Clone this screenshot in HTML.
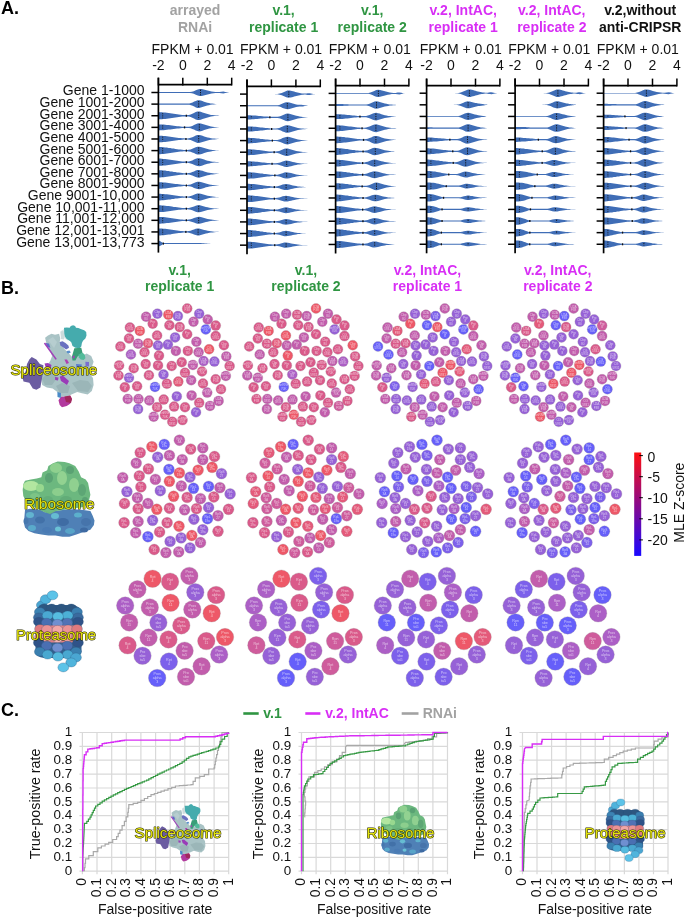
<!DOCTYPE html>
<html><head><meta charset="utf-8"><title>Figure</title><style>
html,body{margin:0;padding:0;background:#fff;}
svg{display:block;will-change:transform;}
text{font-family:"Liberation Sans",sans-serif;}
.lbl{font-size:18px;font-weight:bold;fill:#000;}
.hb{font-size:14px;font-weight:bold;}
.t14{font-size:14px;fill:#111;}
.t13{font-size:13.4px;fill:#111;}
.cg circle{stroke:#9a8a96;stroke-opacity:0.55;stroke-width:0.5;}
.cg text{fill:#fff;fill-opacity:0.62;text-anchor:middle;}
.ptxt{font-size:14.5px;fill:#e4e40c;stroke:#2a2a00;stroke-width:1.1px;paint-order:stroke;stroke-linejoin:round;}
</style></head>
<body><svg width="685" height="918" viewBox="0 0 685 918">
<rect width="685" height="918" fill="#fff"/>
<text x="1" y="13.7" class="lbl">A.</text>
<text x="195.1" y="15" class="hb" fill="#a2a2a2" text-anchor="middle">arrayed</text>
<text x="195.1" y="32" class="hb" fill="#a2a2a2" text-anchor="middle">RNAi</text>
<text x="192.6" y="54.2" class="t14" text-anchor="middle">FPKM + 0.01</text>
<text x="158.4" y="70.3" class="t14" text-anchor="middle">-2</text>
<text x="182.8" y="70.3" class="t14" text-anchor="middle">0</text>
<text x="207.3" y="70.3" class="t14" text-anchor="middle">2</text>
<text x="231.7" y="70.3" class="t14" text-anchor="middle">4</text>
<text x="283.6" y="15" class="hb" fill="#2f9542" text-anchor="middle">v.1,</text>
<text x="283.6" y="32" class="hb" fill="#2f9542" text-anchor="middle">replicate 1</text>
<text x="281.1" y="54.2" class="t14" text-anchor="middle">FPKM + 0.01</text>
<text x="247.0" y="70.3" class="t14" text-anchor="middle">-2</text>
<text x="271.4" y="70.3" class="t14" text-anchor="middle">0</text>
<text x="295.9" y="70.3" class="t14" text-anchor="middle">2</text>
<text x="320.3" y="70.3" class="t14" text-anchor="middle">4</text>
<text x="372.2" y="15" class="hb" fill="#2f9542" text-anchor="middle">v.1,</text>
<text x="372.2" y="32" class="hb" fill="#2f9542" text-anchor="middle">replicate 2</text>
<text x="369.8" y="54.2" class="t14" text-anchor="middle">FPKM + 0.01</text>
<text x="335.6" y="70.3" class="t14" text-anchor="middle">-2</text>
<text x="360.0" y="70.3" class="t14" text-anchor="middle">0</text>
<text x="384.5" y="70.3" class="t14" text-anchor="middle">2</text>
<text x="408.9" y="70.3" class="t14" text-anchor="middle">4</text>
<text x="463.2" y="15" class="hb" fill="#d82ef5" text-anchor="middle">v.2, IntAC,</text>
<text x="463.2" y="32" class="hb" fill="#d82ef5" text-anchor="middle">replicate 1</text>
<text x="460.8" y="54.2" class="t14" text-anchor="middle">FPKM + 0.01</text>
<text x="426.6" y="70.3" class="t14" text-anchor="middle">-2</text>
<text x="451.0" y="70.3" class="t14" text-anchor="middle">0</text>
<text x="475.5" y="70.3" class="t14" text-anchor="middle">2</text>
<text x="499.9" y="70.3" class="t14" text-anchor="middle">4</text>
<text x="551.8" y="15" class="hb" fill="#d82ef5" text-anchor="middle">v.2, IntAC,</text>
<text x="551.8" y="32" class="hb" fill="#d82ef5" text-anchor="middle">replicate 2</text>
<text x="549.2" y="54.2" class="t14" text-anchor="middle">FPKM + 0.01</text>
<text x="515.1" y="70.3" class="t14" text-anchor="middle">-2</text>
<text x="539.5" y="70.3" class="t14" text-anchor="middle">0</text>
<text x="564.0" y="70.3" class="t14" text-anchor="middle">2</text>
<text x="588.4" y="70.3" class="t14" text-anchor="middle">4</text>
<text x="640.2" y="15" class="hb" fill="#111" text-anchor="middle">v.2,without</text>
<text x="640.2" y="32" class="hb" fill="#111" text-anchor="middle">anti-CRIPSR</text>
<text x="637.8" y="54.2" class="t14" text-anchor="middle">FPKM + 0.01</text>
<text x="603.6" y="70.3" class="t14" text-anchor="middle">-2</text>
<text x="628.0" y="70.3" class="t14" text-anchor="middle">0</text>
<text x="652.5" y="70.3" class="t14" text-anchor="middle">2</text>
<text x="676.9" y="70.3" class="t14" text-anchor="middle">4</text>
<path d="M158.4,92.0 160.4,92.0 162.3,92.0 164.3,92.0 166.3,92.0 168.2,92.0 170.2,92.0 172.2,92.0 174.1,92.0 176.1,92.0 178.1,92.0 180.1,92.0 182.0,92.0 184.0,92.0 186.0,92.0 187.9,92.0 189.9,92.0 191.9,91.8 193.8,91.2 195.8,90.3 197.8,89.5 199.7,89.0 201.7,89.0 203.7,89.4 205.6,90.0 207.6,90.5 209.6,91.0 211.5,91.4 213.5,91.8 215.5,92.0 217.4,92.1 219.4,92.1 221.4,91.7 223.4,91.4 225.3,91.9 227.3,92.3 229.3,92.5 229.3,92.5 227.3,92.7 225.3,93.1 223.4,93.6 221.4,93.3 219.4,92.9 217.4,92.9 215.5,93.0 213.5,93.2 211.5,93.6 209.6,94.0 207.6,94.5 205.6,95.0 203.7,95.6 201.7,96.0 199.7,96.0 197.8,95.5 195.8,94.7 193.8,93.8 191.9,93.2 189.9,93.0 187.9,93.0 186.0,93.0 184.0,93.0 182.0,93.0 180.1,93.0 178.1,93.0 176.1,93.0 174.1,93.0 172.2,93.0 170.2,93.0 168.2,93.0 166.3,93.0 164.3,93.0 162.3,93.0 160.4,93.0 158.4,93.0Z" fill="#3f6db6"/>
<line x1="200.5" y1="89.7" x2="200.5" y2="95.3" stroke="#111" stroke-width="0.9" stroke-dasharray="1.3,1"/>
<path d="M158.4,103.5 160.0,103.5 161.7,103.5 163.3,103.5 164.9,103.5 166.5,103.5 168.2,103.5 169.8,103.5 171.4,103.5 173.1,103.5 174.7,103.5 176.3,103.5 177.9,103.5 179.6,103.5 181.2,103.5 182.8,103.5 184.5,103.5 186.1,103.5 187.7,103.5 189.3,103.5 191.0,103.1 192.6,102.4 194.2,101.6 195.9,100.9 197.5,100.3 199.1,100.2 200.8,100.6 202.4,101.1 204.0,101.7 205.6,102.2 207.3,102.7 208.9,103.1 210.5,103.4 212.2,103.6 213.8,103.8 215.4,103.9 217.0,104.1 217.0,104.1 215.4,104.3 213.8,104.4 212.2,104.6 210.5,104.8 208.9,105.2 207.3,105.6 205.6,106.0 204.0,106.6 202.4,107.1 200.8,107.6 199.1,108.0 197.5,107.9 195.9,107.4 194.2,106.6 192.6,105.8 191.0,105.2 189.3,104.7 187.7,104.7 186.1,104.7 184.5,104.7 182.8,104.7 181.2,104.7 179.6,104.7 177.9,104.7 176.3,104.7 174.7,104.7 173.1,104.7 171.4,104.7 169.8,104.7 168.2,104.7 166.5,104.7 164.9,104.7 163.3,104.7 161.7,104.7 160.0,104.7 158.4,104.7Z" fill="#3f6db6"/>
<line x1="198.7" y1="101.0" x2="198.7" y2="107.2" stroke="#111" stroke-width="0.9" stroke-dasharray="1.3,1"/>
<path d="M158.4,112.1 160.1,112.2 161.8,112.2 163.5,112.4 165.2,112.5 166.9,112.8 168.6,113.0 170.3,113.3 172.0,113.5 173.7,113.8 175.4,114.0 177.1,114.3 178.8,114.5 180.5,114.7 182.2,114.9 183.9,115.0 185.5,115.1 187.2,115.1 188.9,114.9 190.6,114.5 192.3,113.8 194.0,113.0 195.7,112.1 197.4,111.5 199.1,111.4 200.8,111.8 202.5,112.4 204.2,113.0 205.9,113.5 207.6,114.1 209.3,114.5 211.0,114.9 212.7,115.1 214.4,115.3 216.1,115.5 217.8,115.6 219.5,115.7 219.5,115.7 217.8,115.9 216.1,116.0 214.4,116.1 212.7,116.3 211.0,116.6 209.3,117.0 207.6,117.4 205.9,117.9 204.2,118.5 202.5,119.1 200.8,119.7 199.1,120.1 197.4,120.0 195.7,119.4 194.0,118.5 192.3,117.7 190.6,117.0 188.9,116.6 187.2,116.4 185.5,116.4 183.9,116.4 182.2,116.6 180.5,116.8 178.8,117.0 177.1,117.2 175.4,117.4 173.7,117.7 172.0,118.0 170.3,118.2 168.6,118.5 166.9,118.7 165.2,118.9 163.5,119.1 161.8,119.2 160.1,119.3 158.4,119.3Z" fill="#3f6db6"/>
<line x1="198.7" y1="112.2" x2="198.7" y2="119.3" stroke="#111" stroke-width="0.9" stroke-dasharray="1.3,1"/>
<line x1="162.7" y1="113.1" x2="162.7" y2="118.4" stroke="#111" stroke-width="0.8" stroke-dasharray="1.2,1"/>
<rect x="185.7" y="114.7" width="1.3" height="2" fill="#111"/>
<path d="M158.4,124.4 160.1,124.4 161.8,124.4 163.5,124.6 165.2,124.7 166.9,124.9 168.6,125.1 170.3,125.3 172.0,125.5 173.7,125.7 175.4,125.9 177.1,126.2 178.8,126.3 180.5,126.5 182.2,126.7 183.9,126.8 185.5,126.8 187.2,126.8 188.9,126.7 190.6,126.4 192.3,125.9 194.0,125.1 195.7,124.3 197.4,123.6 199.1,123.3 200.8,123.5 202.5,124.0 204.2,124.6 205.9,125.1 207.6,125.6 209.3,126.1 211.0,126.4 212.7,126.7 214.4,126.9 216.1,127.1 217.8,127.2 219.5,127.4 219.5,127.4 217.8,127.5 216.1,127.6 214.4,127.8 212.7,128.0 211.0,128.3 209.3,128.6 207.6,129.1 205.9,129.6 204.2,130.1 202.5,130.7 200.8,131.2 199.1,131.4 197.4,131.1 195.7,130.4 194.0,129.6 192.3,128.9 190.6,128.3 188.9,128.0 187.2,127.9 185.5,127.9 183.9,127.9 182.2,128.1 180.5,128.2 178.8,128.4 177.1,128.6 175.4,128.8 173.7,129.0 172.0,129.2 170.3,129.4 168.6,129.6 166.9,129.8 165.2,130.0 163.5,130.2 161.8,130.3 160.1,130.3 158.4,130.4Z" fill="#3f6db6"/>
<line x1="199.3" y1="124.1" x2="199.3" y2="130.6" stroke="#111" stroke-width="0.9" stroke-dasharray="1.3,1"/>
<line x1="162.7" y1="125.3" x2="162.7" y2="129.4" stroke="#111" stroke-width="0.8" stroke-dasharray="1.2,1"/>
<rect x="183.9" y="126.4" width="1.3" height="2" fill="#111"/>
<path d="M158.4,135.7 160.1,135.7 161.8,135.8 163.5,135.9 165.2,136.1 166.9,136.2 168.6,136.5 170.3,136.7 172.0,136.9 173.7,137.2 175.4,137.4 177.1,137.7 178.8,137.9 180.5,138.1 182.2,138.2 183.9,138.3 185.5,138.4 187.2,138.4 188.9,138.2 190.6,137.8 192.3,137.2 194.0,136.4 195.7,135.6 197.4,135.1 199.1,135.0 200.8,135.3 202.5,135.8 204.2,136.4 205.9,136.9 207.6,137.4 209.3,137.8 211.0,138.2 212.7,138.4 214.4,138.6 216.1,138.7 217.8,138.8 219.5,139.0 219.5,139.0 217.8,139.1 216.1,139.2 214.4,139.4 212.7,139.5 211.0,139.8 209.3,140.1 207.6,140.5 205.9,141.0 204.2,141.6 202.5,142.1 200.8,142.6 199.1,143.0 197.4,142.9 195.7,142.3 194.0,141.6 192.3,140.8 190.6,140.1 188.9,139.7 187.2,139.6 185.5,139.5 183.9,139.6 182.2,139.7 180.5,139.9 178.8,140.1 177.1,140.3 175.4,140.5 173.7,140.8 172.0,141.0 170.3,141.3 168.6,141.5 166.9,141.7 165.2,141.9 163.5,142.1 161.8,142.2 160.1,142.3 158.4,142.3Z" fill="#3f6db6"/>
<line x1="198.7" y1="135.7" x2="198.7" y2="142.2" stroke="#111" stroke-width="0.9" stroke-dasharray="1.3,1"/>
<line x1="162.7" y1="136.6" x2="162.7" y2="141.3" stroke="#111" stroke-width="0.8" stroke-dasharray="1.2,1"/>
<rect x="185.3" y="138.0" width="1.3" height="2" fill="#111"/>
<path d="M158.4,147.0 160.1,147.0 161.8,147.1 163.5,147.2 165.2,147.4 166.9,147.6 168.6,147.9 170.3,148.1 172.0,148.4 173.7,148.6 175.4,148.9 177.1,149.2 178.8,149.4 180.5,149.6 182.2,149.8 183.9,149.9 185.5,150.0 187.2,150.0 188.9,149.8 190.6,149.4 192.3,148.8 194.0,148.1 195.7,147.3 197.4,146.8 199.1,146.7 200.8,147.0 202.5,147.5 204.2,148.1 205.9,148.6 207.6,149.1 209.3,149.5 211.0,149.8 212.7,150.1 214.4,150.2 216.1,150.4 217.8,150.4 219.5,150.6 219.5,150.6 217.8,150.8 216.1,150.8 214.4,151.0 212.7,151.1 211.0,151.4 209.3,151.7 207.6,152.1 205.9,152.6 204.2,153.1 202.5,153.7 200.8,154.2 199.1,154.5 197.4,154.4 195.7,153.9 194.0,153.1 192.3,152.4 190.6,151.8 188.9,151.4 187.2,151.2 185.5,151.2 183.9,151.3 182.2,151.4 180.5,151.6 178.8,151.8 177.1,152.0 175.4,152.3 173.7,152.6 172.0,152.8 170.3,153.1 168.6,153.3 166.9,153.6 165.2,153.8 163.5,154.0 161.8,154.1 160.1,154.2 158.4,154.2Z" fill="#3f6db6"/>
<line x1="198.7" y1="147.4" x2="198.7" y2="153.8" stroke="#111" stroke-width="0.9" stroke-dasharray="1.3,1"/>
<line x1="162.7" y1="148.0" x2="162.7" y2="153.2" stroke="#111" stroke-width="0.8" stroke-dasharray="1.2,1"/>
<rect x="185.7" y="149.6" width="1.3" height="2" fill="#111"/>
<path d="M158.4,158.6 160.1,158.6 161.8,158.7 163.5,158.9 165.2,159.0 166.9,159.2 168.6,159.5 170.3,159.7 172.0,160.0 173.7,160.3 175.4,160.5 177.1,160.8 178.8,161.0 180.5,161.2 182.2,161.4 183.9,161.5 185.5,161.6 187.2,161.6 188.9,161.4 190.6,161.0 192.3,160.4 194.0,159.6 195.7,158.8 197.4,158.3 199.1,158.2 200.8,158.6 202.5,159.1 204.2,159.6 205.9,160.2 207.6,160.7 209.3,161.1 211.0,161.4 212.7,161.7 214.4,161.8 216.1,162.0 217.8,162.1 219.5,162.2 219.5,162.2 217.8,162.4 216.1,162.5 214.4,162.6 212.7,162.8 211.0,163.0 209.3,163.4 207.6,163.8 205.9,164.3 204.2,164.8 202.5,165.4 200.8,165.9 199.1,166.2 197.4,166.1 195.7,165.6 194.0,164.8 192.3,164.0 190.6,163.4 188.9,163.0 187.2,162.8 185.5,162.8 183.9,162.9 182.2,163.1 180.5,163.2 178.8,163.4 177.1,163.7 175.4,163.9 173.7,164.2 172.0,164.4 170.3,164.7 168.6,165.0 166.9,165.2 165.2,165.4 163.5,165.6 161.8,165.7 160.1,165.8 158.4,165.8Z" fill="#3f6db6"/>
<line x1="198.7" y1="159.0" x2="198.7" y2="165.5" stroke="#111" stroke-width="0.9" stroke-dasharray="1.3,1"/>
<line x1="162.7" y1="159.6" x2="162.7" y2="164.9" stroke="#111" stroke-width="0.8" stroke-dasharray="1.2,1"/>
<rect x="185.7" y="161.2" width="1.3" height="2" fill="#111"/>
<path d="M158.4,170.2 160.1,170.3 161.8,170.3 163.5,170.5 165.2,170.6 166.9,170.9 168.6,171.1 170.3,171.4 172.0,171.6 173.7,171.9 175.4,172.1 177.1,172.4 178.8,172.6 180.5,172.8 182.2,173.0 183.9,173.2 185.5,173.2 187.2,173.2 188.9,173.1 190.6,172.7 192.3,172.1 194.0,171.4 195.7,170.6 197.4,170.1 199.1,170.0 200.8,170.4 202.5,170.8 204.2,171.4 205.9,171.9 207.6,172.4 209.3,172.8 211.0,173.1 212.7,173.3 214.4,173.5 216.1,173.6 217.8,173.7 219.5,173.8 219.5,173.8 217.8,174.0 216.1,174.1 214.4,174.2 212.7,174.4 211.0,174.6 209.3,174.9 207.6,175.3 205.9,175.8 204.2,176.3 202.5,176.8 200.8,177.3 199.1,177.7 197.4,177.6 195.7,177.1 194.0,176.3 192.3,175.6 190.6,175.0 188.9,174.6 187.2,174.5 185.5,174.4 183.9,174.5 182.2,174.7 180.5,174.8 178.8,175.1 177.1,175.3 175.4,175.5 173.7,175.8 172.0,176.1 170.3,176.3 168.6,176.6 166.9,176.8 165.2,177.0 163.5,177.2 161.8,177.3 160.1,177.4 158.4,177.4Z" fill="#3f6db6"/>
<line x1="198.7" y1="170.8" x2="198.7" y2="176.9" stroke="#111" stroke-width="0.9" stroke-dasharray="1.3,1"/>
<line x1="162.7" y1="171.2" x2="162.7" y2="176.5" stroke="#111" stroke-width="0.8" stroke-dasharray="1.2,1"/>
<rect x="185.7" y="172.8" width="1.3" height="2" fill="#111"/>
<path d="M158.4,182.2 160.1,182.2 161.8,182.3 163.5,182.4 165.2,182.5 166.9,182.7 168.6,182.9 170.3,183.2 172.0,183.4 173.7,183.7 175.4,183.9 177.1,184.1 178.8,184.3 180.5,184.5 182.2,184.7 183.9,184.8 185.5,184.9 187.2,184.9 188.9,184.7 190.6,184.4 192.3,183.8 194.0,183.1 195.7,182.3 197.4,181.8 199.1,181.7 200.8,182.1 202.5,182.5 204.2,183.1 205.9,183.6 207.6,184.0 209.3,184.4 211.0,184.7 212.7,184.9 214.4,185.1 216.1,185.2 217.8,185.3 219.5,185.5 219.5,185.5 217.8,185.6 216.1,185.7 214.4,185.8 212.7,186.0 211.0,186.2 209.3,186.5 207.6,186.9 205.9,187.3 204.2,187.9 202.5,188.4 200.8,188.9 199.1,189.2 197.4,189.1 195.7,188.6 194.0,187.9 192.3,187.1 190.6,186.5 188.9,186.2 187.2,186.0 185.5,186.0 183.9,186.1 182.2,186.2 180.5,186.4 178.8,186.6 177.1,186.8 175.4,187.0 173.7,187.3 172.0,187.5 170.3,187.7 168.6,188.0 166.9,188.2 165.2,188.4 163.5,188.5 161.8,188.7 160.1,188.7 158.4,188.8Z" fill="#3f6db6"/>
<line x1="198.7" y1="182.5" x2="198.7" y2="188.4" stroke="#111" stroke-width="0.9" stroke-dasharray="1.3,1"/>
<line x1="162.7" y1="183.1" x2="162.7" y2="187.8" stroke="#111" stroke-width="0.8" stroke-dasharray="1.2,1"/>
<rect x="185.7" y="184.5" width="1.3" height="2" fill="#111"/>
<path d="M158.4,193.8 160.1,193.8 161.8,193.9 163.5,194.0 165.2,194.2 166.9,194.3 168.6,194.6 170.3,194.8 172.0,195.0 173.7,195.3 175.4,195.5 177.1,195.8 178.8,196.0 180.5,196.2 182.2,196.3 183.9,196.4 185.5,196.5 187.2,196.5 188.9,196.4 190.6,196.0 192.3,195.5 194.0,194.7 195.7,194.0 197.4,193.5 199.1,193.5 200.8,193.8 202.5,194.2 204.2,194.8 205.9,195.2 207.6,195.7 209.3,196.1 211.0,196.3 212.7,196.6 214.4,196.7 216.1,196.9 217.8,196.9 219.5,197.1 219.5,197.1 217.8,197.2 216.1,197.3 214.4,197.4 212.7,197.6 211.0,197.8 209.3,198.1 207.6,198.5 205.9,198.9 204.2,199.4 202.5,199.9 200.8,200.4 199.1,200.7 197.4,200.6 195.7,200.1 194.0,199.4 192.3,198.7 190.6,198.1 188.9,197.8 187.2,197.6 185.5,197.6 183.9,197.7 182.2,197.8 180.5,198.0 178.8,198.2 177.1,198.4 175.4,198.6 173.7,198.9 172.0,199.1 170.3,199.4 168.6,199.6 166.9,199.8 165.2,200.0 163.5,200.2 161.8,200.3 160.1,200.4 158.4,200.4Z" fill="#3f6db6"/>
<line x1="198.7" y1="194.2" x2="198.7" y2="199.9" stroke="#111" stroke-width="0.9" stroke-dasharray="1.3,1"/>
<line x1="162.7" y1="194.7" x2="162.7" y2="199.4" stroke="#111" stroke-width="0.8" stroke-dasharray="1.2,1"/>
<rect x="185.7" y="196.1" width="1.3" height="2" fill="#111"/>
<path d="M158.4,205.3 160.1,205.3 161.8,205.4 163.5,205.5 165.2,205.7 166.9,205.9 168.6,206.1 170.3,206.3 172.0,206.6 173.7,206.9 175.4,207.1 177.1,207.3 178.8,207.6 180.5,207.7 182.2,207.9 183.9,208.0 185.5,208.1 187.2,208.1 188.9,208.0 190.6,207.6 192.3,207.1 194.0,206.4 195.7,205.7 197.4,205.2 199.1,205.1 200.8,205.4 202.5,205.9 204.2,206.4 205.9,206.9 207.6,207.3 209.3,207.7 211.0,208.0 212.7,208.2 214.4,208.4 216.1,208.5 217.8,208.6 219.5,208.7 219.5,208.7 217.8,208.8 216.1,208.9 214.4,209.0 212.7,209.2 211.0,209.4 209.3,209.7 207.6,210.1 205.9,210.5 204.2,211.0 202.5,211.5 200.8,212.0 199.1,212.3 197.4,212.2 195.7,211.7 194.0,211.0 192.3,210.3 190.6,209.8 188.9,209.4 187.2,209.3 185.5,209.3 183.9,209.4 182.2,209.5 180.5,209.7 178.8,209.8 177.1,210.1 175.4,210.3 173.7,210.5 172.0,210.8 170.3,211.1 168.6,211.3 166.9,211.5 165.2,211.7 163.5,211.9 161.8,212.0 160.1,212.1 158.4,212.1Z" fill="#3f6db6"/>
<line x1="198.7" y1="205.9" x2="198.7" y2="211.5" stroke="#111" stroke-width="0.9" stroke-dasharray="1.3,1"/>
<line x1="162.7" y1="206.3" x2="162.7" y2="211.1" stroke="#111" stroke-width="0.8" stroke-dasharray="1.2,1"/>
<rect x="185.7" y="207.7" width="1.3" height="2" fill="#111"/>
<path d="M158.4,216.9 160.1,216.9 161.8,217.0 163.5,217.1 165.2,217.3 166.9,217.5 168.6,217.7 170.3,218.0 172.0,218.2 173.7,218.5 175.4,218.7 177.1,219.0 178.8,219.2 180.5,219.4 182.2,219.5 183.9,219.7 185.5,219.8 187.2,219.7 188.9,219.6 190.6,219.3 192.3,218.7 194.0,218.0 195.7,217.4 197.4,216.9 199.1,216.8 200.8,217.1 202.5,217.6 204.2,218.1 205.9,218.5 207.6,219.0 209.3,219.3 211.0,219.6 212.7,219.8 214.4,220.0 216.1,220.1 217.8,220.2 219.5,220.3 219.5,220.3 217.8,220.5 216.1,220.5 214.4,220.7 212.7,220.8 211.0,221.0 209.3,221.3 207.6,221.7 205.9,222.1 204.2,222.6 202.5,223.1 200.8,223.5 199.1,223.8 197.4,223.8 195.7,223.3 194.0,222.6 192.3,221.9 190.6,221.4 188.9,221.0 187.2,220.9 185.5,220.9 183.9,221.0 182.2,221.1 180.5,221.3 178.8,221.5 177.1,221.7 175.4,221.9 173.7,222.2 172.0,222.4 170.3,222.7 168.6,222.9 166.9,223.1 165.2,223.3 163.5,223.5 161.8,223.6 160.1,223.7 158.4,223.7Z" fill="#3f6db6"/>
<line x1="198.7" y1="217.6" x2="198.7" y2="223.1" stroke="#111" stroke-width="0.9" stroke-dasharray="1.3,1"/>
<line x1="162.7" y1="217.9" x2="162.7" y2="222.8" stroke="#111" stroke-width="0.8" stroke-dasharray="1.2,1"/>
<rect x="185.7" y="219.3" width="1.3" height="2" fill="#111"/>
<path d="M158.4,228.4 160.1,228.5 161.8,228.5 163.5,228.7 165.2,228.8 166.9,229.0 168.6,229.3 170.3,229.5 172.0,229.8 173.7,230.0 175.4,230.3 177.1,230.5 178.8,230.8 180.5,231.0 182.2,231.1 183.9,231.3 185.5,231.3 187.2,231.3 188.9,231.1 190.6,230.7 192.3,230.1 194.0,229.4 195.7,228.8 197.4,228.4 199.1,228.5 200.8,228.9 202.5,229.4 204.2,229.9 205.9,230.3 207.6,230.7 209.3,231.1 211.0,231.3 212.7,231.5 214.4,231.7 216.1,231.8 217.8,231.8 219.5,231.9 219.5,231.9 217.8,232.1 216.1,232.1 214.4,232.2 212.7,232.4 211.0,232.6 209.3,232.8 207.6,233.2 205.9,233.6 204.2,234.0 202.5,234.5 200.8,235.0 199.1,235.4 197.4,235.5 195.7,235.1 194.0,234.5 192.3,233.8 190.6,233.2 188.9,232.8 187.2,232.6 185.5,232.6 183.9,232.6 182.2,232.8 180.5,232.9 178.8,233.1 177.1,233.3 175.4,233.6 173.7,233.8 172.0,234.1 170.3,234.4 168.6,234.6 166.9,234.8 165.2,235.0 163.5,235.2 161.8,235.3 160.1,235.4 158.4,235.4Z" fill="#3f6db6"/>
<line x1="198.1" y1="229.2" x2="198.1" y2="234.7" stroke="#111" stroke-width="0.9" stroke-dasharray="1.3,1"/>
<line x1="162.7" y1="229.4" x2="162.7" y2="234.5" stroke="#111" stroke-width="0.8" stroke-dasharray="1.2,1"/>
<rect x="185.2" y="230.9" width="1.3" height="2" fill="#111"/>
<path d="M158.4,240.6 159.9,241.0 161.3,242.0 162.8,242.8 164.2,243.1 165.7,243.1 167.2,243.1 168.6,243.1 170.1,243.1 171.5,243.1 173.0,243.1 174.5,243.1 175.9,243.1 177.4,243.1 178.8,243.1 180.3,243.1 181.7,243.1 183.2,243.1 184.7,243.1 186.1,243.1 187.6,243.1 189.0,243.1 190.5,243.1 192.0,243.1 193.4,243.1 194.9,243.1 196.3,243.1 197.8,243.1 199.3,243.1 200.7,243.1 202.2,243.2 203.6,243.2 205.1,243.3 206.6,243.3 208.0,243.4 209.5,243.4 210.9,243.6 210.9,243.6 209.5,243.7 208.0,243.7 206.6,243.8 205.1,243.8 203.6,243.9 202.2,244.0 200.7,244.0 199.3,244.1 197.8,244.1 196.3,244.1 194.9,244.1 193.4,244.1 192.0,244.1 190.5,244.1 189.0,244.1 187.6,244.1 186.1,244.1 184.7,244.1 183.2,244.1 181.7,244.1 180.3,244.1 178.8,244.1 177.4,244.1 175.9,244.1 174.5,244.1 173.0,244.1 171.5,244.1 170.1,244.1 168.6,244.1 167.2,244.1 165.7,244.1 164.2,244.1 162.8,244.3 161.3,245.2 159.9,246.1 158.4,246.6Z" fill="#3f6db6"/>
<line x1="162.7" y1="243.6" x2="162.7" y2="243.5" stroke="#111" stroke-width="0.8" stroke-dasharray="1.2,1"/>
<rect x="162.7" y="242.6" width="1.3" height="2" fill="#111"/>
<path d="M275.1,94.0 276.2,94.0 277.3,93.9 278.5,93.8 279.6,93.5 280.7,93.3 281.8,92.9 282.9,92.4 284.1,91.9 285.2,91.4 286.3,91.0 287.4,90.6 288.5,90.5 289.7,90.6 290.8,90.8 291.9,91.0 293.0,91.3 294.1,91.6 295.3,92.0 296.4,92.3 297.5,92.5 298.6,92.8 299.7,93.0 300.9,93.2 302.0,93.4 303.1,93.5 304.2,93.6 305.3,93.6 306.5,93.5 307.6,93.3 308.7,93.2 309.8,93.2 310.9,93.4 312.1,93.7 313.2,93.9 314.3,94.0 315.4,94.1 315.4,94.1 314.3,94.2 313.2,94.3 312.1,94.5 310.9,94.8 309.8,95.0 308.7,95.0 307.6,94.9 306.5,94.7 305.3,94.6 304.2,94.6 303.1,94.7 302.0,94.8 300.9,95.0 299.7,95.2 298.6,95.4 297.5,95.7 296.4,95.9 295.3,96.2 294.1,96.6 293.0,96.9 291.9,97.2 290.8,97.4 289.7,97.6 288.5,97.7 287.4,97.6 286.3,97.2 285.2,96.8 284.1,96.3 282.9,95.8 281.8,95.3 280.7,94.9 279.6,94.7 278.5,94.4 277.3,94.3 276.2,94.2 275.1,94.2Z" fill="#3f6db6"/>
<line x1="288.8" y1="91.3" x2="288.8" y2="96.9" stroke="#111" stroke-width="0.9" stroke-dasharray="1.3,1"/>
<path d="M247.0,105.3 248.7,105.3 250.4,105.3 252.1,105.3 253.8,105.3 255.5,105.3 257.2,105.3 258.9,105.3 260.6,105.3 262.3,105.3 264.0,105.3 265.7,105.3 267.4,105.3 269.1,105.3 270.8,105.3 272.5,105.3 274.1,105.3 275.8,105.3 277.5,105.3 279.2,104.9 280.9,104.3 282.6,103.6 284.3,102.8 286.0,102.3 287.7,102.2 289.4,102.5 291.1,103.0 292.8,103.5 294.5,103.9 296.2,104.4 297.9,104.7 299.6,104.8 301.3,104.8 303.0,105.0 304.7,105.3 306.4,105.5 308.1,105.7 308.1,105.7 306.4,105.9 304.7,106.1 303.0,106.4 301.3,106.6 299.6,106.6 297.9,106.8 296.2,107.1 294.5,107.5 292.8,108.0 291.1,108.5 289.4,108.9 287.7,109.2 286.0,109.1 284.3,108.6 282.6,107.9 280.9,107.1 279.2,106.5 277.5,106.2 275.8,106.2 274.1,106.2 272.5,106.2 270.8,106.2 269.1,106.2 267.4,106.2 265.7,106.2 264.0,106.2 262.3,106.2 260.6,106.2 258.9,106.2 257.2,106.2 255.5,106.2 253.8,106.2 252.1,106.2 250.4,106.2 248.7,106.2 247.0,106.2Z" fill="#3f6db6"/>
<line x1="287.3" y1="103.0" x2="287.3" y2="108.4" stroke="#111" stroke-width="0.9" stroke-dasharray="1.3,1"/>
<path d="M247.0,115.2 248.7,115.3 250.4,115.3 252.1,115.4 253.8,115.5 255.5,115.6 257.2,115.7 258.9,115.9 260.6,116.0 262.3,116.2 264.0,116.4 265.7,116.5 267.4,116.6 269.1,116.8 270.8,116.8 272.5,116.8 274.1,116.8 275.8,116.8 277.5,116.8 279.2,116.5 280.9,115.9 282.6,115.2 284.3,114.4 286.0,113.8 287.7,113.5 289.4,113.7 291.1,114.2 292.8,114.7 294.5,115.2 296.2,115.7 297.9,116.1 299.6,116.5 301.3,116.7 303.0,116.9 304.7,117.1 306.4,117.2 308.1,117.3 308.1,117.3 306.4,117.5 304.7,117.6 303.0,117.8 301.3,118.0 299.6,118.2 297.9,118.6 296.2,119.0 294.5,119.5 292.8,120.0 291.1,120.5 289.4,121.0 287.7,121.2 286.0,120.9 284.3,120.2 282.6,119.5 280.9,118.7 279.2,118.2 277.5,117.9 275.8,117.9 274.1,117.9 272.5,117.9 270.8,117.9 269.1,117.9 267.4,118.0 265.7,118.2 264.0,118.3 262.3,118.5 260.6,118.6 258.9,118.8 257.2,118.9 255.5,119.1 253.8,119.2 252.1,119.3 250.4,119.4 248.7,119.4 247.0,119.4Z" fill="#3f6db6"/>
<line x1="287.9" y1="114.3" x2="287.9" y2="120.4" stroke="#111" stroke-width="0.9" stroke-dasharray="1.3,1"/>
<line x1="251.3" y1="116.1" x2="251.3" y2="118.5" stroke="#111" stroke-width="0.8" stroke-dasharray="1.2,1"/>
<rect x="269.2" y="116.3" width="1.3" height="2" fill="#111"/>
<path d="M247.0,126.4 248.7,126.4 250.4,126.4 252.1,126.5 253.8,126.7 255.5,126.8 257.2,127.0 258.9,127.2 260.6,127.4 262.3,127.5 264.0,127.7 265.7,127.9 267.4,128.1 269.1,128.2 270.8,128.4 272.5,128.4 274.1,128.4 275.8,128.4 277.5,128.3 279.2,127.9 280.9,127.3 282.6,126.5 284.3,125.8 286.0,125.2 287.7,125.2 289.4,125.5 291.1,126.0 292.8,126.5 294.5,127.0 296.2,127.5 297.9,127.9 299.6,128.2 301.3,128.4 303.0,128.6 304.7,128.7 306.4,128.8 308.1,129.0 308.1,129.0 306.4,129.1 304.7,129.2 303.0,129.3 301.3,129.5 299.6,129.7 297.9,130.0 296.2,130.4 294.5,130.9 292.8,131.4 291.1,132.0 289.4,132.4 287.7,132.8 286.0,132.7 284.3,132.1 282.6,131.4 280.9,130.6 279.2,130.0 277.5,129.6 275.8,129.5 274.1,129.5 272.5,129.5 270.8,129.6 269.1,129.7 267.4,129.8 265.7,130.0 264.0,130.2 262.3,130.4 260.6,130.6 258.9,130.8 257.2,130.9 255.5,131.1 253.8,131.3 252.1,131.4 250.4,131.5 248.7,131.5 247.0,131.6Z" fill="#3f6db6"/>
<line x1="287.3" y1="125.9" x2="287.3" y2="132.0" stroke="#111" stroke-width="0.9" stroke-dasharray="1.3,1"/>
<line x1="251.3" y1="127.3" x2="251.3" y2="130.6" stroke="#111" stroke-width="0.8" stroke-dasharray="1.2,1"/>
<rect x="271.0" y="128.0" width="1.3" height="2" fill="#111"/>
<path d="M247.0,137.8 248.7,137.8 250.4,137.9 252.1,138.0 253.8,138.1 255.5,138.3 257.2,138.4 258.9,138.6 260.6,138.9 262.3,139.1 264.0,139.3 265.7,139.5 267.4,139.6 269.1,139.8 270.8,139.9 272.5,140.0 274.1,140.0 275.8,140.0 277.5,139.9 279.2,139.5 280.9,138.9 282.6,138.1 284.3,137.4 286.0,136.9 287.7,136.8 289.4,137.1 291.1,137.6 292.8,138.1 294.5,138.6 296.2,139.1 297.9,139.5 299.6,139.8 301.3,140.0 303.0,140.2 304.7,140.3 306.4,140.4 308.1,140.6 308.1,140.6 306.4,140.7 304.7,140.8 303.0,140.9 301.3,141.1 299.6,141.4 297.9,141.7 296.2,142.1 294.5,142.5 292.8,143.0 291.1,143.6 289.4,144.1 287.7,144.4 286.0,144.3 284.3,143.8 282.6,143.0 280.9,142.3 279.2,141.7 277.5,141.3 275.8,141.1 274.1,141.1 272.5,141.1 270.8,141.2 269.1,141.4 267.4,141.5 265.7,141.7 264.0,141.9 262.3,142.1 260.6,142.3 258.9,142.5 257.2,142.7 255.5,142.9 253.8,143.1 252.1,143.2 250.4,143.3 248.7,143.4 247.0,143.4Z" fill="#3f6db6"/>
<line x1="287.3" y1="137.5" x2="287.3" y2="143.6" stroke="#111" stroke-width="0.9" stroke-dasharray="1.3,1"/>
<line x1="251.3" y1="138.7" x2="251.3" y2="142.4" stroke="#111" stroke-width="0.8" stroke-dasharray="1.2,1"/>
<rect x="271.7" y="139.6" width="1.3" height="2" fill="#111"/>
<path d="M247.0,149.2 248.7,149.2 250.4,149.3 252.1,149.4 253.8,149.5 255.5,149.7 257.2,149.9 258.9,150.1 260.6,150.3 262.3,150.6 264.0,150.8 265.7,151.0 267.4,151.2 269.1,151.4 270.8,151.5 272.5,151.6 274.1,151.6 275.8,151.6 277.5,151.3 279.2,150.9 280.9,150.2 282.6,149.5 284.3,148.8 286.0,148.4 287.7,148.5 289.4,148.9 291.1,149.4 292.8,149.9 294.5,150.4 296.2,150.9 297.9,151.2 299.6,151.5 301.3,151.7 303.0,151.9 304.7,152.0 306.4,152.1 308.1,152.2 308.1,152.2 306.4,152.3 304.7,152.4 303.0,152.5 301.3,152.7 299.6,152.9 297.9,153.2 296.2,153.5 294.5,154.0 292.8,154.5 291.1,155.0 289.4,155.5 287.7,155.9 286.0,156.0 284.3,155.6 282.6,154.9 280.9,154.2 279.2,153.5 277.5,153.1 275.8,152.8 274.1,152.8 272.5,152.8 270.8,152.9 269.1,153.0 267.4,153.2 265.7,153.4 264.0,153.6 262.3,153.8 260.6,154.1 258.9,154.3 257.2,154.5 255.5,154.7 253.8,154.9 252.1,155.0 250.4,155.1 248.7,155.2 247.0,155.2Z" fill="#3f6db6"/>
<line x1="286.7" y1="149.2" x2="286.7" y2="155.2" stroke="#111" stroke-width="0.9" stroke-dasharray="1.3,1"/>
<line x1="251.3" y1="150.1" x2="251.3" y2="154.3" stroke="#111" stroke-width="0.8" stroke-dasharray="1.2,1"/>
<rect x="273.5" y="151.2" width="1.3" height="2" fill="#111"/>
<path d="M247.0,161.2 248.7,161.2 250.4,161.3 252.1,161.4 253.8,161.5 255.5,161.7 257.2,161.8 258.9,162.0 260.6,162.2 262.3,162.4 264.0,162.6 265.7,162.8 267.4,162.9 269.1,163.1 270.8,163.2 272.5,163.3 274.1,163.3 275.8,163.3 277.5,163.1 279.2,162.7 280.9,162.2 282.6,161.5 284.3,160.9 286.0,160.6 287.7,160.7 289.4,161.0 291.1,161.5 292.8,161.9 294.5,162.3 296.2,162.7 297.9,163.0 299.6,163.2 301.3,163.4 303.0,163.6 304.7,163.7 306.4,163.7 308.1,163.8 308.1,163.8 306.4,163.9 304.7,164.0 303.0,164.1 301.3,164.2 299.6,164.4 297.9,164.6 296.2,164.9 294.5,165.3 292.8,165.7 291.1,166.2 289.4,166.6 287.7,167.0 286.0,167.0 284.3,166.7 282.6,166.1 280.9,165.5 279.2,164.9 277.5,164.5 275.8,164.4 274.1,164.4 272.5,164.4 270.8,164.4 269.1,164.6 267.4,164.7 265.7,164.9 264.0,165.0 262.3,165.2 260.6,165.4 258.9,165.6 257.2,165.8 255.5,166.0 253.8,166.1 252.1,166.2 250.4,166.3 248.7,166.4 247.0,166.4Z" fill="#3f6db6"/>
<line x1="286.7" y1="161.4" x2="286.7" y2="166.3" stroke="#111" stroke-width="0.9" stroke-dasharray="1.3,1"/>
<line x1="251.3" y1="162.1" x2="251.3" y2="165.5" stroke="#111" stroke-width="0.8" stroke-dasharray="1.2,1"/>
<rect x="271.4" y="162.8" width="1.3" height="2" fill="#111"/>
<path d="M247.0,172.1 248.7,172.2 250.4,172.2 252.1,172.4 253.8,172.5 255.5,172.7 257.2,172.9 258.9,173.2 260.6,173.4 262.3,173.6 264.0,173.9 265.7,174.1 267.4,174.3 269.1,174.5 270.8,174.7 272.5,174.8 274.1,174.9 275.8,174.8 277.5,174.7 279.2,174.3 280.9,173.8 282.6,173.2 284.3,172.6 286.0,172.3 287.7,172.4 289.4,172.7 291.1,173.1 292.8,173.6 294.5,174.0 296.2,174.4 297.9,174.7 299.6,174.9 301.3,175.1 303.0,175.2 304.7,175.3 306.4,175.3 308.1,175.4 308.1,175.4 306.4,175.5 304.7,175.6 303.0,175.7 301.3,175.8 299.6,176.0 297.9,176.2 296.2,176.5 294.5,176.9 292.8,177.3 291.1,177.7 289.4,178.2 287.7,178.5 286.0,178.6 284.3,178.3 282.6,177.7 280.9,177.1 279.2,176.6 277.5,176.2 275.8,176.0 274.1,176.0 272.5,176.1 270.8,176.2 269.1,176.4 267.4,176.6 265.7,176.8 264.0,177.0 262.3,177.2 260.6,177.5 258.9,177.7 257.2,178.0 255.5,178.2 253.8,178.4 252.1,178.5 250.4,178.6 248.7,178.7 247.0,178.7Z" fill="#3f6db6"/>
<line x1="286.7" y1="173.1" x2="286.7" y2="177.8" stroke="#111" stroke-width="0.9" stroke-dasharray="1.3,1"/>
<line x1="251.3" y1="173.1" x2="251.3" y2="177.8" stroke="#111" stroke-width="0.8" stroke-dasharray="1.2,1"/>
<rect x="274.2" y="174.4" width="1.3" height="2" fill="#111"/>
<path d="M247.0,183.8 248.7,183.8 250.4,183.9 252.1,184.0 253.8,184.1 255.5,184.3 257.2,184.5 258.9,184.8 260.6,185.0 262.3,185.3 264.0,185.5 265.7,185.7 267.4,185.9 269.1,186.1 270.8,186.3 272.5,186.4 274.1,186.5 275.8,186.4 277.5,186.2 279.2,185.8 280.9,185.2 282.6,184.6 284.3,184.2 286.0,184.0 287.7,184.2 289.4,184.6 291.1,185.0 292.8,185.4 294.5,185.8 296.2,186.1 297.9,186.4 299.6,186.6 301.3,186.7 303.0,186.8 304.7,186.9 306.4,187.0 308.1,187.1 308.1,187.1 306.4,187.1 304.7,187.2 303.0,187.3 301.3,187.4 299.6,187.5 297.9,187.7 296.2,188.0 294.5,188.3 292.8,188.7 291.1,189.1 289.4,189.6 287.7,189.9 286.0,190.1 284.3,189.9 282.6,189.5 280.9,188.9 279.2,188.3 277.5,187.9 275.8,187.7 274.1,187.7 272.5,187.7 270.8,187.8 269.1,188.0 267.4,188.2 265.7,188.4 264.0,188.6 262.3,188.9 260.6,189.1 258.9,189.3 257.2,189.6 255.5,189.8 253.8,190.0 252.1,190.1 250.4,190.3 248.7,190.3 247.0,190.4Z" fill="#3f6db6"/>
<line x1="286.1" y1="184.8" x2="286.1" y2="189.3" stroke="#111" stroke-width="0.9" stroke-dasharray="1.3,1"/>
<line x1="251.3" y1="184.7" x2="251.3" y2="189.4" stroke="#111" stroke-width="0.8" stroke-dasharray="1.2,1"/>
<rect x="273.7" y="186.1" width="1.3" height="2" fill="#111"/>
<path d="M247.0,195.3 248.7,195.3 250.4,195.4 252.1,195.5 253.8,195.7 255.5,195.9 257.2,196.1 258.9,196.3 260.6,196.6 262.3,196.8 264.0,197.1 265.7,197.3 267.4,197.5 269.1,197.7 270.8,197.9 272.5,198.0 274.1,198.1 275.8,198.0 277.5,197.8 279.2,197.4 280.9,196.9 282.6,196.3 284.3,195.9 286.0,195.7 287.7,195.9 289.4,196.3 291.1,196.7 292.8,197.1 294.5,197.5 296.2,197.8 297.9,198.0 299.6,198.2 301.3,198.4 303.0,198.5 304.7,198.5 306.4,198.6 308.1,198.7 308.1,198.7 306.4,198.8 304.7,198.8 303.0,198.9 301.3,199.0 299.6,199.1 297.9,199.3 296.2,199.6 294.5,199.9 292.8,200.3 291.1,200.7 289.4,201.1 287.7,201.4 286.0,201.6 284.3,201.5 282.6,201.0 280.9,200.5 279.2,199.9 277.5,199.5 275.8,199.3 274.1,199.3 272.5,199.4 270.8,199.5 269.1,199.6 267.4,199.8 265.7,200.0 264.0,200.3 262.3,200.5 260.6,200.8 258.9,201.0 257.2,201.3 255.5,201.5 253.8,201.7 252.1,201.9 250.4,202.0 248.7,202.1 247.0,202.1Z" fill="#3f6db6"/>
<line x1="286.1" y1="196.5" x2="286.1" y2="200.8" stroke="#111" stroke-width="0.9" stroke-dasharray="1.3,1"/>
<line x1="251.3" y1="196.2" x2="251.3" y2="201.1" stroke="#111" stroke-width="0.8" stroke-dasharray="1.2,1"/>
<rect x="273.7" y="197.7" width="1.3" height="2" fill="#111"/>
<path d="M247.0,206.9 248.7,206.9 250.4,207.0 252.1,207.1 253.8,207.3 255.5,207.5 257.2,207.7 258.9,207.9 260.6,208.2 262.3,208.5 264.0,208.7 265.7,208.9 267.4,209.1 269.1,209.3 270.8,209.5 272.5,209.6 274.1,209.7 275.8,209.6 277.5,209.4 279.2,209.1 280.9,208.5 282.6,208.0 284.3,207.5 286.0,207.3 287.7,207.5 289.4,207.9 291.1,208.3 292.8,208.7 294.5,209.1 296.2,209.4 297.9,209.6 299.6,209.8 301.3,210.0 303.0,210.1 304.7,210.2 306.4,210.2 308.1,210.3 308.1,210.3 306.4,210.4 304.7,210.4 303.0,210.5 301.3,210.6 299.6,210.8 297.9,211.0 296.2,211.2 294.5,211.5 292.8,211.9 291.1,212.3 289.4,212.7 287.7,213.1 286.0,213.3 284.3,213.1 282.6,212.6 280.9,212.1 279.2,211.5 277.5,211.2 275.8,211.0 274.1,210.9 272.5,211.0 270.8,211.1 269.1,211.3 267.4,211.5 265.7,211.7 264.0,211.9 262.3,212.1 260.6,212.4 258.9,212.7 257.2,212.9 255.5,213.1 253.8,213.3 252.1,213.5 250.4,213.6 248.7,213.7 247.0,213.7Z" fill="#3f6db6"/>
<line x1="286.1" y1="208.1" x2="286.1" y2="212.5" stroke="#111" stroke-width="0.9" stroke-dasharray="1.3,1"/>
<line x1="251.3" y1="207.9" x2="251.3" y2="212.7" stroke="#111" stroke-width="0.8" stroke-dasharray="1.2,1"/>
<rect x="273.7" y="209.3" width="1.3" height="2" fill="#111"/>
<path d="M247.0,218.5 248.7,218.5 250.4,218.6 252.1,218.7 253.8,218.9 255.5,219.1 257.2,219.3 258.9,219.6 260.6,219.8 262.3,220.1 264.0,220.3 265.7,220.6 267.4,220.8 269.1,221.0 270.8,221.1 272.5,221.3 274.1,221.3 275.8,221.3 277.5,221.1 279.2,220.7 280.9,220.2 282.6,219.7 284.3,219.2 286.0,219.1 287.7,219.2 289.4,219.6 291.1,220.0 292.8,220.4 294.5,220.7 296.2,221.0 297.9,221.3 299.6,221.5 301.3,221.6 303.0,221.7 304.7,221.8 306.4,221.8 308.1,221.9 308.1,221.9 306.4,222.0 304.7,222.0 303.0,222.1 301.3,222.2 299.6,222.4 297.9,222.5 296.2,222.8 294.5,223.1 292.8,223.5 291.1,223.9 289.4,224.2 287.7,224.6 286.0,224.8 284.3,224.6 282.6,224.2 280.9,223.6 279.2,223.1 277.5,222.8 275.8,222.6 274.1,222.5 272.5,222.6 270.8,222.7 269.1,222.9 267.4,223.1 265.7,223.3 264.0,223.5 262.3,223.8 260.6,224.0 258.9,224.3 257.2,224.5 255.5,224.7 253.8,224.9 252.1,225.1 250.4,225.2 248.7,225.3 247.0,225.3Z" fill="#3f6db6"/>
<line x1="286.1" y1="219.9" x2="286.1" y2="224.0" stroke="#111" stroke-width="0.9" stroke-dasharray="1.3,1"/>
<line x1="251.3" y1="219.5" x2="251.3" y2="224.4" stroke="#111" stroke-width="0.8" stroke-dasharray="1.2,1"/>
<rect x="273.7" y="220.9" width="1.3" height="2" fill="#111"/>
<path d="M247.0,230.0 248.7,230.1 250.4,230.1 252.1,230.3 253.8,230.4 255.5,230.6 257.2,230.9 258.9,231.1 260.6,231.4 262.3,231.6 264.0,231.9 265.7,232.1 267.4,232.4 269.1,232.6 270.8,232.7 272.5,232.9 274.1,232.9 275.8,232.9 277.5,232.7 279.2,232.4 280.9,231.9 282.6,231.3 284.3,230.9 286.0,230.8 287.7,231.0 289.4,231.3 291.1,231.7 292.8,232.1 294.5,232.4 296.2,232.7 297.9,232.9 299.6,233.1 301.3,233.3 303.0,233.4 304.7,233.4 306.4,233.5 308.1,233.5 308.1,233.5 306.4,233.6 304.7,233.7 303.0,233.7 301.3,233.8 299.6,234.0 297.9,234.1 296.2,234.4 294.5,234.7 292.8,235.0 291.1,235.4 289.4,235.8 287.7,236.1 286.0,236.3 284.3,236.2 282.6,235.7 280.9,235.2 279.2,234.7 277.5,234.4 275.8,234.2 274.1,234.2 272.5,234.2 270.8,234.4 269.1,234.5 267.4,234.7 265.7,234.9 264.0,235.2 262.3,235.4 260.6,235.7 258.9,236.0 257.2,236.2 255.5,236.4 253.8,236.6 252.1,236.8 250.4,236.9 248.7,237.0 247.0,237.0Z" fill="#3f6db6"/>
<line x1="286.1" y1="231.6" x2="286.1" y2="235.5" stroke="#111" stroke-width="0.9" stroke-dasharray="1.3,1"/>
<line x1="251.3" y1="231.0" x2="251.3" y2="236.1" stroke="#111" stroke-width="0.8" stroke-dasharray="1.2,1"/>
<rect x="273.7" y="232.5" width="1.3" height="2" fill="#111"/>
<path d="M247.0,241.7 248.7,241.7 250.4,241.8 252.1,241.9 253.8,242.1 255.5,242.3 257.2,242.5 258.9,242.7 260.6,243.0 262.3,243.3 264.0,243.5 265.7,243.8 267.4,244.0 269.1,244.2 270.8,244.3 272.5,244.5 274.1,244.5 275.8,244.5 277.5,244.3 279.2,244.0 280.9,243.5 282.6,243.0 284.3,242.6 286.0,242.5 287.7,242.7 289.4,243.0 291.1,243.4 292.8,243.7 294.5,244.1 296.2,244.3 297.9,244.6 299.6,244.8 301.3,244.9 303.0,245.0 304.7,245.0 306.4,245.1 308.1,245.2 308.1,245.2 306.4,245.2 304.7,245.3 303.0,245.3 301.3,245.4 299.6,245.6 297.9,245.7 296.2,246.0 294.5,246.3 292.8,246.6 291.1,247.0 289.4,247.3 287.7,247.6 286.0,247.8 284.3,247.7 282.6,247.3 280.9,246.8 279.2,246.3 277.5,246.0 275.8,245.8 274.1,245.8 272.5,245.8 270.8,246.0 269.1,246.1 267.4,246.3 265.7,246.6 264.0,246.8 262.3,247.1 260.6,247.3 258.9,247.6 257.2,247.8 255.5,248.1 253.8,248.3 252.1,248.4 250.4,248.6 248.7,248.6 247.0,248.7Z" fill="#3f6db6"/>
<line x1="286.1" y1="243.3" x2="286.1" y2="247.0" stroke="#111" stroke-width="0.9" stroke-dasharray="1.3,1"/>
<line x1="251.3" y1="242.6" x2="251.3" y2="247.7" stroke="#111" stroke-width="0.8" stroke-dasharray="1.2,1"/>
<rect x="274.1" y="244.2" width="1.3" height="2" fill="#111"/>
<path d="M335.6,93.1 337.5,93.1 339.5,93.1 341.4,93.1 343.3,93.1 345.3,93.1 347.2,93.1 349.1,93.1 351.1,93.1 353.0,93.1 354.9,93.1 356.9,93.1 358.8,93.1 360.7,93.1 362.7,93.1 364.6,93.1 366.5,93.1 368.5,93.0 370.4,92.5 372.4,91.8 374.3,90.9 376.2,90.1 378.2,89.8 380.1,90.0 382.0,90.5 384.0,91.0 385.9,91.5 387.8,92.0 389.8,92.4 391.7,92.7 393.6,92.9 395.6,92.9 397.5,92.5 399.4,92.4 401.4,92.8 403.3,93.2 405.2,93.4 405.2,93.4 403.3,93.6 401.4,94.0 399.4,94.4 397.5,94.3 395.6,93.9 393.6,93.9 391.7,94.1 389.8,94.4 387.8,94.8 385.9,95.3 384.0,95.8 382.0,96.3 380.1,96.8 378.2,97.0 376.2,96.7 374.3,95.9 372.4,95.0 370.4,94.3 368.5,93.8 366.5,93.8 364.6,93.8 362.7,93.8 360.7,93.8 358.8,93.8 356.9,93.8 354.9,93.8 353.0,93.8 351.1,93.8 349.1,93.8 347.2,93.8 345.3,93.8 343.3,93.8 341.4,93.8 339.5,93.8 337.5,93.8 335.6,93.8Z" fill="#3f6db6"/>
<line x1="378.4" y1="90.6" x2="378.4" y2="96.2" stroke="#111" stroke-width="0.9" stroke-dasharray="1.3,1"/>
<path d="M335.6,104.0 337.3,104.0 339.0,104.0 340.7,104.1 342.4,104.1 344.1,104.2 345.8,104.3 347.5,104.3 349.2,104.4 350.9,104.4 352.6,104.4 354.3,104.4 356.0,104.4 357.7,104.4 359.4,104.4 361.1,104.4 362.7,104.4 364.4,104.4 366.1,104.4 367.8,104.3 369.5,103.7 371.2,103.0 372.9,102.2 374.6,101.6 376.3,101.3 378.0,101.5 379.7,101.9 381.4,102.4 383.1,103.0 384.8,103.4 386.5,103.8 388.2,104.2 389.9,104.4 391.6,104.6 393.3,104.8 395.0,104.8 396.7,105.0 396.7,105.0 395.0,105.2 393.3,105.3 391.6,105.4 389.9,105.6 388.2,105.9 386.5,106.2 384.8,106.6 383.1,107.1 381.4,107.6 379.7,108.1 378.0,108.5 376.3,108.7 374.6,108.5 372.9,107.8 371.2,107.0 369.5,106.3 367.8,105.8 366.1,105.6 364.4,105.6 362.7,105.6 361.1,105.6 359.4,105.6 357.7,105.6 356.0,105.6 354.3,105.6 352.6,105.6 350.9,105.6 349.2,105.6 347.5,105.7 345.8,105.8 344.1,105.8 342.4,105.9 340.7,106.0 339.0,106.0 337.3,106.0 335.6,106.0Z" fill="#3f6db6"/>
<line x1="376.5" y1="102.1" x2="376.5" y2="107.9" stroke="#111" stroke-width="0.9" stroke-dasharray="1.3,1"/>
<path d="M335.6,114.1 337.3,114.2 339.0,114.2 340.7,114.3 342.4,114.4 344.1,114.6 345.8,114.7 347.5,114.9 349.2,115.1 350.9,115.3 352.6,115.5 354.3,115.6 356.0,115.8 357.7,115.9 359.4,116.1 361.1,116.1 362.7,116.1 364.4,116.1 366.1,116.0 367.8,115.6 369.5,115.0 371.2,114.2 372.9,113.5 374.6,112.9 376.3,112.8 378.0,113.2 379.7,113.6 381.4,114.2 383.1,114.7 384.8,115.2 386.5,115.6 388.2,115.9 389.9,116.1 391.6,116.3 393.3,116.4 395.0,116.5 396.7,116.6 396.7,116.6 395.0,116.8 393.3,116.9 391.6,117.0 389.9,117.2 388.2,117.4 386.5,117.7 384.8,118.1 383.1,118.6 381.4,119.1 379.7,119.6 378.0,120.1 376.3,120.4 374.6,120.3 372.9,119.8 371.2,119.1 369.5,118.3 367.8,117.7 366.1,117.3 364.4,117.2 362.7,117.2 361.1,117.2 359.4,117.2 357.7,117.3 356.0,117.5 354.3,117.6 352.6,117.8 350.9,118.0 349.2,118.2 347.5,118.4 345.8,118.5 344.1,118.7 342.4,118.9 340.7,119.0 339.0,119.1 337.3,119.1 335.6,119.1Z" fill="#3f6db6"/>
<line x1="375.9" y1="113.6" x2="375.9" y2="119.7" stroke="#111" stroke-width="0.9" stroke-dasharray="1.3,1"/>
<line x1="339.9" y1="115.1" x2="339.9" y2="118.2" stroke="#111" stroke-width="0.8" stroke-dasharray="1.2,1"/>
<rect x="359.3" y="115.6" width="1.3" height="2" fill="#111"/>
<path d="M335.6,125.3 337.3,125.3 339.0,125.3 340.7,125.5 342.4,125.6 344.1,125.8 345.8,126.0 347.5,126.2 349.2,126.4 350.9,126.6 352.6,126.8 354.3,127.1 356.0,127.2 357.7,127.4 359.4,127.6 361.1,127.7 362.7,127.7 364.4,127.7 366.1,127.5 367.8,127.1 369.5,126.5 371.2,125.8 372.9,125.0 374.6,124.4 376.3,124.3 378.0,124.7 379.7,125.2 381.4,125.7 383.1,126.3 384.8,126.8 386.5,127.2 388.2,127.5 389.9,127.7 391.6,127.9 393.3,128.0 395.0,128.1 396.7,128.3 396.7,128.3 395.0,128.4 393.3,128.5 391.6,128.6 389.9,128.8 388.2,129.1 386.5,129.4 384.8,129.8 383.1,130.2 381.4,130.8 379.7,131.3 378.0,131.8 376.3,132.2 374.6,132.1 372.9,131.5 371.2,130.8 369.5,130.0 367.8,129.4 366.1,129.0 364.4,128.8 362.7,128.8 361.1,128.8 359.4,129.0 357.7,129.1 356.0,129.3 354.3,129.5 352.6,129.7 350.9,129.9 349.2,130.1 347.5,130.3 345.8,130.5 344.1,130.7 342.4,130.9 340.7,131.1 339.0,131.2 337.3,131.2 335.6,131.3Z" fill="#3f6db6"/>
<line x1="375.9" y1="125.1" x2="375.9" y2="131.4" stroke="#111" stroke-width="0.9" stroke-dasharray="1.3,1"/>
<line x1="339.9" y1="126.2" x2="339.9" y2="130.3" stroke="#111" stroke-width="0.8" stroke-dasharray="1.2,1"/>
<rect x="361.4" y="127.3" width="1.3" height="2" fill="#111"/>
<path d="M335.6,136.6 337.3,136.6 339.0,136.7 340.7,136.8 342.4,137.0 344.1,137.1 345.8,137.4 347.5,137.6 349.2,137.8 350.9,138.1 352.6,138.3 354.3,138.6 356.0,138.8 357.7,139.0 359.4,139.1 361.1,139.2 362.7,139.3 364.4,139.3 366.1,139.1 367.8,138.7 369.5,138.1 371.2,137.4 372.9,136.6 374.6,136.1 376.3,136.0 378.0,136.3 379.7,136.8 381.4,137.4 383.1,137.9 384.8,138.4 386.5,138.8 388.2,139.1 389.9,139.3 391.6,139.5 393.3,139.6 395.0,139.7 396.7,139.9 396.7,139.9 395.0,140.0 393.3,140.1 391.6,140.2 389.9,140.4 388.2,140.7 386.5,141.0 384.8,141.4 383.1,141.9 381.4,142.4 379.7,143.0 378.0,143.5 376.3,143.8 374.6,143.7 372.9,143.2 371.2,142.4 369.5,141.6 367.8,141.0 366.1,140.6 364.4,140.5 362.7,140.4 361.1,140.5 359.4,140.6 357.7,140.8 356.0,141.0 354.3,141.2 352.6,141.4 350.9,141.7 349.2,141.9 347.5,142.2 345.8,142.4 344.1,142.6 342.4,142.8 340.7,143.0 339.0,143.1 337.3,143.2 335.6,143.2Z" fill="#3f6db6"/>
<line x1="375.9" y1="136.7" x2="375.9" y2="143.0" stroke="#111" stroke-width="0.9" stroke-dasharray="1.3,1"/>
<line x1="339.9" y1="137.5" x2="339.9" y2="142.2" stroke="#111" stroke-width="0.8" stroke-dasharray="1.2,1"/>
<rect x="362.9" y="138.9" width="1.3" height="2" fill="#111"/>
<path d="M335.6,148.1 337.3,148.1 339.0,148.2 340.7,148.3 342.4,148.5 344.1,148.7 345.8,148.9 347.5,149.1 349.2,149.4 350.9,149.7 352.6,149.9 354.3,150.1 356.0,150.4 357.7,150.5 359.4,150.7 361.1,150.8 362.7,150.9 364.4,150.8 366.1,150.6 367.8,150.2 369.5,149.6 371.2,148.8 372.9,148.1 374.6,147.8 376.3,147.9 378.0,148.3 379.7,148.8 381.4,149.3 383.1,149.8 384.8,150.2 386.5,150.6 388.2,150.8 389.9,151.0 391.6,151.2 393.3,151.3 395.0,151.4 396.7,151.5 396.7,151.5 395.0,151.6 393.3,151.7 391.6,151.8 389.9,152.0 388.2,152.2 386.5,152.4 384.8,152.8 383.1,153.2 381.4,153.7 379.7,154.2 378.0,154.7 376.3,155.1 374.6,155.2 372.9,154.9 371.2,154.2 369.5,153.4 367.8,152.8 366.1,152.4 364.4,152.2 362.7,152.1 361.1,152.2 359.4,152.3 357.7,152.5 356.0,152.6 354.3,152.9 352.6,153.1 350.9,153.3 349.2,153.6 347.5,153.9 345.8,154.1 344.1,154.3 342.4,154.5 340.7,154.7 339.0,154.8 337.3,154.9 335.6,154.9Z" fill="#3f6db6"/>
<line x1="375.3" y1="148.5" x2="375.3" y2="154.5" stroke="#111" stroke-width="0.9" stroke-dasharray="1.3,1"/>
<line x1="339.9" y1="149.1" x2="339.9" y2="153.9" stroke="#111" stroke-width="0.8" stroke-dasharray="1.2,1"/>
<rect x="362.4" y="150.5" width="1.3" height="2" fill="#111"/>
<path d="M335.6,159.7 337.3,159.7 339.0,159.8 340.7,159.9 342.4,160.1 344.1,160.3 345.8,160.5 347.5,160.8 349.2,161.0 350.9,161.3 352.6,161.5 354.3,161.8 356.0,162.0 357.7,162.2 359.4,162.3 361.1,162.4 362.7,162.5 364.4,162.4 366.1,162.1 367.8,161.7 369.5,161.0 371.2,160.3 372.9,159.8 374.6,159.6 376.3,159.8 378.0,160.2 379.7,160.7 381.4,161.2 383.1,161.6 384.8,162.0 386.5,162.3 388.2,162.6 389.9,162.7 391.6,162.9 393.3,163.0 395.0,163.0 396.7,163.1 396.7,163.1 395.0,163.2 393.3,163.3 391.6,163.4 389.9,163.5 388.2,163.7 386.5,163.9 384.8,164.2 383.1,164.6 381.4,165.0 379.7,165.5 378.0,166.0 376.3,166.5 374.6,166.7 372.9,166.5 371.2,165.9 369.5,165.2 367.8,164.6 366.1,164.1 364.4,163.8 362.7,163.8 361.1,163.8 359.4,163.9 357.7,164.1 356.0,164.3 354.3,164.5 352.6,164.7 350.9,165.0 349.2,165.2 347.5,165.5 345.8,165.7 344.1,165.9 342.4,166.1 340.7,166.3 339.0,166.4 337.3,166.5 335.6,166.5Z" fill="#3f6db6"/>
<line x1="374.7" y1="160.4" x2="374.7" y2="165.9" stroke="#111" stroke-width="0.9" stroke-dasharray="1.3,1"/>
<line x1="339.9" y1="160.7" x2="339.9" y2="165.6" stroke="#111" stroke-width="0.8" stroke-dasharray="1.2,1"/>
<rect x="362.0" y="162.1" width="1.3" height="2" fill="#111"/>
<path d="M335.6,171.3 337.3,171.4 339.0,171.4 340.7,171.6 342.4,171.7 344.1,171.9 345.8,172.1 347.5,172.4 349.2,172.6 350.9,172.9 352.6,173.1 354.3,173.4 356.0,173.6 357.7,173.8 359.4,173.9 361.1,174.1 362.7,174.1 364.4,174.0 366.1,173.8 367.8,173.3 369.5,172.6 371.2,171.9 372.9,171.4 374.6,171.2 376.3,171.4 378.0,171.8 379.7,172.3 381.4,172.8 383.1,173.3 384.8,173.6 386.5,174.0 388.2,174.2 389.9,174.4 391.6,174.5 393.3,174.6 395.0,174.6 396.7,174.7 396.7,174.7 395.0,174.8 393.3,174.9 391.6,175.0 389.9,175.1 388.2,175.3 386.5,175.5 384.8,175.8 383.1,176.2 381.4,176.7 379.7,177.1 378.0,177.6 376.3,178.1 374.6,178.3 372.9,178.1 371.2,177.5 369.5,176.8 367.8,176.2 366.1,175.7 364.4,175.5 362.7,175.4 361.1,175.4 359.4,175.5 357.7,175.7 356.0,175.9 354.3,176.1 352.6,176.3 350.9,176.6 349.2,176.8 347.5,177.1 345.8,177.3 344.1,177.6 342.4,177.8 340.7,177.9 339.0,178.0 337.3,178.1 335.6,178.1Z" fill="#3f6db6"/>
<line x1="374.7" y1="172.0" x2="374.7" y2="177.5" stroke="#111" stroke-width="0.9" stroke-dasharray="1.3,1"/>
<line x1="339.9" y1="172.3" x2="339.9" y2="177.2" stroke="#111" stroke-width="0.8" stroke-dasharray="1.2,1"/>
<rect x="362.0" y="173.7" width="1.3" height="2" fill="#111"/>
<path d="M335.6,183.2 337.3,183.2 339.0,183.3 340.7,183.4 342.4,183.5 344.1,183.7 345.8,183.9 347.5,184.1 349.2,184.4 350.9,184.6 352.6,184.9 354.3,185.1 356.0,185.3 357.7,185.5 359.4,185.6 361.1,185.8 362.7,185.8 364.4,185.8 366.1,185.7 367.8,185.4 369.5,184.9 371.2,184.2 372.9,183.4 374.6,182.8 376.3,182.5 378.0,182.7 379.7,183.2 381.4,183.7 383.1,184.2 384.8,184.7 386.5,185.1 388.2,185.5 389.9,185.7 391.6,185.9 393.3,186.1 395.0,186.2 396.7,186.4 396.7,186.4 395.0,186.5 393.3,186.6 391.6,186.8 389.9,187.0 388.2,187.2 386.5,187.6 384.8,188.0 383.1,188.5 381.4,189.0 379.7,189.5 378.0,190.0 376.3,190.2 374.6,189.9 372.9,189.3 371.2,188.5 369.5,187.8 367.8,187.3 366.1,187.0 364.4,186.9 362.7,186.9 361.1,187.0 359.4,187.1 357.7,187.3 356.0,187.4 354.3,187.6 352.6,187.9 350.9,188.1 349.2,188.3 347.5,188.6 345.8,188.8 344.1,189.0 342.4,189.2 340.7,189.4 339.0,189.5 337.3,189.5 335.6,189.6Z" fill="#3f6db6"/>
<line x1="376.5" y1="183.3" x2="376.5" y2="189.4" stroke="#111" stroke-width="0.9" stroke-dasharray="1.3,1"/>
<line x1="339.9" y1="184.1" x2="339.9" y2="188.6" stroke="#111" stroke-width="0.8" stroke-dasharray="1.2,1"/>
<rect x="361.5" y="185.4" width="1.3" height="2" fill="#111"/>
<path d="M335.6,194.6 337.3,194.6 339.0,194.7 340.7,194.8 342.4,195.0 344.1,195.2 345.8,195.4 347.5,195.6 349.2,195.9 350.9,196.1 352.6,196.4 354.3,196.6 356.0,196.8 357.7,197.0 359.4,197.2 361.1,197.3 362.7,197.4 364.4,197.4 366.1,197.2 367.8,196.8 369.5,196.2 371.2,195.6 372.9,195.0 374.6,194.7 376.3,194.7 378.0,195.1 379.7,195.5 381.4,196.0 383.1,196.4 384.8,196.8 386.5,197.1 388.2,197.4 389.9,197.6 391.6,197.7 393.3,197.8 395.0,197.9 396.7,198.0 396.7,198.0 395.0,198.1 393.3,198.2 391.6,198.2 389.9,198.4 388.2,198.6 386.5,198.8 384.8,199.1 383.1,199.5 381.4,200.0 379.7,200.4 378.0,200.9 376.3,201.2 374.6,201.3 372.9,201.0 371.2,200.4 369.5,199.7 367.8,199.2 366.1,198.8 364.4,198.6 362.7,198.6 361.1,198.6 359.4,198.8 357.7,198.9 356.0,199.1 354.3,199.3 352.6,199.6 350.9,199.8 349.2,200.1 347.5,200.3 345.8,200.6 344.1,200.8 342.4,201.0 340.7,201.2 339.0,201.3 337.3,201.4 335.6,201.4Z" fill="#3f6db6"/>
<line x1="375.3" y1="195.4" x2="375.3" y2="200.5" stroke="#111" stroke-width="0.9" stroke-dasharray="1.3,1"/>
<line x1="339.9" y1="195.5" x2="339.9" y2="200.4" stroke="#111" stroke-width="0.8" stroke-dasharray="1.2,1"/>
<rect x="362.4" y="197.0" width="1.3" height="2" fill="#111"/>
<path d="M335.6,206.1 337.3,206.1 339.0,206.2 340.7,206.3 342.4,206.5 344.1,206.7 345.8,206.9 347.5,207.2 349.2,207.4 350.9,207.7 352.6,208.0 354.3,208.2 356.0,208.4 357.7,208.6 359.4,208.8 361.1,208.9 362.7,209.0 364.4,208.9 366.1,208.6 367.8,208.2 369.5,207.6 371.2,206.9 372.9,206.4 374.6,206.2 376.3,206.5 378.0,206.9 379.7,207.3 381.4,207.8 383.1,208.2 384.8,208.6 386.5,208.9 388.2,209.1 389.9,209.3 391.6,209.4 393.3,209.5 395.0,209.5 396.7,209.6 396.7,209.6 395.0,209.7 393.3,209.7 391.6,209.8 389.9,209.9 388.2,210.1 386.5,210.3 384.8,210.6 383.1,211.0 381.4,211.4 379.7,211.9 378.0,212.3 376.3,212.7 374.6,213.0 372.9,212.8 371.2,212.3 369.5,211.6 367.8,211.0 366.1,210.6 364.4,210.3 362.7,210.2 361.1,210.3 359.4,210.4 357.7,210.6 356.0,210.8 354.3,211.0 352.6,211.2 350.9,211.5 349.2,211.8 347.5,212.0 345.8,212.3 344.1,212.5 342.4,212.7 340.7,212.9 339.0,213.0 337.3,213.1 335.6,213.1Z" fill="#3f6db6"/>
<line x1="374.7" y1="207.0" x2="374.7" y2="212.2" stroke="#111" stroke-width="0.9" stroke-dasharray="1.3,1"/>
<line x1="339.9" y1="207.1" x2="339.9" y2="212.1" stroke="#111" stroke-width="0.8" stroke-dasharray="1.2,1"/>
<rect x="362.0" y="208.6" width="1.3" height="2" fill="#111"/>
<path d="M335.6,217.7 337.3,217.7 339.0,217.8 340.7,217.9 342.4,218.1 344.1,218.3 345.8,218.6 347.5,218.8 349.2,219.1 350.9,219.3 352.6,219.6 354.3,219.8 356.0,220.0 357.7,220.2 359.4,220.4 361.1,220.5 362.7,220.6 364.4,220.5 366.1,220.3 367.8,219.9 369.5,219.3 371.2,218.7 372.9,218.2 374.6,218.1 376.3,218.3 378.0,218.6 379.7,219.1 381.4,219.5 383.1,219.9 384.8,220.3 386.5,220.5 388.2,220.7 389.9,220.9 391.6,221.0 393.3,221.1 395.0,221.1 396.7,221.2 396.7,221.2 395.0,221.3 393.3,221.4 391.6,221.4 389.9,221.5 388.2,221.7 386.5,221.9 384.8,222.2 383.1,222.5 381.4,222.9 379.7,223.4 378.0,223.8 376.3,224.2 374.6,224.4 372.9,224.2 371.2,223.7 369.5,223.1 367.8,222.5 366.1,222.1 364.4,221.9 362.7,221.9 361.1,221.9 359.4,222.0 357.7,222.2 356.0,222.4 354.3,222.6 352.6,222.9 350.9,223.1 349.2,223.4 347.5,223.6 345.8,223.9 344.1,224.1 342.4,224.3 340.7,224.5 339.0,224.6 337.3,224.7 335.6,224.7Z" fill="#3f6db6"/>
<line x1="374.7" y1="218.9" x2="374.7" y2="223.6" stroke="#111" stroke-width="0.9" stroke-dasharray="1.3,1"/>
<line x1="339.9" y1="218.7" x2="339.9" y2="223.8" stroke="#111" stroke-width="0.8" stroke-dasharray="1.2,1"/>
<rect x="362.3" y="220.2" width="1.3" height="2" fill="#111"/>
<path d="M335.6,229.2 337.3,229.3 339.0,229.3 340.7,229.5 342.4,229.6 344.1,229.9 345.8,230.1 347.5,230.4 349.2,230.6 350.9,230.9 352.6,231.1 354.3,231.4 356.0,231.6 357.7,231.8 359.4,232.0 361.1,232.1 362.7,232.2 364.4,232.1 366.1,231.9 367.8,231.5 369.5,231.0 371.2,230.4 372.9,229.9 374.6,229.8 376.3,230.0 378.0,230.3 379.7,230.8 381.4,231.2 383.1,231.6 384.8,231.9 386.5,232.2 388.2,232.4 389.9,232.5 391.6,232.6 393.3,232.7 395.0,232.8 396.7,232.8 396.7,232.8 395.0,232.9 393.3,233.0 391.6,233.1 389.9,233.2 388.2,233.3 386.5,233.5 384.8,233.8 383.1,234.1 381.4,234.5 379.7,234.9 378.0,235.3 376.3,235.7 374.6,235.9 372.9,235.7 371.2,235.3 369.5,234.7 367.8,234.1 366.1,233.7 364.4,233.5 362.7,233.5 361.1,233.5 359.4,233.7 357.7,233.9 356.0,234.1 354.3,234.3 352.6,234.5 350.9,234.8 349.2,235.1 347.5,235.3 345.8,235.6 344.1,235.8 342.4,236.0 340.7,236.2 339.0,236.3 337.3,236.4 335.6,236.4Z" fill="#3f6db6"/>
<line x1="374.7" y1="230.6" x2="374.7" y2="235.1" stroke="#111" stroke-width="0.9" stroke-dasharray="1.3,1"/>
<line x1="339.9" y1="230.2" x2="339.9" y2="235.5" stroke="#111" stroke-width="0.8" stroke-dasharray="1.2,1"/>
<rect x="362.3" y="231.8" width="1.3" height="2" fill="#111"/>
<path d="M335.6,240.9 337.3,240.9 339.0,241.0 340.7,241.1 342.4,241.3 344.1,241.5 345.8,241.7 347.5,242.0 349.2,242.2 350.9,242.5 352.6,242.8 354.3,243.0 356.0,243.2 357.7,243.4 359.4,243.6 361.1,243.8 362.7,243.8 364.4,243.8 366.1,243.6 367.8,243.2 369.5,242.6 371.2,242.0 372.9,241.6 374.6,241.4 376.3,241.6 378.0,242.0 379.7,242.4 381.4,242.8 383.1,243.2 384.8,243.5 386.5,243.8 388.2,244.0 389.9,244.1 391.6,244.2 393.3,244.3 395.0,244.4 396.7,244.5 396.7,244.5 395.0,244.5 393.3,244.6 391.6,244.7 389.9,244.8 388.2,244.9 386.5,245.1 384.8,245.4 383.1,245.7 381.4,246.1 379.7,246.5 378.0,247.0 376.3,247.3 374.6,247.5 372.9,247.4 371.2,246.9 369.5,246.3 367.8,245.8 366.1,245.4 364.4,245.2 362.7,245.1 361.1,245.2 359.4,245.3 357.7,245.5 356.0,245.7 354.3,245.9 352.6,246.2 350.9,246.4 349.2,246.7 347.5,246.9 345.8,247.2 344.1,247.4 342.4,247.7 340.7,247.8 339.0,248.0 337.3,248.0 335.6,248.1Z" fill="#3f6db6"/>
<line x1="374.7" y1="242.2" x2="374.7" y2="246.7" stroke="#111" stroke-width="0.9" stroke-dasharray="1.3,1"/>
<line x1="339.9" y1="241.8" x2="339.9" y2="247.1" stroke="#111" stroke-width="0.8" stroke-dasharray="1.2,1"/>
<rect x="362.3" y="243.5" width="1.3" height="2" fill="#111"/>
<path d="M453.5,93.2 454.7,93.2 455.9,93.1 457.1,93.1 458.4,92.9 459.6,92.7 460.8,92.4 462.0,92.0 463.2,91.5 464.5,91.0 465.7,90.4 466.9,89.9 468.1,89.5 469.4,89.4 470.6,89.5 471.8,89.8 473.0,90.1 474.2,90.5 475.5,90.8 476.7,91.2 477.9,91.5 479.1,91.8 480.4,92.1 481.6,92.3 482.8,92.5 484.0,92.6 485.2,92.8 486.5,92.8 487.7,92.7 488.9,92.5 490.1,92.3 491.3,92.2 492.6,92.4 493.8,92.7 495.0,93.0 496.2,93.1 497.5,93.2 497.5,93.2 496.2,93.3 495.0,93.4 493.8,93.7 492.6,94.0 491.3,94.2 490.1,94.1 488.9,93.9 487.7,93.7 486.5,93.6 485.2,93.6 484.0,93.8 482.8,93.9 481.6,94.1 480.4,94.3 479.1,94.6 477.9,94.9 476.7,95.2 475.5,95.6 474.2,95.9 473.0,96.3 471.8,96.6 470.6,96.9 469.4,97.0 468.1,96.9 466.9,96.5 465.7,96.0 464.5,95.4 463.2,94.9 462.0,94.4 460.8,94.0 459.6,93.7 458.4,93.5 457.1,93.3 455.9,93.3 454.7,93.2 453.5,93.2Z" fill="#3f6db6"/>
<line x1="469.4" y1="90.2" x2="469.4" y2="96.2" stroke="#111" stroke-width="0.9" stroke-dasharray="1.3,1"/>
<path d="M453.5,104.8 454.4,104.8 455.4,104.7 456.3,104.7 457.3,104.6 458.2,104.4 459.2,104.2 460.1,104.0 461.1,103.7 462.0,103.3 463.0,102.9 463.9,102.5 464.9,102.1 465.8,101.7 466.8,101.5 467.7,101.3 468.7,101.4 469.6,101.5 470.6,101.7 471.5,101.9 472.5,102.2 473.4,102.4 474.4,102.7 475.3,102.9 476.3,103.1 477.2,103.3 478.2,103.5 479.1,103.6 480.1,103.7 481.0,103.8 482.0,103.9 482.9,104.1 483.9,104.2 484.8,104.4 485.8,104.5 486.7,104.6 487.7,104.8 487.7,104.8 486.7,105.1 485.8,105.1 484.8,105.2 483.9,105.4 482.9,105.6 482.0,105.7 481.0,105.8 480.1,105.9 479.1,106.0 478.2,106.1 477.2,106.3 476.3,106.5 475.3,106.7 474.4,107.0 473.4,107.2 472.5,107.5 471.5,107.7 470.6,108.0 469.6,108.2 468.7,108.3 467.7,108.3 466.8,108.2 465.8,107.9 464.9,107.6 463.9,107.2 463.0,106.8 462.0,106.4 461.1,106.0 460.1,105.7 459.2,105.4 458.2,105.2 457.3,105.1 456.3,105.0 455.4,104.9 454.4,104.9 453.5,104.8Z" fill="#3f6db6"/>
<line x1="468.1" y1="102.1" x2="468.1" y2="107.5" stroke="#111" stroke-width="0.9" stroke-dasharray="1.3,1"/>
<path d="M426.6,116.1 428.3,116.1 429.9,116.1 431.6,116.1 433.3,116.1 434.9,116.1 436.6,116.1 438.2,116.1 439.9,116.1 441.6,116.1 443.2,116.1 444.9,116.1 446.6,116.1 448.2,116.1 449.9,116.1 451.5,116.1 453.2,116.1 454.9,116.1 456.5,116.1 458.2,116.0 459.9,115.7 461.5,115.1 463.2,114.3 464.8,113.6 466.5,113.0 468.2,112.8 469.8,113.1 471.5,113.4 473.2,113.9 474.8,114.4 476.5,114.8 478.1,115.2 479.8,115.5 481.5,115.7 483.1,115.9 484.8,116.1 486.5,116.4 486.5,116.4 484.8,116.8 483.1,116.9 481.5,117.1 479.8,117.4 478.1,117.7 476.5,118.1 474.8,118.5 473.2,119.0 471.5,119.4 469.8,119.8 468.2,120.0 466.5,119.8 464.8,119.3 463.2,118.5 461.5,117.8 459.9,117.2 458.2,116.8 456.5,116.7 454.9,116.7 453.2,116.7 451.5,116.7 449.9,116.7 448.2,116.7 446.6,116.7 444.9,116.7 443.2,116.7 441.6,116.7 439.9,116.7 438.2,116.7 436.6,116.7 434.9,116.7 433.3,116.7 431.6,116.7 429.9,116.7 428.3,116.7 426.6,116.7Z" fill="#3f6db6"/>
<line x1="468.1" y1="113.6" x2="468.1" y2="119.2" stroke="#111" stroke-width="0.9" stroke-dasharray="1.3,1"/>
<path d="M426.6,127.3 428.3,127.3 430.0,127.3 431.7,127.3 433.4,127.4 435.1,127.4 436.8,127.5 438.5,127.5 440.2,127.5 441.9,127.5 443.6,127.5 445.3,127.5 447.0,127.5 448.7,127.5 450.4,127.5 452.1,127.5 453.7,127.5 455.4,127.5 457.1,127.5 458.8,127.4 460.5,127.0 462.2,126.3 463.9,125.5 465.6,124.7 467.3,124.3 469.0,124.3 470.7,124.7 472.4,125.2 474.1,125.8 475.8,126.3 477.5,126.7 479.2,127.1 480.9,127.4 482.6,127.6 484.3,127.7 486.0,127.9 487.7,128.1 487.7,128.1 486.0,128.3 484.3,128.4 482.6,128.5 480.9,128.8 479.2,129.0 477.5,129.4 475.8,129.9 474.1,130.4 472.4,130.9 470.7,131.4 469.0,131.8 467.3,131.8 465.6,131.4 463.9,130.6 462.2,129.8 460.5,129.2 458.8,128.7 457.1,128.7 455.4,128.7 453.7,128.7 452.1,128.7 450.4,128.7 448.7,128.7 447.0,128.7 445.3,128.7 443.6,128.7 441.9,128.7 440.2,128.7 438.5,128.7 436.8,128.7 435.1,128.7 433.4,128.8 431.7,128.8 430.0,128.8 428.3,128.9 426.6,128.9Z" fill="#3f6db6"/>
<line x1="468.1" y1="125.1" x2="468.1" y2="131.1" stroke="#111" stroke-width="0.9" stroke-dasharray="1.3,1"/>
<path d="M426.6,137.5 428.3,137.5 430.0,137.5 431.7,137.6 433.4,137.7 435.1,137.9 436.8,138.0 438.5,138.2 440.2,138.3 441.9,138.5 443.6,138.6 445.3,138.8 447.0,138.9 448.7,139.1 450.4,139.1 452.1,139.1 453.7,139.1 455.4,139.1 457.1,139.1 458.8,138.8 460.5,138.2 462.2,137.5 463.9,136.6 465.6,135.9 467.3,135.7 469.0,135.9 470.7,136.3 472.4,136.9 474.1,137.5 475.8,138.0 477.5,138.4 479.2,138.8 480.9,139.0 482.6,139.2 484.3,139.4 486.0,139.5 487.7,139.7 487.7,139.7 486.0,139.9 484.3,140.0 482.6,140.1 480.9,140.3 479.2,140.6 477.5,141.0 475.8,141.4 474.1,141.9 472.4,142.5 470.7,143.0 469.0,143.5 467.3,143.7 465.6,143.4 463.9,142.7 462.2,141.9 460.5,141.1 458.8,140.6 457.1,140.2 455.4,140.2 453.7,140.2 452.1,140.2 450.4,140.2 448.7,140.3 447.0,140.4 445.3,140.6 443.6,140.7 441.9,140.9 440.2,141.0 438.5,141.2 436.8,141.4 435.1,141.5 433.4,141.6 431.7,141.7 430.0,141.8 428.3,141.9 426.6,141.9Z" fill="#3f6db6"/>
<line x1="467.5" y1="136.5" x2="467.5" y2="142.9" stroke="#111" stroke-width="0.9" stroke-dasharray="1.3,1"/>
<line x1="430.9" y1="138.4" x2="430.9" y2="141.0" stroke="#111" stroke-width="0.8" stroke-dasharray="1.2,1"/>
<rect x="449.2" y="138.7" width="1.3" height="2" fill="#111"/>
<path d="M426.6,148.3 428.3,148.3 430.0,148.4 431.7,148.5 433.4,148.6 435.1,148.8 436.8,149.0 438.5,149.2 440.2,149.4 441.9,149.7 443.6,149.9 445.3,150.1 447.0,150.3 448.7,150.5 450.4,150.6 452.1,150.7 453.7,150.8 455.4,150.8 457.1,150.7 458.8,150.4 460.5,149.8 462.2,149.0 463.9,148.2 465.6,147.6 467.3,147.3 469.0,147.5 470.7,148.0 472.4,148.5 474.1,149.1 475.8,149.6 477.5,150.0 479.2,150.4 480.9,150.7 482.6,150.9 484.3,151.0 486.0,151.1 487.7,151.3 487.7,151.3 486.0,151.5 484.3,151.6 482.6,151.7 480.9,151.9 479.2,152.2 477.5,152.6 475.8,153.0 474.1,153.5 472.4,154.1 470.7,154.6 469.0,155.1 467.3,155.3 465.6,155.0 463.9,154.4 462.2,153.6 460.5,152.8 458.8,152.2 457.1,151.9 455.4,151.9 453.7,151.9 452.1,151.9 450.4,152.0 448.7,152.1 447.0,152.3 445.3,152.5 443.6,152.7 441.9,152.9 440.2,153.2 438.5,153.4 436.8,153.6 435.1,153.8 433.4,154.0 431.7,154.1 430.0,154.2 428.3,154.3 426.6,154.3Z" fill="#3f6db6"/>
<line x1="467.5" y1="148.1" x2="467.5" y2="154.5" stroke="#111" stroke-width="0.9" stroke-dasharray="1.3,1"/>
<line x1="430.9" y1="149.2" x2="430.9" y2="153.4" stroke="#111" stroke-width="0.8" stroke-dasharray="1.2,1"/>
<rect x="452.1" y="150.3" width="1.3" height="2" fill="#111"/>
<path d="M426.6,159.6 428.3,159.6 430.0,159.7 431.7,159.8 433.4,160.0 435.1,160.2 436.8,160.4 438.5,160.6 440.2,160.9 441.9,161.1 443.6,161.4 445.3,161.6 447.0,161.8 448.7,162.0 450.4,162.1 452.1,162.3 453.7,162.3 455.4,162.2 457.1,161.9 458.8,161.4 460.5,160.7 462.2,159.9 463.9,159.3 465.6,159.1 467.3,159.3 469.0,159.8 470.7,160.3 472.4,160.8 474.1,161.3 475.8,161.7 477.5,162.1 479.2,162.3 480.9,162.5 482.6,162.7 484.3,162.7 486.0,162.8 487.7,162.9 487.7,162.9 486.0,163.0 484.3,163.1 482.6,163.2 480.9,163.3 479.2,163.5 477.5,163.8 475.8,164.1 474.1,164.5 472.4,165.0 470.7,165.5 469.0,166.1 467.3,166.5 465.6,166.8 463.9,166.6 462.2,166.0 460.5,165.2 458.8,164.5 457.1,164.0 455.4,163.7 453.7,163.6 452.1,163.6 450.4,163.7 448.7,163.8 447.0,164.0 445.3,164.2 443.6,164.5 441.9,164.7 440.2,165.0 438.5,165.2 436.8,165.4 435.1,165.7 433.4,165.8 431.7,166.0 430.0,166.1 428.3,166.2 426.6,166.2Z" fill="#3f6db6"/>
<line x1="465.7" y1="159.9" x2="465.7" y2="166.0" stroke="#111" stroke-width="0.9" stroke-dasharray="1.3,1"/>
<line x1="430.9" y1="160.6" x2="430.9" y2="165.3" stroke="#111" stroke-width="0.8" stroke-dasharray="1.2,1"/>
<rect x="452.6" y="161.9" width="1.3" height="2" fill="#111"/>
<path d="M426.6,171.0 428.3,171.1 430.0,171.1 431.7,171.2 433.4,171.4 435.1,171.6 436.8,171.9 438.5,172.2 440.2,172.5 441.9,172.9 443.6,173.2 445.3,173.5 447.0,173.8 448.7,174.0 450.4,174.0 452.1,174.0 453.7,174.0 455.4,174.0 457.1,173.9 458.8,173.5 460.5,172.9 462.2,172.2 463.9,171.7 465.6,171.5 467.3,171.7 469.0,172.1 470.7,172.5 472.4,172.9 474.1,173.3 475.8,173.6 477.5,173.9 479.2,174.1 480.9,174.2 482.6,174.3 484.3,174.4 486.0,174.5 487.7,174.5 487.7,174.5 486.0,174.6 484.3,174.7 482.6,174.7 480.9,174.9 479.2,175.0 477.5,175.2 475.8,175.5 474.1,175.8 472.4,176.2 470.7,176.6 469.0,177.0 467.3,177.4 465.6,177.5 463.9,177.3 462.2,176.8 460.5,176.2 458.8,175.6 457.1,175.2 455.4,175.1 453.7,175.1 452.1,175.1 450.4,175.1 448.7,175.1 447.0,175.3 445.3,175.5 443.6,175.9 441.9,176.2 440.2,176.5 438.5,176.9 436.8,177.2 435.1,177.5 433.4,177.7 431.7,177.9 430.0,178.0 428.3,178.0 426.6,178.0Z" fill="#3f6db6"/>
<line x1="465.7" y1="172.3" x2="465.7" y2="176.7" stroke="#111" stroke-width="0.9" stroke-dasharray="1.3,1"/>
<line x1="430.9" y1="171.9" x2="430.9" y2="177.1" stroke="#111" stroke-width="0.8" stroke-dasharray="1.2,1"/>
<rect x="448.1" y="173.5" width="1.3" height="2" fill="#111"/>
<path d="M426.6,182.6 428.3,182.6 430.0,182.6 431.7,182.7 433.4,182.8 435.1,183.1 436.8,183.4 438.5,183.8 440.2,184.2 441.9,184.7 443.6,185.1 445.3,185.4 447.0,185.6 448.7,185.6 450.4,185.6 452.1,185.6 453.7,185.6 455.4,185.6 457.1,185.6 458.8,185.6 460.5,185.2 462.2,184.7 463.9,184.2 465.6,183.8 467.3,183.8 469.0,184.0 470.7,184.3 472.4,184.6 474.1,184.9 475.8,185.2 477.5,185.5 479.2,185.7 480.9,185.8 482.6,185.9 484.3,186.0 486.0,186.1 487.7,186.2 487.7,186.2 486.0,186.3 484.3,186.3 482.6,186.4 480.9,186.5 479.2,186.6 477.5,186.8 475.8,187.1 474.1,187.4 472.4,187.7 470.7,188.0 469.0,188.3 467.3,188.5 465.6,188.5 463.9,188.1 462.2,187.6 460.5,187.1 458.8,186.7 457.1,186.7 455.4,186.7 453.7,186.7 452.1,186.7 450.4,186.7 448.7,186.7 447.0,186.7 445.3,186.9 443.6,187.2 441.9,187.6 440.2,188.1 438.5,188.5 436.8,188.9 435.1,189.3 433.4,189.5 431.7,189.6 430.0,189.7 428.3,189.8 426.6,189.8Z" fill="#3f6db6"/>
<line x1="466.9" y1="184.6" x2="466.9" y2="187.8" stroke="#111" stroke-width="0.9" stroke-dasharray="1.3,1"/>
<line x1="430.9" y1="183.4" x2="430.9" y2="188.9" stroke="#111" stroke-width="0.8" stroke-dasharray="1.2,1"/>
<rect x="445.6" y="185.2" width="1.3" height="2" fill="#111"/>
<path d="M426.6,194.1 428.3,194.1 430.0,194.1 431.7,194.3 433.4,194.5 435.1,194.9 436.8,195.4 438.5,195.9 440.2,196.5 441.9,196.9 443.6,197.2 445.3,197.2 447.0,197.2 448.7,197.2 450.4,197.2 452.1,197.2 453.7,197.2 455.4,197.2 457.1,197.2 458.8,197.2 460.5,197.2 462.2,196.8 463.9,196.3 465.6,195.9 467.3,195.6 469.0,195.6 470.7,195.9 472.4,196.1 474.1,196.5 475.8,196.7 477.5,197.0 479.2,197.2 480.9,197.4 482.6,197.5 484.3,197.6 486.0,197.7 487.7,197.8 487.7,197.8 486.0,197.9 484.3,198.0 482.6,198.1 480.9,198.2 479.2,198.3 477.5,198.6 475.8,198.8 474.1,199.1 472.4,199.4 470.7,199.7 469.0,199.9 467.3,199.9 465.6,199.7 463.9,199.3 462.2,198.8 460.5,198.4 458.8,198.3 457.1,198.3 455.4,198.3 453.7,198.3 452.1,198.3 450.4,198.3 448.7,198.3 447.0,198.3 445.3,198.3 443.6,198.3 441.9,198.6 440.2,199.1 438.5,199.6 436.8,200.2 435.1,200.7 433.4,201.0 431.7,201.3 430.0,201.4 428.3,201.5 426.6,201.5Z" fill="#3f6db6"/>
<line x1="468.1" y1="196.4" x2="468.1" y2="199.2" stroke="#111" stroke-width="0.9" stroke-dasharray="1.3,1"/>
<line x1="430.9" y1="195.0" x2="430.9" y2="200.6" stroke="#111" stroke-width="0.8" stroke-dasharray="1.2,1"/>
<rect x="442.9" y="196.8" width="1.3" height="2" fill="#111"/>
<path d="M426.6,205.7 428.3,205.7 430.0,205.8 431.7,206.0 433.4,206.3 435.1,206.8 436.8,207.3 438.5,207.9 440.2,208.5 441.9,208.8 443.6,208.8 445.3,208.8 447.0,208.8 448.7,208.8 450.4,208.8 452.1,208.8 453.7,208.8 455.4,208.8 457.1,208.8 458.8,208.8 460.5,208.8 462.2,208.4 463.9,207.9 465.6,207.5 467.3,207.2 469.0,207.3 470.7,207.5 472.4,207.8 474.1,208.1 475.8,208.4 477.5,208.6 479.2,208.8 480.9,209.0 482.6,209.1 484.3,209.2 486.0,209.3 487.7,209.4 487.7,209.4 486.0,209.5 484.3,209.6 482.6,209.7 480.9,209.8 479.2,210.0 477.5,210.2 475.8,210.4 474.1,210.7 472.4,211.0 470.7,211.3 469.0,211.5 467.3,211.6 465.6,211.3 463.9,210.9 462.2,210.4 460.5,210.0 458.8,209.9 457.1,209.9 455.4,209.9 453.7,209.9 452.1,209.9 450.4,209.9 448.7,209.9 447.0,209.9 445.3,209.9 443.6,209.9 441.9,209.9 440.2,210.3 438.5,210.9 436.8,211.5 435.1,212.0 433.4,212.5 431.7,212.8 430.0,213.0 428.3,213.1 426.6,213.1Z" fill="#3f6db6"/>
<line x1="468.1" y1="208.0" x2="468.1" y2="210.8" stroke="#111" stroke-width="0.9" stroke-dasharray="1.3,1"/>
<line x1="430.9" y1="206.7" x2="430.9" y2="212.1" stroke="#111" stroke-width="0.8" stroke-dasharray="1.2,1"/>
<rect x="441.4" y="208.4" width="1.3" height="2" fill="#111"/>
<path d="M426.6,217.3 428.3,217.3 430.0,217.4 431.7,217.6 433.4,217.9 435.1,218.4 436.8,218.9 438.5,219.5 440.2,220.1 441.9,220.5 443.6,220.5 445.3,220.5 447.0,220.5 448.7,220.5 450.4,220.5 452.1,220.5 453.7,220.5 455.4,220.5 457.1,220.5 458.8,220.5 460.5,220.4 462.2,220.0 463.9,219.6 465.6,219.2 467.3,219.0 469.0,219.0 470.7,219.2 472.4,219.5 474.1,219.8 475.8,220.0 477.5,220.3 479.2,220.5 480.9,220.6 482.6,220.8 484.3,220.8 486.0,220.9 487.7,221.0 487.7,221.0 486.0,221.1 484.3,221.2 482.6,221.3 480.9,221.4 479.2,221.6 477.5,221.8 475.8,222.0 474.1,222.3 472.4,222.6 470.7,222.9 469.0,223.1 467.3,223.1 465.6,222.8 463.9,222.4 462.2,222.0 460.5,221.6 458.8,221.6 457.1,221.6 455.4,221.6 453.7,221.6 452.1,221.6 450.4,221.6 448.7,221.6 447.0,221.6 445.3,221.6 443.6,221.6 441.9,221.6 440.2,222.0 438.5,222.5 436.8,223.1 435.1,223.7 433.4,224.1 431.7,224.5 430.0,224.6 428.3,224.7 426.6,224.7Z" fill="#3f6db6"/>
<line x1="468.1" y1="219.7" x2="468.1" y2="222.3" stroke="#111" stroke-width="0.9" stroke-dasharray="1.3,1"/>
<line x1="430.9" y1="218.3" x2="430.9" y2="223.8" stroke="#111" stroke-width="0.8" stroke-dasharray="1.2,1"/>
<rect x="441.4" y="220.0" width="1.3" height="2" fill="#111"/>
<path d="M426.6,228.8 428.3,228.9 430.0,228.9 431.7,229.1 433.4,229.5 435.1,230.1 436.8,230.7 438.5,231.3 440.2,231.9 441.9,232.1 443.6,232.1 445.3,232.1 447.0,232.1 448.7,232.1 450.4,232.1 452.1,232.1 453.7,232.1 455.4,232.1 457.1,232.1 458.8,232.1 460.5,232.1 462.2,231.7 463.9,231.3 465.6,230.9 467.3,230.7 469.0,230.7 470.7,230.9 472.4,231.2 474.1,231.4 475.8,231.7 477.5,231.9 479.2,232.1 480.9,232.3 482.6,232.4 484.3,232.5 486.0,232.5 487.7,232.6 487.7,232.6 486.0,232.7 484.3,232.8 482.6,232.9 480.9,233.0 479.2,233.2 477.5,233.3 475.8,233.6 474.1,233.8 472.4,234.1 470.7,234.4 469.0,234.6 467.3,234.6 465.6,234.4 463.9,234.0 462.2,233.6 460.5,233.2 458.8,233.2 457.1,233.2 455.4,233.2 453.7,233.2 452.1,233.2 450.4,233.2 448.7,233.2 447.0,233.2 445.3,233.2 443.6,233.2 441.9,233.2 440.2,233.4 438.5,233.9 436.8,234.6 435.1,235.2 433.4,235.8 431.7,236.1 430.0,236.3 428.3,236.4 426.6,236.4Z" fill="#3f6db6"/>
<line x1="468.1" y1="231.4" x2="468.1" y2="233.8" stroke="#111" stroke-width="0.9" stroke-dasharray="1.3,1"/>
<line x1="430.9" y1="229.8" x2="430.9" y2="235.5" stroke="#111" stroke-width="0.8" stroke-dasharray="1.2,1"/>
<rect x="440.7" y="231.6" width="1.3" height="2" fill="#111"/>
<path d="M426.6,240.5 428.3,240.5 430.0,240.6 431.7,240.8 433.4,241.1 435.1,241.7 436.8,242.3 438.5,243.0 440.2,243.5 441.9,243.7 443.6,243.7 445.3,243.7 447.0,243.7 448.7,243.7 450.4,243.7 452.1,243.7 453.7,243.7 455.4,243.7 457.1,243.7 458.8,243.7 460.5,243.7 462.2,243.3 463.9,242.9 465.6,242.5 467.3,242.3 469.0,242.3 470.7,242.5 472.4,242.8 474.1,243.1 475.8,243.3 477.5,243.6 479.2,243.7 480.9,243.9 482.6,244.0 484.3,244.1 486.0,244.2 487.7,244.3 487.7,244.3 486.0,244.4 484.3,244.4 482.6,244.5 480.9,244.6 479.2,244.8 477.5,245.0 475.8,245.2 474.1,245.5 472.4,245.7 470.7,246.0 469.0,246.2 467.3,246.2 465.6,246.0 463.9,245.6 462.2,245.2 460.5,244.8 458.8,244.8 457.1,244.8 455.4,244.8 453.7,244.8 452.1,244.8 450.4,244.8 448.7,244.8 447.0,244.8 445.3,244.8 443.6,244.8 441.9,244.8 440.2,245.0 438.5,245.6 436.8,246.2 435.1,246.8 433.4,247.4 431.7,247.8 430.0,248.0 428.3,248.0 426.6,248.1Z" fill="#3f6db6"/>
<line x1="468.1" y1="243.1" x2="468.1" y2="245.5" stroke="#111" stroke-width="0.9" stroke-dasharray="1.3,1"/>
<line x1="430.9" y1="241.4" x2="430.9" y2="247.1" stroke="#111" stroke-width="0.8" stroke-dasharray="1.2,1"/>
<rect x="440.7" y="243.3" width="1.3" height="2" fill="#111"/>
<path d="M542.0,93.2 543.2,93.2 544.4,93.1 545.6,93.1 546.9,92.9 548.1,92.7 549.3,92.4 550.5,92.0 551.8,91.5 553.0,91.0 554.2,90.4 555.4,89.9 556.6,89.5 557.9,89.4 559.1,89.5 560.3,89.8 561.5,90.1 562.7,90.5 564.0,90.8 565.2,91.2 566.4,91.5 567.6,91.8 568.9,92.1 570.1,92.3 571.3,92.5 572.5,92.6 573.7,92.8 575.0,92.8 576.2,92.7 577.4,92.5 578.6,92.3 579.8,92.2 581.1,92.4 582.3,92.7 583.5,93.0 584.7,93.1 586.0,93.2 586.0,93.2 584.7,93.3 583.5,93.4 582.3,93.7 581.1,94.0 579.8,94.2 578.6,94.1 577.4,93.9 576.2,93.7 575.0,93.6 573.7,93.6 572.5,93.8 571.3,93.9 570.1,94.1 568.9,94.3 567.6,94.6 566.4,94.9 565.2,95.2 564.0,95.6 562.7,95.9 561.5,96.3 560.3,96.6 559.1,96.9 557.9,97.0 556.6,96.9 555.4,96.5 554.2,96.0 553.0,95.4 551.8,94.9 550.5,94.4 549.3,94.0 548.1,93.7 546.9,93.5 545.6,93.3 544.4,93.3 543.2,93.2 542.0,93.2Z" fill="#3f6db6"/>
<line x1="557.9" y1="90.2" x2="557.9" y2="96.2" stroke="#111" stroke-width="0.9" stroke-dasharray="1.3,1"/>
<path d="M542.0,104.8 542.9,104.8 543.9,104.8 544.8,104.7 545.8,104.6 546.7,104.5 547.7,104.3 548.6,104.1 549.6,103.8 550.5,103.5 551.5,103.1 552.4,102.7 553.4,102.2 554.3,101.8 555.3,101.5 556.2,101.3 557.2,101.2 558.1,101.3 559.1,101.5 560.0,101.7 561.0,101.9 561.9,102.2 562.9,102.4 563.8,102.7 564.8,103.0 565.7,103.2 566.7,103.4 567.6,103.6 568.6,103.8 569.5,104.0 570.5,104.1 571.4,104.2 572.4,104.3 573.3,104.4 574.3,104.5 575.2,104.6 576.2,104.8 576.2,104.8 575.2,105.1 574.3,105.1 573.3,105.2 572.4,105.3 571.4,105.4 570.5,105.5 569.5,105.7 568.6,105.8 567.6,106.0 566.7,106.2 565.7,106.4 564.8,106.7 563.8,106.9 562.9,107.2 561.9,107.5 561.0,107.7 560.0,108.0 559.1,108.2 558.1,108.3 557.2,108.4 556.2,108.3 555.3,108.1 554.3,107.8 553.4,107.4 552.4,107.0 551.5,106.5 550.5,106.1 549.6,105.8 548.6,105.5 547.7,105.3 546.7,105.1 545.8,105.0 544.8,104.9 543.9,104.9 542.9,104.9 542.0,104.8Z" fill="#3f6db6"/>
<line x1="557.2" y1="102.0" x2="557.2" y2="107.6" stroke="#111" stroke-width="0.9" stroke-dasharray="1.3,1"/>
<path d="M515.1,116.1 516.8,116.1 518.5,116.1 520.2,116.1 521.9,116.1 523.6,116.1 525.3,116.1 527.0,116.1 528.7,116.1 530.4,116.1 532.1,116.1 533.8,116.1 535.5,116.1 537.2,116.1 538.9,116.1 540.6,116.1 542.2,116.1 543.9,116.1 545.6,116.1 547.3,115.9 549.0,115.4 550.7,114.8 552.4,114.0 554.1,113.3 555.8,112.9 557.5,112.9 559.2,113.2 560.9,113.7 562.6,114.2 564.3,114.6 566.0,115.0 567.7,115.4 569.4,115.7 571.1,115.9 572.8,116.1 574.5,116.2 576.2,116.4 576.2,116.4 574.5,116.7 572.8,116.8 571.1,117.0 569.4,117.2 567.7,117.5 566.0,117.9 564.3,118.3 562.6,118.7 560.9,119.2 559.2,119.6 557.5,120.0 555.8,120.0 554.1,119.6 552.4,118.9 550.7,118.1 549.0,117.4 547.3,117.0 545.6,116.7 543.9,116.7 542.2,116.7 540.6,116.7 538.9,116.7 537.2,116.7 535.5,116.7 533.8,116.7 532.1,116.7 530.4,116.7 528.7,116.7 527.0,116.7 525.3,116.7 523.6,116.7 521.9,116.7 520.2,116.7 518.5,116.7 516.8,116.7 515.1,116.7Z" fill="#3f6db6"/>
<line x1="556.6" y1="113.6" x2="556.6" y2="119.2" stroke="#111" stroke-width="0.9" stroke-dasharray="1.3,1"/>
<path d="M515.1,126.9 516.8,126.9 518.5,126.9 520.2,126.9 521.9,127.0 523.6,127.1 525.3,127.1 527.0,127.2 528.7,127.3 530.4,127.4 532.1,127.5 533.8,127.5 535.5,127.5 537.2,127.5 538.9,127.5 540.6,127.5 542.2,127.5 543.9,127.5 545.6,127.5 547.3,127.4 549.0,126.9 550.7,126.3 552.4,125.5 554.1,124.7 555.8,124.3 557.5,124.3 559.2,124.7 560.9,125.2 562.6,125.8 564.3,126.3 566.0,126.7 567.7,127.1 569.4,127.4 571.1,127.6 572.8,127.7 574.5,127.9 576.2,128.1 576.2,128.1 574.5,128.3 572.8,128.4 571.1,128.5 569.4,128.8 567.7,129.0 566.0,129.4 564.3,129.9 562.6,130.4 560.9,130.9 559.2,131.4 557.5,131.8 555.8,131.8 554.1,131.4 552.4,130.7 550.7,129.9 549.0,129.2 547.3,128.7 545.6,128.7 543.9,128.7 542.2,128.7 540.6,128.7 538.9,128.7 537.2,128.7 535.5,128.7 533.8,128.7 532.1,128.7 530.4,128.7 528.7,128.8 527.0,128.9 525.3,129.0 523.6,129.1 521.9,129.1 520.2,129.2 518.5,129.2 516.8,129.3 515.1,129.3Z" fill="#3f6db6"/>
<line x1="556.6" y1="125.0" x2="556.6" y2="131.1" stroke="#111" stroke-width="0.9" stroke-dasharray="1.3,1"/>
<path d="M515.1,137.5 516.8,137.5 518.5,137.5 520.2,137.6 521.9,137.7 523.6,137.9 525.3,138.0 527.0,138.2 528.7,138.3 530.4,138.5 532.1,138.6 533.8,138.8 535.5,138.9 537.2,139.1 538.9,139.1 540.6,139.1 542.2,139.1 543.9,139.1 545.6,139.1 547.3,138.9 549.0,138.4 550.7,137.7 552.4,136.9 554.1,136.3 555.8,136.1 557.5,136.3 559.2,136.7 560.9,137.2 562.6,137.7 564.3,138.1 566.0,138.5 567.7,138.9 569.4,139.1 571.1,139.3 572.8,139.4 574.5,139.5 576.2,139.7 576.2,139.7 574.5,139.8 572.8,139.9 571.1,140.1 569.4,140.3 567.7,140.5 566.0,140.8 564.3,141.2 562.6,141.7 560.9,142.2 559.2,142.7 557.5,143.1 555.8,143.3 554.1,143.0 552.4,142.4 550.7,141.7 549.0,141.0 547.3,140.5 545.6,140.2 543.9,140.2 542.2,140.2 540.6,140.2 538.9,140.2 537.2,140.3 535.5,140.4 533.8,140.6 532.1,140.7 530.4,140.9 528.7,141.0 527.0,141.2 525.3,141.4 523.6,141.5 521.9,141.6 520.2,141.7 518.5,141.8 516.8,141.9 515.1,141.9Z" fill="#3f6db6"/>
<line x1="556.0" y1="136.9" x2="556.0" y2="142.5" stroke="#111" stroke-width="0.9" stroke-dasharray="1.3,1"/>
<line x1="519.4" y1="138.4" x2="519.4" y2="141.0" stroke="#111" stroke-width="0.8" stroke-dasharray="1.2,1"/>
<rect x="537.7" y="138.7" width="1.3" height="2" fill="#111"/>
<path d="M515.1,148.1 516.8,148.1 518.5,148.2 520.2,148.3 521.9,148.5 523.6,148.6 525.3,148.9 527.0,149.1 528.7,149.3 530.4,149.6 532.1,149.8 533.8,150.0 535.5,150.2 537.2,150.4 538.9,150.6 540.6,150.7 542.2,150.8 543.9,150.7 545.6,150.6 547.3,150.2 549.0,149.6 550.7,148.8 552.4,148.1 554.1,147.6 555.8,147.5 557.5,147.8 559.2,148.3 560.9,148.8 562.6,149.4 564.3,149.8 566.0,150.2 567.7,150.5 569.4,150.8 571.1,150.9 572.8,151.1 574.5,151.1 576.2,151.3 576.2,151.3 574.5,151.5 572.8,151.5 571.1,151.7 569.4,151.8 567.7,152.1 566.0,152.4 564.3,152.8 562.6,153.2 560.9,153.8 559.2,154.3 557.5,154.8 555.8,155.1 554.1,155.0 552.4,154.5 550.7,153.8 549.0,153.0 547.3,152.4 545.6,152.0 543.9,151.9 542.2,151.9 540.6,151.9 538.9,152.0 537.2,152.2 535.5,152.4 533.8,152.6 532.1,152.8 530.4,153.0 528.7,153.3 527.0,153.5 525.3,153.7 523.6,154.0 521.9,154.1 520.2,154.3 518.5,154.4 516.8,154.5 515.1,154.5Z" fill="#3f6db6"/>
<line x1="555.4" y1="148.3" x2="555.4" y2="154.3" stroke="#111" stroke-width="0.9" stroke-dasharray="1.3,1"/>
<line x1="519.4" y1="149.0" x2="519.4" y2="153.6" stroke="#111" stroke-width="0.8" stroke-dasharray="1.2,1"/>
<rect x="541.6" y="150.3" width="1.3" height="2" fill="#111"/>
<path d="M515.1,159.7 516.8,159.7 518.5,159.8 520.2,159.9 521.9,160.1 523.6,160.3 525.3,160.5 527.0,160.7 528.7,160.9 530.4,161.2 532.1,161.4 533.8,161.6 535.5,161.8 537.2,162.0 538.9,162.2 540.6,162.3 542.2,162.3 543.9,162.3 545.6,162.0 547.3,161.6 549.0,161.1 550.7,160.5 552.4,160.0 554.1,159.9 555.8,160.1 557.5,160.4 559.2,160.9 560.9,161.3 562.6,161.7 564.3,162.0 566.0,162.2 567.7,162.5 569.4,162.6 571.1,162.7 572.8,162.8 574.5,162.8 576.2,162.9 576.2,162.9 574.5,163.0 572.8,163.1 571.1,163.1 569.4,163.2 567.7,163.4 566.0,163.6 564.3,163.9 562.6,164.2 560.9,164.6 559.2,165.0 557.5,165.4 555.8,165.8 554.1,166.0 552.4,165.8 550.7,165.3 549.0,164.7 547.3,164.2 545.6,163.8 543.9,163.6 542.2,163.5 540.6,163.6 538.9,163.7 537.2,163.8 535.5,164.0 533.8,164.2 532.1,164.4 530.4,164.7 528.7,164.9 527.0,165.1 525.3,165.4 523.6,165.6 521.9,165.8 520.2,165.9 518.5,166.0 516.8,166.1 515.1,166.1Z" fill="#3f6db6"/>
<line x1="554.2" y1="160.7" x2="554.2" y2="165.2" stroke="#111" stroke-width="0.9" stroke-dasharray="1.3,1"/>
<line x1="519.4" y1="160.7" x2="519.4" y2="165.2" stroke="#111" stroke-width="0.8" stroke-dasharray="1.2,1"/>
<rect x="541.5" y="161.9" width="1.3" height="2" fill="#111"/>
<path d="M515.1,170.9 516.8,171.0 518.5,171.0 520.2,171.1 521.9,171.3 523.6,171.5 525.3,171.8 527.0,172.1 528.7,172.5 530.4,172.8 532.1,173.2 533.8,173.5 535.5,173.8 537.2,174.0 538.9,174.0 540.6,174.0 542.2,174.0 543.9,174.0 545.6,174.0 547.3,173.6 549.0,173.1 550.7,172.5 552.4,172.1 554.1,171.9 555.8,172.1 557.5,172.4 559.2,172.8 560.9,173.1 562.6,173.5 564.3,173.7 566.0,174.0 567.7,174.1 569.4,174.3 571.1,174.4 572.8,174.4 574.5,174.5 576.2,174.5 576.2,174.5 574.5,174.6 572.8,174.7 571.1,174.7 569.4,174.8 567.7,174.9 566.0,175.1 564.3,175.3 562.6,175.6 560.9,176.0 559.2,176.3 557.5,176.7 555.8,177.0 554.1,177.1 552.4,177.0 550.7,176.5 549.0,176.0 547.3,175.5 545.6,175.1 543.9,175.1 542.2,175.1 540.6,175.1 538.9,175.1 537.2,175.1 535.5,175.3 533.8,175.6 532.1,175.9 530.4,176.2 528.7,176.6 527.0,176.9 525.3,177.3 523.6,177.6 521.9,177.8 520.2,178.0 518.5,178.1 516.8,178.1 515.1,178.1Z" fill="#3f6db6"/>
<line x1="554.2" y1="172.7" x2="554.2" y2="176.3" stroke="#111" stroke-width="0.9" stroke-dasharray="1.3,1"/>
<line x1="519.4" y1="171.9" x2="519.4" y2="177.2" stroke="#111" stroke-width="0.8" stroke-dasharray="1.2,1"/>
<rect x="536.6" y="173.5" width="1.3" height="2" fill="#111"/>
<path d="M515.1,182.6 516.8,182.6 518.5,182.6 520.2,182.7 521.9,182.8 523.6,183.1 525.3,183.4 527.0,183.8 528.7,184.2 530.4,184.7 532.1,185.1 533.8,185.4 535.5,185.6 537.2,185.6 538.9,185.6 540.6,185.6 542.2,185.6 543.9,185.6 545.6,185.6 547.3,185.3 549.0,184.8 550.7,184.2 552.4,183.8 554.1,183.7 555.8,183.8 557.5,184.1 559.2,184.5 560.9,184.8 562.6,185.1 564.3,185.4 566.0,185.6 567.7,185.8 569.4,185.9 571.1,186.0 572.8,186.0 574.5,186.1 576.2,186.2 576.2,186.2 574.5,186.2 572.8,186.3 571.1,186.3 569.4,186.4 567.7,186.5 566.0,186.7 564.3,186.9 562.6,187.2 560.9,187.5 559.2,187.9 557.5,188.2 555.8,188.5 554.1,188.7 552.4,188.5 550.7,188.1 549.0,187.5 547.3,187.0 545.6,186.7 543.9,186.7 542.2,186.7 540.6,186.7 538.9,186.7 537.2,186.7 535.5,186.7 533.8,186.9 532.1,187.2 530.4,187.6 528.7,188.1 527.0,188.5 525.3,188.9 523.6,189.3 521.9,189.5 520.2,189.6 518.5,189.7 516.8,189.8 515.1,189.8Z" fill="#3f6db6"/>
<line x1="554.2" y1="184.5" x2="554.2" y2="187.9" stroke="#111" stroke-width="0.9" stroke-dasharray="1.3,1"/>
<line x1="519.4" y1="183.4" x2="519.4" y2="188.9" stroke="#111" stroke-width="0.8" stroke-dasharray="1.2,1"/>
<rect x="534.2" y="185.2" width="1.3" height="2" fill="#111"/>
<path d="M515.1,194.1 516.8,194.1 518.5,194.1 520.2,194.3 521.9,194.5 523.6,194.9 525.3,195.4 527.0,195.9 528.7,196.5 530.4,196.9 532.1,197.2 533.8,197.2 535.5,197.2 537.2,197.2 538.9,197.2 540.6,197.2 542.2,197.2 543.9,197.2 545.6,197.2 547.3,197.2 549.0,196.8 550.7,196.4 552.4,195.9 554.1,195.6 555.8,195.5 557.5,195.7 559.2,196.0 560.9,196.3 562.6,196.6 564.3,196.9 566.0,197.1 567.7,197.3 569.4,197.5 571.1,197.6 572.8,197.6 574.5,197.7 576.2,197.8 576.2,197.8 574.5,197.9 572.8,197.9 571.1,198.0 569.4,198.1 567.7,198.2 566.0,198.4 564.3,198.7 562.6,198.9 560.9,199.3 559.2,199.6 557.5,199.9 555.8,200.1 554.1,200.0 552.4,199.7 550.7,199.2 549.0,198.7 547.3,198.3 545.6,198.3 543.9,198.3 542.2,198.3 540.6,198.3 538.9,198.3 537.2,198.3 535.5,198.3 533.8,198.3 532.1,198.3 530.4,198.6 528.7,199.1 527.0,199.6 525.3,200.2 523.6,200.7 521.9,201.0 520.2,201.3 518.5,201.4 516.8,201.5 515.1,201.5Z" fill="#3f6db6"/>
<line x1="555.4" y1="196.3" x2="555.4" y2="199.3" stroke="#111" stroke-width="0.9" stroke-dasharray="1.3,1"/>
<line x1="519.4" y1="195.0" x2="519.4" y2="200.6" stroke="#111" stroke-width="0.8" stroke-dasharray="1.2,1"/>
<rect x="531.3" y="196.8" width="1.3" height="2" fill="#111"/>
<path d="M515.1,205.7 516.8,205.7 518.5,205.8 520.2,206.0 521.9,206.3 523.6,206.8 525.3,207.3 527.0,207.9 528.7,208.5 530.4,208.8 532.1,208.8 533.8,208.8 535.5,208.8 537.2,208.8 538.9,208.8 540.6,208.8 542.2,208.8 543.9,208.8 545.6,208.8 547.3,208.8 549.0,208.5 550.7,208.0 552.4,207.6 554.1,207.3 555.8,207.2 557.5,207.4 559.2,207.7 560.9,208.0 562.6,208.3 564.3,208.6 566.0,208.8 567.7,209.0 569.4,209.1 571.1,209.2 572.8,209.3 574.5,209.3 576.2,209.4 576.2,209.4 574.5,209.5 572.8,209.5 571.1,209.6 569.4,209.7 567.7,209.8 566.0,210.0 564.3,210.2 562.6,210.5 560.9,210.8 559.2,211.1 557.5,211.4 555.8,211.6 554.1,211.5 552.4,211.2 550.7,210.8 549.0,210.3 547.3,209.9 545.6,209.9 543.9,209.9 542.2,209.9 540.6,209.9 538.9,209.9 537.2,209.9 535.5,209.9 533.8,209.9 532.1,209.9 530.4,209.9 528.7,210.3 527.0,210.9 525.3,211.5 523.6,212.0 521.9,212.5 520.2,212.8 518.5,213.0 516.8,213.1 515.1,213.1Z" fill="#3f6db6"/>
<line x1="555.4" y1="208.0" x2="555.4" y2="210.8" stroke="#111" stroke-width="0.9" stroke-dasharray="1.3,1"/>
<line x1="519.4" y1="206.7" x2="519.4" y2="212.1" stroke="#111" stroke-width="0.8" stroke-dasharray="1.2,1"/>
<rect x="529.8" y="208.4" width="1.3" height="2" fill="#111"/>
<path d="M515.1,217.2 516.8,217.2 518.5,217.3 520.2,217.5 521.9,217.9 523.6,218.4 525.3,219.1 527.0,219.7 528.7,220.3 530.4,220.5 532.1,220.5 533.8,220.5 535.5,220.5 537.2,220.5 538.9,220.5 540.6,220.5 542.2,220.5 543.9,220.5 545.6,220.5 547.3,220.5 549.0,220.4 550.7,220.0 552.4,219.6 554.1,219.2 555.8,219.0 557.5,219.0 559.2,219.2 560.9,219.5 562.6,219.8 564.3,220.0 566.0,220.3 567.7,220.5 569.4,220.6 571.1,220.8 572.8,220.8 574.5,220.9 576.2,221.0 576.2,221.0 574.5,221.1 572.8,221.2 571.1,221.3 569.4,221.4 567.7,221.6 566.0,221.8 564.3,222.0 562.6,222.3 560.9,222.6 559.2,222.9 557.5,223.1 555.8,223.1 554.1,222.8 552.4,222.4 550.7,222.0 549.0,221.6 547.3,221.6 545.6,221.6 543.9,221.6 542.2,221.6 540.6,221.6 538.9,221.6 537.2,221.6 535.5,221.6 533.8,221.6 532.1,221.6 530.4,221.6 528.7,221.8 527.0,222.3 525.3,223.0 523.6,223.6 521.9,224.1 520.2,224.5 518.5,224.7 516.8,224.8 515.1,224.8Z" fill="#3f6db6"/>
<line x1="556.6" y1="219.7" x2="556.6" y2="222.3" stroke="#111" stroke-width="0.9" stroke-dasharray="1.3,1"/>
<line x1="519.4" y1="218.2" x2="519.4" y2="223.8" stroke="#111" stroke-width="0.8" stroke-dasharray="1.2,1"/>
<rect x="529.2" y="220.0" width="1.3" height="2" fill="#111"/>
<path d="M515.1,228.8 516.8,228.9 518.5,228.9 520.2,229.1 521.9,229.5 523.6,230.1 525.3,230.7 527.0,231.3 528.7,231.9 530.4,232.1 532.1,232.1 533.8,232.1 535.5,232.1 537.2,232.1 538.9,232.1 540.6,232.1 542.2,232.1 543.9,232.1 545.6,232.1 547.3,232.1 549.0,232.1 550.7,231.7 552.4,231.3 554.1,230.9 555.8,230.7 557.5,230.7 559.2,230.9 560.9,231.2 562.6,231.4 564.3,231.7 566.0,231.9 567.7,232.1 569.4,232.3 571.1,232.4 572.8,232.5 574.5,232.5 576.2,232.6 576.2,232.6 574.5,232.7 572.8,232.8 571.1,232.9 569.4,233.0 567.7,233.2 566.0,233.3 564.3,233.6 562.6,233.8 560.9,234.1 559.2,234.4 557.5,234.6 555.8,234.6 554.1,234.4 552.4,234.0 550.7,233.6 549.0,233.2 547.3,233.2 545.6,233.2 543.9,233.2 542.2,233.2 540.6,233.2 538.9,233.2 537.2,233.2 535.5,233.2 533.8,233.2 532.1,233.2 530.4,233.2 528.7,233.4 527.0,233.9 525.3,234.6 523.6,235.2 521.9,235.8 520.2,236.1 518.5,236.3 516.8,236.4 515.1,236.4Z" fill="#3f6db6"/>
<line x1="556.6" y1="231.4" x2="556.6" y2="233.8" stroke="#111" stroke-width="0.9" stroke-dasharray="1.3,1"/>
<line x1="519.4" y1="229.8" x2="519.4" y2="235.5" stroke="#111" stroke-width="0.8" stroke-dasharray="1.2,1"/>
<rect x="529.2" y="231.6" width="1.3" height="2" fill="#111"/>
<path d="M515.1,240.5 516.8,240.5 518.5,240.6 520.2,240.8 521.9,241.1 523.6,241.7 525.3,242.3 527.0,243.0 528.7,243.5 530.4,243.7 532.1,243.7 533.8,243.7 535.5,243.7 537.2,243.7 538.9,243.7 540.6,243.7 542.2,243.7 543.9,243.7 545.6,243.7 547.3,243.7 549.0,243.4 550.7,243.0 552.4,242.6 554.1,242.3 555.8,242.3 557.5,242.4 559.2,242.7 560.9,243.0 562.6,243.2 564.3,243.5 566.0,243.7 567.7,243.9 569.4,244.0 571.1,244.1 572.8,244.1 574.5,244.2 576.2,244.3 576.2,244.3 574.5,244.3 572.8,244.4 571.1,244.4 569.4,244.5 567.7,244.7 566.0,244.8 564.3,245.0 562.6,245.3 560.9,245.5 559.2,245.8 557.5,246.1 555.8,246.2 554.1,246.2 552.4,245.9 550.7,245.5 549.0,245.1 547.3,244.8 545.6,244.8 543.9,244.8 542.2,244.8 540.6,244.8 538.9,244.8 537.2,244.8 535.5,244.8 533.8,244.8 532.1,244.8 530.4,244.8 528.7,245.0 527.0,245.6 525.3,246.2 523.6,246.8 521.9,247.4 520.2,247.8 518.5,248.0 516.8,248.0 515.1,248.1Z" fill="#3f6db6"/>
<line x1="555.4" y1="243.1" x2="555.4" y2="245.5" stroke="#111" stroke-width="0.9" stroke-dasharray="1.3,1"/>
<line x1="519.4" y1="241.4" x2="519.4" y2="247.1" stroke="#111" stroke-width="0.8" stroke-dasharray="1.2,1"/>
<rect x="529.1" y="243.3" width="1.3" height="2" fill="#111"/>
<path d="M603.6,92.9 605.6,92.9 607.5,92.9 609.5,92.9 611.5,92.9 613.4,92.9 615.4,92.9 617.4,92.9 619.3,92.9 621.3,92.9 623.3,92.9 625.3,92.9 627.2,92.9 629.2,92.9 631.2,92.9 633.1,92.9 635.1,92.9 637.1,92.6 639.0,92.0 641.0,91.2 643.0,90.3 644.9,89.6 646.9,89.4 648.9,89.8 650.8,90.3 652.8,90.9 654.8,91.5 656.7,91.9 658.7,92.3 660.7,92.6 662.6,92.8 664.6,92.7 666.6,92.4 668.6,92.2 670.5,92.6 672.5,93.0 674.5,93.2 674.5,93.2 672.5,93.4 670.5,93.8 668.6,94.2 666.6,94.0 664.6,93.7 662.6,93.6 660.7,93.8 658.7,94.1 656.7,94.5 654.8,94.9 652.8,95.5 650.8,96.1 648.9,96.6 646.9,97.0 644.9,96.8 643.0,96.1 641.0,95.2 639.0,94.4 637.1,93.8 635.1,93.5 633.1,93.5 631.2,93.5 629.2,93.5 627.2,93.5 625.3,93.5 623.3,93.5 621.3,93.5 619.3,93.5 617.4,93.5 615.4,93.5 613.4,93.5 611.5,93.5 609.5,93.5 607.5,93.5 605.6,93.5 603.6,93.5Z" fill="#3f6db6"/>
<line x1="646.4" y1="90.2" x2="646.4" y2="96.2" stroke="#111" stroke-width="0.9" stroke-dasharray="1.3,1"/>
<path d="M603.6,103.8 605.3,103.8 607.0,103.8 608.7,103.9 610.4,103.9 612.1,104.0 613.8,104.1 615.5,104.1 617.2,104.2 618.9,104.2 620.6,104.2 622.3,104.2 624.0,104.2 625.7,104.2 627.4,104.2 629.1,104.2 630.7,104.2 632.4,104.2 634.1,104.2 635.8,104.2 637.5,103.7 639.2,103.0 640.9,102.2 642.6,101.5 644.3,101.1 646.0,101.1 647.7,101.5 649.4,102.0 651.1,102.5 652.8,103.0 654.5,103.5 656.2,103.8 657.9,104.1 659.6,104.3 661.3,104.5 663.0,104.6 664.7,104.8 664.7,104.8 663.0,105.0 661.3,105.1 659.6,105.3 657.9,105.5 656.2,105.8 654.5,106.2 652.8,106.6 651.1,107.1 649.4,107.7 647.7,108.2 646.0,108.5 644.3,108.6 642.6,108.1 640.9,107.4 639.2,106.6 637.5,105.9 635.8,105.4 634.1,105.4 632.4,105.4 630.7,105.4 629.1,105.4 627.4,105.4 625.7,105.4 624.0,105.4 622.3,105.4 620.6,105.4 618.9,105.4 617.2,105.4 615.5,105.5 613.8,105.6 612.1,105.6 610.4,105.7 608.7,105.8 607.0,105.8 605.3,105.8 603.6,105.8Z" fill="#3f6db6"/>
<line x1="645.1" y1="101.8" x2="645.1" y2="107.8" stroke="#111" stroke-width="0.9" stroke-dasharray="1.3,1"/>
<path d="M603.6,114.6 605.3,114.7 607.0,114.7 608.7,114.8 610.4,114.8 612.1,114.9 613.8,115.1 615.5,115.2 617.2,115.3 618.9,115.5 620.6,115.6 622.3,115.7 624.0,115.8 625.7,115.9 627.4,115.9 629.1,115.9 630.7,115.9 632.4,115.9 634.1,115.9 635.8,115.8 637.5,115.3 639.2,114.6 640.9,113.8 642.6,113.1 644.3,112.7 646.0,112.7 647.7,113.1 649.4,113.6 651.1,114.1 652.8,114.6 654.5,115.1 656.2,115.5 657.9,115.7 659.6,116.0 661.3,116.1 663.0,116.2 664.7,116.4 664.7,116.4 663.0,116.6 661.3,116.8 659.6,116.9 657.9,117.1 656.2,117.4 654.5,117.8 652.8,118.2 651.1,118.7 649.4,119.3 647.7,119.8 646.0,120.2 644.3,120.2 642.6,119.8 640.9,119.1 639.2,118.3 637.5,117.6 635.8,117.1 634.1,117.0 632.4,117.0 630.7,117.0 629.1,117.0 627.4,117.0 625.7,117.0 624.0,117.0 622.3,117.2 620.6,117.3 618.9,117.4 617.2,117.6 615.5,117.7 613.8,117.8 612.1,117.9 610.4,118.0 608.7,118.1 607.0,118.2 605.3,118.2 603.6,118.2Z" fill="#3f6db6"/>
<line x1="645.1" y1="113.4" x2="645.1" y2="119.5" stroke="#111" stroke-width="0.9" stroke-dasharray="1.3,1"/>
<line x1="607.9" y1="115.5" x2="607.9" y2="117.4" stroke="#111" stroke-width="0.8" stroke-dasharray="1.2,1"/>
<rect x="624.3" y="115.4" width="1.3" height="2" fill="#111"/>
<path d="M603.6,126.1 605.3,126.1 607.0,126.1 608.7,126.2 610.4,126.3 612.1,126.4 613.8,126.5 615.5,126.7 617.2,126.8 618.9,127.0 620.6,127.1 622.3,127.3 624.0,127.4 625.7,127.5 627.4,127.5 629.1,127.5 630.7,127.5 632.4,127.5 634.1,127.5 635.8,127.4 637.5,126.9 639.2,126.2 640.9,125.4 642.6,124.7 644.3,124.3 646.0,124.3 647.7,124.7 649.4,125.2 651.1,125.8 652.8,126.3 654.5,126.7 656.2,127.1 657.9,127.4 659.6,127.6 661.3,127.7 663.0,127.9 664.7,128.1 664.7,128.1 663.0,128.3 661.3,128.4 659.6,128.5 657.9,128.8 656.2,129.0 654.5,129.4 652.8,129.9 651.1,130.4 649.4,130.9 647.7,131.4 646.0,131.8 644.3,131.8 642.6,131.4 640.9,130.7 639.2,129.9 637.5,129.2 635.8,128.8 634.1,128.6 632.4,128.6 630.7,128.6 629.1,128.6 627.4,128.6 625.7,128.6 624.0,128.7 622.3,128.9 620.6,129.0 618.9,129.1 617.2,129.3 615.5,129.4 613.8,129.6 612.1,129.7 610.4,129.8 608.7,129.9 607.0,130.0 605.3,130.0 603.6,130.1Z" fill="#3f6db6"/>
<line x1="645.1" y1="125.0" x2="645.1" y2="131.1" stroke="#111" stroke-width="0.9" stroke-dasharray="1.3,1"/>
<line x1="607.9" y1="127.0" x2="607.9" y2="129.2" stroke="#111" stroke-width="0.8" stroke-dasharray="1.2,1"/>
<rect x="625.4" y="127.1" width="1.3" height="2" fill="#111"/>
<path d="M603.6,136.9 605.3,136.9 607.0,137.0 608.7,137.1 610.4,137.2 612.1,137.4 613.8,137.5 615.5,137.7 617.2,138.0 618.9,138.2 620.6,138.4 622.3,138.6 624.0,138.7 625.7,138.9 627.4,139.0 629.1,139.1 630.7,139.1 632.4,139.1 634.1,139.1 635.8,138.9 637.5,138.5 639.2,137.8 640.9,137.0 642.6,136.3 644.3,135.9 646.0,135.9 647.7,136.3 649.4,136.8 651.1,137.4 652.8,137.9 654.5,138.3 656.2,138.7 657.9,139.0 659.6,139.2 661.3,139.4 663.0,139.5 664.7,139.7 664.7,139.7 663.0,139.9 661.3,140.0 659.6,140.2 657.9,140.4 656.2,140.7 654.5,141.0 652.8,141.5 651.1,142.0 649.4,142.5 647.7,143.0 646.0,143.4 644.3,143.5 642.6,143.0 640.9,142.3 639.2,141.5 637.5,140.9 635.8,140.4 634.1,140.2 632.4,140.2 630.7,140.2 629.1,140.2 627.4,140.3 625.7,140.5 624.0,140.6 622.3,140.8 620.6,141.0 618.9,141.2 617.2,141.4 615.5,141.6 613.8,141.8 612.1,142.0 610.4,142.2 608.7,142.3 607.0,142.4 605.3,142.5 603.6,142.5Z" fill="#3f6db6"/>
<line x1="645.1" y1="136.6" x2="645.1" y2="142.7" stroke="#111" stroke-width="0.9" stroke-dasharray="1.3,1"/>
<line x1="607.9" y1="137.8" x2="607.9" y2="141.5" stroke="#111" stroke-width="0.8" stroke-dasharray="1.2,1"/>
<rect x="628.4" y="138.7" width="1.3" height="2" fill="#111"/>
<path d="M603.6,148.0 605.3,148.0 607.0,148.1 608.7,148.2 610.4,148.4 612.1,148.6 613.8,148.8 615.5,149.0 617.2,149.3 618.9,149.5 620.6,149.7 622.3,150.0 624.0,150.2 625.7,150.4 627.4,150.5 629.1,150.7 630.7,150.8 632.4,150.8 634.1,150.8 635.8,150.5 637.5,150.1 639.2,149.4 640.9,148.6 642.6,147.9 644.3,147.5 646.0,147.6 647.7,147.9 649.4,148.5 651.1,149.0 652.8,149.5 654.5,149.9 656.2,150.3 657.9,150.6 659.6,150.8 661.3,151.0 663.0,151.1 664.7,151.3 664.7,151.3 663.0,151.5 661.3,151.6 659.6,151.8 657.9,152.0 656.2,152.3 654.5,152.7 652.8,153.1 651.1,153.6 649.4,154.1 647.7,154.7 646.0,155.0 644.3,155.1 642.6,154.7 640.9,154.0 639.2,153.2 637.5,152.5 635.8,152.1 634.1,151.9 632.4,151.9 630.7,151.9 629.1,151.9 627.4,152.1 625.7,152.2 624.0,152.4 622.3,152.6 620.6,152.9 618.9,153.1 617.2,153.3 615.5,153.6 613.8,153.8 612.1,154.0 610.4,154.2 608.7,154.4 607.0,154.5 605.3,154.6 603.6,154.6Z" fill="#3f6db6"/>
<line x1="645.1" y1="148.3" x2="645.1" y2="154.3" stroke="#111" stroke-width="0.9" stroke-dasharray="1.3,1"/>
<line x1="607.9" y1="149.0" x2="607.9" y2="153.6" stroke="#111" stroke-width="0.8" stroke-dasharray="1.2,1"/>
<rect x="629.9" y="150.3" width="1.3" height="2" fill="#111"/>
<path d="M603.6,159.6 605.3,159.6 607.0,159.7 608.7,159.8 610.4,160.0 612.1,160.2 613.8,160.4 615.5,160.6 617.2,160.9 618.9,161.1 620.6,161.4 622.3,161.6 624.0,161.8 625.7,162.0 627.4,162.2 629.1,162.3 630.7,162.4 632.4,162.4 634.1,162.4 635.8,162.1 637.5,161.7 639.2,161.0 640.9,160.3 642.6,159.6 644.3,159.1 646.0,159.2 647.7,159.6 649.4,160.1 651.1,160.6 652.8,161.1 654.5,161.6 656.2,161.9 657.9,162.2 659.6,162.4 661.3,162.6 663.0,162.7 664.7,162.9 664.7,162.9 663.0,163.1 661.3,163.2 659.6,163.4 657.9,163.6 656.2,163.9 654.5,164.3 652.8,164.7 651.1,165.2 649.4,165.8 647.7,166.3 646.0,166.7 644.3,166.7 642.6,166.3 640.9,165.6 639.2,164.8 637.5,164.1 635.8,163.7 634.1,163.5 632.4,163.5 630.7,163.5 629.1,163.5 627.4,163.7 625.7,163.8 624.0,164.0 622.3,164.2 620.6,164.5 618.9,164.7 617.2,165.0 615.5,165.2 613.8,165.4 612.1,165.7 610.4,165.8 608.7,166.0 607.0,166.1 605.3,166.2 603.6,166.2Z" fill="#3f6db6"/>
<line x1="645.1" y1="159.9" x2="645.1" y2="166.0" stroke="#111" stroke-width="0.9" stroke-dasharray="1.3,1"/>
<line x1="607.9" y1="160.6" x2="607.9" y2="165.3" stroke="#111" stroke-width="0.8" stroke-dasharray="1.2,1"/>
<rect x="629.9" y="161.9" width="1.3" height="2" fill="#111"/>
<path d="M603.6,171.1 605.3,171.2 607.0,171.2 608.7,171.4 610.4,171.5 612.1,171.7 613.8,171.9 615.5,172.2 617.2,172.4 618.9,172.7 620.6,172.9 622.3,173.2 624.0,173.4 625.7,173.6 627.4,173.8 629.1,173.9 630.7,174.0 632.4,174.0 634.1,174.0 635.8,173.8 637.5,173.4 639.2,172.8 640.9,172.0 642.6,171.3 644.3,170.9 646.0,171.0 647.7,171.4 649.4,171.8 651.1,172.4 652.8,172.8 654.5,173.3 656.2,173.6 657.9,173.9 659.6,174.1 661.3,174.2 663.0,174.3 664.7,174.5 664.7,174.5 663.0,174.7 661.3,174.8 659.6,175.0 657.9,175.2 656.2,175.5 654.5,175.8 652.8,176.2 651.1,176.7 649.4,177.2 647.7,177.7 646.0,178.1 644.3,178.1 642.6,177.7 640.9,177.1 639.2,176.3 637.5,175.7 635.8,175.3 634.1,175.1 632.4,175.1 630.7,175.1 629.1,175.2 627.4,175.3 625.7,175.5 624.0,175.7 622.3,175.9 620.6,176.1 618.9,176.4 617.2,176.6 615.5,176.9 613.8,177.1 612.1,177.4 610.4,177.6 608.7,177.7 607.0,177.8 605.3,177.9 603.6,177.9Z" fill="#3f6db6"/>
<line x1="645.1" y1="171.7" x2="645.1" y2="177.4" stroke="#111" stroke-width="0.9" stroke-dasharray="1.3,1"/>
<line x1="607.9" y1="172.1" x2="607.9" y2="177.0" stroke="#111" stroke-width="0.8" stroke-dasharray="1.2,1"/>
<rect x="629.9" y="173.5" width="1.3" height="2" fill="#111"/>
<path d="M603.6,182.7 605.3,182.7 607.0,182.8 608.7,182.9 610.4,183.1 612.1,183.3 613.8,183.5 615.5,183.7 617.2,184.0 618.9,184.3 620.6,184.5 622.3,184.8 624.0,185.0 625.7,185.2 627.4,185.4 629.1,185.5 630.7,185.6 632.4,185.6 634.1,185.6 635.8,185.4 637.5,185.0 639.2,184.4 640.9,183.7 642.6,183.1 644.3,182.7 646.0,182.7 647.7,183.1 649.4,183.5 651.1,184.0 652.8,184.5 654.5,184.9 656.2,185.3 657.9,185.5 659.6,185.7 661.3,185.9 663.0,186.0 664.7,186.2 664.7,186.2 663.0,186.4 661.3,186.5 659.6,186.6 657.9,186.8 656.2,187.1 654.5,187.4 652.8,187.8 651.1,188.3 649.4,188.8 647.7,189.3 646.0,189.6 644.3,189.7 642.6,189.3 640.9,188.6 639.2,187.9 637.5,187.3 635.8,186.9 634.1,186.7 632.4,186.7 630.7,186.7 629.1,186.8 627.4,187.0 625.7,187.1 624.0,187.3 622.3,187.6 620.6,187.8 618.9,188.1 617.2,188.3 615.5,188.6 613.8,188.8 612.1,189.1 610.4,189.3 608.7,189.4 607.0,189.6 605.3,189.6 603.6,189.7Z" fill="#3f6db6"/>
<line x1="645.1" y1="183.4" x2="645.1" y2="188.9" stroke="#111" stroke-width="0.9" stroke-dasharray="1.3,1"/>
<line x1="607.9" y1="183.6" x2="607.9" y2="188.7" stroke="#111" stroke-width="0.8" stroke-dasharray="1.2,1"/>
<rect x="630.2" y="185.2" width="1.3" height="2" fill="#111"/>
<path d="M603.6,194.2 605.3,194.2 607.0,194.3 608.7,194.4 610.4,194.6 612.1,194.8 613.8,195.0 615.5,195.3 617.2,195.6 618.9,195.8 620.6,196.1 622.3,196.3 624.0,196.6 625.7,196.8 627.4,197.0 629.1,197.1 630.7,197.2 632.4,197.2 634.1,197.1 635.8,196.8 637.5,196.3 639.2,195.7 640.9,195.1 642.6,194.6 644.3,194.6 646.0,194.8 647.7,195.3 649.4,195.7 651.1,196.1 652.8,196.5 654.5,196.9 656.2,197.1 657.9,197.3 659.6,197.5 661.3,197.6 663.0,197.7 664.7,197.8 664.7,197.8 663.0,197.9 661.3,198.0 659.6,198.1 657.9,198.2 656.2,198.4 654.5,198.7 652.8,199.0 651.1,199.4 649.4,199.9 647.7,200.3 646.0,200.7 644.3,201.0 642.6,200.9 640.9,200.5 639.2,199.9 637.5,199.3 635.8,198.8 634.1,198.5 632.4,198.4 630.7,198.4 629.1,198.5 627.4,198.6 625.7,198.8 624.0,199.0 622.3,199.2 620.6,199.5 618.9,199.7 617.2,200.0 615.5,200.3 613.8,200.5 612.1,200.8 610.4,201.0 608.7,201.1 607.0,201.3 605.3,201.4 603.6,201.4Z" fill="#3f6db6"/>
<line x1="643.9" y1="195.3" x2="643.9" y2="200.2" stroke="#111" stroke-width="0.9" stroke-dasharray="1.3,1"/>
<line x1="607.9" y1="195.1" x2="607.9" y2="200.4" stroke="#111" stroke-width="0.8" stroke-dasharray="1.2,1"/>
<rect x="631.2" y="196.8" width="1.3" height="2" fill="#111"/>
<path d="M603.6,205.8 605.3,205.8 607.0,205.9 608.7,206.0 610.4,206.2 612.1,206.4 613.8,206.7 615.5,206.9 617.2,207.2 618.9,207.4 620.6,207.7 622.3,208.0 624.0,208.2 625.7,208.4 627.4,208.6 629.1,208.7 630.7,208.8 632.4,208.8 634.1,208.7 635.8,208.5 637.5,208.0 639.2,207.4 640.9,206.8 642.6,206.4 644.3,206.4 646.0,206.6 647.7,207.0 649.4,207.5 651.1,207.9 652.8,208.2 654.5,208.5 656.2,208.8 657.9,209.0 659.6,209.1 661.3,209.2 663.0,209.3 664.7,209.4 664.7,209.4 663.0,209.5 661.3,209.6 659.6,209.7 657.9,209.8 656.2,210.0 654.5,210.3 652.8,210.6 651.1,210.9 649.4,211.3 647.7,211.8 646.0,212.2 644.3,212.4 642.6,212.4 640.9,212.0 639.2,211.4 637.5,210.8 635.8,210.3 634.1,210.1 632.4,210.0 630.7,210.0 629.1,210.1 627.4,210.2 625.7,210.4 624.0,210.6 622.3,210.8 620.6,211.1 618.9,211.4 617.2,211.6 615.5,211.9 613.8,212.1 612.1,212.4 610.4,212.6 608.7,212.8 607.0,212.9 605.3,213.0 603.6,213.0Z" fill="#3f6db6"/>
<line x1="643.9" y1="207.1" x2="643.9" y2="211.7" stroke="#111" stroke-width="0.9" stroke-dasharray="1.3,1"/>
<line x1="607.9" y1="206.8" x2="607.9" y2="212.0" stroke="#111" stroke-width="0.8" stroke-dasharray="1.2,1"/>
<rect x="631.2" y="208.4" width="1.3" height="2" fill="#111"/>
<path d="M603.6,217.4 605.3,217.4 607.0,217.5 608.7,217.7 610.4,217.8 612.1,218.0 613.8,218.3 615.5,218.5 617.2,218.8 618.9,219.1 620.6,219.3 622.3,219.6 624.0,219.8 625.7,220.0 627.4,220.2 629.1,220.3 630.7,220.4 632.4,220.5 634.1,220.4 635.8,220.1 637.5,219.7 639.2,219.2 640.9,218.6 642.6,218.3 644.3,218.2 646.0,218.4 647.7,218.8 649.4,219.2 651.1,219.6 652.8,219.9 654.5,220.2 656.2,220.5 657.9,220.6 659.6,220.8 661.3,220.8 663.0,220.9 664.7,221.0 664.7,221.0 663.0,221.1 661.3,221.2 659.6,221.3 657.9,221.4 656.2,221.6 654.5,221.8 652.8,222.1 651.1,222.4 649.4,222.8 647.7,223.2 646.0,223.6 644.3,223.8 642.6,223.8 640.9,223.4 639.2,222.9 637.5,222.3 635.8,221.9 634.1,221.7 632.4,221.6 630.7,221.6 629.1,221.7 627.4,221.8 625.7,222.0 624.0,222.2 622.3,222.5 620.6,222.7 618.9,223.0 617.2,223.2 615.5,223.5 613.8,223.8 612.1,224.0 610.4,224.2 608.7,224.4 607.0,224.5 605.3,224.6 603.6,224.6Z" fill="#3f6db6"/>
<line x1="643.9" y1="219.0" x2="643.9" y2="223.1" stroke="#111" stroke-width="0.9" stroke-dasharray="1.3,1"/>
<line x1="607.9" y1="218.4" x2="607.9" y2="223.7" stroke="#111" stroke-width="0.8" stroke-dasharray="1.2,1"/>
<rect x="631.6" y="220.0" width="1.3" height="2" fill="#111"/>
<path d="M603.6,228.8 605.3,228.9 607.0,229.1 608.7,229.3 610.4,229.7 612.1,230.1 613.8,230.5 615.5,230.9 617.2,231.3 618.9,231.6 620.6,231.9 622.3,232.1 624.0,232.1 625.7,232.1 627.4,232.1 629.1,232.1 630.7,232.1 632.4,232.1 634.1,232.1 635.8,232.1 637.5,231.7 639.2,231.2 640.9,230.7 642.6,230.3 644.3,230.3 646.0,230.5 647.7,230.8 649.4,231.1 651.1,231.4 652.8,231.7 654.5,232.0 656.2,232.2 657.9,232.3 659.6,232.4 661.3,232.5 663.0,232.5 664.7,232.6 664.7,232.6 663.0,232.7 661.3,232.8 659.6,232.9 657.9,233.0 656.2,233.1 654.5,233.3 652.8,233.6 651.1,233.9 649.4,234.2 647.7,234.5 646.0,234.8 644.3,235.0 642.6,235.0 640.9,234.6 639.2,234.1 637.5,233.6 635.8,233.2 634.1,233.2 632.4,233.2 630.7,233.2 629.1,233.2 627.4,233.2 625.7,233.2 624.0,233.2 622.3,233.2 620.6,233.4 618.9,233.7 617.2,234.0 615.5,234.4 613.8,234.8 612.1,235.2 610.4,235.6 608.7,235.9 607.0,236.2 605.3,236.4 603.6,236.4Z" fill="#3f6db6"/>
<line x1="643.9" y1="231.0" x2="643.9" y2="234.2" stroke="#111" stroke-width="0.9" stroke-dasharray="1.3,1"/>
<line x1="607.9" y1="230.0" x2="607.9" y2="235.3" stroke="#111" stroke-width="0.8" stroke-dasharray="1.2,1"/>
<rect x="621.9" y="231.6" width="1.3" height="2" fill="#111"/>
<path d="M603.6,240.5 605.3,240.5 607.0,240.7 608.7,241.0 610.4,241.3 612.1,241.7 613.8,242.1 615.5,242.5 617.2,242.9 618.9,243.2 620.6,243.5 622.3,243.7 624.0,243.7 625.7,243.7 627.4,243.7 629.1,243.7 630.7,243.7 632.4,243.7 634.1,243.7 635.8,243.7 637.5,243.4 639.2,242.9 640.9,242.5 642.6,242.1 644.3,242.1 646.0,242.3 647.7,242.5 649.4,242.8 651.1,243.1 652.8,243.4 654.5,243.6 656.2,243.8 657.9,244.0 659.6,244.1 661.3,244.1 663.0,244.2 664.7,244.3 664.7,244.3 663.0,244.3 661.3,244.4 659.6,244.5 657.9,244.6 656.2,244.7 654.5,244.9 652.8,245.1 651.1,245.4 649.4,245.7 647.7,246.0 646.0,246.3 644.3,246.4 642.6,246.4 640.9,246.1 639.2,245.6 637.5,245.2 635.8,244.8 634.1,244.8 632.4,244.8 630.7,244.8 629.1,244.8 627.4,244.8 625.7,244.8 624.0,244.8 622.3,244.8 620.6,245.0 618.9,245.3 617.2,245.6 615.5,246.0 613.8,246.4 612.1,246.8 610.4,247.2 608.7,247.6 607.0,247.8 605.3,248.0 603.6,248.1Z" fill="#3f6db6"/>
<line x1="643.9" y1="242.9" x2="643.9" y2="245.7" stroke="#111" stroke-width="0.9" stroke-dasharray="1.3,1"/>
<line x1="607.9" y1="241.6" x2="607.9" y2="246.9" stroke="#111" stroke-width="0.8" stroke-dasharray="1.2,1"/>
<rect x="621.9" y="243.3" width="1.3" height="2" fill="#111"/>
<path d="M158.4,84.7 H231.7" stroke="#000" stroke-width="1.7" fill="none"/>
<path d="M158.4,77.7 V85.5" stroke="#000" stroke-width="1.5" fill="none"/>
<path d="M182.8,77.7 V85.5" stroke="#000" stroke-width="1.5" fill="none"/>
<path d="M207.3,77.7 V85.5" stroke="#000" stroke-width="1.5" fill="none"/>
<path d="M231.7,77.7 V85.5" stroke="#000" stroke-width="1.5" fill="none"/>
<path d="M158.4,77.7 V252.6" stroke="#000" stroke-width="1.7" fill="none"/>
<path d="M151.4,92.50 H158.4" stroke="#000" stroke-width="1.5" fill="none"/>
<path d="M151.4,104.12 H158.4" stroke="#000" stroke-width="1.5" fill="none"/>
<path d="M151.4,115.74 H158.4" stroke="#000" stroke-width="1.5" fill="none"/>
<path d="M151.4,127.36 H158.4" stroke="#000" stroke-width="1.5" fill="none"/>
<path d="M151.4,138.98 H158.4" stroke="#000" stroke-width="1.5" fill="none"/>
<path d="M151.4,150.60 H158.4" stroke="#000" stroke-width="1.5" fill="none"/>
<path d="M151.4,162.22 H158.4" stroke="#000" stroke-width="1.5" fill="none"/>
<path d="M151.4,173.84 H158.4" stroke="#000" stroke-width="1.5" fill="none"/>
<path d="M151.4,185.46 H158.4" stroke="#000" stroke-width="1.5" fill="none"/>
<path d="M151.4,197.08 H158.4" stroke="#000" stroke-width="1.5" fill="none"/>
<path d="M151.4,208.70 H158.4" stroke="#000" stroke-width="1.5" fill="none"/>
<path d="M151.4,220.32 H158.4" stroke="#000" stroke-width="1.5" fill="none"/>
<path d="M151.4,231.94 H158.4" stroke="#000" stroke-width="1.5" fill="none"/>
<path d="M151.4,243.56 H158.4" stroke="#000" stroke-width="1.5" fill="none"/>
<path d="M247.0,86.4 H320.3" stroke="#000" stroke-width="1.7" fill="none"/>
<path d="M247.0,79.4 V87.2" stroke="#000" stroke-width="1.5" fill="none"/>
<path d="M271.4,79.4 V87.2" stroke="#000" stroke-width="1.5" fill="none"/>
<path d="M295.9,79.4 V87.2" stroke="#000" stroke-width="1.5" fill="none"/>
<path d="M320.3,79.4 V87.2" stroke="#000" stroke-width="1.5" fill="none"/>
<path d="M247.0,79.4 V254.2" stroke="#000" stroke-width="1.7" fill="none"/>
<path d="M240.0,94.10 H247.0" stroke="#000" stroke-width="1.5" fill="none"/>
<path d="M240.0,105.72 H247.0" stroke="#000" stroke-width="1.5" fill="none"/>
<path d="M240.0,117.34 H247.0" stroke="#000" stroke-width="1.5" fill="none"/>
<path d="M240.0,128.96 H247.0" stroke="#000" stroke-width="1.5" fill="none"/>
<path d="M240.0,140.58 H247.0" stroke="#000" stroke-width="1.5" fill="none"/>
<path d="M240.0,152.20 H247.0" stroke="#000" stroke-width="1.5" fill="none"/>
<path d="M240.0,163.82 H247.0" stroke="#000" stroke-width="1.5" fill="none"/>
<path d="M240.0,175.44 H247.0" stroke="#000" stroke-width="1.5" fill="none"/>
<path d="M240.0,187.06 H247.0" stroke="#000" stroke-width="1.5" fill="none"/>
<path d="M240.0,198.68 H247.0" stroke="#000" stroke-width="1.5" fill="none"/>
<path d="M240.0,210.30 H247.0" stroke="#000" stroke-width="1.5" fill="none"/>
<path d="M240.0,221.92 H247.0" stroke="#000" stroke-width="1.5" fill="none"/>
<path d="M240.0,233.54 H247.0" stroke="#000" stroke-width="1.5" fill="none"/>
<path d="M240.0,245.16 H247.0" stroke="#000" stroke-width="1.5" fill="none"/>
<path d="M335.6,85.6 H408.9" stroke="#000" stroke-width="1.7" fill="none"/>
<path d="M335.6,78.6 V86.4" stroke="#000" stroke-width="1.5" fill="none"/>
<path d="M360.0,78.6 V86.4" stroke="#000" stroke-width="1.5" fill="none"/>
<path d="M384.5,78.6 V86.4" stroke="#000" stroke-width="1.5" fill="none"/>
<path d="M408.9,78.6 V86.4" stroke="#000" stroke-width="1.5" fill="none"/>
<path d="M335.6,78.6 V253.5" stroke="#000" stroke-width="1.7" fill="none"/>
<path d="M328.6,93.40 H335.6" stroke="#000" stroke-width="1.5" fill="none"/>
<path d="M328.6,105.02 H335.6" stroke="#000" stroke-width="1.5" fill="none"/>
<path d="M328.6,116.64 H335.6" stroke="#000" stroke-width="1.5" fill="none"/>
<path d="M328.6,128.26 H335.6" stroke="#000" stroke-width="1.5" fill="none"/>
<path d="M328.6,139.88 H335.6" stroke="#000" stroke-width="1.5" fill="none"/>
<path d="M328.6,151.50 H335.6" stroke="#000" stroke-width="1.5" fill="none"/>
<path d="M328.6,163.12 H335.6" stroke="#000" stroke-width="1.5" fill="none"/>
<path d="M328.6,174.74 H335.6" stroke="#000" stroke-width="1.5" fill="none"/>
<path d="M328.6,186.36 H335.6" stroke="#000" stroke-width="1.5" fill="none"/>
<path d="M328.6,197.98 H335.6" stroke="#000" stroke-width="1.5" fill="none"/>
<path d="M328.6,209.60 H335.6" stroke="#000" stroke-width="1.5" fill="none"/>
<path d="M328.6,221.22 H335.6" stroke="#000" stroke-width="1.5" fill="none"/>
<path d="M328.6,232.84 H335.6" stroke="#000" stroke-width="1.5" fill="none"/>
<path d="M328.6,244.46 H335.6" stroke="#000" stroke-width="1.5" fill="none"/>
<path d="M426.6,85.6 H499.9" stroke="#000" stroke-width="1.7" fill="none"/>
<path d="M426.6,78.6 V86.4" stroke="#000" stroke-width="1.5" fill="none"/>
<path d="M451.0,78.6 V86.4" stroke="#000" stroke-width="1.5" fill="none"/>
<path d="M475.5,78.6 V86.4" stroke="#000" stroke-width="1.5" fill="none"/>
<path d="M499.9,78.6 V86.4" stroke="#000" stroke-width="1.5" fill="none"/>
<path d="M426.6,78.6 V253.3" stroke="#000" stroke-width="1.7" fill="none"/>
<path d="M419.6,93.20 H426.6" stroke="#000" stroke-width="1.5" fill="none"/>
<path d="M419.6,104.82 H426.6" stroke="#000" stroke-width="1.5" fill="none"/>
<path d="M419.6,116.44 H426.6" stroke="#000" stroke-width="1.5" fill="none"/>
<path d="M419.6,128.06 H426.6" stroke="#000" stroke-width="1.5" fill="none"/>
<path d="M419.6,139.68 H426.6" stroke="#000" stroke-width="1.5" fill="none"/>
<path d="M419.6,151.30 H426.6" stroke="#000" stroke-width="1.5" fill="none"/>
<path d="M419.6,162.92 H426.6" stroke="#000" stroke-width="1.5" fill="none"/>
<path d="M419.6,174.54 H426.6" stroke="#000" stroke-width="1.5" fill="none"/>
<path d="M419.6,186.16 H426.6" stroke="#000" stroke-width="1.5" fill="none"/>
<path d="M419.6,197.78 H426.6" stroke="#000" stroke-width="1.5" fill="none"/>
<path d="M419.6,209.40 H426.6" stroke="#000" stroke-width="1.5" fill="none"/>
<path d="M419.6,221.02 H426.6" stroke="#000" stroke-width="1.5" fill="none"/>
<path d="M419.6,232.64 H426.6" stroke="#000" stroke-width="1.5" fill="none"/>
<path d="M419.6,244.26 H426.6" stroke="#000" stroke-width="1.5" fill="none"/>
<path d="M515.1,85.6 H588.4" stroke="#000" stroke-width="1.7" fill="none"/>
<path d="M515.1,78.6 V86.4" stroke="#000" stroke-width="1.5" fill="none"/>
<path d="M539.5,78.6 V86.4" stroke="#000" stroke-width="1.5" fill="none"/>
<path d="M564.0,78.6 V86.4" stroke="#000" stroke-width="1.5" fill="none"/>
<path d="M588.4,78.6 V86.4" stroke="#000" stroke-width="1.5" fill="none"/>
<path d="M515.1,78.6 V253.3" stroke="#000" stroke-width="1.7" fill="none"/>
<path d="M508.1,93.20 H515.1" stroke="#000" stroke-width="1.5" fill="none"/>
<path d="M508.1,104.82 H515.1" stroke="#000" stroke-width="1.5" fill="none"/>
<path d="M508.1,116.44 H515.1" stroke="#000" stroke-width="1.5" fill="none"/>
<path d="M508.1,128.06 H515.1" stroke="#000" stroke-width="1.5" fill="none"/>
<path d="M508.1,139.68 H515.1" stroke="#000" stroke-width="1.5" fill="none"/>
<path d="M508.1,151.30 H515.1" stroke="#000" stroke-width="1.5" fill="none"/>
<path d="M508.1,162.92 H515.1" stroke="#000" stroke-width="1.5" fill="none"/>
<path d="M508.1,174.54 H515.1" stroke="#000" stroke-width="1.5" fill="none"/>
<path d="M508.1,186.16 H515.1" stroke="#000" stroke-width="1.5" fill="none"/>
<path d="M508.1,197.78 H515.1" stroke="#000" stroke-width="1.5" fill="none"/>
<path d="M508.1,209.40 H515.1" stroke="#000" stroke-width="1.5" fill="none"/>
<path d="M508.1,221.02 H515.1" stroke="#000" stroke-width="1.5" fill="none"/>
<path d="M508.1,232.64 H515.1" stroke="#000" stroke-width="1.5" fill="none"/>
<path d="M508.1,244.26 H515.1" stroke="#000" stroke-width="1.5" fill="none"/>
<path d="M603.6,85.6 H676.9" stroke="#000" stroke-width="1.7" fill="none"/>
<path d="M603.6,78.6 V86.4" stroke="#000" stroke-width="1.5" fill="none"/>
<path d="M628.0,78.6 V86.4" stroke="#000" stroke-width="1.5" fill="none"/>
<path d="M652.5,78.6 V86.4" stroke="#000" stroke-width="1.5" fill="none"/>
<path d="M676.9,78.6 V86.4" stroke="#000" stroke-width="1.5" fill="none"/>
<path d="M603.6,78.6 V253.3" stroke="#000" stroke-width="1.7" fill="none"/>
<path d="M596.6,93.20 H603.6" stroke="#000" stroke-width="1.5" fill="none"/>
<path d="M596.6,104.82 H603.6" stroke="#000" stroke-width="1.5" fill="none"/>
<path d="M596.6,116.44 H603.6" stroke="#000" stroke-width="1.5" fill="none"/>
<path d="M596.6,128.06 H603.6" stroke="#000" stroke-width="1.5" fill="none"/>
<path d="M596.6,139.68 H603.6" stroke="#000" stroke-width="1.5" fill="none"/>
<path d="M596.6,151.30 H603.6" stroke="#000" stroke-width="1.5" fill="none"/>
<path d="M596.6,162.92 H603.6" stroke="#000" stroke-width="1.5" fill="none"/>
<path d="M596.6,174.54 H603.6" stroke="#000" stroke-width="1.5" fill="none"/>
<path d="M596.6,186.16 H603.6" stroke="#000" stroke-width="1.5" fill="none"/>
<path d="M596.6,197.78 H603.6" stroke="#000" stroke-width="1.5" fill="none"/>
<path d="M596.6,209.40 H603.6" stroke="#000" stroke-width="1.5" fill="none"/>
<path d="M596.6,221.02 H603.6" stroke="#000" stroke-width="1.5" fill="none"/>
<path d="M596.6,232.64 H603.6" stroke="#000" stroke-width="1.5" fill="none"/>
<path d="M596.6,244.26 H603.6" stroke="#000" stroke-width="1.5" fill="none"/>
<text x="144.6" y="95.4" class="t14" text-anchor="end">Gene 1-1000</text>
<text x="144.6" y="107.0" class="t14" text-anchor="end">Gene 1001-2000</text>
<text x="144.6" y="118.6" class="t14" text-anchor="end">Gene 2001-3000</text>
<text x="144.6" y="130.3" class="t14" text-anchor="end">Gene 3001-4000</text>
<text x="144.6" y="141.9" class="t14" text-anchor="end">Gene 4001-5000</text>
<text x="144.6" y="153.5" class="t14" text-anchor="end">Gene 5001-6000</text>
<text x="144.6" y="165.1" class="t14" text-anchor="end">Gene 6001-7000</text>
<text x="144.6" y="176.7" class="t14" text-anchor="end">Gene 7001-8000</text>
<text x="144.6" y="188.4" class="t14" text-anchor="end">Gene 8001-9000</text>
<text x="144.6" y="200.0" class="t14" text-anchor="end">Gene 9001-10,000</text>
<text x="144.6" y="211.6" class="t14" text-anchor="end">Gene 10,001-11,000</text>
<text x="144.6" y="223.2" class="t14" text-anchor="end">Gene 11,001-12,000</text>
<text x="144.6" y="234.8" class="t14" text-anchor="end">Gene 12,001-13,001</text>
<text x="144.6" y="246.5" class="t14" text-anchor="end">Gene 13,001-13,773</text>
<text x="1" y="293.9" class="lbl">B.</text>
<text x="179.7" y="275" class="hb" fill="#2f9542" text-anchor="middle">v.1,</text>
<text x="179.7" y="291.2" class="hb" fill="#2f9542" text-anchor="middle">replicate 1</text>
<text x="306.0" y="275" class="hb" fill="#2f9542" text-anchor="middle">v.1,</text>
<text x="306.0" y="291.2" class="hb" fill="#2f9542" text-anchor="middle">replicate 2</text>
<text x="427.5" y="275" class="hb" fill="#d82ef5" text-anchor="middle">v.2, IntAC,</text>
<text x="427.5" y="291.2" class="hb" fill="#d82ef5" text-anchor="middle">replicate 1</text>
<text x="557.8" y="275" class="hb" fill="#d82ef5" text-anchor="middle">v.2, IntAC,</text>
<text x="557.8" y="291.2" class="hb" fill="#d82ef5" text-anchor="middle">replicate 2</text>
<g class="cg">
<circle cx="187.2" cy="308.5" r="5.00" fill="#da5a8a"/>
<text x="187.2" y="307.9" style="font-size:3.1px">U2A</text>
<text x="187.2" y="311.3" style="font-size:3.1px">F38</text>
<circle cx="157.4" cy="313.7" r="5.00" fill="#9661d7"/>
<text x="157.4" y="313.1" style="font-size:3.1px">Cbp</text>
<text x="157.4" y="316.5" style="font-size:3.1px">80</text>
<circle cx="168.3" cy="314.8" r="5.00" fill="#ee5868"/>
<text x="168.3" y="314.2" style="font-size:3.1px">U2A</text>
<text x="168.3" y="317.6" style="font-size:3.1px">F38</text>
<circle cx="177.9" cy="316.1" r="5.00" fill="#9661d7"/>
<text x="177.9" y="315.5" style="font-size:3.1px">U2A</text>
<text x="177.9" y="318.9" style="font-size:3.1px">F38</text>
<circle cx="199.2" cy="313.7" r="5.00" fill="#9661d7"/>
<text x="199.2" y="313.1" style="font-size:3.1px">Cbp</text>
<text x="199.2" y="316.5" style="font-size:3.1px">80</text>
<circle cx="146.1" cy="316.7" r="5.00" fill="#c25dac"/>
<text x="146.1" y="316.1" style="font-size:3.1px">Cbp</text>
<text x="146.1" y="319.5" style="font-size:3.1px">80</text>
<circle cx="207.7" cy="319.5" r="5.00" fill="#c25dac"/>
<text x="207.7" y="318.9" style="font-size:3.1px">Prp</text>
<text x="207.7" y="322.3" style="font-size:3.1px">8</text>
<circle cx="152.7" cy="323.7" r="5.00" fill="#da5a8a"/>
<text x="152.7" y="323.1" style="font-size:3.1px">Prp</text>
<text x="152.7" y="326.5" style="font-size:3.1px">8</text>
<circle cx="169.4" cy="325.2" r="5.00" fill="#da5a8a"/>
<text x="169.4" y="324.6" style="font-size:3.1px">Cbp</text>
<text x="169.4" y="328.0" style="font-size:3.1px">80</text>
<circle cx="179.7" cy="327.1" r="5.00" fill="#da5a8a"/>
<text x="179.7" y="326.5" style="font-size:3.1px">U2A</text>
<text x="179.7" y="329.9" style="font-size:3.1px">F38</text>
<circle cx="193.5" cy="321.8" r="5.00" fill="#c25dac"/>
<text x="193.5" y="321.2" style="font-size:3.1px">Cbp</text>
<text x="193.5" y="324.6" style="font-size:3.1px">80</text>
<circle cx="215.7" cy="325.6" r="5.00" fill="#da5a8a"/>
<text x="215.7" y="325.0" style="font-size:3.1px">Prp</text>
<text x="215.7" y="328.4" style="font-size:3.1px">8</text>
<circle cx="129.9" cy="327.5" r="5.00" fill="#da5a8a"/>
<text x="129.9" y="326.9" style="font-size:3.1px">CG</text>
<text x="129.9" y="330.3" style="font-size:3.1px">5931</text>
<circle cx="139.8" cy="330.9" r="5.00" fill="#ee5868"/>
<text x="139.8" y="330.3" style="font-size:3.1px">U2A</text>
<text x="139.8" y="333.7" style="font-size:3.1px">F38</text>
<circle cx="205.8" cy="329.4" r="5.00" fill="#665ffa"/>
<text x="205.8" y="328.8" style="font-size:3.1px">snRNP</text>
<text x="205.8" y="332.2" style="font-size:3.1px">70K</text>
<circle cx="187.2" cy="334.2" r="5.00" fill="#da5a8a"/>
<text x="187.2" y="333.6" style="font-size:3.1px">Prp</text>
<text x="187.2" y="337.0" style="font-size:3.1px">8</text>
<circle cx="157.1" cy="335.5" r="5.00" fill="#da5a8a"/>
<text x="157.1" y="334.9" style="font-size:3.1px">CG</text>
<text x="157.1" y="338.3" style="font-size:3.1px">5931</text>
<circle cx="175.1" cy="337.4" r="5.00" fill="#9661d7"/>
<text x="175.1" y="336.8" style="font-size:3.1px">Cbp</text>
<text x="175.1" y="340.2" style="font-size:3.1px">80</text>
<circle cx="215.7" cy="336.1" r="5.00" fill="#da5a8a"/>
<text x="215.7" y="335.5" style="font-size:3.1px">CG</text>
<text x="215.7" y="338.9" style="font-size:3.1px">5931</text>
<circle cx="129.0" cy="338.5" r="5.00" fill="#da5a8a"/>
<text x="129.0" y="337.9" style="font-size:3.1px">Cbp</text>
<text x="129.0" y="341.3" style="font-size:3.1px">80</text>
<circle cx="138.1" cy="343.7" r="5.00" fill="#c25dac"/>
<text x="138.1" y="343.1" style="font-size:3.1px">U2A</text>
<text x="138.1" y="346.5" style="font-size:3.1px">F38</text>
<circle cx="148.0" cy="343.3" r="5.00" fill="#e45a7a"/>
<text x="148.0" y="342.7" style="font-size:3.1px">U2A</text>
<text x="148.0" y="346.1" style="font-size:3.1px">F38</text>
<circle cx="158.0" cy="345.5" r="5.00" fill="#9661d7"/>
<text x="158.0" y="344.9" style="font-size:3.1px">Cbp</text>
<text x="158.0" y="348.3" style="font-size:3.1px">80</text>
<circle cx="167.9" cy="344.6" r="5.00" fill="#9661d7"/>
<text x="167.9" y="344.0" style="font-size:3.1px">Prp</text>
<text x="167.9" y="347.4" style="font-size:3.1px">8</text>
<circle cx="196.4" cy="341.8" r="5.00" fill="#c25dac"/>
<text x="196.4" y="341.2" style="font-size:3.1px">Cbp</text>
<text x="196.4" y="344.6" style="font-size:3.1px">80</text>
<circle cx="209.1" cy="349.3" r="5.00" fill="#ee5868"/>
<text x="209.1" y="348.7" style="font-size:3.1px">CG</text>
<text x="209.1" y="352.1" style="font-size:3.1px">5931</text>
<circle cx="223.9" cy="345.2" r="5.00" fill="#da5a8a"/>
<text x="223.9" y="344.6" style="font-size:3.1px">Cbp</text>
<text x="223.9" y="348.0" style="font-size:3.1px">80</text>
<circle cx="120.4" cy="346.5" r="5.00" fill="#da5a8a"/>
<text x="120.4" y="345.9" style="font-size:3.1px">CG</text>
<text x="120.4" y="349.3" style="font-size:3.1px">5931</text>
<circle cx="130.9" cy="354.5" r="5.00" fill="#ac5fc6"/>
<text x="130.9" y="353.9" style="font-size:3.1px">CG</text>
<text x="130.9" y="357.3" style="font-size:3.1px">5931</text>
<circle cx="144.5" cy="352.2" r="5.00" fill="#da5a8a"/>
<text x="144.5" y="351.6" style="font-size:3.1px">CG</text>
<text x="144.5" y="355.0" style="font-size:3.1px">5931</text>
<circle cx="159.0" cy="355.6" r="5.00" fill="#da5a8a"/>
<text x="159.0" y="355.0" style="font-size:3.1px">Prp</text>
<text x="159.0" y="358.4" style="font-size:3.1px">8</text>
<circle cx="175.9" cy="350.9" r="5.00" fill="#c25dac"/>
<text x="175.9" y="350.3" style="font-size:3.1px">Prp</text>
<text x="175.9" y="353.7" style="font-size:3.1px">8</text>
<circle cx="187.8" cy="350.9" r="5.00" fill="#da5a8a"/>
<text x="187.8" y="350.3" style="font-size:3.1px">Cbp</text>
<text x="187.8" y="353.7" style="font-size:3.1px">80</text>
<circle cx="198.6" cy="352.2" r="5.00" fill="#c25dac"/>
<text x="198.6" y="351.6" style="font-size:3.1px">CG</text>
<text x="198.6" y="355.0" style="font-size:3.1px">5931</text>
<circle cx="226.3" cy="356.4" r="5.00" fill="#c25dac"/>
<text x="226.3" y="355.8" style="font-size:3.1px">U2A</text>
<text x="226.3" y="359.2" style="font-size:3.1px">F38</text>
<circle cx="119.1" cy="365.4" r="5.00" fill="#da5a8a"/>
<text x="119.1" y="364.8" style="font-size:3.1px">snRNP</text>
<text x="119.1" y="368.2" style="font-size:3.1px">70K</text>
<circle cx="133.7" cy="368.3" r="5.00" fill="#da5a8a"/>
<text x="133.7" y="367.7" style="font-size:3.1px">U2A</text>
<text x="133.7" y="371.1" style="font-size:3.1px">F38</text>
<circle cx="145.7" cy="364.1" r="5.00" fill="#da5a8a"/>
<text x="145.7" y="363.5" style="font-size:3.1px">Cbp</text>
<text x="145.7" y="366.9" style="font-size:3.1px">80</text>
<circle cx="158.0" cy="365.4" r="5.00" fill="#da5a8a"/>
<text x="158.0" y="364.8" style="font-size:3.1px">Prp</text>
<text x="158.0" y="368.2" style="font-size:3.1px">8</text>
<circle cx="171.7" cy="366.0" r="5.00" fill="#da5a8a"/>
<text x="171.7" y="365.4" style="font-size:3.1px">Cbp</text>
<text x="171.7" y="368.8" style="font-size:3.1px">80</text>
<circle cx="181.7" cy="362.2" r="5.00" fill="#da5a8a"/>
<text x="181.7" y="361.6" style="font-size:3.1px">Prp</text>
<text x="181.7" y="365.0" style="font-size:3.1px">8</text>
<circle cx="192.9" cy="364.9" r="5.00" fill="#c25dac"/>
<text x="192.9" y="364.3" style="font-size:3.1px">snRNP</text>
<text x="192.9" y="367.7" style="font-size:3.1px">70K</text>
<circle cx="203.6" cy="361.1" r="5.00" fill="#ac5fc6"/>
<text x="203.6" y="360.5" style="font-size:3.1px">U2A</text>
<text x="203.6" y="363.9" style="font-size:3.1px">F38</text>
<circle cx="214.4" cy="361.6" r="5.00" fill="#9661d7"/>
<text x="214.4" y="361.0" style="font-size:3.1px">CG</text>
<text x="214.4" y="364.4" style="font-size:3.1px">5931</text>
<circle cx="229.6" cy="366.0" r="5.00" fill="#da5a8a"/>
<text x="229.6" y="365.4" style="font-size:3.1px">CG</text>
<text x="229.6" y="368.8" style="font-size:3.1px">5931</text>
<circle cx="118.5" cy="375.5" r="5.00" fill="#da5a8a"/>
<text x="118.5" y="374.9" style="font-size:3.1px">U2A</text>
<text x="118.5" y="378.3" style="font-size:3.1px">F38</text>
<circle cx="129.0" cy="377.8" r="5.00" fill="#9661d7"/>
<text x="129.0" y="377.2" style="font-size:3.1px">snRNP</text>
<text x="129.0" y="380.6" style="font-size:3.1px">70K</text>
<circle cx="148.9" cy="375.3" r="5.00" fill="#da5a8a"/>
<text x="148.9" y="374.7" style="font-size:3.1px">U2A</text>
<text x="148.9" y="378.1" style="font-size:3.1px">F38</text>
<circle cx="163.5" cy="374.5" r="5.00" fill="#9661d7"/>
<text x="163.5" y="373.9" style="font-size:3.1px">Cbp</text>
<text x="163.5" y="377.3" style="font-size:3.1px">80</text>
<circle cx="185.0" cy="372.7" r="5.00" fill="#da5a8a"/>
<text x="185.0" y="372.1" style="font-size:3.1px">CG</text>
<text x="185.0" y="375.5" style="font-size:3.1px">5931</text>
<circle cx="202.0" cy="371.5" r="5.00" fill="#da5a8a"/>
<text x="202.0" y="370.9" style="font-size:3.1px">snRNP</text>
<text x="202.0" y="374.3" style="font-size:3.1px">70K</text>
<circle cx="225.8" cy="375.9" r="5.00" fill="#c25dac"/>
<text x="225.8" y="375.3" style="font-size:3.1px">snRNP</text>
<text x="225.8" y="378.7" style="font-size:3.1px">70K</text>
<circle cx="124.8" cy="387.3" r="5.00" fill="#da5a8a"/>
<text x="124.8" y="386.7" style="font-size:3.1px">Prp</text>
<text x="124.8" y="390.1" style="font-size:3.1px">8</text>
<circle cx="137.1" cy="386.3" r="5.00" fill="#da5a8a"/>
<text x="137.1" y="385.7" style="font-size:3.1px">Cbp</text>
<text x="137.1" y="389.1" style="font-size:3.1px">80</text>
<circle cx="155.0" cy="386.9" r="5.00" fill="#665ffa"/>
<text x="155.0" y="386.3" style="font-size:3.1px">snRNP</text>
<text x="155.0" y="389.7" style="font-size:3.1px">70K</text>
<circle cx="166.9" cy="383.8" r="5.00" fill="#da5a8a"/>
<text x="166.9" y="383.2" style="font-size:3.1px">CG</text>
<text x="166.9" y="386.6" style="font-size:3.1px">5931</text>
<circle cx="178.3" cy="381.6" r="5.00" fill="#e45a7a"/>
<text x="178.3" y="381.0" style="font-size:3.1px">CG</text>
<text x="178.3" y="384.4" style="font-size:3.1px">5931</text>
<circle cx="191.2" cy="380.2" r="5.00" fill="#c25dac"/>
<text x="191.2" y="379.6" style="font-size:3.1px">Cbp</text>
<text x="191.2" y="383.0" style="font-size:3.1px">80</text>
<circle cx="203.0" cy="383.5" r="5.00" fill="#da5a8a"/>
<text x="203.0" y="382.9" style="font-size:3.1px">CG</text>
<text x="203.0" y="386.3" style="font-size:3.1px">5931</text>
<circle cx="215.7" cy="379.3" r="5.00" fill="#da5a8a"/>
<text x="215.7" y="378.7" style="font-size:3.1px">U2A</text>
<text x="215.7" y="382.1" style="font-size:3.1px">F38</text>
<circle cx="221.0" cy="389.2" r="5.00" fill="#da5a8a"/>
<text x="221.0" y="388.6" style="font-size:3.1px">CG</text>
<text x="221.0" y="392.0" style="font-size:3.1px">5931</text>
<circle cx="207.2" cy="392.6" r="5.00" fill="#c25dac"/>
<text x="207.2" y="392.0" style="font-size:3.1px">snRNP</text>
<text x="207.2" y="395.4" style="font-size:3.1px">70K</text>
<circle cx="127.7" cy="399.0" r="5.00" fill="#c25dac"/>
<text x="127.7" y="398.4" style="font-size:3.1px">U2A</text>
<text x="127.7" y="401.8" style="font-size:3.1px">F38</text>
<circle cx="138.5" cy="399.0" r="5.00" fill="#c25dac"/>
<text x="138.5" y="398.4" style="font-size:3.1px">CG</text>
<text x="138.5" y="401.8" style="font-size:3.1px">5931</text>
<circle cx="149.3" cy="400.5" r="5.00" fill="#c25dac"/>
<text x="149.3" y="399.9" style="font-size:3.1px">CG</text>
<text x="149.3" y="403.3" style="font-size:3.1px">5931</text>
<circle cx="163.7" cy="399.6" r="5.00" fill="#da5a8a"/>
<text x="163.7" y="399.0" style="font-size:3.1px">CG</text>
<text x="163.7" y="402.4" style="font-size:3.1px">5931</text>
<circle cx="176.8" cy="396.4" r="5.00" fill="#9661d7"/>
<text x="176.8" y="395.8" style="font-size:3.1px">Prp</text>
<text x="176.8" y="399.2" style="font-size:3.1px">8</text>
<circle cx="191.6" cy="395.4" r="5.00" fill="#c25dac"/>
<text x="191.6" y="394.8" style="font-size:3.1px">Prp</text>
<text x="191.6" y="398.2" style="font-size:3.1px">8</text>
<circle cx="199.2" cy="402.8" r="5.00" fill="#da5a8a"/>
<text x="199.2" y="402.2" style="font-size:3.1px">CG</text>
<text x="199.2" y="405.6" style="font-size:3.1px">5931</text>
<circle cx="210.0" cy="405.9" r="5.00" fill="#c25dac"/>
<text x="210.0" y="405.3" style="font-size:3.1px">U2A</text>
<text x="210.0" y="408.7" style="font-size:3.1px">F38</text>
<circle cx="218.6" cy="400.9" r="5.00" fill="#c25dac"/>
<text x="218.6" y="400.3" style="font-size:3.1px">U2A</text>
<text x="218.6" y="403.7" style="font-size:3.1px">F38</text>
<circle cx="138.1" cy="409.1" r="5.00" fill="#9661d7"/>
<text x="138.1" y="408.5" style="font-size:3.1px">U2A</text>
<text x="138.1" y="411.9" style="font-size:3.1px">F38</text>
<circle cx="157.1" cy="407.2" r="5.00" fill="#da5a8a"/>
<text x="157.1" y="406.6" style="font-size:3.1px">U2A</text>
<text x="157.1" y="410.0" style="font-size:3.1px">F38</text>
<circle cx="174.1" cy="406.6" r="5.00" fill="#da5a8a"/>
<text x="174.1" y="406.0" style="font-size:3.1px">CG</text>
<text x="174.1" y="409.4" style="font-size:3.1px">5931</text>
<circle cx="185.0" cy="407.2" r="5.00" fill="#da5a8a"/>
<text x="185.0" y="406.6" style="font-size:3.1px">Cbp</text>
<text x="185.0" y="410.0" style="font-size:3.1px">80</text>
<circle cx="196.0" cy="412.3" r="5.00" fill="#9661d7"/>
<text x="196.0" y="411.7" style="font-size:3.1px">Prp</text>
<text x="196.0" y="415.1" style="font-size:3.1px">8</text>
<circle cx="153.7" cy="416.7" r="5.00" fill="#c25dac"/>
<text x="153.7" y="416.1" style="font-size:3.1px">snRNP</text>
<text x="153.7" y="419.5" style="font-size:3.1px">70K</text>
<circle cx="165.0" cy="414.8" r="5.00" fill="#da5a8a"/>
<text x="165.0" y="414.2" style="font-size:3.1px">snRNP</text>
<text x="165.0" y="417.6" style="font-size:3.1px">70K</text>
<circle cx="172.3" cy="421.8" r="5.00" fill="#da5a8a"/>
<text x="172.3" y="421.2" style="font-size:3.1px">CG</text>
<text x="172.3" y="424.6" style="font-size:3.1px">5931</text>
<circle cx="182.5" cy="420.1" r="5.00" fill="#da5a8a"/>
<text x="182.5" y="419.5" style="font-size:3.1px">snRNP</text>
<text x="182.5" y="422.9" style="font-size:3.1px">70K</text>
<circle cx="179.4" cy="440.2" r="5.45" fill="#c25dac"/>
<text x="179.4" y="439.6" style="font-size:3.2px">RpS</text>
<text x="179.4" y="443.1" style="font-size:3.2px">3A</text>
<circle cx="164.3" cy="444.4" r="5.45" fill="#665ffa"/>
<text x="164.3" y="443.8" style="font-size:3.2px">RpL</text>
<text x="164.3" y="447.3" style="font-size:3.2px">19a</text>
<circle cx="151.9" cy="446.7" r="5.45" fill="#ee5868"/>
<text x="151.9" y="446.1" style="font-size:3.2px">RpL</text>
<text x="151.9" y="449.6" style="font-size:3.2px">19a</text>
<circle cx="140.2" cy="452.6" r="5.45" fill="#da5a8a"/>
<text x="140.2" y="452.0" style="font-size:3.2px">RpS</text>
<text x="140.2" y="455.5" style="font-size:3.2px">27</text>
<circle cx="190.7" cy="449.1" r="5.45" fill="#da5a8a"/>
<text x="190.7" y="448.5" style="font-size:3.2px">RpS</text>
<text x="190.7" y="452.0" style="font-size:3.2px">3A</text>
<circle cx="202.8" cy="447.9" r="5.45" fill="#c25dac"/>
<text x="202.8" y="447.3" style="font-size:3.2px">RpL</text>
<text x="202.8" y="450.8" style="font-size:3.2px">14</text>
<circle cx="214.5" cy="456.5" r="5.45" fill="#da5a8a"/>
<text x="214.5" y="455.9" style="font-size:3.2px">RpL</text>
<text x="214.5" y="459.4" style="font-size:3.2px">19a</text>
<circle cx="157.7" cy="457.2" r="5.45" fill="#9661d7"/>
<text x="157.7" y="456.6" style="font-size:3.2px">RpS</text>
<text x="157.7" y="460.1" style="font-size:3.2px">3A</text>
<circle cx="169.4" cy="455.4" r="5.45" fill="#c25dac"/>
<text x="169.4" y="454.8" style="font-size:3.2px">RpL</text>
<text x="169.4" y="458.3" style="font-size:3.2px">19a</text>
<circle cx="182.2" cy="459.6" r="5.45" fill="#c25dac"/>
<text x="182.2" y="459.0" style="font-size:3.2px">RpS</text>
<text x="182.2" y="462.5" style="font-size:3.2px">3A</text>
<circle cx="202.8" cy="459.6" r="5.45" fill="#c25dac"/>
<text x="202.8" y="459.0" style="font-size:3.2px">RpS</text>
<text x="202.8" y="462.5" style="font-size:3.2px">27</text>
<circle cx="136.2" cy="463.1" r="5.45" fill="#c25dac"/>
<text x="136.2" y="462.5" style="font-size:3.2px">RpL</text>
<text x="136.2" y="466.0" style="font-size:3.2px">14</text>
<circle cx="148.4" cy="468.9" r="5.45" fill="#da5a8a"/>
<text x="148.4" y="468.3" style="font-size:3.2px">RpS</text>
<text x="148.4" y="471.8" style="font-size:3.2px">27</text>
<circle cx="168.9" cy="469.4" r="5.45" fill="#665ffa"/>
<text x="168.9" y="468.8" style="font-size:3.2px">RpS</text>
<text x="168.9" y="472.3" style="font-size:3.2px">3A</text>
<circle cx="179.4" cy="472.9" r="5.45" fill="#ee5868"/>
<text x="179.4" y="472.3" style="font-size:3.2px">RpL</text>
<text x="179.4" y="475.8" style="font-size:3.2px">19a</text>
<circle cx="198.1" cy="470.1" r="5.45" fill="#ee5868"/>
<text x="198.1" y="469.5" style="font-size:3.2px">RpS</text>
<text x="198.1" y="473.0" style="font-size:3.2px">27</text>
<circle cx="212.1" cy="467.3" r="5.45" fill="#ee5868"/>
<text x="212.1" y="466.7" style="font-size:3.2px">RpL</text>
<text x="212.1" y="470.2" style="font-size:3.2px">19a</text>
<circle cx="221.5" cy="473.6" r="5.45" fill="#9661d7"/>
<text x="221.5" y="473.0" style="font-size:3.2px">RpS</text>
<text x="221.5" y="476.5" style="font-size:3.2px">27</text>
<circle cx="139.3" cy="475.9" r="5.45" fill="#da5a8a"/>
<text x="139.3" y="475.3" style="font-size:3.2px">RpL</text>
<text x="139.3" y="478.8" style="font-size:3.2px">14</text>
<circle cx="155.4" cy="479.4" r="5.45" fill="#c25dac"/>
<text x="155.4" y="478.8" style="font-size:3.2px">RpS</text>
<text x="155.4" y="482.3" style="font-size:3.2px">27</text>
<circle cx="169.4" cy="481.3" r="5.45" fill="#ee5868"/>
<text x="169.4" y="480.7" style="font-size:3.2px">RpL</text>
<text x="169.4" y="484.2" style="font-size:3.2px">14</text>
<circle cx="190.0" cy="477.1" r="5.45" fill="#9661d7"/>
<text x="190.0" y="476.5" style="font-size:3.2px">RpL</text>
<text x="190.0" y="480.0" style="font-size:3.2px">19a</text>
<circle cx="122.7" cy="477.6" r="5.45" fill="#c25dac"/>
<text x="122.7" y="477.0" style="font-size:3.2px">RpS</text>
<text x="122.7" y="480.5" style="font-size:3.2px">3A</text>
<circle cx="181.3" cy="486.0" r="5.45" fill="#c25dac"/>
<text x="181.3" y="485.4" style="font-size:3.2px">RpL</text>
<text x="181.3" y="488.9" style="font-size:3.2px">14</text>
<circle cx="193.5" cy="488.3" r="5.45" fill="#665ffa"/>
<text x="193.5" y="487.7" style="font-size:3.2px">RpL</text>
<text x="193.5" y="491.2" style="font-size:3.2px">14</text>
<circle cx="208.6" cy="486.4" r="5.45" fill="#665ffa"/>
<text x="208.6" y="485.8" style="font-size:3.2px">RpL</text>
<text x="208.6" y="489.3" style="font-size:3.2px">14</text>
<circle cx="219.9" cy="487.6" r="5.45" fill="#c25dac"/>
<text x="219.9" y="487.0" style="font-size:3.2px">RpS</text>
<text x="219.9" y="490.5" style="font-size:3.2px">27</text>
<circle cx="140.9" cy="486.9" r="5.45" fill="#da5a8a"/>
<text x="140.9" y="486.3" style="font-size:3.2px">RpL</text>
<text x="140.9" y="489.8" style="font-size:3.2px">14</text>
<circle cx="126.9" cy="491.6" r="5.45" fill="#9661d7"/>
<text x="126.9" y="491.0" style="font-size:3.2px">RpS</text>
<text x="126.9" y="494.5" style="font-size:3.2px">3A</text>
<circle cx="160.3" cy="490.7" r="5.45" fill="#9661d7"/>
<text x="160.3" y="490.1" style="font-size:3.2px">RpS</text>
<text x="160.3" y="493.6" style="font-size:3.2px">3A</text>
<circle cx="230.1" cy="493.9" r="5.45" fill="#9661d7"/>
<text x="230.1" y="493.3" style="font-size:3.2px">RpL</text>
<text x="230.1" y="496.8" style="font-size:3.2px">14</text>
<circle cx="137.4" cy="497.7" r="5.45" fill="#c25dac"/>
<text x="137.4" y="497.1" style="font-size:3.2px">RpS</text>
<text x="137.4" y="500.6" style="font-size:3.2px">3A</text>
<circle cx="173.6" cy="496.3" r="5.45" fill="#ee5868"/>
<text x="173.6" y="495.7" style="font-size:3.2px">RpS</text>
<text x="173.6" y="499.2" style="font-size:3.2px">27</text>
<circle cx="187.1" cy="497.4" r="5.45" fill="#da5a8a"/>
<text x="187.1" y="496.8" style="font-size:3.2px">RpL</text>
<text x="187.1" y="500.3" style="font-size:3.2px">19a</text>
<circle cx="200.5" cy="498.6" r="5.45" fill="#c25dac"/>
<text x="200.5" y="498.0" style="font-size:3.2px">RpS</text>
<text x="200.5" y="501.5" style="font-size:3.2px">27</text>
<circle cx="213.8" cy="497.0" r="5.45" fill="#da5a8a"/>
<text x="213.8" y="496.4" style="font-size:3.2px">RpL</text>
<text x="213.8" y="499.9" style="font-size:3.2px">14</text>
<circle cx="124.5" cy="503.5" r="5.45" fill="#da5a8a"/>
<text x="124.5" y="502.9" style="font-size:3.2px">RpS</text>
<text x="124.5" y="506.4" style="font-size:3.2px">27</text>
<circle cx="147.9" cy="503.5" r="5.45" fill="#c25dac"/>
<text x="147.9" y="502.9" style="font-size:3.2px">RpL</text>
<text x="147.9" y="506.4" style="font-size:3.2px">14</text>
<circle cx="138.1" cy="508.6" r="5.45" fill="#da5a8a"/>
<text x="138.1" y="508.0" style="font-size:3.2px">RpS</text>
<text x="138.1" y="511.5" style="font-size:3.2px">3A</text>
<circle cx="156.8" cy="509.3" r="5.45" fill="#ee5868"/>
<text x="156.8" y="508.7" style="font-size:3.2px">RpS</text>
<text x="156.8" y="512.2" style="font-size:3.2px">3A</text>
<circle cx="169.4" cy="508.2" r="5.45" fill="#da5a8a"/>
<text x="169.4" y="507.6" style="font-size:3.2px">RpS</text>
<text x="169.4" y="511.1" style="font-size:3.2px">3A</text>
<circle cx="184.6" cy="509.8" r="5.45" fill="#c25dac"/>
<text x="184.6" y="509.2" style="font-size:3.2px">RpS</text>
<text x="184.6" y="512.7" style="font-size:3.2px">3A</text>
<circle cx="196.5" cy="508.6" r="5.45" fill="#da5a8a"/>
<text x="196.5" y="508.0" style="font-size:3.2px">RpS</text>
<text x="196.5" y="511.5" style="font-size:3.2px">3A</text>
<circle cx="208.6" cy="507.5" r="5.45" fill="#9661d7"/>
<text x="208.6" y="506.9" style="font-size:3.2px">RpL</text>
<text x="208.6" y="510.4" style="font-size:3.2px">14</text>
<circle cx="228.5" cy="509.3" r="5.45" fill="#da5a8a"/>
<text x="228.5" y="508.7" style="font-size:3.2px">RpL</text>
<text x="228.5" y="512.2" style="font-size:3.2px">14</text>
<circle cx="218.0" cy="515.7" r="5.45" fill="#c25dac"/>
<text x="218.0" y="515.1" style="font-size:3.2px">RpS</text>
<text x="218.0" y="518.6" style="font-size:3.2px">27</text>
<circle cx="124.1" cy="522.7" r="5.45" fill="#da5a8a"/>
<text x="124.1" y="522.1" style="font-size:3.2px">RpL</text>
<text x="124.1" y="525.6" style="font-size:3.2px">19a</text>
<circle cx="138.1" cy="521.5" r="5.45" fill="#c25dac"/>
<text x="138.1" y="520.9" style="font-size:3.2px">RpL</text>
<text x="138.1" y="524.4" style="font-size:3.2px">19a</text>
<circle cx="152.6" cy="520.3" r="5.45" fill="#9661d7"/>
<text x="152.6" y="519.7" style="font-size:3.2px">RpL</text>
<text x="152.6" y="523.2" style="font-size:3.2px">19a</text>
<circle cx="167.1" cy="522.7" r="5.45" fill="#da5a8a"/>
<text x="167.1" y="522.1" style="font-size:3.2px">RpS</text>
<text x="167.1" y="525.6" style="font-size:3.2px">3A</text>
<circle cx="179.0" cy="526.2" r="5.45" fill="#ee5868"/>
<text x="179.0" y="525.6" style="font-size:3.2px">RpL</text>
<text x="179.0" y="529.1" style="font-size:3.2px">19a</text>
<circle cx="193.9" cy="519.2" r="5.45" fill="#9661d7"/>
<text x="193.9" y="518.6" style="font-size:3.2px">RpL</text>
<text x="193.9" y="522.1" style="font-size:3.2px">14</text>
<circle cx="207.5" cy="518.7" r="5.45" fill="#665ffa"/>
<text x="207.5" y="518.1" style="font-size:3.2px">RpL</text>
<text x="207.5" y="521.6" style="font-size:3.2px">19a</text>
<circle cx="218.0" cy="531.3" r="5.45" fill="#da5a8a"/>
<text x="218.0" y="530.7" style="font-size:3.2px">RpS</text>
<text x="218.0" y="534.2" style="font-size:3.2px">27</text>
<circle cx="202.8" cy="529.7" r="5.45" fill="#9661d7"/>
<text x="202.8" y="529.1" style="font-size:3.2px">RpL</text>
<text x="202.8" y="532.6" style="font-size:3.2px">19a</text>
<circle cx="135.7" cy="532.7" r="5.45" fill="#c25dac"/>
<text x="135.7" y="532.1" style="font-size:3.2px">RpL</text>
<text x="135.7" y="535.6" style="font-size:3.2px">19a</text>
<circle cx="147.9" cy="536.7" r="5.45" fill="#665ffa"/>
<text x="147.9" y="536.1" style="font-size:3.2px">RpL</text>
<text x="147.9" y="539.6" style="font-size:3.2px">19a</text>
<circle cx="159.6" cy="532.0" r="5.45" fill="#da5a8a"/>
<text x="159.6" y="531.4" style="font-size:3.2px">RpS</text>
<text x="159.6" y="534.9" style="font-size:3.2px">27</text>
<circle cx="170.1" cy="541.4" r="5.45" fill="#9661d7"/>
<text x="170.1" y="540.8" style="font-size:3.2px">RpL</text>
<text x="170.1" y="544.3" style="font-size:3.2px">14</text>
<circle cx="181.1" cy="537.9" r="5.45" fill="#9661d7"/>
<text x="181.1" y="537.3" style="font-size:3.2px">RpS</text>
<text x="181.1" y="540.8" style="font-size:3.2px">3A</text>
<circle cx="191.8" cy="535.5" r="5.45" fill="#ee5868"/>
<text x="191.8" y="534.9" style="font-size:3.2px">RpS</text>
<text x="191.8" y="538.4" style="font-size:3.2px">3A</text>
<circle cx="200.5" cy="542.5" r="5.45" fill="#c25dac"/>
<text x="200.5" y="541.9" style="font-size:3.2px">RpL</text>
<text x="200.5" y="545.4" style="font-size:3.2px">14</text>
<circle cx="154.2" cy="549.5" r="5.45" fill="#da5a8a"/>
<text x="154.2" y="548.9" style="font-size:3.2px">RpL</text>
<text x="154.2" y="552.4" style="font-size:3.2px">14</text>
<circle cx="165.9" cy="552.6" r="5.45" fill="#c25dac"/>
<text x="165.9" y="552.0" style="font-size:3.2px">RpS</text>
<text x="165.9" y="555.5" style="font-size:3.2px">27</text>
<circle cx="178.7" cy="551.9" r="5.45" fill="#c25dac"/>
<text x="178.7" y="551.3" style="font-size:3.2px">RpS</text>
<text x="178.7" y="554.8" style="font-size:3.2px">3A</text>
<circle cx="190.0" cy="547.9" r="5.45" fill="#9661d7"/>
<text x="190.0" y="547.3" style="font-size:3.2px">RpL</text>
<text x="190.0" y="550.8" style="font-size:3.2px">14</text>
<circle cx="152.6" cy="578.7" r="8.75" fill="#ee5868"/>
<text x="152.6" y="578.0" style="font-size:3.6px">Rpt</text>
<text x="152.6" y="581.9" style="font-size:3.6px">4</text>
<circle cx="170.1" cy="581.7" r="8.75" fill="#da5a8a"/>
<text x="170.1" y="581.0" style="font-size:3.6px">Rpt</text>
<text x="170.1" y="584.9" style="font-size:3.6px">4</text>
<circle cx="189.3" cy="575.9" r="8.75" fill="#c25dac"/>
<text x="189.3" y="573.2" style="font-size:3.6px">Pros</text>
<text x="189.3" y="577.2" style="font-size:3.6px">alpha</text>
<text x="189.3" y="581.1" style="font-size:3.6px">3</text>
<circle cx="137.4" cy="589.2" r="8.75" fill="#c25dac"/>
<text x="137.4" y="586.5" style="font-size:3.6px">Pros</text>
<text x="137.4" y="590.5" style="font-size:3.6px">alpha</text>
<text x="137.4" y="594.4" style="font-size:3.6px">3</text>
<circle cx="195.3" cy="592.2" r="8.75" fill="#9661d7"/>
<text x="195.3" y="589.5" style="font-size:3.6px">Pros</text>
<text x="195.3" y="593.5" style="font-size:3.6px">alpha</text>
<text x="195.3" y="597.4" style="font-size:3.6px">3</text>
<circle cx="216.1" cy="595.0" r="8.75" fill="#da5a8a"/>
<text x="216.1" y="592.3" style="font-size:3.6px">Pros</text>
<text x="216.1" y="596.3" style="font-size:3.6px">alpha</text>
<text x="216.1" y="600.2" style="font-size:3.6px">3</text>
<circle cx="125.2" cy="605.6" r="8.75" fill="#ac5fc6"/>
<text x="125.2" y="602.9" style="font-size:3.6px">Pros</text>
<text x="125.2" y="606.9" style="font-size:3.6px">alpha</text>
<text x="125.2" y="610.8" style="font-size:3.6px">3</text>
<circle cx="149.8" cy="607.4" r="8.75" fill="#c25dac"/>
<text x="149.8" y="604.7" style="font-size:3.6px">Pros</text>
<text x="149.8" y="608.7" style="font-size:3.6px">alpha</text>
<text x="149.8" y="612.6" style="font-size:3.6px">3</text>
<circle cx="170.6" cy="602.8" r="8.75" fill="#ee5868"/>
<text x="170.6" y="602.1" style="font-size:3.6px">Rpn</text>
<text x="170.6" y="606.0" style="font-size:3.6px">11</text>
<circle cx="192.3" cy="609.5" r="8.75" fill="#c25dac"/>
<text x="192.3" y="606.8" style="font-size:3.6px">Pros</text>
<text x="192.3" y="610.8" style="font-size:3.6px">alpha</text>
<text x="192.3" y="614.7" style="font-size:3.6px">3</text>
<circle cx="211.7" cy="613.3" r="8.75" fill="#ee5868"/>
<text x="211.7" y="612.6" style="font-size:3.6px">Rpt</text>
<text x="211.7" y="616.5" style="font-size:3.6px">4</text>
<circle cx="129.2" cy="622.4" r="8.75" fill="#c25dac"/>
<text x="129.2" y="621.7" style="font-size:3.6px">Rpn</text>
<text x="129.2" y="625.6" style="font-size:3.6px">11</text>
<circle cx="158.4" cy="622.6" r="8.75" fill="#9661d7"/>
<text x="158.4" y="619.9" style="font-size:3.6px">Pro</text>
<text x="158.4" y="623.9" style="font-size:3.6px">sbe</text>
<text x="158.4" y="627.8" style="font-size:3.6px">ta5</text>
<circle cx="181.3" cy="625.4" r="8.75" fill="#da5a8a"/>
<text x="181.3" y="622.7" style="font-size:3.6px">Pros</text>
<text x="181.3" y="626.7" style="font-size:3.6px">alpha</text>
<text x="181.3" y="630.6" style="font-size:3.6px">3</text>
<circle cx="148.6" cy="637.6" r="8.75" fill="#c25dac"/>
<text x="148.6" y="636.9" style="font-size:3.6px">Rpn</text>
<text x="148.6" y="640.8" style="font-size:3.6px">11</text>
<circle cx="168.5" cy="639.4" r="8.75" fill="#da5a8a"/>
<text x="168.5" y="638.7" style="font-size:3.6px">Rpt</text>
<text x="168.5" y="642.6" style="font-size:3.6px">4</text>
<circle cx="225.0" cy="637.1" r="8.75" fill="#ee5868"/>
<text x="225.0" y="634.4" style="font-size:3.6px">Pros</text>
<text x="225.0" y="638.4" style="font-size:3.6px">alpha</text>
<text x="225.0" y="642.3" style="font-size:3.6px">3</text>
<circle cx="206.3" cy="641.1" r="8.75" fill="#da5a8a"/>
<text x="206.3" y="640.4" style="font-size:3.6px">Rpn</text>
<text x="206.3" y="644.3" style="font-size:3.6px">11</text>
<circle cx="127.6" cy="645.3" r="8.75" fill="#da5a8a"/>
<text x="127.6" y="644.6" style="font-size:3.6px">Rpt</text>
<text x="127.6" y="648.5" style="font-size:3.6px">4</text>
<circle cx="184.6" cy="650.7" r="8.75" fill="#c25dac"/>
<text x="184.6" y="648.0" style="font-size:3.6px">Pro</text>
<text x="184.6" y="652.0" style="font-size:3.6px">sbe</text>
<text x="184.6" y="655.9" style="font-size:3.6px">ta5</text>
<circle cx="142.5" cy="655.8" r="8.75" fill="#9661d7"/>
<text x="142.5" y="653.1" style="font-size:3.6px">Pro</text>
<text x="142.5" y="657.1" style="font-size:3.6px">sbe</text>
<text x="142.5" y="661.0" style="font-size:3.6px">ta5</text>
<circle cx="219.2" cy="654.6" r="8.75" fill="#ac5fc6"/>
<text x="219.2" y="651.9" style="font-size:3.6px">Pros</text>
<text x="219.2" y="655.9" style="font-size:3.6px">alpha</text>
<text x="219.2" y="659.8" style="font-size:3.6px">3</text>
<circle cx="168.9" cy="661.6" r="8.75" fill="#7c60eb"/>
<text x="168.9" y="660.9" style="font-size:3.6px">Rpt</text>
<text x="168.9" y="664.8" style="font-size:3.6px">4</text>
<circle cx="201.6" cy="666.3" r="8.75" fill="#c25dac"/>
<text x="201.6" y="665.6" style="font-size:3.6px">Rpt</text>
<text x="201.6" y="669.5" style="font-size:3.6px">4</text>
<circle cx="157.2" cy="678.0" r="8.75" fill="#665ffa"/>
<text x="157.2" y="675.3" style="font-size:3.6px">Pros</text>
<text x="157.2" y="679.3" style="font-size:3.6px">alpha</text>
<text x="157.2" y="683.2" style="font-size:3.6px">3</text>
<circle cx="186.0" cy="676.8" r="8.75" fill="#c25dac"/>
<text x="186.0" y="674.1" style="font-size:3.6px">Pro</text>
<text x="186.0" y="678.1" style="font-size:3.6px">sbe</text>
<text x="186.0" y="682.0" style="font-size:3.6px">ta5</text>
</g>
<g class="cg">
<circle cx="316.0" cy="308.5" r="5.00" fill="#ee5868"/>
<text x="316.0" y="307.9" style="font-size:3.1px">U2A</text>
<text x="316.0" y="311.3" style="font-size:3.1px">F38</text>
<circle cx="286.2" cy="313.7" r="5.00" fill="#c25dac"/>
<text x="286.2" y="313.1" style="font-size:3.1px">Cbp</text>
<text x="286.2" y="316.5" style="font-size:3.1px">80</text>
<circle cx="297.1" cy="314.8" r="5.00" fill="#da5a8a"/>
<text x="297.1" y="314.2" style="font-size:3.1px">U2A</text>
<text x="297.1" y="317.6" style="font-size:3.1px">F38</text>
<circle cx="306.7" cy="316.1" r="5.00" fill="#c25dac"/>
<text x="306.7" y="315.5" style="font-size:3.1px">U2A</text>
<text x="306.7" y="318.9" style="font-size:3.1px">F38</text>
<circle cx="328.0" cy="313.7" r="5.00" fill="#c25dac"/>
<text x="328.0" y="313.1" style="font-size:3.1px">Cbp</text>
<text x="328.0" y="316.5" style="font-size:3.1px">80</text>
<circle cx="274.9" cy="316.7" r="5.00" fill="#c25dac"/>
<text x="274.9" y="316.1" style="font-size:3.1px">Cbp</text>
<text x="274.9" y="319.5" style="font-size:3.1px">80</text>
<circle cx="336.5" cy="319.5" r="5.00" fill="#da5a8a"/>
<text x="336.5" y="318.9" style="font-size:3.1px">Prp</text>
<text x="336.5" y="322.3" style="font-size:3.1px">8</text>
<circle cx="281.5" cy="323.7" r="5.00" fill="#da5a8a"/>
<text x="281.5" y="323.1" style="font-size:3.1px">Prp</text>
<text x="281.5" y="326.5" style="font-size:3.1px">8</text>
<circle cx="298.2" cy="325.2" r="5.00" fill="#da5a8a"/>
<text x="298.2" y="324.6" style="font-size:3.1px">Cbp</text>
<text x="298.2" y="328.0" style="font-size:3.1px">80</text>
<circle cx="308.5" cy="327.1" r="5.00" fill="#da5a8a"/>
<text x="308.5" y="326.5" style="font-size:3.1px">U2A</text>
<text x="308.5" y="329.9" style="font-size:3.1px">F38</text>
<circle cx="322.3" cy="321.8" r="5.00" fill="#c25dac"/>
<text x="322.3" y="321.2" style="font-size:3.1px">Cbp</text>
<text x="322.3" y="324.6" style="font-size:3.1px">80</text>
<circle cx="344.5" cy="325.6" r="5.00" fill="#da5a8a"/>
<text x="344.5" y="325.0" style="font-size:3.1px">Prp</text>
<text x="344.5" y="328.4" style="font-size:3.1px">8</text>
<circle cx="258.7" cy="327.5" r="5.00" fill="#da5a8a"/>
<text x="258.7" y="326.9" style="font-size:3.1px">CG</text>
<text x="258.7" y="330.3" style="font-size:3.1px">5931</text>
<circle cx="268.6" cy="330.9" r="5.00" fill="#ee5868"/>
<text x="268.6" y="330.3" style="font-size:3.1px">U2A</text>
<text x="268.6" y="333.7" style="font-size:3.1px">F38</text>
<circle cx="334.6" cy="329.4" r="5.00" fill="#9661d7"/>
<text x="334.6" y="328.8" style="font-size:3.1px">snRNP</text>
<text x="334.6" y="332.2" style="font-size:3.1px">70K</text>
<circle cx="316.0" cy="334.2" r="5.00" fill="#da5a8a"/>
<text x="316.0" y="333.6" style="font-size:3.1px">Prp</text>
<text x="316.0" y="337.0" style="font-size:3.1px">8</text>
<circle cx="285.9" cy="335.5" r="5.00" fill="#ee5868"/>
<text x="285.9" y="334.9" style="font-size:3.1px">CG</text>
<text x="285.9" y="338.3" style="font-size:3.1px">5931</text>
<circle cx="303.9" cy="337.4" r="5.00" fill="#c25dac"/>
<text x="303.9" y="336.8" style="font-size:3.1px">Cbp</text>
<text x="303.9" y="340.2" style="font-size:3.1px">80</text>
<circle cx="344.5" cy="336.1" r="5.00" fill="#da5a8a"/>
<text x="344.5" y="335.5" style="font-size:3.1px">CG</text>
<text x="344.5" y="338.9" style="font-size:3.1px">5931</text>
<circle cx="257.8" cy="338.5" r="5.00" fill="#da5a8a"/>
<text x="257.8" y="337.9" style="font-size:3.1px">Cbp</text>
<text x="257.8" y="341.3" style="font-size:3.1px">80</text>
<circle cx="266.9" cy="343.7" r="5.00" fill="#da5a8a"/>
<text x="266.9" y="343.1" style="font-size:3.1px">U2A</text>
<text x="266.9" y="346.5" style="font-size:3.1px">F38</text>
<circle cx="276.8" cy="343.3" r="5.00" fill="#e45a7a"/>
<text x="276.8" y="342.7" style="font-size:3.1px">U2A</text>
<text x="276.8" y="346.1" style="font-size:3.1px">F38</text>
<circle cx="286.8" cy="345.5" r="5.00" fill="#c25dac"/>
<text x="286.8" y="344.9" style="font-size:3.1px">Cbp</text>
<text x="286.8" y="348.3" style="font-size:3.1px">80</text>
<circle cx="296.7" cy="344.6" r="5.00" fill="#c25dac"/>
<text x="296.7" y="344.0" style="font-size:3.1px">Prp</text>
<text x="296.7" y="347.4" style="font-size:3.1px">8</text>
<circle cx="325.2" cy="341.8" r="5.00" fill="#da5a8a"/>
<text x="325.2" y="341.2" style="font-size:3.1px">Cbp</text>
<text x="325.2" y="344.6" style="font-size:3.1px">80</text>
<circle cx="337.9" cy="349.3" r="5.00" fill="#da5a8a"/>
<text x="337.9" y="348.7" style="font-size:3.1px">CG</text>
<text x="337.9" y="352.1" style="font-size:3.1px">5931</text>
<circle cx="352.7" cy="345.2" r="5.00" fill="#ee5868"/>
<text x="352.7" y="344.6" style="font-size:3.1px">Cbp</text>
<text x="352.7" y="348.0" style="font-size:3.1px">80</text>
<circle cx="249.2" cy="346.5" r="5.00" fill="#da5a8a"/>
<text x="249.2" y="345.9" style="font-size:3.1px">CG</text>
<text x="249.2" y="349.3" style="font-size:3.1px">5931</text>
<circle cx="259.7" cy="354.5" r="5.00" fill="#c25dac"/>
<text x="259.7" y="353.9" style="font-size:3.1px">CG</text>
<text x="259.7" y="357.3" style="font-size:3.1px">5931</text>
<circle cx="273.3" cy="352.2" r="5.00" fill="#da5a8a"/>
<text x="273.3" y="351.6" style="font-size:3.1px">CG</text>
<text x="273.3" y="355.0" style="font-size:3.1px">5931</text>
<circle cx="287.8" cy="355.6" r="5.00" fill="#ee5868"/>
<text x="287.8" y="355.0" style="font-size:3.1px">Prp</text>
<text x="287.8" y="358.4" style="font-size:3.1px">8</text>
<circle cx="304.7" cy="350.9" r="5.00" fill="#da5a8a"/>
<text x="304.7" y="350.3" style="font-size:3.1px">Prp</text>
<text x="304.7" y="353.7" style="font-size:3.1px">8</text>
<circle cx="316.6" cy="350.9" r="5.00" fill="#da5a8a"/>
<text x="316.6" y="350.3" style="font-size:3.1px">Cbp</text>
<text x="316.6" y="353.7" style="font-size:3.1px">80</text>
<circle cx="327.4" cy="352.2" r="5.00" fill="#da5a8a"/>
<text x="327.4" y="351.6" style="font-size:3.1px">CG</text>
<text x="327.4" y="355.0" style="font-size:3.1px">5931</text>
<circle cx="355.1" cy="356.4" r="5.00" fill="#da5a8a"/>
<text x="355.1" y="355.8" style="font-size:3.1px">U2A</text>
<text x="355.1" y="359.2" style="font-size:3.1px">F38</text>
<circle cx="247.9" cy="365.4" r="5.00" fill="#da5a8a"/>
<text x="247.9" y="364.8" style="font-size:3.1px">snRNP</text>
<text x="247.9" y="368.2" style="font-size:3.1px">70K</text>
<circle cx="262.5" cy="368.3" r="5.00" fill="#da5a8a"/>
<text x="262.5" y="367.7" style="font-size:3.1px">U2A</text>
<text x="262.5" y="371.1" style="font-size:3.1px">F38</text>
<circle cx="274.5" cy="364.1" r="5.00" fill="#da5a8a"/>
<text x="274.5" y="363.5" style="font-size:3.1px">Cbp</text>
<text x="274.5" y="366.9" style="font-size:3.1px">80</text>
<circle cx="286.8" cy="365.4" r="5.00" fill="#da5a8a"/>
<text x="286.8" y="364.8" style="font-size:3.1px">Prp</text>
<text x="286.8" y="368.2" style="font-size:3.1px">8</text>
<circle cx="300.5" cy="366.0" r="5.00" fill="#da5a8a"/>
<text x="300.5" y="365.4" style="font-size:3.1px">Cbp</text>
<text x="300.5" y="368.8" style="font-size:3.1px">80</text>
<circle cx="310.5" cy="362.2" r="5.00" fill="#da5a8a"/>
<text x="310.5" y="361.6" style="font-size:3.1px">Prp</text>
<text x="310.5" y="365.0" style="font-size:3.1px">8</text>
<circle cx="321.7" cy="364.9" r="5.00" fill="#da5a8a"/>
<text x="321.7" y="364.3" style="font-size:3.1px">snRNP</text>
<text x="321.7" y="367.7" style="font-size:3.1px">70K</text>
<circle cx="332.4" cy="361.1" r="5.00" fill="#c25dac"/>
<text x="332.4" y="360.5" style="font-size:3.1px">U2A</text>
<text x="332.4" y="363.9" style="font-size:3.1px">F38</text>
<circle cx="343.2" cy="361.6" r="5.00" fill="#ac5fc6"/>
<text x="343.2" y="361.0" style="font-size:3.1px">CG</text>
<text x="343.2" y="364.4" style="font-size:3.1px">5931</text>
<circle cx="358.4" cy="366.0" r="5.00" fill="#da5a8a"/>
<text x="358.4" y="365.4" style="font-size:3.1px">CG</text>
<text x="358.4" y="368.8" style="font-size:3.1px">5931</text>
<circle cx="247.3" cy="375.5" r="5.00" fill="#c25dac"/>
<text x="247.3" y="374.9" style="font-size:3.1px">U2A</text>
<text x="247.3" y="378.3" style="font-size:3.1px">F38</text>
<circle cx="257.8" cy="377.8" r="5.00" fill="#c25dac"/>
<text x="257.8" y="377.2" style="font-size:3.1px">snRNP</text>
<text x="257.8" y="380.6" style="font-size:3.1px">70K</text>
<circle cx="277.7" cy="375.3" r="5.00" fill="#da5a8a"/>
<text x="277.7" y="374.7" style="font-size:3.1px">U2A</text>
<text x="277.7" y="378.1" style="font-size:3.1px">F38</text>
<circle cx="292.3" cy="374.5" r="5.00" fill="#ac5fc6"/>
<text x="292.3" y="373.9" style="font-size:3.1px">Cbp</text>
<text x="292.3" y="377.3" style="font-size:3.1px">80</text>
<circle cx="313.8" cy="372.7" r="5.00" fill="#da5a8a"/>
<text x="313.8" y="372.1" style="font-size:3.1px">CG</text>
<text x="313.8" y="375.5" style="font-size:3.1px">5931</text>
<circle cx="330.8" cy="371.5" r="5.00" fill="#da5a8a"/>
<text x="330.8" y="370.9" style="font-size:3.1px">snRNP</text>
<text x="330.8" y="374.3" style="font-size:3.1px">70K</text>
<circle cx="354.6" cy="375.9" r="5.00" fill="#da5a8a"/>
<text x="354.6" y="375.3" style="font-size:3.1px">snRNP</text>
<text x="354.6" y="378.7" style="font-size:3.1px">70K</text>
<circle cx="253.6" cy="387.3" r="5.00" fill="#da5a8a"/>
<text x="253.6" y="386.7" style="font-size:3.1px">Prp</text>
<text x="253.6" y="390.1" style="font-size:3.1px">8</text>
<circle cx="265.9" cy="386.3" r="5.00" fill="#da5a8a"/>
<text x="265.9" y="385.7" style="font-size:3.1px">Cbp</text>
<text x="265.9" y="389.1" style="font-size:3.1px">80</text>
<circle cx="283.8" cy="386.9" r="5.00" fill="#665ffa"/>
<text x="283.8" y="386.3" style="font-size:3.1px">snRNP</text>
<text x="283.8" y="389.7" style="font-size:3.1px">70K</text>
<circle cx="295.7" cy="383.8" r="5.00" fill="#da5a8a"/>
<text x="295.7" y="383.2" style="font-size:3.1px">CG</text>
<text x="295.7" y="386.6" style="font-size:3.1px">5931</text>
<circle cx="307.1" cy="381.6" r="5.00" fill="#da5a8a"/>
<text x="307.1" y="381.0" style="font-size:3.1px">CG</text>
<text x="307.1" y="384.4" style="font-size:3.1px">5931</text>
<circle cx="320.0" cy="380.2" r="5.00" fill="#da5a8a"/>
<text x="320.0" y="379.6" style="font-size:3.1px">Cbp</text>
<text x="320.0" y="383.0" style="font-size:3.1px">80</text>
<circle cx="331.8" cy="383.5" r="5.00" fill="#da5a8a"/>
<text x="331.8" y="382.9" style="font-size:3.1px">CG</text>
<text x="331.8" y="386.3" style="font-size:3.1px">5931</text>
<circle cx="344.5" cy="379.3" r="5.00" fill="#da5a8a"/>
<text x="344.5" y="378.7" style="font-size:3.1px">U2A</text>
<text x="344.5" y="382.1" style="font-size:3.1px">F38</text>
<circle cx="349.8" cy="389.2" r="5.00" fill="#da5a8a"/>
<text x="349.8" y="388.6" style="font-size:3.1px">CG</text>
<text x="349.8" y="392.0" style="font-size:3.1px">5931</text>
<circle cx="336.0" cy="392.6" r="5.00" fill="#c25dac"/>
<text x="336.0" y="392.0" style="font-size:3.1px">snRNP</text>
<text x="336.0" y="395.4" style="font-size:3.1px">70K</text>
<circle cx="256.5" cy="399.0" r="5.00" fill="#da5a8a"/>
<text x="256.5" y="398.4" style="font-size:3.1px">U2A</text>
<text x="256.5" y="401.8" style="font-size:3.1px">F38</text>
<circle cx="267.3" cy="399.0" r="5.00" fill="#c25dac"/>
<text x="267.3" y="398.4" style="font-size:3.1px">CG</text>
<text x="267.3" y="401.8" style="font-size:3.1px">5931</text>
<circle cx="278.1" cy="400.5" r="5.00" fill="#c25dac"/>
<text x="278.1" y="399.9" style="font-size:3.1px">CG</text>
<text x="278.1" y="403.3" style="font-size:3.1px">5931</text>
<circle cx="292.5" cy="399.6" r="5.00" fill="#c25dac"/>
<text x="292.5" y="399.0" style="font-size:3.1px">CG</text>
<text x="292.5" y="402.4" style="font-size:3.1px">5931</text>
<circle cx="305.6" cy="396.4" r="5.00" fill="#c25dac"/>
<text x="305.6" y="395.8" style="font-size:3.1px">Prp</text>
<text x="305.6" y="399.2" style="font-size:3.1px">8</text>
<circle cx="320.4" cy="395.4" r="5.00" fill="#da5a8a"/>
<text x="320.4" y="394.8" style="font-size:3.1px">Prp</text>
<text x="320.4" y="398.2" style="font-size:3.1px">8</text>
<circle cx="328.0" cy="402.8" r="5.00" fill="#da5a8a"/>
<text x="328.0" y="402.2" style="font-size:3.1px">CG</text>
<text x="328.0" y="405.6" style="font-size:3.1px">5931</text>
<circle cx="338.8" cy="405.9" r="5.00" fill="#cf5c9c"/>
<text x="338.8" y="405.3" style="font-size:3.1px">U2A</text>
<text x="338.8" y="408.7" style="font-size:3.1px">F38</text>
<circle cx="347.4" cy="400.9" r="5.00" fill="#da5a8a"/>
<text x="347.4" y="400.3" style="font-size:3.1px">U2A</text>
<text x="347.4" y="403.7" style="font-size:3.1px">F38</text>
<circle cx="266.9" cy="409.1" r="5.00" fill="#c25dac"/>
<text x="266.9" y="408.5" style="font-size:3.1px">U2A</text>
<text x="266.9" y="411.9" style="font-size:3.1px">F38</text>
<circle cx="285.9" cy="407.2" r="5.00" fill="#da5a8a"/>
<text x="285.9" y="406.6" style="font-size:3.1px">U2A</text>
<text x="285.9" y="410.0" style="font-size:3.1px">F38</text>
<circle cx="302.9" cy="406.6" r="5.00" fill="#da5a8a"/>
<text x="302.9" y="406.0" style="font-size:3.1px">CG</text>
<text x="302.9" y="409.4" style="font-size:3.1px">5931</text>
<circle cx="313.8" cy="407.2" r="5.00" fill="#da5a8a"/>
<text x="313.8" y="406.6" style="font-size:3.1px">Cbp</text>
<text x="313.8" y="410.0" style="font-size:3.1px">80</text>
<circle cx="324.8" cy="412.3" r="5.00" fill="#c25dac"/>
<text x="324.8" y="411.7" style="font-size:3.1px">Prp</text>
<text x="324.8" y="415.1" style="font-size:3.1px">8</text>
<circle cx="282.5" cy="416.7" r="5.00" fill="#da5a8a"/>
<text x="282.5" y="416.1" style="font-size:3.1px">snRNP</text>
<text x="282.5" y="419.5" style="font-size:3.1px">70K</text>
<circle cx="293.8" cy="414.8" r="5.00" fill="#ee5868"/>
<text x="293.8" y="414.2" style="font-size:3.1px">snRNP</text>
<text x="293.8" y="417.6" style="font-size:3.1px">70K</text>
<circle cx="301.1" cy="421.8" r="5.00" fill="#da5a8a"/>
<text x="301.1" y="421.2" style="font-size:3.1px">CG</text>
<text x="301.1" y="424.6" style="font-size:3.1px">5931</text>
<circle cx="311.3" cy="420.1" r="5.00" fill="#da5a8a"/>
<text x="311.3" y="419.5" style="font-size:3.1px">snRNP</text>
<text x="311.3" y="422.9" style="font-size:3.1px">70K</text>
<circle cx="308.2" cy="440.2" r="5.45" fill="#da5a8a"/>
<text x="308.2" y="439.6" style="font-size:3.2px">RpS</text>
<text x="308.2" y="443.1" style="font-size:3.2px">3A</text>
<circle cx="293.1" cy="444.4" r="5.45" fill="#665ffa"/>
<text x="293.1" y="443.8" style="font-size:3.2px">RpL</text>
<text x="293.1" y="447.3" style="font-size:3.2px">19a</text>
<circle cx="280.7" cy="446.7" r="5.45" fill="#ee5868"/>
<text x="280.7" y="446.1" style="font-size:3.2px">RpL</text>
<text x="280.7" y="449.6" style="font-size:3.2px">19a</text>
<circle cx="269.0" cy="452.6" r="5.45" fill="#e45a7a"/>
<text x="269.0" y="452.0" style="font-size:3.2px">RpS</text>
<text x="269.0" y="455.5" style="font-size:3.2px">27</text>
<circle cx="319.5" cy="449.1" r="5.45" fill="#da5a8a"/>
<text x="319.5" y="448.5" style="font-size:3.2px">RpS</text>
<text x="319.5" y="452.0" style="font-size:3.2px">3A</text>
<circle cx="331.6" cy="447.9" r="5.45" fill="#c25dac"/>
<text x="331.6" y="447.3" style="font-size:3.2px">RpL</text>
<text x="331.6" y="450.8" style="font-size:3.2px">14</text>
<circle cx="343.3" cy="456.5" r="5.45" fill="#e45a7a"/>
<text x="343.3" y="455.9" style="font-size:3.2px">RpL</text>
<text x="343.3" y="459.4" style="font-size:3.2px">19a</text>
<circle cx="286.5" cy="457.2" r="5.45" fill="#c25dac"/>
<text x="286.5" y="456.6" style="font-size:3.2px">RpS</text>
<text x="286.5" y="460.1" style="font-size:3.2px">3A</text>
<circle cx="298.2" cy="455.4" r="5.45" fill="#da5a8a"/>
<text x="298.2" y="454.8" style="font-size:3.2px">RpL</text>
<text x="298.2" y="458.3" style="font-size:3.2px">19a</text>
<circle cx="311.0" cy="459.6" r="5.45" fill="#da5a8a"/>
<text x="311.0" y="459.0" style="font-size:3.2px">RpS</text>
<text x="311.0" y="462.5" style="font-size:3.2px">3A</text>
<circle cx="331.6" cy="459.6" r="5.45" fill="#9661d7"/>
<text x="331.6" y="459.0" style="font-size:3.2px">RpS</text>
<text x="331.6" y="462.5" style="font-size:3.2px">27</text>
<circle cx="265.0" cy="463.1" r="5.45" fill="#cf5c9c"/>
<text x="265.0" y="462.5" style="font-size:3.2px">RpL</text>
<text x="265.0" y="466.0" style="font-size:3.2px">14</text>
<circle cx="277.2" cy="468.9" r="5.45" fill="#cf5c9c"/>
<text x="277.2" y="468.3" style="font-size:3.2px">RpS</text>
<text x="277.2" y="471.8" style="font-size:3.2px">27</text>
<circle cx="297.7" cy="469.4" r="5.45" fill="#9661d7"/>
<text x="297.7" y="468.8" style="font-size:3.2px">RpS</text>
<text x="297.7" y="472.3" style="font-size:3.2px">3A</text>
<circle cx="308.2" cy="472.9" r="5.45" fill="#ee5868"/>
<text x="308.2" y="472.3" style="font-size:3.2px">RpL</text>
<text x="308.2" y="475.8" style="font-size:3.2px">19a</text>
<circle cx="326.9" cy="470.1" r="5.45" fill="#ee5868"/>
<text x="326.9" y="469.5" style="font-size:3.2px">RpS</text>
<text x="326.9" y="473.0" style="font-size:3.2px">27</text>
<circle cx="340.9" cy="467.3" r="5.45" fill="#da5a8a"/>
<text x="340.9" y="466.7" style="font-size:3.2px">RpL</text>
<text x="340.9" y="470.2" style="font-size:3.2px">19a</text>
<circle cx="350.3" cy="473.6" r="5.45" fill="#c25dac"/>
<text x="350.3" y="473.0" style="font-size:3.2px">RpS</text>
<text x="350.3" y="476.5" style="font-size:3.2px">27</text>
<circle cx="268.1" cy="475.9" r="5.45" fill="#ee5868"/>
<text x="268.1" y="475.3" style="font-size:3.2px">RpL</text>
<text x="268.1" y="478.8" style="font-size:3.2px">14</text>
<circle cx="284.2" cy="479.4" r="5.45" fill="#c25dac"/>
<text x="284.2" y="478.8" style="font-size:3.2px">RpS</text>
<text x="284.2" y="482.3" style="font-size:3.2px">27</text>
<circle cx="298.2" cy="481.3" r="5.45" fill="#ee5868"/>
<text x="298.2" y="480.7" style="font-size:3.2px">RpL</text>
<text x="298.2" y="484.2" style="font-size:3.2px">14</text>
<circle cx="318.8" cy="477.1" r="5.45" fill="#9661d7"/>
<text x="318.8" y="476.5" style="font-size:3.2px">RpL</text>
<text x="318.8" y="480.0" style="font-size:3.2px">19a</text>
<circle cx="251.5" cy="477.6" r="5.45" fill="#da5a8a"/>
<text x="251.5" y="477.0" style="font-size:3.2px">RpS</text>
<text x="251.5" y="480.5" style="font-size:3.2px">3A</text>
<circle cx="310.1" cy="486.0" r="5.45" fill="#cf5c9c"/>
<text x="310.1" y="485.4" style="font-size:3.2px">RpL</text>
<text x="310.1" y="488.9" style="font-size:3.2px">14</text>
<circle cx="322.3" cy="488.3" r="5.45" fill="#9661d7"/>
<text x="322.3" y="487.7" style="font-size:3.2px">RpL</text>
<text x="322.3" y="491.2" style="font-size:3.2px">14</text>
<circle cx="337.4" cy="486.4" r="5.45" fill="#9661d7"/>
<text x="337.4" y="485.8" style="font-size:3.2px">RpL</text>
<text x="337.4" y="489.3" style="font-size:3.2px">14</text>
<circle cx="348.7" cy="487.6" r="5.45" fill="#cf5c9c"/>
<text x="348.7" y="487.0" style="font-size:3.2px">RpS</text>
<text x="348.7" y="490.5" style="font-size:3.2px">27</text>
<circle cx="269.7" cy="486.9" r="5.45" fill="#da5a8a"/>
<text x="269.7" y="486.3" style="font-size:3.2px">RpL</text>
<text x="269.7" y="489.8" style="font-size:3.2px">14</text>
<circle cx="255.7" cy="491.6" r="5.45" fill="#e45a7a"/>
<text x="255.7" y="491.0" style="font-size:3.2px">RpS</text>
<text x="255.7" y="494.5" style="font-size:3.2px">3A</text>
<circle cx="289.1" cy="490.7" r="5.45" fill="#c25dac"/>
<text x="289.1" y="490.1" style="font-size:3.2px">RpS</text>
<text x="289.1" y="493.6" style="font-size:3.2px">3A</text>
<circle cx="358.9" cy="493.9" r="5.45" fill="#c25dac"/>
<text x="358.9" y="493.3" style="font-size:3.2px">RpL</text>
<text x="358.9" y="496.8" style="font-size:3.2px">14</text>
<circle cx="266.2" cy="497.7" r="5.45" fill="#cf5c9c"/>
<text x="266.2" y="497.1" style="font-size:3.2px">RpS</text>
<text x="266.2" y="500.6" style="font-size:3.2px">3A</text>
<circle cx="302.4" cy="496.3" r="5.45" fill="#ee5868"/>
<text x="302.4" y="495.7" style="font-size:3.2px">RpS</text>
<text x="302.4" y="499.2" style="font-size:3.2px">27</text>
<circle cx="315.9" cy="497.4" r="5.45" fill="#e45a7a"/>
<text x="315.9" y="496.8" style="font-size:3.2px">RpL</text>
<text x="315.9" y="500.3" style="font-size:3.2px">19a</text>
<circle cx="329.3" cy="498.6" r="5.45" fill="#c25dac"/>
<text x="329.3" y="498.0" style="font-size:3.2px">RpS</text>
<text x="329.3" y="501.5" style="font-size:3.2px">27</text>
<circle cx="342.6" cy="497.0" r="5.45" fill="#e45a7a"/>
<text x="342.6" y="496.4" style="font-size:3.2px">RpL</text>
<text x="342.6" y="499.9" style="font-size:3.2px">14</text>
<circle cx="253.3" cy="503.5" r="5.45" fill="#e45a7a"/>
<text x="253.3" y="502.9" style="font-size:3.2px">RpS</text>
<text x="253.3" y="506.4" style="font-size:3.2px">27</text>
<circle cx="276.7" cy="503.5" r="5.45" fill="#cf5c9c"/>
<text x="276.7" y="502.9" style="font-size:3.2px">RpL</text>
<text x="276.7" y="506.4" style="font-size:3.2px">14</text>
<circle cx="266.9" cy="508.6" r="5.45" fill="#cf5c9c"/>
<text x="266.9" y="508.0" style="font-size:3.2px">RpS</text>
<text x="266.9" y="511.5" style="font-size:3.2px">3A</text>
<circle cx="285.6" cy="509.3" r="5.45" fill="#ee5868"/>
<text x="285.6" y="508.7" style="font-size:3.2px">RpS</text>
<text x="285.6" y="512.2" style="font-size:3.2px">3A</text>
<circle cx="298.2" cy="508.2" r="5.45" fill="#e45a7a"/>
<text x="298.2" y="507.6" style="font-size:3.2px">RpS</text>
<text x="298.2" y="511.1" style="font-size:3.2px">3A</text>
<circle cx="313.4" cy="509.8" r="5.45" fill="#cf5c9c"/>
<text x="313.4" y="509.2" style="font-size:3.2px">RpS</text>
<text x="313.4" y="512.7" style="font-size:3.2px">3A</text>
<circle cx="325.3" cy="508.6" r="5.45" fill="#e45a7a"/>
<text x="325.3" y="508.0" style="font-size:3.2px">RpS</text>
<text x="325.3" y="511.5" style="font-size:3.2px">3A</text>
<circle cx="337.4" cy="507.5" r="5.45" fill="#cf5c9c"/>
<text x="337.4" y="506.9" style="font-size:3.2px">RpL</text>
<text x="337.4" y="510.4" style="font-size:3.2px">14</text>
<circle cx="357.3" cy="509.3" r="5.45" fill="#e45a7a"/>
<text x="357.3" y="508.7" style="font-size:3.2px">RpL</text>
<text x="357.3" y="512.2" style="font-size:3.2px">14</text>
<circle cx="346.8" cy="515.7" r="5.45" fill="#cf5c9c"/>
<text x="346.8" y="515.1" style="font-size:3.2px">RpS</text>
<text x="346.8" y="518.6" style="font-size:3.2px">27</text>
<circle cx="252.9" cy="522.7" r="5.45" fill="#da5a8a"/>
<text x="252.9" y="522.1" style="font-size:3.2px">RpL</text>
<text x="252.9" y="525.6" style="font-size:3.2px">19a</text>
<circle cx="266.9" cy="521.5" r="5.45" fill="#cf5c9c"/>
<text x="266.9" y="520.9" style="font-size:3.2px">RpL</text>
<text x="266.9" y="524.4" style="font-size:3.2px">19a</text>
<circle cx="281.4" cy="520.3" r="5.45" fill="#c25dac"/>
<text x="281.4" y="519.7" style="font-size:3.2px">RpL</text>
<text x="281.4" y="523.2" style="font-size:3.2px">19a</text>
<circle cx="295.9" cy="522.7" r="5.45" fill="#ee5868"/>
<text x="295.9" y="522.1" style="font-size:3.2px">RpS</text>
<text x="295.9" y="525.6" style="font-size:3.2px">3A</text>
<circle cx="307.8" cy="526.2" r="5.45" fill="#e45a7a"/>
<text x="307.8" y="525.6" style="font-size:3.2px">RpL</text>
<text x="307.8" y="529.1" style="font-size:3.2px">19a</text>
<circle cx="322.7" cy="519.2" r="5.45" fill="#c25dac"/>
<text x="322.7" y="518.6" style="font-size:3.2px">RpL</text>
<text x="322.7" y="522.1" style="font-size:3.2px">14</text>
<circle cx="336.3" cy="518.7" r="5.45" fill="#665ffa"/>
<text x="336.3" y="518.1" style="font-size:3.2px">RpL</text>
<text x="336.3" y="521.6" style="font-size:3.2px">19a</text>
<circle cx="346.8" cy="531.3" r="5.45" fill="#e45a7a"/>
<text x="346.8" y="530.7" style="font-size:3.2px">RpS</text>
<text x="346.8" y="534.2" style="font-size:3.2px">27</text>
<circle cx="331.6" cy="529.7" r="5.45" fill="#c25dac"/>
<text x="331.6" y="529.1" style="font-size:3.2px">RpL</text>
<text x="331.6" y="532.6" style="font-size:3.2px">19a</text>
<circle cx="264.5" cy="532.7" r="5.45" fill="#da5a8a"/>
<text x="264.5" y="532.1" style="font-size:3.2px">RpL</text>
<text x="264.5" y="535.6" style="font-size:3.2px">19a</text>
<circle cx="276.7" cy="536.7" r="5.45" fill="#9661d7"/>
<text x="276.7" y="536.1" style="font-size:3.2px">RpL</text>
<text x="276.7" y="539.6" style="font-size:3.2px">19a</text>
<circle cx="288.4" cy="532.0" r="5.45" fill="#da5a8a"/>
<text x="288.4" y="531.4" style="font-size:3.2px">RpS</text>
<text x="288.4" y="534.9" style="font-size:3.2px">27</text>
<circle cx="298.9" cy="541.4" r="5.45" fill="#cf5c9c"/>
<text x="298.9" y="540.8" style="font-size:3.2px">RpL</text>
<text x="298.9" y="544.3" style="font-size:3.2px">14</text>
<circle cx="309.9" cy="537.9" r="5.45" fill="#c25dac"/>
<text x="309.9" y="537.3" style="font-size:3.2px">RpS</text>
<text x="309.9" y="540.8" style="font-size:3.2px">3A</text>
<circle cx="320.6" cy="535.5" r="5.45" fill="#ee5868"/>
<text x="320.6" y="534.9" style="font-size:3.2px">RpS</text>
<text x="320.6" y="538.4" style="font-size:3.2px">3A</text>
<circle cx="329.3" cy="542.5" r="5.45" fill="#cf5c9c"/>
<text x="329.3" y="541.9" style="font-size:3.2px">RpL</text>
<text x="329.3" y="545.4" style="font-size:3.2px">14</text>
<circle cx="283.0" cy="549.5" r="5.45" fill="#ee5868"/>
<text x="283.0" y="548.9" style="font-size:3.2px">RpL</text>
<text x="283.0" y="552.4" style="font-size:3.2px">14</text>
<circle cx="294.7" cy="552.6" r="5.45" fill="#cf5c9c"/>
<text x="294.7" y="552.0" style="font-size:3.2px">RpS</text>
<text x="294.7" y="555.5" style="font-size:3.2px">27</text>
<circle cx="307.5" cy="551.9" r="5.45" fill="#da5a8a"/>
<text x="307.5" y="551.3" style="font-size:3.2px">RpS</text>
<text x="307.5" y="554.8" style="font-size:3.2px">3A</text>
<circle cx="318.8" cy="547.9" r="5.45" fill="#c25dac"/>
<text x="318.8" y="547.3" style="font-size:3.2px">RpL</text>
<text x="318.8" y="550.8" style="font-size:3.2px">14</text>
<circle cx="281.4" cy="578.7" r="8.75" fill="#ee5868"/>
<text x="281.4" y="578.0" style="font-size:3.6px">Rpt</text>
<text x="281.4" y="581.9" style="font-size:3.6px">4</text>
<circle cx="298.9" cy="581.7" r="8.75" fill="#da5a8a"/>
<text x="298.9" y="581.0" style="font-size:3.6px">Rpt</text>
<text x="298.9" y="584.9" style="font-size:3.6px">4</text>
<circle cx="318.1" cy="575.9" r="8.75" fill="#7c60eb"/>
<text x="318.1" y="573.2" style="font-size:3.6px">Pros</text>
<text x="318.1" y="577.2" style="font-size:3.6px">alpha</text>
<text x="318.1" y="581.1" style="font-size:3.6px">3</text>
<circle cx="266.2" cy="589.2" r="8.75" fill="#ac5fc6"/>
<text x="266.2" y="586.5" style="font-size:3.6px">Pros</text>
<text x="266.2" y="590.5" style="font-size:3.6px">alpha</text>
<text x="266.2" y="594.4" style="font-size:3.6px">3</text>
<circle cx="324.1" cy="592.2" r="8.75" fill="#9661d7"/>
<text x="324.1" y="589.5" style="font-size:3.6px">Pros</text>
<text x="324.1" y="593.5" style="font-size:3.6px">alpha</text>
<text x="324.1" y="597.4" style="font-size:3.6px">3</text>
<circle cx="344.9" cy="595.0" r="8.75" fill="#da5a8a"/>
<text x="344.9" y="592.3" style="font-size:3.6px">Pros</text>
<text x="344.9" y="596.3" style="font-size:3.6px">alpha</text>
<text x="344.9" y="600.2" style="font-size:3.6px">3</text>
<circle cx="254.0" cy="605.6" r="8.75" fill="#ac5fc6"/>
<text x="254.0" y="602.9" style="font-size:3.6px">Pros</text>
<text x="254.0" y="606.9" style="font-size:3.6px">alpha</text>
<text x="254.0" y="610.8" style="font-size:3.6px">3</text>
<circle cx="278.6" cy="607.4" r="8.75" fill="#9661d7"/>
<text x="278.6" y="604.7" style="font-size:3.6px">Pros</text>
<text x="278.6" y="608.7" style="font-size:3.6px">alpha</text>
<text x="278.6" y="612.6" style="font-size:3.6px">3</text>
<circle cx="299.4" cy="602.8" r="8.75" fill="#da5a8a"/>
<text x="299.4" y="602.1" style="font-size:3.6px">Rpn</text>
<text x="299.4" y="606.0" style="font-size:3.6px">11</text>
<circle cx="321.1" cy="609.5" r="8.75" fill="#7c60eb"/>
<text x="321.1" y="606.8" style="font-size:3.6px">Pros</text>
<text x="321.1" y="610.8" style="font-size:3.6px">alpha</text>
<text x="321.1" y="614.7" style="font-size:3.6px">3</text>
<circle cx="340.5" cy="613.3" r="8.75" fill="#ee5868"/>
<text x="340.5" y="612.6" style="font-size:3.6px">Rpt</text>
<text x="340.5" y="616.5" style="font-size:3.6px">4</text>
<circle cx="258.0" cy="622.4" r="8.75" fill="#ac5fc6"/>
<text x="258.0" y="621.7" style="font-size:3.6px">Rpn</text>
<text x="258.0" y="625.6" style="font-size:3.6px">11</text>
<circle cx="287.2" cy="622.6" r="8.75" fill="#9661d7"/>
<text x="287.2" y="619.9" style="font-size:3.6px">Pro</text>
<text x="287.2" y="623.9" style="font-size:3.6px">sbe</text>
<text x="287.2" y="627.8" style="font-size:3.6px">ta5</text>
<circle cx="310.1" cy="625.4" r="8.75" fill="#9661d7"/>
<text x="310.1" y="622.7" style="font-size:3.6px">Pros</text>
<text x="310.1" y="626.7" style="font-size:3.6px">alpha</text>
<text x="310.1" y="630.6" style="font-size:3.6px">3</text>
<circle cx="277.4" cy="637.6" r="8.75" fill="#9661d7"/>
<text x="277.4" y="636.9" style="font-size:3.6px">Rpn</text>
<text x="277.4" y="640.8" style="font-size:3.6px">11</text>
<circle cx="297.3" cy="639.4" r="8.75" fill="#da5a8a"/>
<text x="297.3" y="638.7" style="font-size:3.6px">Rpt</text>
<text x="297.3" y="642.6" style="font-size:3.6px">4</text>
<circle cx="353.8" cy="637.1" r="8.75" fill="#da5a8a"/>
<text x="353.8" y="634.4" style="font-size:3.6px">Pros</text>
<text x="353.8" y="638.4" style="font-size:3.6px">alpha</text>
<text x="353.8" y="642.3" style="font-size:3.6px">3</text>
<circle cx="335.1" cy="641.1" r="8.75" fill="#cf5c9c"/>
<text x="335.1" y="640.4" style="font-size:3.6px">Rpn</text>
<text x="335.1" y="644.3" style="font-size:3.6px">11</text>
<circle cx="256.4" cy="645.3" r="8.75" fill="#cf5c9c"/>
<text x="256.4" y="644.6" style="font-size:3.6px">Rpt</text>
<text x="256.4" y="648.5" style="font-size:3.6px">4</text>
<circle cx="313.4" cy="650.7" r="8.75" fill="#ac5fc6"/>
<text x="313.4" y="648.0" style="font-size:3.6px">Pro</text>
<text x="313.4" y="652.0" style="font-size:3.6px">sbe</text>
<text x="313.4" y="655.9" style="font-size:3.6px">ta5</text>
<circle cx="271.3" cy="655.8" r="8.75" fill="#9661d7"/>
<text x="271.3" y="653.1" style="font-size:3.6px">Pro</text>
<text x="271.3" y="657.1" style="font-size:3.6px">sbe</text>
<text x="271.3" y="661.0" style="font-size:3.6px">ta5</text>
<circle cx="348.0" cy="654.6" r="8.75" fill="#9661d7"/>
<text x="348.0" y="651.9" style="font-size:3.6px">Pros</text>
<text x="348.0" y="655.9" style="font-size:3.6px">alpha</text>
<text x="348.0" y="659.8" style="font-size:3.6px">3</text>
<circle cx="297.7" cy="661.6" r="8.75" fill="#665ffa"/>
<text x="297.7" y="660.9" style="font-size:3.6px">Rpt</text>
<text x="297.7" y="664.8" style="font-size:3.6px">4</text>
<circle cx="330.4" cy="666.3" r="8.75" fill="#cf5c9c"/>
<text x="330.4" y="665.6" style="font-size:3.6px">Rpt</text>
<text x="330.4" y="669.5" style="font-size:3.6px">4</text>
<circle cx="286.0" cy="678.0" r="8.75" fill="#665ffa"/>
<text x="286.0" y="675.3" style="font-size:3.6px">Pros</text>
<text x="286.0" y="679.3" style="font-size:3.6px">alpha</text>
<text x="286.0" y="683.2" style="font-size:3.6px">3</text>
<circle cx="314.8" cy="676.8" r="8.75" fill="#9661d7"/>
<text x="314.8" y="674.1" style="font-size:3.6px">Pro</text>
<text x="314.8" y="678.1" style="font-size:3.6px">sbe</text>
<text x="314.8" y="682.0" style="font-size:3.6px">ta5</text>
</g>
<g class="cg">
<circle cx="444.8" cy="308.5" r="5.00" fill="#c25dac"/>
<text x="444.8" y="307.9" style="font-size:3.1px">U2A</text>
<text x="444.8" y="311.3" style="font-size:3.1px">F38</text>
<circle cx="415.0" cy="313.7" r="5.00" fill="#9661d7"/>
<text x="415.0" y="313.1" style="font-size:3.1px">Cbp</text>
<text x="415.0" y="316.5" style="font-size:3.1px">80</text>
<circle cx="425.9" cy="314.8" r="5.00" fill="#c25dac"/>
<text x="425.9" y="314.2" style="font-size:3.1px">U2A</text>
<text x="425.9" y="317.6" style="font-size:3.1px">F38</text>
<circle cx="435.5" cy="316.1" r="5.00" fill="#7c60eb"/>
<text x="435.5" y="315.5" style="font-size:3.1px">U2A</text>
<text x="435.5" y="318.9" style="font-size:3.1px">F38</text>
<circle cx="456.8" cy="313.7" r="5.00" fill="#9661d7"/>
<text x="456.8" y="313.1" style="font-size:3.1px">Cbp</text>
<text x="456.8" y="316.5" style="font-size:3.1px">80</text>
<circle cx="403.7" cy="316.7" r="5.00" fill="#c25dac"/>
<text x="403.7" y="316.1" style="font-size:3.1px">Cbp</text>
<text x="403.7" y="319.5" style="font-size:3.1px">80</text>
<circle cx="465.3" cy="319.5" r="5.00" fill="#9661d7"/>
<text x="465.3" y="318.9" style="font-size:3.1px">Prp</text>
<text x="465.3" y="322.3" style="font-size:3.1px">8</text>
<circle cx="410.3" cy="323.7" r="5.00" fill="#ee5868"/>
<text x="410.3" y="323.1" style="font-size:3.1px">Prp</text>
<text x="410.3" y="326.5" style="font-size:3.1px">8</text>
<circle cx="427.0" cy="325.2" r="5.00" fill="#665ffa"/>
<text x="427.0" y="324.6" style="font-size:3.1px">Cbp</text>
<text x="427.0" y="328.0" style="font-size:3.1px">80</text>
<circle cx="437.3" cy="327.1" r="5.00" fill="#ee5868"/>
<text x="437.3" y="326.5" style="font-size:3.1px">U2A</text>
<text x="437.3" y="329.9" style="font-size:3.1px">F38</text>
<circle cx="451.1" cy="321.8" r="5.00" fill="#9661d7"/>
<text x="451.1" y="321.2" style="font-size:3.1px">Cbp</text>
<text x="451.1" y="324.6" style="font-size:3.1px">80</text>
<circle cx="473.3" cy="325.6" r="5.00" fill="#da5a8a"/>
<text x="473.3" y="325.0" style="font-size:3.1px">Prp</text>
<text x="473.3" y="328.4" style="font-size:3.1px">8</text>
<circle cx="387.5" cy="327.5" r="5.00" fill="#c25dac"/>
<text x="387.5" y="326.9" style="font-size:3.1px">CG</text>
<text x="387.5" y="330.3" style="font-size:3.1px">5931</text>
<circle cx="397.4" cy="330.9" r="5.00" fill="#e45a7a"/>
<text x="397.4" y="330.3" style="font-size:3.1px">U2A</text>
<text x="397.4" y="333.7" style="font-size:3.1px">F38</text>
<circle cx="463.4" cy="329.4" r="5.00" fill="#665ffa"/>
<text x="463.4" y="328.8" style="font-size:3.1px">snRNP</text>
<text x="463.4" y="332.2" style="font-size:3.1px">70K</text>
<circle cx="444.8" cy="334.2" r="5.00" fill="#665ffa"/>
<text x="444.8" y="333.6" style="font-size:3.1px">Prp</text>
<text x="444.8" y="337.0" style="font-size:3.1px">8</text>
<circle cx="414.7" cy="335.5" r="5.00" fill="#c25dac"/>
<text x="414.7" y="334.9" style="font-size:3.1px">CG</text>
<text x="414.7" y="338.3" style="font-size:3.1px">5931</text>
<circle cx="432.7" cy="337.4" r="5.00" fill="#9661d7"/>
<text x="432.7" y="336.8" style="font-size:3.1px">Cbp</text>
<text x="432.7" y="340.2" style="font-size:3.1px">80</text>
<circle cx="473.3" cy="336.1" r="5.00" fill="#c25dac"/>
<text x="473.3" y="335.5" style="font-size:3.1px">CG</text>
<text x="473.3" y="338.9" style="font-size:3.1px">5931</text>
<circle cx="386.6" cy="338.5" r="5.00" fill="#c25dac"/>
<text x="386.6" y="337.9" style="font-size:3.1px">Cbp</text>
<text x="386.6" y="341.3" style="font-size:3.1px">80</text>
<circle cx="395.7" cy="343.7" r="5.00" fill="#da5a8a"/>
<text x="395.7" y="343.1" style="font-size:3.1px">U2A</text>
<text x="395.7" y="346.5" style="font-size:3.1px">F38</text>
<circle cx="405.6" cy="343.3" r="5.00" fill="#da5a8a"/>
<text x="405.6" y="342.7" style="font-size:3.1px">U2A</text>
<text x="405.6" y="346.1" style="font-size:3.1px">F38</text>
<circle cx="415.6" cy="345.5" r="5.00" fill="#9661d7"/>
<text x="415.6" y="344.9" style="font-size:3.1px">Cbp</text>
<text x="415.6" y="348.3" style="font-size:3.1px">80</text>
<circle cx="425.5" cy="344.6" r="5.00" fill="#9661d7"/>
<text x="425.5" y="344.0" style="font-size:3.1px">Prp</text>
<text x="425.5" y="347.4" style="font-size:3.1px">8</text>
<circle cx="454.0" cy="341.8" r="5.00" fill="#9661d7"/>
<text x="454.0" y="341.2" style="font-size:3.1px">Cbp</text>
<text x="454.0" y="344.6" style="font-size:3.1px">80</text>
<circle cx="466.7" cy="349.3" r="5.00" fill="#e45a7a"/>
<text x="466.7" y="348.7" style="font-size:3.1px">CG</text>
<text x="466.7" y="352.1" style="font-size:3.1px">5931</text>
<circle cx="481.5" cy="345.2" r="5.00" fill="#c25dac"/>
<text x="481.5" y="344.6" style="font-size:3.1px">Cbp</text>
<text x="481.5" y="348.0" style="font-size:3.1px">80</text>
<circle cx="378.0" cy="346.5" r="5.00" fill="#665ffa"/>
<text x="378.0" y="345.9" style="font-size:3.1px">CG</text>
<text x="378.0" y="349.3" style="font-size:3.1px">5931</text>
<circle cx="388.5" cy="354.5" r="5.00" fill="#665ffa"/>
<text x="388.5" y="353.9" style="font-size:3.1px">CG</text>
<text x="388.5" y="357.3" style="font-size:3.1px">5931</text>
<circle cx="402.1" cy="352.2" r="5.00" fill="#c25dac"/>
<text x="402.1" y="351.6" style="font-size:3.1px">CG</text>
<text x="402.1" y="355.0" style="font-size:3.1px">5931</text>
<circle cx="416.6" cy="355.6" r="5.00" fill="#9661d7"/>
<text x="416.6" y="355.0" style="font-size:3.1px">Prp</text>
<text x="416.6" y="358.4" style="font-size:3.1px">8</text>
<circle cx="433.5" cy="350.9" r="5.00" fill="#9661d7"/>
<text x="433.5" y="350.3" style="font-size:3.1px">Prp</text>
<text x="433.5" y="353.7" style="font-size:3.1px">8</text>
<circle cx="445.4" cy="350.9" r="5.00" fill="#c25dac"/>
<text x="445.4" y="350.3" style="font-size:3.1px">Cbp</text>
<text x="445.4" y="353.7" style="font-size:3.1px">80</text>
<circle cx="456.2" cy="352.2" r="5.00" fill="#9661d7"/>
<text x="456.2" y="351.6" style="font-size:3.1px">CG</text>
<text x="456.2" y="355.0" style="font-size:3.1px">5931</text>
<circle cx="483.9" cy="356.4" r="5.00" fill="#9661d7"/>
<text x="483.9" y="355.8" style="font-size:3.1px">U2A</text>
<text x="483.9" y="359.2" style="font-size:3.1px">F38</text>
<circle cx="376.7" cy="365.4" r="5.00" fill="#c25dac"/>
<text x="376.7" y="364.8" style="font-size:3.1px">snRNP</text>
<text x="376.7" y="368.2" style="font-size:3.1px">70K</text>
<circle cx="391.3" cy="368.3" r="5.00" fill="#c25dac"/>
<text x="391.3" y="367.7" style="font-size:3.1px">U2A</text>
<text x="391.3" y="371.1" style="font-size:3.1px">F38</text>
<circle cx="403.3" cy="364.1" r="5.00" fill="#9661d7"/>
<text x="403.3" y="363.5" style="font-size:3.1px">Cbp</text>
<text x="403.3" y="366.9" style="font-size:3.1px">80</text>
<circle cx="415.6" cy="365.4" r="5.00" fill="#c25dac"/>
<text x="415.6" y="364.8" style="font-size:3.1px">Prp</text>
<text x="415.6" y="368.2" style="font-size:3.1px">8</text>
<circle cx="429.3" cy="366.0" r="5.00" fill="#665ffa"/>
<text x="429.3" y="365.4" style="font-size:3.1px">Cbp</text>
<text x="429.3" y="368.8" style="font-size:3.1px">80</text>
<circle cx="439.3" cy="362.2" r="5.00" fill="#c25dac"/>
<text x="439.3" y="361.6" style="font-size:3.1px">Prp</text>
<text x="439.3" y="365.0" style="font-size:3.1px">8</text>
<circle cx="450.5" cy="364.9" r="5.00" fill="#ee5868"/>
<text x="450.5" y="364.3" style="font-size:3.1px">snRNP</text>
<text x="450.5" y="367.7" style="font-size:3.1px">70K</text>
<circle cx="461.2" cy="361.1" r="5.00" fill="#9661d7"/>
<text x="461.2" y="360.5" style="font-size:3.1px">U2A</text>
<text x="461.2" y="363.9" style="font-size:3.1px">F38</text>
<circle cx="472.0" cy="361.6" r="5.00" fill="#9661d7"/>
<text x="472.0" y="361.0" style="font-size:3.1px">CG</text>
<text x="472.0" y="364.4" style="font-size:3.1px">5931</text>
<circle cx="487.2" cy="366.0" r="5.00" fill="#9661d7"/>
<text x="487.2" y="365.4" style="font-size:3.1px">CG</text>
<text x="487.2" y="368.8" style="font-size:3.1px">5931</text>
<circle cx="376.1" cy="375.5" r="5.00" fill="#c25dac"/>
<text x="376.1" y="374.9" style="font-size:3.1px">U2A</text>
<text x="376.1" y="378.3" style="font-size:3.1px">F38</text>
<circle cx="386.6" cy="377.8" r="5.00" fill="#9661d7"/>
<text x="386.6" y="377.2" style="font-size:3.1px">snRNP</text>
<text x="386.6" y="380.6" style="font-size:3.1px">70K</text>
<circle cx="406.5" cy="375.3" r="5.00" fill="#c25dac"/>
<text x="406.5" y="374.7" style="font-size:3.1px">U2A</text>
<text x="406.5" y="378.1" style="font-size:3.1px">F38</text>
<circle cx="421.1" cy="374.5" r="5.00" fill="#9661d7"/>
<text x="421.1" y="373.9" style="font-size:3.1px">Cbp</text>
<text x="421.1" y="377.3" style="font-size:3.1px">80</text>
<circle cx="442.6" cy="372.7" r="5.00" fill="#ee5868"/>
<text x="442.6" y="372.1" style="font-size:3.1px">CG</text>
<text x="442.6" y="375.5" style="font-size:3.1px">5931</text>
<circle cx="459.6" cy="371.5" r="5.00" fill="#e45a7a"/>
<text x="459.6" y="370.9" style="font-size:3.1px">snRNP</text>
<text x="459.6" y="374.3" style="font-size:3.1px">70K</text>
<circle cx="483.4" cy="375.9" r="5.00" fill="#c25dac"/>
<text x="483.4" y="375.3" style="font-size:3.1px">snRNP</text>
<text x="483.4" y="378.7" style="font-size:3.1px">70K</text>
<circle cx="382.4" cy="387.3" r="5.00" fill="#da5a8a"/>
<text x="382.4" y="386.7" style="font-size:3.1px">Prp</text>
<text x="382.4" y="390.1" style="font-size:3.1px">8</text>
<circle cx="394.7" cy="386.3" r="5.00" fill="#7c60eb"/>
<text x="394.7" y="385.7" style="font-size:3.1px">Cbp</text>
<text x="394.7" y="389.1" style="font-size:3.1px">80</text>
<circle cx="412.6" cy="386.9" r="5.00" fill="#9661d7"/>
<text x="412.6" y="386.3" style="font-size:3.1px">snRNP</text>
<text x="412.6" y="389.7" style="font-size:3.1px">70K</text>
<circle cx="424.5" cy="383.8" r="5.00" fill="#e45a7a"/>
<text x="424.5" y="383.2" style="font-size:3.1px">CG</text>
<text x="424.5" y="386.6" style="font-size:3.1px">5931</text>
<circle cx="435.9" cy="381.6" r="5.00" fill="#da5a8a"/>
<text x="435.9" y="381.0" style="font-size:3.1px">CG</text>
<text x="435.9" y="384.4" style="font-size:3.1px">5931</text>
<circle cx="448.8" cy="380.2" r="5.00" fill="#9661d7"/>
<text x="448.8" y="379.6" style="font-size:3.1px">Cbp</text>
<text x="448.8" y="383.0" style="font-size:3.1px">80</text>
<circle cx="460.6" cy="383.5" r="5.00" fill="#c25dac"/>
<text x="460.6" y="382.9" style="font-size:3.1px">CG</text>
<text x="460.6" y="386.3" style="font-size:3.1px">5931</text>
<circle cx="473.3" cy="379.3" r="5.00" fill="#c25dac"/>
<text x="473.3" y="378.7" style="font-size:3.1px">U2A</text>
<text x="473.3" y="382.1" style="font-size:3.1px">F38</text>
<circle cx="478.6" cy="389.2" r="5.00" fill="#665ffa"/>
<text x="478.6" y="388.6" style="font-size:3.1px">CG</text>
<text x="478.6" y="392.0" style="font-size:3.1px">5931</text>
<circle cx="464.8" cy="392.6" r="5.00" fill="#9661d7"/>
<text x="464.8" y="392.0" style="font-size:3.1px">snRNP</text>
<text x="464.8" y="395.4" style="font-size:3.1px">70K</text>
<circle cx="385.3" cy="399.0" r="5.00" fill="#c25dac"/>
<text x="385.3" y="398.4" style="font-size:3.1px">U2A</text>
<text x="385.3" y="401.8" style="font-size:3.1px">F38</text>
<circle cx="396.1" cy="399.0" r="5.00" fill="#9661d7"/>
<text x="396.1" y="398.4" style="font-size:3.1px">CG</text>
<text x="396.1" y="401.8" style="font-size:3.1px">5931</text>
<circle cx="406.9" cy="400.5" r="5.00" fill="#9661d7"/>
<text x="406.9" y="399.9" style="font-size:3.1px">CG</text>
<text x="406.9" y="403.3" style="font-size:3.1px">5931</text>
<circle cx="421.3" cy="399.6" r="5.00" fill="#9661d7"/>
<text x="421.3" y="399.0" style="font-size:3.1px">CG</text>
<text x="421.3" y="402.4" style="font-size:3.1px">5931</text>
<circle cx="434.4" cy="396.4" r="5.00" fill="#c25dac"/>
<text x="434.4" y="395.8" style="font-size:3.1px">Prp</text>
<text x="434.4" y="399.2" style="font-size:3.1px">8</text>
<circle cx="449.2" cy="395.4" r="5.00" fill="#9661d7"/>
<text x="449.2" y="394.8" style="font-size:3.1px">Prp</text>
<text x="449.2" y="398.2" style="font-size:3.1px">8</text>
<circle cx="456.8" cy="402.8" r="5.00" fill="#c25dac"/>
<text x="456.8" y="402.2" style="font-size:3.1px">CG</text>
<text x="456.8" y="405.6" style="font-size:3.1px">5931</text>
<circle cx="467.6" cy="405.9" r="5.00" fill="#9661d7"/>
<text x="467.6" y="405.3" style="font-size:3.1px">U2A</text>
<text x="467.6" y="408.7" style="font-size:3.1px">F38</text>
<circle cx="476.2" cy="400.9" r="5.00" fill="#c25dac"/>
<text x="476.2" y="400.3" style="font-size:3.1px">U2A</text>
<text x="476.2" y="403.7" style="font-size:3.1px">F38</text>
<circle cx="395.7" cy="409.1" r="5.00" fill="#9661d7"/>
<text x="395.7" y="408.5" style="font-size:3.1px">U2A</text>
<text x="395.7" y="411.9" style="font-size:3.1px">F38</text>
<circle cx="414.7" cy="407.2" r="5.00" fill="#c25dac"/>
<text x="414.7" y="406.6" style="font-size:3.1px">U2A</text>
<text x="414.7" y="410.0" style="font-size:3.1px">F38</text>
<circle cx="431.7" cy="406.6" r="5.00" fill="#9661d7"/>
<text x="431.7" y="406.0" style="font-size:3.1px">CG</text>
<text x="431.7" y="409.4" style="font-size:3.1px">5931</text>
<circle cx="442.6" cy="407.2" r="5.00" fill="#c25dac"/>
<text x="442.6" y="406.6" style="font-size:3.1px">Cbp</text>
<text x="442.6" y="410.0" style="font-size:3.1px">80</text>
<circle cx="453.6" cy="412.3" r="5.00" fill="#9661d7"/>
<text x="453.6" y="411.7" style="font-size:3.1px">Prp</text>
<text x="453.6" y="415.1" style="font-size:3.1px">8</text>
<circle cx="411.3" cy="416.7" r="5.00" fill="#da5a8a"/>
<text x="411.3" y="416.1" style="font-size:3.1px">snRNP</text>
<text x="411.3" y="419.5" style="font-size:3.1px">70K</text>
<circle cx="422.6" cy="414.8" r="5.00" fill="#c25dac"/>
<text x="422.6" y="414.2" style="font-size:3.1px">snRNP</text>
<text x="422.6" y="417.6" style="font-size:3.1px">70K</text>
<circle cx="429.9" cy="421.8" r="5.00" fill="#9661d7"/>
<text x="429.9" y="421.2" style="font-size:3.1px">CG</text>
<text x="429.9" y="424.6" style="font-size:3.1px">5931</text>
<circle cx="440.1" cy="420.1" r="5.00" fill="#9661d7"/>
<text x="440.1" y="419.5" style="font-size:3.1px">snRNP</text>
<text x="440.1" y="422.9" style="font-size:3.1px">70K</text>
<circle cx="437.0" cy="440.2" r="5.45" fill="#665ffa"/>
<text x="437.0" y="439.6" style="font-size:3.2px">RpS</text>
<text x="437.0" y="443.1" style="font-size:3.2px">3A</text>
<circle cx="421.9" cy="444.4" r="5.45" fill="#665ffa"/>
<text x="421.9" y="443.8" style="font-size:3.2px">RpL</text>
<text x="421.9" y="447.3" style="font-size:3.2px">19a</text>
<circle cx="409.5" cy="446.7" r="5.45" fill="#9661d7"/>
<text x="409.5" y="446.1" style="font-size:3.2px">RpL</text>
<text x="409.5" y="449.6" style="font-size:3.2px">19a</text>
<circle cx="397.8" cy="452.6" r="5.45" fill="#9661d7"/>
<text x="397.8" y="452.0" style="font-size:3.2px">RpS</text>
<text x="397.8" y="455.5" style="font-size:3.2px">27</text>
<circle cx="448.3" cy="449.1" r="5.45" fill="#9661d7"/>
<text x="448.3" y="448.5" style="font-size:3.2px">RpS</text>
<text x="448.3" y="452.0" style="font-size:3.2px">3A</text>
<circle cx="460.4" cy="447.9" r="5.45" fill="#9661d7"/>
<text x="460.4" y="447.3" style="font-size:3.2px">RpL</text>
<text x="460.4" y="450.8" style="font-size:3.2px">14</text>
<circle cx="472.1" cy="456.5" r="5.45" fill="#9661d7"/>
<text x="472.1" y="455.9" style="font-size:3.2px">RpL</text>
<text x="472.1" y="459.4" style="font-size:3.2px">19a</text>
<circle cx="415.3" cy="457.2" r="5.45" fill="#9661d7"/>
<text x="415.3" y="456.6" style="font-size:3.2px">RpS</text>
<text x="415.3" y="460.1" style="font-size:3.2px">3A</text>
<circle cx="427.0" cy="455.4" r="5.45" fill="#7c60eb"/>
<text x="427.0" y="454.8" style="font-size:3.2px">RpL</text>
<text x="427.0" y="458.3" style="font-size:3.2px">19a</text>
<circle cx="439.8" cy="459.6" r="5.45" fill="#c25dac"/>
<text x="439.8" y="459.0" style="font-size:3.2px">RpS</text>
<text x="439.8" y="462.5" style="font-size:3.2px">3A</text>
<circle cx="460.4" cy="459.6" r="5.45" fill="#9661d7"/>
<text x="460.4" y="459.0" style="font-size:3.2px">RpS</text>
<text x="460.4" y="462.5" style="font-size:3.2px">27</text>
<circle cx="393.8" cy="463.1" r="5.45" fill="#9661d7"/>
<text x="393.8" y="462.5" style="font-size:3.2px">RpL</text>
<text x="393.8" y="466.0" style="font-size:3.2px">14</text>
<circle cx="406.0" cy="468.9" r="5.45" fill="#c25dac"/>
<text x="406.0" y="468.3" style="font-size:3.2px">RpS</text>
<text x="406.0" y="471.8" style="font-size:3.2px">27</text>
<circle cx="426.5" cy="469.4" r="5.45" fill="#9661d7"/>
<text x="426.5" y="468.8" style="font-size:3.2px">RpS</text>
<text x="426.5" y="472.3" style="font-size:3.2px">3A</text>
<circle cx="437.0" cy="472.9" r="5.45" fill="#c25dac"/>
<text x="437.0" y="472.3" style="font-size:3.2px">RpL</text>
<text x="437.0" y="475.8" style="font-size:3.2px">19a</text>
<circle cx="455.7" cy="470.1" r="5.45" fill="#c25dac"/>
<text x="455.7" y="469.5" style="font-size:3.2px">RpS</text>
<text x="455.7" y="473.0" style="font-size:3.2px">27</text>
<circle cx="469.7" cy="467.3" r="5.45" fill="#9661d7"/>
<text x="469.7" y="466.7" style="font-size:3.2px">RpL</text>
<text x="469.7" y="470.2" style="font-size:3.2px">19a</text>
<circle cx="479.1" cy="473.6" r="5.45" fill="#ac5fc6"/>
<text x="479.1" y="473.0" style="font-size:3.2px">RpS</text>
<text x="479.1" y="476.5" style="font-size:3.2px">27</text>
<circle cx="396.9" cy="475.9" r="5.45" fill="#665ffa"/>
<text x="396.9" y="475.3" style="font-size:3.2px">RpL</text>
<text x="396.9" y="478.8" style="font-size:3.2px">14</text>
<circle cx="413.0" cy="479.4" r="5.45" fill="#665ffa"/>
<text x="413.0" y="478.8" style="font-size:3.2px">RpS</text>
<text x="413.0" y="482.3" style="font-size:3.2px">27</text>
<circle cx="427.0" cy="481.3" r="5.45" fill="#7c60eb"/>
<text x="427.0" y="480.7" style="font-size:3.2px">RpL</text>
<text x="427.0" y="484.2" style="font-size:3.2px">14</text>
<circle cx="447.6" cy="477.1" r="5.45" fill="#665ffa"/>
<text x="447.6" y="476.5" style="font-size:3.2px">RpL</text>
<text x="447.6" y="480.0" style="font-size:3.2px">19a</text>
<circle cx="380.3" cy="477.6" r="5.45" fill="#9661d7"/>
<text x="380.3" y="477.0" style="font-size:3.2px">RpS</text>
<text x="380.3" y="480.5" style="font-size:3.2px">3A</text>
<circle cx="438.9" cy="486.0" r="5.45" fill="#ac5fc6"/>
<text x="438.9" y="485.4" style="font-size:3.2px">RpL</text>
<text x="438.9" y="488.9" style="font-size:3.2px">14</text>
<circle cx="451.1" cy="488.3" r="5.45" fill="#665ffa"/>
<text x="451.1" y="487.7" style="font-size:3.2px">RpL</text>
<text x="451.1" y="491.2" style="font-size:3.2px">14</text>
<circle cx="466.2" cy="486.4" r="5.45" fill="#7c60eb"/>
<text x="466.2" y="485.8" style="font-size:3.2px">RpL</text>
<text x="466.2" y="489.3" style="font-size:3.2px">14</text>
<circle cx="477.5" cy="487.6" r="5.45" fill="#9661d7"/>
<text x="477.5" y="487.0" style="font-size:3.2px">RpS</text>
<text x="477.5" y="490.5" style="font-size:3.2px">27</text>
<circle cx="398.5" cy="486.9" r="5.45" fill="#7c60eb"/>
<text x="398.5" y="486.3" style="font-size:3.2px">RpL</text>
<text x="398.5" y="489.8" style="font-size:3.2px">14</text>
<circle cx="384.5" cy="491.6" r="5.45" fill="#665ffa"/>
<text x="384.5" y="491.0" style="font-size:3.2px">RpS</text>
<text x="384.5" y="494.5" style="font-size:3.2px">3A</text>
<circle cx="417.9" cy="490.7" r="5.45" fill="#ac5fc6"/>
<text x="417.9" y="490.1" style="font-size:3.2px">RpS</text>
<text x="417.9" y="493.6" style="font-size:3.2px">3A</text>
<circle cx="487.7" cy="493.9" r="5.45" fill="#9661d7"/>
<text x="487.7" y="493.3" style="font-size:3.2px">RpL</text>
<text x="487.7" y="496.8" style="font-size:3.2px">14</text>
<circle cx="395.0" cy="497.7" r="5.45" fill="#9661d7"/>
<text x="395.0" y="497.1" style="font-size:3.2px">RpS</text>
<text x="395.0" y="500.6" style="font-size:3.2px">3A</text>
<circle cx="431.2" cy="496.3" r="5.45" fill="#da5a8a"/>
<text x="431.2" y="495.7" style="font-size:3.2px">RpS</text>
<text x="431.2" y="499.2" style="font-size:3.2px">27</text>
<circle cx="444.7" cy="497.4" r="5.45" fill="#9661d7"/>
<text x="444.7" y="496.8" style="font-size:3.2px">RpL</text>
<text x="444.7" y="500.3" style="font-size:3.2px">19a</text>
<circle cx="458.1" cy="498.6" r="5.45" fill="#9661d7"/>
<text x="458.1" y="498.0" style="font-size:3.2px">RpS</text>
<text x="458.1" y="501.5" style="font-size:3.2px">27</text>
<circle cx="471.4" cy="497.0" r="5.45" fill="#7c60eb"/>
<text x="471.4" y="496.4" style="font-size:3.2px">RpL</text>
<text x="471.4" y="499.9" style="font-size:3.2px">14</text>
<circle cx="382.1" cy="503.5" r="5.45" fill="#ac5fc6"/>
<text x="382.1" y="502.9" style="font-size:3.2px">RpS</text>
<text x="382.1" y="506.4" style="font-size:3.2px">27</text>
<circle cx="405.5" cy="503.5" r="5.45" fill="#9661d7"/>
<text x="405.5" y="502.9" style="font-size:3.2px">RpL</text>
<text x="405.5" y="506.4" style="font-size:3.2px">14</text>
<circle cx="395.7" cy="508.6" r="5.45" fill="#ac5fc6"/>
<text x="395.7" y="508.0" style="font-size:3.2px">RpS</text>
<text x="395.7" y="511.5" style="font-size:3.2px">3A</text>
<circle cx="414.4" cy="509.3" r="5.45" fill="#da5a8a"/>
<text x="414.4" y="508.7" style="font-size:3.2px">RpS</text>
<text x="414.4" y="512.2" style="font-size:3.2px">3A</text>
<circle cx="427.0" cy="508.2" r="5.45" fill="#da5a8a"/>
<text x="427.0" y="507.6" style="font-size:3.2px">RpS</text>
<text x="427.0" y="511.1" style="font-size:3.2px">3A</text>
<circle cx="442.2" cy="509.8" r="5.45" fill="#9661d7"/>
<text x="442.2" y="509.2" style="font-size:3.2px">RpS</text>
<text x="442.2" y="512.7" style="font-size:3.2px">3A</text>
<circle cx="454.1" cy="508.6" r="5.45" fill="#ac5fc6"/>
<text x="454.1" y="508.0" style="font-size:3.2px">RpS</text>
<text x="454.1" y="511.5" style="font-size:3.2px">3A</text>
<circle cx="466.2" cy="507.5" r="5.45" fill="#665ffa"/>
<text x="466.2" y="506.9" style="font-size:3.2px">RpL</text>
<text x="466.2" y="510.4" style="font-size:3.2px">14</text>
<circle cx="486.1" cy="509.3" r="5.45" fill="#e45a7a"/>
<text x="486.1" y="508.7" style="font-size:3.2px">RpL</text>
<text x="486.1" y="512.2" style="font-size:3.2px">14</text>
<circle cx="475.6" cy="515.7" r="5.45" fill="#9661d7"/>
<text x="475.6" y="515.1" style="font-size:3.2px">RpS</text>
<text x="475.6" y="518.6" style="font-size:3.2px">27</text>
<circle cx="381.7" cy="522.7" r="5.45" fill="#9661d7"/>
<text x="381.7" y="522.1" style="font-size:3.2px">RpL</text>
<text x="381.7" y="525.6" style="font-size:3.2px">19a</text>
<circle cx="395.7" cy="521.5" r="5.45" fill="#c25dac"/>
<text x="395.7" y="520.9" style="font-size:3.2px">RpL</text>
<text x="395.7" y="524.4" style="font-size:3.2px">19a</text>
<circle cx="410.2" cy="520.3" r="5.45" fill="#9661d7"/>
<text x="410.2" y="519.7" style="font-size:3.2px">RpL</text>
<text x="410.2" y="523.2" style="font-size:3.2px">19a</text>
<circle cx="424.7" cy="522.7" r="5.45" fill="#da5a8a"/>
<text x="424.7" y="522.1" style="font-size:3.2px">RpS</text>
<text x="424.7" y="525.6" style="font-size:3.2px">3A</text>
<circle cx="436.6" cy="526.2" r="5.45" fill="#9661d7"/>
<text x="436.6" y="525.6" style="font-size:3.2px">RpL</text>
<text x="436.6" y="529.1" style="font-size:3.2px">19a</text>
<circle cx="451.5" cy="519.2" r="5.45" fill="#665ffa"/>
<text x="451.5" y="518.6" style="font-size:3.2px">RpL</text>
<text x="451.5" y="522.1" style="font-size:3.2px">14</text>
<circle cx="465.1" cy="518.7" r="5.45" fill="#7c60eb"/>
<text x="465.1" y="518.1" style="font-size:3.2px">RpL</text>
<text x="465.1" y="521.6" style="font-size:3.2px">19a</text>
<circle cx="475.6" cy="531.3" r="5.45" fill="#665ffa"/>
<text x="475.6" y="530.7" style="font-size:3.2px">RpS</text>
<text x="475.6" y="534.2" style="font-size:3.2px">27</text>
<circle cx="460.4" cy="529.7" r="5.45" fill="#c25dac"/>
<text x="460.4" y="529.1" style="font-size:3.2px">RpL</text>
<text x="460.4" y="532.6" style="font-size:3.2px">19a</text>
<circle cx="393.3" cy="532.7" r="5.45" fill="#665ffa"/>
<text x="393.3" y="532.1" style="font-size:3.2px">RpL</text>
<text x="393.3" y="535.6" style="font-size:3.2px">19a</text>
<circle cx="405.5" cy="536.7" r="5.45" fill="#9661d7"/>
<text x="405.5" y="536.1" style="font-size:3.2px">RpL</text>
<text x="405.5" y="539.6" style="font-size:3.2px">19a</text>
<circle cx="417.2" cy="532.0" r="5.45" fill="#9661d7"/>
<text x="417.2" y="531.4" style="font-size:3.2px">RpS</text>
<text x="417.2" y="534.9" style="font-size:3.2px">27</text>
<circle cx="427.7" cy="541.4" r="5.45" fill="#9661d7"/>
<text x="427.7" y="540.8" style="font-size:3.2px">RpL</text>
<text x="427.7" y="544.3" style="font-size:3.2px">14</text>
<circle cx="438.7" cy="537.9" r="5.45" fill="#ac5fc6"/>
<text x="438.7" y="537.3" style="font-size:3.2px">RpS</text>
<text x="438.7" y="540.8" style="font-size:3.2px">3A</text>
<circle cx="449.4" cy="535.5" r="5.45" fill="#c25dac"/>
<text x="449.4" y="534.9" style="font-size:3.2px">RpS</text>
<text x="449.4" y="538.4" style="font-size:3.2px">3A</text>
<circle cx="458.1" cy="542.5" r="5.45" fill="#7c60eb"/>
<text x="458.1" y="541.9" style="font-size:3.2px">RpL</text>
<text x="458.1" y="545.4" style="font-size:3.2px">14</text>
<circle cx="411.8" cy="549.5" r="5.45" fill="#9661d7"/>
<text x="411.8" y="548.9" style="font-size:3.2px">RpL</text>
<text x="411.8" y="552.4" style="font-size:3.2px">14</text>
<circle cx="423.5" cy="552.6" r="5.45" fill="#7c60eb"/>
<text x="423.5" y="552.0" style="font-size:3.2px">RpS</text>
<text x="423.5" y="555.5" style="font-size:3.2px">27</text>
<circle cx="436.3" cy="551.9" r="5.45" fill="#665ffa"/>
<text x="436.3" y="551.3" style="font-size:3.2px">RpS</text>
<text x="436.3" y="554.8" style="font-size:3.2px">3A</text>
<circle cx="447.6" cy="547.9" r="5.45" fill="#7c60eb"/>
<text x="447.6" y="547.3" style="font-size:3.2px">RpL</text>
<text x="447.6" y="550.8" style="font-size:3.2px">14</text>
<circle cx="410.2" cy="578.7" r="8.75" fill="#c25dac"/>
<text x="410.2" y="578.0" style="font-size:3.6px">Rpt</text>
<text x="410.2" y="581.9" style="font-size:3.6px">4</text>
<circle cx="427.7" cy="581.7" r="8.75" fill="#7c60eb"/>
<text x="427.7" y="581.0" style="font-size:3.6px">Rpt</text>
<text x="427.7" y="584.9" style="font-size:3.6px">4</text>
<circle cx="446.9" cy="575.9" r="8.75" fill="#9661d7"/>
<text x="446.9" y="573.2" style="font-size:3.6px">Pros</text>
<text x="446.9" y="577.2" style="font-size:3.6px">alpha</text>
<text x="446.9" y="581.1" style="font-size:3.6px">3</text>
<circle cx="395.0" cy="589.2" r="8.75" fill="#9661d7"/>
<text x="395.0" y="586.5" style="font-size:3.6px">Pros</text>
<text x="395.0" y="590.5" style="font-size:3.6px">alpha</text>
<text x="395.0" y="594.4" style="font-size:3.6px">3</text>
<circle cx="452.9" cy="592.2" r="8.75" fill="#ac5fc6"/>
<text x="452.9" y="589.5" style="font-size:3.6px">Pros</text>
<text x="452.9" y="593.5" style="font-size:3.6px">alpha</text>
<text x="452.9" y="597.4" style="font-size:3.6px">3</text>
<circle cx="473.7" cy="595.0" r="8.75" fill="#7c60eb"/>
<text x="473.7" y="592.3" style="font-size:3.6px">Pros</text>
<text x="473.7" y="596.3" style="font-size:3.6px">alpha</text>
<text x="473.7" y="600.2" style="font-size:3.6px">3</text>
<circle cx="382.8" cy="605.6" r="8.75" fill="#9661d7"/>
<text x="382.8" y="602.9" style="font-size:3.6px">Pros</text>
<text x="382.8" y="606.9" style="font-size:3.6px">alpha</text>
<text x="382.8" y="610.8" style="font-size:3.6px">3</text>
<circle cx="407.4" cy="607.4" r="8.75" fill="#9661d7"/>
<text x="407.4" y="604.7" style="font-size:3.6px">Pros</text>
<text x="407.4" y="608.7" style="font-size:3.6px">alpha</text>
<text x="407.4" y="612.6" style="font-size:3.6px">3</text>
<circle cx="428.2" cy="602.8" r="8.75" fill="#c25dac"/>
<text x="428.2" y="602.1" style="font-size:3.6px">Rpn</text>
<text x="428.2" y="606.0" style="font-size:3.6px">11</text>
<circle cx="449.9" cy="609.5" r="8.75" fill="#7c60eb"/>
<text x="449.9" y="606.8" style="font-size:3.6px">Pros</text>
<text x="449.9" y="610.8" style="font-size:3.6px">alpha</text>
<text x="449.9" y="614.7" style="font-size:3.6px">3</text>
<circle cx="469.3" cy="613.3" r="8.75" fill="#c25dac"/>
<text x="469.3" y="612.6" style="font-size:3.6px">Rpt</text>
<text x="469.3" y="616.5" style="font-size:3.6px">4</text>
<circle cx="386.8" cy="622.4" r="8.75" fill="#665ffa"/>
<text x="386.8" y="621.7" style="font-size:3.6px">Rpn</text>
<text x="386.8" y="625.6" style="font-size:3.6px">11</text>
<circle cx="416.0" cy="622.6" r="8.75" fill="#665ffa"/>
<text x="416.0" y="619.9" style="font-size:3.6px">Pro</text>
<text x="416.0" y="623.9" style="font-size:3.6px">sbe</text>
<text x="416.0" y="627.8" style="font-size:3.6px">ta5</text>
<circle cx="438.9" cy="625.4" r="8.75" fill="#7c60eb"/>
<text x="438.9" y="622.7" style="font-size:3.6px">Pros</text>
<text x="438.9" y="626.7" style="font-size:3.6px">alpha</text>
<text x="438.9" y="630.6" style="font-size:3.6px">3</text>
<circle cx="406.2" cy="637.6" r="8.75" fill="#9661d7"/>
<text x="406.2" y="636.9" style="font-size:3.6px">Rpn</text>
<text x="406.2" y="640.8" style="font-size:3.6px">11</text>
<circle cx="426.1" cy="639.4" r="8.75" fill="#9661d7"/>
<text x="426.1" y="638.7" style="font-size:3.6px">Rpt</text>
<text x="426.1" y="642.6" style="font-size:3.6px">4</text>
<circle cx="482.6" cy="637.1" r="8.75" fill="#e45a7a"/>
<text x="482.6" y="634.4" style="font-size:3.6px">Pros</text>
<text x="482.6" y="638.4" style="font-size:3.6px">alpha</text>
<text x="482.6" y="642.3" style="font-size:3.6px">3</text>
<circle cx="463.9" cy="641.1" r="8.75" fill="#ee5868"/>
<text x="463.9" y="640.4" style="font-size:3.6px">Rpn</text>
<text x="463.9" y="644.3" style="font-size:3.6px">11</text>
<circle cx="385.2" cy="645.3" r="8.75" fill="#ac5fc6"/>
<text x="385.2" y="644.6" style="font-size:3.6px">Rpt</text>
<text x="385.2" y="648.5" style="font-size:3.6px">4</text>
<circle cx="442.2" cy="650.7" r="8.75" fill="#c25dac"/>
<text x="442.2" y="648.0" style="font-size:3.6px">Pro</text>
<text x="442.2" y="652.0" style="font-size:3.6px">sbe</text>
<text x="442.2" y="655.9" style="font-size:3.6px">ta5</text>
<circle cx="400.1" cy="655.8" r="8.75" fill="#7c60eb"/>
<text x="400.1" y="653.1" style="font-size:3.6px">Pro</text>
<text x="400.1" y="657.1" style="font-size:3.6px">sbe</text>
<text x="400.1" y="661.0" style="font-size:3.6px">ta5</text>
<circle cx="476.8" cy="654.6" r="8.75" fill="#9661d7"/>
<text x="476.8" y="651.9" style="font-size:3.6px">Pros</text>
<text x="476.8" y="655.9" style="font-size:3.6px">alpha</text>
<text x="476.8" y="659.8" style="font-size:3.6px">3</text>
<circle cx="426.5" cy="661.6" r="8.75" fill="#7c60eb"/>
<text x="426.5" y="660.9" style="font-size:3.6px">Rpt</text>
<text x="426.5" y="664.8" style="font-size:3.6px">4</text>
<circle cx="459.2" cy="666.3" r="8.75" fill="#9661d7"/>
<text x="459.2" y="665.6" style="font-size:3.6px">Rpt</text>
<text x="459.2" y="669.5" style="font-size:3.6px">4</text>
<circle cx="414.8" cy="678.0" r="8.75" fill="#7c60eb"/>
<text x="414.8" y="675.3" style="font-size:3.6px">Pros</text>
<text x="414.8" y="679.3" style="font-size:3.6px">alpha</text>
<text x="414.8" y="683.2" style="font-size:3.6px">3</text>
<circle cx="443.6" cy="676.8" r="8.75" fill="#7c60eb"/>
<text x="443.6" y="674.1" style="font-size:3.6px">Pro</text>
<text x="443.6" y="678.1" style="font-size:3.6px">sbe</text>
<text x="443.6" y="682.0" style="font-size:3.6px">ta5</text>
</g>
<g class="cg">
<circle cx="573.6" cy="308.5" r="5.00" fill="#c25dac"/>
<text x="573.6" y="307.9" style="font-size:3.1px">U2A</text>
<text x="573.6" y="311.3" style="font-size:3.1px">F38</text>
<circle cx="543.8" cy="313.7" r="5.00" fill="#9661d7"/>
<text x="543.8" y="313.1" style="font-size:3.1px">Cbp</text>
<text x="543.8" y="316.5" style="font-size:3.1px">80</text>
<circle cx="554.7" cy="314.8" r="5.00" fill="#c25dac"/>
<text x="554.7" y="314.2" style="font-size:3.1px">U2A</text>
<text x="554.7" y="317.6" style="font-size:3.1px">F38</text>
<circle cx="564.3" cy="316.1" r="5.00" fill="#665ffa"/>
<text x="564.3" y="315.5" style="font-size:3.1px">U2A</text>
<text x="564.3" y="318.9" style="font-size:3.1px">F38</text>
<circle cx="585.6" cy="313.7" r="5.00" fill="#9661d7"/>
<text x="585.6" y="313.1" style="font-size:3.1px">Cbp</text>
<text x="585.6" y="316.5" style="font-size:3.1px">80</text>
<circle cx="532.5" cy="316.7" r="5.00" fill="#c25dac"/>
<text x="532.5" y="316.1" style="font-size:3.1px">Cbp</text>
<text x="532.5" y="319.5" style="font-size:3.1px">80</text>
<circle cx="594.1" cy="319.5" r="5.00" fill="#9661d7"/>
<text x="594.1" y="318.9" style="font-size:3.1px">Prp</text>
<text x="594.1" y="322.3" style="font-size:3.1px">8</text>
<circle cx="539.1" cy="323.7" r="5.00" fill="#e45a7a"/>
<text x="539.1" y="323.1" style="font-size:3.1px">Prp</text>
<text x="539.1" y="326.5" style="font-size:3.1px">8</text>
<circle cx="555.8" cy="325.2" r="5.00" fill="#665ffa"/>
<text x="555.8" y="324.6" style="font-size:3.1px">Cbp</text>
<text x="555.8" y="328.0" style="font-size:3.1px">80</text>
<circle cx="566.1" cy="327.1" r="5.00" fill="#da5a8a"/>
<text x="566.1" y="326.5" style="font-size:3.1px">U2A</text>
<text x="566.1" y="329.9" style="font-size:3.1px">F38</text>
<circle cx="579.9" cy="321.8" r="5.00" fill="#9661d7"/>
<text x="579.9" y="321.2" style="font-size:3.1px">Cbp</text>
<text x="579.9" y="324.6" style="font-size:3.1px">80</text>
<circle cx="602.1" cy="325.6" r="5.00" fill="#cf5c9c"/>
<text x="602.1" y="325.0" style="font-size:3.1px">Prp</text>
<text x="602.1" y="328.4" style="font-size:3.1px">8</text>
<circle cx="516.3" cy="327.5" r="5.00" fill="#c25dac"/>
<text x="516.3" y="326.9" style="font-size:3.1px">CG</text>
<text x="516.3" y="330.3" style="font-size:3.1px">5931</text>
<circle cx="526.2" cy="330.9" r="5.00" fill="#da5a8a"/>
<text x="526.2" y="330.3" style="font-size:3.1px">U2A</text>
<text x="526.2" y="333.7" style="font-size:3.1px">F38</text>
<circle cx="592.2" cy="329.4" r="5.00" fill="#665ffa"/>
<text x="592.2" y="328.8" style="font-size:3.1px">snRNP</text>
<text x="592.2" y="332.2" style="font-size:3.1px">70K</text>
<circle cx="573.6" cy="334.2" r="5.00" fill="#9661d7"/>
<text x="573.6" y="333.6" style="font-size:3.1px">Prp</text>
<text x="573.6" y="337.0" style="font-size:3.1px">8</text>
<circle cx="543.5" cy="335.5" r="5.00" fill="#c25dac"/>
<text x="543.5" y="334.9" style="font-size:3.1px">CG</text>
<text x="543.5" y="338.3" style="font-size:3.1px">5931</text>
<circle cx="561.5" cy="337.4" r="5.00" fill="#9661d7"/>
<text x="561.5" y="336.8" style="font-size:3.1px">Cbp</text>
<text x="561.5" y="340.2" style="font-size:3.1px">80</text>
<circle cx="602.1" cy="336.1" r="5.00" fill="#c25dac"/>
<text x="602.1" y="335.5" style="font-size:3.1px">CG</text>
<text x="602.1" y="338.9" style="font-size:3.1px">5931</text>
<circle cx="515.4" cy="338.5" r="5.00" fill="#9661d7"/>
<text x="515.4" y="337.9" style="font-size:3.1px">Cbp</text>
<text x="515.4" y="341.3" style="font-size:3.1px">80</text>
<circle cx="524.5" cy="343.7" r="5.00" fill="#c25dac"/>
<text x="524.5" y="343.1" style="font-size:3.1px">U2A</text>
<text x="524.5" y="346.5" style="font-size:3.1px">F38</text>
<circle cx="534.4" cy="343.3" r="5.00" fill="#c25dac"/>
<text x="534.4" y="342.7" style="font-size:3.1px">U2A</text>
<text x="534.4" y="346.1" style="font-size:3.1px">F38</text>
<circle cx="544.4" cy="345.5" r="5.00" fill="#9661d7"/>
<text x="544.4" y="344.9" style="font-size:3.1px">Cbp</text>
<text x="544.4" y="348.3" style="font-size:3.1px">80</text>
<circle cx="554.3" cy="344.6" r="5.00" fill="#9661d7"/>
<text x="554.3" y="344.0" style="font-size:3.1px">Prp</text>
<text x="554.3" y="347.4" style="font-size:3.1px">8</text>
<circle cx="582.8" cy="341.8" r="5.00" fill="#9661d7"/>
<text x="582.8" y="341.2" style="font-size:3.1px">Cbp</text>
<text x="582.8" y="344.6" style="font-size:3.1px">80</text>
<circle cx="595.5" cy="349.3" r="5.00" fill="#da5a8a"/>
<text x="595.5" y="348.7" style="font-size:3.1px">CG</text>
<text x="595.5" y="352.1" style="font-size:3.1px">5931</text>
<circle cx="610.3" cy="345.2" r="5.00" fill="#9661d7"/>
<text x="610.3" y="344.6" style="font-size:3.1px">Cbp</text>
<text x="610.3" y="348.0" style="font-size:3.1px">80</text>
<circle cx="506.8" cy="346.5" r="5.00" fill="#9661d7"/>
<text x="506.8" y="345.9" style="font-size:3.1px">CG</text>
<text x="506.8" y="349.3" style="font-size:3.1px">5931</text>
<circle cx="517.3" cy="354.5" r="5.00" fill="#665ffa"/>
<text x="517.3" y="353.9" style="font-size:3.1px">CG</text>
<text x="517.3" y="357.3" style="font-size:3.1px">5931</text>
<circle cx="530.9" cy="352.2" r="5.00" fill="#c25dac"/>
<text x="530.9" y="351.6" style="font-size:3.1px">CG</text>
<text x="530.9" y="355.0" style="font-size:3.1px">5931</text>
<circle cx="545.4" cy="355.6" r="5.00" fill="#9661d7"/>
<text x="545.4" y="355.0" style="font-size:3.1px">Prp</text>
<text x="545.4" y="358.4" style="font-size:3.1px">8</text>
<circle cx="562.3" cy="350.9" r="5.00" fill="#9661d7"/>
<text x="562.3" y="350.3" style="font-size:3.1px">Prp</text>
<text x="562.3" y="353.7" style="font-size:3.1px">8</text>
<circle cx="574.2" cy="350.9" r="5.00" fill="#c25dac"/>
<text x="574.2" y="350.3" style="font-size:3.1px">Cbp</text>
<text x="574.2" y="353.7" style="font-size:3.1px">80</text>
<circle cx="585.0" cy="352.2" r="5.00" fill="#9661d7"/>
<text x="585.0" y="351.6" style="font-size:3.1px">CG</text>
<text x="585.0" y="355.0" style="font-size:3.1px">5931</text>
<circle cx="612.7" cy="356.4" r="5.00" fill="#9661d7"/>
<text x="612.7" y="355.8" style="font-size:3.1px">U2A</text>
<text x="612.7" y="359.2" style="font-size:3.1px">F38</text>
<circle cx="505.5" cy="365.4" r="5.00" fill="#9661d7"/>
<text x="505.5" y="364.8" style="font-size:3.1px">snRNP</text>
<text x="505.5" y="368.2" style="font-size:3.1px">70K</text>
<circle cx="520.1" cy="368.3" r="5.00" fill="#c25dac"/>
<text x="520.1" y="367.7" style="font-size:3.1px">U2A</text>
<text x="520.1" y="371.1" style="font-size:3.1px">F38</text>
<circle cx="532.1" cy="364.1" r="5.00" fill="#9661d7"/>
<text x="532.1" y="363.5" style="font-size:3.1px">Cbp</text>
<text x="532.1" y="366.9" style="font-size:3.1px">80</text>
<circle cx="544.4" cy="365.4" r="5.00" fill="#c25dac"/>
<text x="544.4" y="364.8" style="font-size:3.1px">Prp</text>
<text x="544.4" y="368.2" style="font-size:3.1px">8</text>
<circle cx="558.1" cy="366.0" r="5.00" fill="#665ffa"/>
<text x="558.1" y="365.4" style="font-size:3.1px">Cbp</text>
<text x="558.1" y="368.8" style="font-size:3.1px">80</text>
<circle cx="568.1" cy="362.2" r="5.00" fill="#c25dac"/>
<text x="568.1" y="361.6" style="font-size:3.1px">Prp</text>
<text x="568.1" y="365.0" style="font-size:3.1px">8</text>
<circle cx="579.3" cy="364.9" r="5.00" fill="#ee5868"/>
<text x="579.3" y="364.3" style="font-size:3.1px">snRNP</text>
<text x="579.3" y="367.7" style="font-size:3.1px">70K</text>
<circle cx="590.0" cy="361.1" r="5.00" fill="#9661d7"/>
<text x="590.0" y="360.5" style="font-size:3.1px">U2A</text>
<text x="590.0" y="363.9" style="font-size:3.1px">F38</text>
<circle cx="600.8" cy="361.6" r="5.00" fill="#665ffa"/>
<text x="600.8" y="361.0" style="font-size:3.1px">CG</text>
<text x="600.8" y="364.4" style="font-size:3.1px">5931</text>
<circle cx="616.0" cy="366.0" r="5.00" fill="#9661d7"/>
<text x="616.0" y="365.4" style="font-size:3.1px">CG</text>
<text x="616.0" y="368.8" style="font-size:3.1px">5931</text>
<circle cx="504.9" cy="375.5" r="5.00" fill="#9661d7"/>
<text x="504.9" y="374.9" style="font-size:3.1px">U2A</text>
<text x="504.9" y="378.3" style="font-size:3.1px">F38</text>
<circle cx="515.4" cy="377.8" r="5.00" fill="#665ffa"/>
<text x="515.4" y="377.2" style="font-size:3.1px">snRNP</text>
<text x="515.4" y="380.6" style="font-size:3.1px">70K</text>
<circle cx="535.3" cy="375.3" r="5.00" fill="#c25dac"/>
<text x="535.3" y="374.7" style="font-size:3.1px">U2A</text>
<text x="535.3" y="378.1" style="font-size:3.1px">F38</text>
<circle cx="549.9" cy="374.5" r="5.00" fill="#9661d7"/>
<text x="549.9" y="373.9" style="font-size:3.1px">Cbp</text>
<text x="549.9" y="377.3" style="font-size:3.1px">80</text>
<circle cx="571.4" cy="372.7" r="5.00" fill="#ee5868"/>
<text x="571.4" y="372.1" style="font-size:3.1px">CG</text>
<text x="571.4" y="375.5" style="font-size:3.1px">5931</text>
<circle cx="588.4" cy="371.5" r="5.00" fill="#da5a8a"/>
<text x="588.4" y="370.9" style="font-size:3.1px">snRNP</text>
<text x="588.4" y="374.3" style="font-size:3.1px">70K</text>
<circle cx="612.2" cy="375.9" r="5.00" fill="#c25dac"/>
<text x="612.2" y="375.3" style="font-size:3.1px">snRNP</text>
<text x="612.2" y="378.7" style="font-size:3.1px">70K</text>
<circle cx="511.2" cy="387.3" r="5.00" fill="#da5a8a"/>
<text x="511.2" y="386.7" style="font-size:3.1px">Prp</text>
<text x="511.2" y="390.1" style="font-size:3.1px">8</text>
<circle cx="523.5" cy="386.3" r="5.00" fill="#665ffa"/>
<text x="523.5" y="385.7" style="font-size:3.1px">Cbp</text>
<text x="523.5" y="389.1" style="font-size:3.1px">80</text>
<circle cx="541.4" cy="386.9" r="5.00" fill="#9661d7"/>
<text x="541.4" y="386.3" style="font-size:3.1px">snRNP</text>
<text x="541.4" y="389.7" style="font-size:3.1px">70K</text>
<circle cx="553.3" cy="383.8" r="5.00" fill="#ee5868"/>
<text x="553.3" y="383.2" style="font-size:3.1px">CG</text>
<text x="553.3" y="386.6" style="font-size:3.1px">5931</text>
<circle cx="564.7" cy="381.6" r="5.00" fill="#da5a8a"/>
<text x="564.7" y="381.0" style="font-size:3.1px">CG</text>
<text x="564.7" y="384.4" style="font-size:3.1px">5931</text>
<circle cx="577.6" cy="380.2" r="5.00" fill="#9661d7"/>
<text x="577.6" y="379.6" style="font-size:3.1px">Cbp</text>
<text x="577.6" y="383.0" style="font-size:3.1px">80</text>
<circle cx="589.4" cy="383.5" r="5.00" fill="#c25dac"/>
<text x="589.4" y="382.9" style="font-size:3.1px">CG</text>
<text x="589.4" y="386.3" style="font-size:3.1px">5931</text>
<circle cx="602.1" cy="379.3" r="5.00" fill="#c25dac"/>
<text x="602.1" y="378.7" style="font-size:3.1px">U2A</text>
<text x="602.1" y="382.1" style="font-size:3.1px">F38</text>
<circle cx="607.4" cy="389.2" r="5.00" fill="#665ffa"/>
<text x="607.4" y="388.6" style="font-size:3.1px">CG</text>
<text x="607.4" y="392.0" style="font-size:3.1px">5931</text>
<circle cx="593.6" cy="392.6" r="5.00" fill="#9661d7"/>
<text x="593.6" y="392.0" style="font-size:3.1px">snRNP</text>
<text x="593.6" y="395.4" style="font-size:3.1px">70K</text>
<circle cx="514.1" cy="399.0" r="5.00" fill="#c25dac"/>
<text x="514.1" y="398.4" style="font-size:3.1px">U2A</text>
<text x="514.1" y="401.8" style="font-size:3.1px">F38</text>
<circle cx="524.9" cy="399.0" r="5.00" fill="#9661d7"/>
<text x="524.9" y="398.4" style="font-size:3.1px">CG</text>
<text x="524.9" y="401.8" style="font-size:3.1px">5931</text>
<circle cx="535.7" cy="400.5" r="5.00" fill="#9661d7"/>
<text x="535.7" y="399.9" style="font-size:3.1px">CG</text>
<text x="535.7" y="403.3" style="font-size:3.1px">5931</text>
<circle cx="550.1" cy="399.6" r="5.00" fill="#9661d7"/>
<text x="550.1" y="399.0" style="font-size:3.1px">CG</text>
<text x="550.1" y="402.4" style="font-size:3.1px">5931</text>
<circle cx="563.2" cy="396.4" r="5.00" fill="#c25dac"/>
<text x="563.2" y="395.8" style="font-size:3.1px">Prp</text>
<text x="563.2" y="399.2" style="font-size:3.1px">8</text>
<circle cx="578.0" cy="395.4" r="5.00" fill="#9661d7"/>
<text x="578.0" y="394.8" style="font-size:3.1px">Prp</text>
<text x="578.0" y="398.2" style="font-size:3.1px">8</text>
<circle cx="585.6" cy="402.8" r="5.00" fill="#c25dac"/>
<text x="585.6" y="402.2" style="font-size:3.1px">CG</text>
<text x="585.6" y="405.6" style="font-size:3.1px">5931</text>
<circle cx="596.4" cy="405.9" r="5.00" fill="#9661d7"/>
<text x="596.4" y="405.3" style="font-size:3.1px">U2A</text>
<text x="596.4" y="408.7" style="font-size:3.1px">F38</text>
<circle cx="605.0" cy="400.9" r="5.00" fill="#c25dac"/>
<text x="605.0" y="400.3" style="font-size:3.1px">U2A</text>
<text x="605.0" y="403.7" style="font-size:3.1px">F38</text>
<circle cx="524.5" cy="409.1" r="5.00" fill="#9661d7"/>
<text x="524.5" y="408.5" style="font-size:3.1px">U2A</text>
<text x="524.5" y="411.9" style="font-size:3.1px">F38</text>
<circle cx="543.5" cy="407.2" r="5.00" fill="#c25dac"/>
<text x="543.5" y="406.6" style="font-size:3.1px">U2A</text>
<text x="543.5" y="410.0" style="font-size:3.1px">F38</text>
<circle cx="560.5" cy="406.6" r="5.00" fill="#9661d7"/>
<text x="560.5" y="406.0" style="font-size:3.1px">CG</text>
<text x="560.5" y="409.4" style="font-size:3.1px">5931</text>
<circle cx="571.4" cy="407.2" r="5.00" fill="#c25dac"/>
<text x="571.4" y="406.6" style="font-size:3.1px">Cbp</text>
<text x="571.4" y="410.0" style="font-size:3.1px">80</text>
<circle cx="582.4" cy="412.3" r="5.00" fill="#9661d7"/>
<text x="582.4" y="411.7" style="font-size:3.1px">Prp</text>
<text x="582.4" y="415.1" style="font-size:3.1px">8</text>
<circle cx="540.1" cy="416.7" r="5.00" fill="#ee5868"/>
<text x="540.1" y="416.1" style="font-size:3.1px">snRNP</text>
<text x="540.1" y="419.5" style="font-size:3.1px">70K</text>
<circle cx="551.4" cy="414.8" r="5.00" fill="#c25dac"/>
<text x="551.4" y="414.2" style="font-size:3.1px">snRNP</text>
<text x="551.4" y="417.6" style="font-size:3.1px">70K</text>
<circle cx="558.7" cy="421.8" r="5.00" fill="#9661d7"/>
<text x="558.7" y="421.2" style="font-size:3.1px">CG</text>
<text x="558.7" y="424.6" style="font-size:3.1px">5931</text>
<circle cx="568.9" cy="420.1" r="5.00" fill="#9661d7"/>
<text x="568.9" y="419.5" style="font-size:3.1px">snRNP</text>
<text x="568.9" y="422.9" style="font-size:3.1px">70K</text>
<circle cx="565.8" cy="440.2" r="5.45" fill="#665ffa"/>
<text x="565.8" y="439.6" style="font-size:3.2px">RpS</text>
<text x="565.8" y="443.1" style="font-size:3.2px">3A</text>
<circle cx="550.7" cy="444.4" r="5.45" fill="#665ffa"/>
<text x="550.7" y="443.8" style="font-size:3.2px">RpL</text>
<text x="550.7" y="447.3" style="font-size:3.2px">19a</text>
<circle cx="538.3" cy="446.7" r="5.45" fill="#9661d7"/>
<text x="538.3" y="446.1" style="font-size:3.2px">RpL</text>
<text x="538.3" y="449.6" style="font-size:3.2px">19a</text>
<circle cx="526.6" cy="452.6" r="5.45" fill="#9661d7"/>
<text x="526.6" y="452.0" style="font-size:3.2px">RpS</text>
<text x="526.6" y="455.5" style="font-size:3.2px">27</text>
<circle cx="577.1" cy="449.1" r="5.45" fill="#9661d7"/>
<text x="577.1" y="448.5" style="font-size:3.2px">RpS</text>
<text x="577.1" y="452.0" style="font-size:3.2px">3A</text>
<circle cx="589.2" cy="447.9" r="5.45" fill="#665ffa"/>
<text x="589.2" y="447.3" style="font-size:3.2px">RpL</text>
<text x="589.2" y="450.8" style="font-size:3.2px">14</text>
<circle cx="600.9" cy="456.5" r="5.45" fill="#9661d7"/>
<text x="600.9" y="455.9" style="font-size:3.2px">RpL</text>
<text x="600.9" y="459.4" style="font-size:3.2px">19a</text>
<circle cx="544.1" cy="457.2" r="5.45" fill="#9661d7"/>
<text x="544.1" y="456.6" style="font-size:3.2px">RpS</text>
<text x="544.1" y="460.1" style="font-size:3.2px">3A</text>
<circle cx="555.8" cy="455.4" r="5.45" fill="#9661d7"/>
<text x="555.8" y="454.8" style="font-size:3.2px">RpL</text>
<text x="555.8" y="458.3" style="font-size:3.2px">19a</text>
<circle cx="568.6" cy="459.6" r="5.45" fill="#c25dac"/>
<text x="568.6" y="459.0" style="font-size:3.2px">RpS</text>
<text x="568.6" y="462.5" style="font-size:3.2px">3A</text>
<circle cx="589.2" cy="459.6" r="5.45" fill="#665ffa"/>
<text x="589.2" y="459.0" style="font-size:3.2px">RpS</text>
<text x="589.2" y="462.5" style="font-size:3.2px">27</text>
<circle cx="522.6" cy="463.1" r="5.45" fill="#9661d7"/>
<text x="522.6" y="462.5" style="font-size:3.2px">RpL</text>
<text x="522.6" y="466.0" style="font-size:3.2px">14</text>
<circle cx="534.8" cy="468.9" r="5.45" fill="#c25dac"/>
<text x="534.8" y="468.3" style="font-size:3.2px">RpS</text>
<text x="534.8" y="471.8" style="font-size:3.2px">27</text>
<circle cx="555.3" cy="469.4" r="5.45" fill="#9661d7"/>
<text x="555.3" y="468.8" style="font-size:3.2px">RpS</text>
<text x="555.3" y="472.3" style="font-size:3.2px">3A</text>
<circle cx="565.8" cy="472.9" r="5.45" fill="#ac5fc6"/>
<text x="565.8" y="472.3" style="font-size:3.2px">RpL</text>
<text x="565.8" y="475.8" style="font-size:3.2px">19a</text>
<circle cx="584.5" cy="470.1" r="5.45" fill="#c25dac"/>
<text x="584.5" y="469.5" style="font-size:3.2px">RpS</text>
<text x="584.5" y="473.0" style="font-size:3.2px">27</text>
<circle cx="598.5" cy="467.3" r="5.45" fill="#9661d7"/>
<text x="598.5" y="466.7" style="font-size:3.2px">RpL</text>
<text x="598.5" y="470.2" style="font-size:3.2px">19a</text>
<circle cx="607.9" cy="473.6" r="5.45" fill="#c25dac"/>
<text x="607.9" y="473.0" style="font-size:3.2px">RpS</text>
<text x="607.9" y="476.5" style="font-size:3.2px">27</text>
<circle cx="525.7" cy="475.9" r="5.45" fill="#665ffa"/>
<text x="525.7" y="475.3" style="font-size:3.2px">RpL</text>
<text x="525.7" y="478.8" style="font-size:3.2px">14</text>
<circle cx="541.8" cy="479.4" r="5.45" fill="#665ffa"/>
<text x="541.8" y="478.8" style="font-size:3.2px">RpS</text>
<text x="541.8" y="482.3" style="font-size:3.2px">27</text>
<circle cx="555.8" cy="481.3" r="5.45" fill="#9661d7"/>
<text x="555.8" y="480.7" style="font-size:3.2px">RpL</text>
<text x="555.8" y="484.2" style="font-size:3.2px">14</text>
<circle cx="576.4" cy="477.1" r="5.45" fill="#665ffa"/>
<text x="576.4" y="476.5" style="font-size:3.2px">RpL</text>
<text x="576.4" y="480.0" style="font-size:3.2px">19a</text>
<circle cx="509.1" cy="477.6" r="5.45" fill="#9661d7"/>
<text x="509.1" y="477.0" style="font-size:3.2px">RpS</text>
<text x="509.1" y="480.5" style="font-size:3.2px">3A</text>
<circle cx="567.7" cy="486.0" r="5.45" fill="#c25dac"/>
<text x="567.7" y="485.4" style="font-size:3.2px">RpL</text>
<text x="567.7" y="488.9" style="font-size:3.2px">14</text>
<circle cx="579.9" cy="488.3" r="5.45" fill="#665ffa"/>
<text x="579.9" y="487.7" style="font-size:3.2px">RpL</text>
<text x="579.9" y="491.2" style="font-size:3.2px">14</text>
<circle cx="595.0" cy="486.4" r="5.45" fill="#9661d7"/>
<text x="595.0" y="485.8" style="font-size:3.2px">RpL</text>
<text x="595.0" y="489.3" style="font-size:3.2px">14</text>
<circle cx="606.3" cy="487.6" r="5.45" fill="#9661d7"/>
<text x="606.3" y="487.0" style="font-size:3.2px">RpS</text>
<text x="606.3" y="490.5" style="font-size:3.2px">27</text>
<circle cx="527.3" cy="486.9" r="5.45" fill="#7c60eb"/>
<text x="527.3" y="486.3" style="font-size:3.2px">RpL</text>
<text x="527.3" y="489.8" style="font-size:3.2px">14</text>
<circle cx="513.3" cy="491.6" r="5.45" fill="#665ffa"/>
<text x="513.3" y="491.0" style="font-size:3.2px">RpS</text>
<text x="513.3" y="494.5" style="font-size:3.2px">3A</text>
<circle cx="546.7" cy="490.7" r="5.45" fill="#9661d7"/>
<text x="546.7" y="490.1" style="font-size:3.2px">RpS</text>
<text x="546.7" y="493.6" style="font-size:3.2px">3A</text>
<circle cx="616.5" cy="493.9" r="5.45" fill="#9661d7"/>
<text x="616.5" y="493.3" style="font-size:3.2px">RpL</text>
<text x="616.5" y="496.8" style="font-size:3.2px">14</text>
<circle cx="523.8" cy="497.7" r="5.45" fill="#9661d7"/>
<text x="523.8" y="497.1" style="font-size:3.2px">RpS</text>
<text x="523.8" y="500.6" style="font-size:3.2px">3A</text>
<circle cx="560.0" cy="496.3" r="5.45" fill="#cf5c9c"/>
<text x="560.0" y="495.7" style="font-size:3.2px">RpS</text>
<text x="560.0" y="499.2" style="font-size:3.2px">27</text>
<circle cx="573.5" cy="497.4" r="5.45" fill="#9661d7"/>
<text x="573.5" y="496.8" style="font-size:3.2px">RpL</text>
<text x="573.5" y="500.3" style="font-size:3.2px">19a</text>
<circle cx="586.9" cy="498.6" r="5.45" fill="#9661d7"/>
<text x="586.9" y="498.0" style="font-size:3.2px">RpS</text>
<text x="586.9" y="501.5" style="font-size:3.2px">27</text>
<circle cx="600.2" cy="497.0" r="5.45" fill="#7c60eb"/>
<text x="600.2" y="496.4" style="font-size:3.2px">RpL</text>
<text x="600.2" y="499.9" style="font-size:3.2px">14</text>
<circle cx="510.9" cy="503.5" r="5.45" fill="#9661d7"/>
<text x="510.9" y="502.9" style="font-size:3.2px">RpS</text>
<text x="510.9" y="506.4" style="font-size:3.2px">27</text>
<circle cx="534.3" cy="503.5" r="5.45" fill="#7c60eb"/>
<text x="534.3" y="502.9" style="font-size:3.2px">RpL</text>
<text x="534.3" y="506.4" style="font-size:3.2px">14</text>
<circle cx="524.5" cy="508.6" r="5.45" fill="#ac5fc6"/>
<text x="524.5" y="508.0" style="font-size:3.2px">RpS</text>
<text x="524.5" y="511.5" style="font-size:3.2px">3A</text>
<circle cx="543.2" cy="509.3" r="5.45" fill="#da5a8a"/>
<text x="543.2" y="508.7" style="font-size:3.2px">RpS</text>
<text x="543.2" y="512.2" style="font-size:3.2px">3A</text>
<circle cx="555.8" cy="508.2" r="5.45" fill="#e45a7a"/>
<text x="555.8" y="507.6" style="font-size:3.2px">RpS</text>
<text x="555.8" y="511.1" style="font-size:3.2px">3A</text>
<circle cx="571.0" cy="509.8" r="5.45" fill="#7c60eb"/>
<text x="571.0" y="509.2" style="font-size:3.2px">RpS</text>
<text x="571.0" y="512.7" style="font-size:3.2px">3A</text>
<circle cx="582.9" cy="508.6" r="5.45" fill="#9661d7"/>
<text x="582.9" y="508.0" style="font-size:3.2px">RpS</text>
<text x="582.9" y="511.5" style="font-size:3.2px">3A</text>
<circle cx="595.0" cy="507.5" r="5.45" fill="#665ffa"/>
<text x="595.0" y="506.9" style="font-size:3.2px">RpL</text>
<text x="595.0" y="510.4" style="font-size:3.2px">14</text>
<circle cx="614.9" cy="509.3" r="5.45" fill="#ee5868"/>
<text x="614.9" y="508.7" style="font-size:3.2px">RpL</text>
<text x="614.9" y="512.2" style="font-size:3.2px">14</text>
<circle cx="604.4" cy="515.7" r="5.45" fill="#9661d7"/>
<text x="604.4" y="515.1" style="font-size:3.2px">RpS</text>
<text x="604.4" y="518.6" style="font-size:3.2px">27</text>
<circle cx="510.5" cy="522.7" r="5.45" fill="#9661d7"/>
<text x="510.5" y="522.1" style="font-size:3.2px">RpL</text>
<text x="510.5" y="525.6" style="font-size:3.2px">19a</text>
<circle cx="524.5" cy="521.5" r="5.45" fill="#c25dac"/>
<text x="524.5" y="520.9" style="font-size:3.2px">RpL</text>
<text x="524.5" y="524.4" style="font-size:3.2px">19a</text>
<circle cx="539.0" cy="520.3" r="5.45" fill="#9661d7"/>
<text x="539.0" y="519.7" style="font-size:3.2px">RpL</text>
<text x="539.0" y="523.2" style="font-size:3.2px">19a</text>
<circle cx="553.5" cy="522.7" r="5.45" fill="#cf5c9c"/>
<text x="553.5" y="522.1" style="font-size:3.2px">RpS</text>
<text x="553.5" y="525.6" style="font-size:3.2px">3A</text>
<circle cx="565.4" cy="526.2" r="5.45" fill="#9661d7"/>
<text x="565.4" y="525.6" style="font-size:3.2px">RpL</text>
<text x="565.4" y="529.1" style="font-size:3.2px">19a</text>
<circle cx="580.3" cy="519.2" r="5.45" fill="#665ffa"/>
<text x="580.3" y="518.6" style="font-size:3.2px">RpL</text>
<text x="580.3" y="522.1" style="font-size:3.2px">14</text>
<circle cx="593.9" cy="518.7" r="5.45" fill="#7c60eb"/>
<text x="593.9" y="518.1" style="font-size:3.2px">RpL</text>
<text x="593.9" y="521.6" style="font-size:3.2px">19a</text>
<circle cx="604.4" cy="531.3" r="5.45" fill="#665ffa"/>
<text x="604.4" y="530.7" style="font-size:3.2px">RpS</text>
<text x="604.4" y="534.2" style="font-size:3.2px">27</text>
<circle cx="589.2" cy="529.7" r="5.45" fill="#c25dac"/>
<text x="589.2" y="529.1" style="font-size:3.2px">RpL</text>
<text x="589.2" y="532.6" style="font-size:3.2px">19a</text>
<circle cx="522.1" cy="532.7" r="5.45" fill="#665ffa"/>
<text x="522.1" y="532.1" style="font-size:3.2px">RpL</text>
<text x="522.1" y="535.6" style="font-size:3.2px">19a</text>
<circle cx="534.3" cy="536.7" r="5.45" fill="#9661d7"/>
<text x="534.3" y="536.1" style="font-size:3.2px">RpL</text>
<text x="534.3" y="539.6" style="font-size:3.2px">19a</text>
<circle cx="546.0" cy="532.0" r="5.45" fill="#9661d7"/>
<text x="546.0" y="531.4" style="font-size:3.2px">RpS</text>
<text x="546.0" y="534.9" style="font-size:3.2px">27</text>
<circle cx="556.5" cy="541.4" r="5.45" fill="#9661d7"/>
<text x="556.5" y="540.8" style="font-size:3.2px">RpL</text>
<text x="556.5" y="544.3" style="font-size:3.2px">14</text>
<circle cx="567.5" cy="537.9" r="5.45" fill="#9661d7"/>
<text x="567.5" y="537.3" style="font-size:3.2px">RpS</text>
<text x="567.5" y="540.8" style="font-size:3.2px">3A</text>
<circle cx="578.2" cy="535.5" r="5.45" fill="#9661d7"/>
<text x="578.2" y="534.9" style="font-size:3.2px">RpS</text>
<text x="578.2" y="538.4" style="font-size:3.2px">3A</text>
<circle cx="586.9" cy="542.5" r="5.45" fill="#7c60eb"/>
<text x="586.9" y="541.9" style="font-size:3.2px">RpL</text>
<text x="586.9" y="545.4" style="font-size:3.2px">14</text>
<circle cx="540.6" cy="549.5" r="5.45" fill="#9661d7"/>
<text x="540.6" y="548.9" style="font-size:3.2px">RpL</text>
<text x="540.6" y="552.4" style="font-size:3.2px">14</text>
<circle cx="552.3" cy="552.6" r="5.45" fill="#7c60eb"/>
<text x="552.3" y="552.0" style="font-size:3.2px">RpS</text>
<text x="552.3" y="555.5" style="font-size:3.2px">27</text>
<circle cx="565.1" cy="551.9" r="5.45" fill="#665ffa"/>
<text x="565.1" y="551.3" style="font-size:3.2px">RpS</text>
<text x="565.1" y="554.8" style="font-size:3.2px">3A</text>
<circle cx="576.4" cy="547.9" r="5.45" fill="#9661d7"/>
<text x="576.4" y="547.3" style="font-size:3.2px">RpL</text>
<text x="576.4" y="550.8" style="font-size:3.2px">14</text>
<circle cx="539.0" cy="578.7" r="8.75" fill="#c25dac"/>
<text x="539.0" y="578.0" style="font-size:3.6px">Rpt</text>
<text x="539.0" y="581.9" style="font-size:3.6px">4</text>
<circle cx="556.5" cy="581.7" r="8.75" fill="#7c60eb"/>
<text x="556.5" y="581.0" style="font-size:3.6px">Rpt</text>
<text x="556.5" y="584.9" style="font-size:3.6px">4</text>
<circle cx="575.7" cy="575.9" r="8.75" fill="#9661d7"/>
<text x="575.7" y="573.2" style="font-size:3.6px">Pros</text>
<text x="575.7" y="577.2" style="font-size:3.6px">alpha</text>
<text x="575.7" y="581.1" style="font-size:3.6px">3</text>
<circle cx="523.8" cy="589.2" r="8.75" fill="#7c60eb"/>
<text x="523.8" y="586.5" style="font-size:3.6px">Pros</text>
<text x="523.8" y="590.5" style="font-size:3.6px">alpha</text>
<text x="523.8" y="594.4" style="font-size:3.6px">3</text>
<circle cx="581.7" cy="592.2" r="8.75" fill="#9661d7"/>
<text x="581.7" y="589.5" style="font-size:3.6px">Pros</text>
<text x="581.7" y="593.5" style="font-size:3.6px">alpha</text>
<text x="581.7" y="597.4" style="font-size:3.6px">3</text>
<circle cx="602.5" cy="595.0" r="8.75" fill="#665ffa"/>
<text x="602.5" y="592.3" style="font-size:3.6px">Pros</text>
<text x="602.5" y="596.3" style="font-size:3.6px">alpha</text>
<text x="602.5" y="600.2" style="font-size:3.6px">3</text>
<circle cx="511.6" cy="605.6" r="8.75" fill="#9661d7"/>
<text x="511.6" y="602.9" style="font-size:3.6px">Pros</text>
<text x="511.6" y="606.9" style="font-size:3.6px">alpha</text>
<text x="511.6" y="610.8" style="font-size:3.6px">3</text>
<circle cx="536.2" cy="607.4" r="8.75" fill="#9661d7"/>
<text x="536.2" y="604.7" style="font-size:3.6px">Pros</text>
<text x="536.2" y="608.7" style="font-size:3.6px">alpha</text>
<text x="536.2" y="612.6" style="font-size:3.6px">3</text>
<circle cx="557.0" cy="602.8" r="8.75" fill="#ac5fc6"/>
<text x="557.0" y="602.1" style="font-size:3.6px">Rpn</text>
<text x="557.0" y="606.0" style="font-size:3.6px">11</text>
<circle cx="578.7" cy="609.5" r="8.75" fill="#7c60eb"/>
<text x="578.7" y="606.8" style="font-size:3.6px">Pros</text>
<text x="578.7" y="610.8" style="font-size:3.6px">alpha</text>
<text x="578.7" y="614.7" style="font-size:3.6px">3</text>
<circle cx="598.1" cy="613.3" r="8.75" fill="#ac5fc6"/>
<text x="598.1" y="612.6" style="font-size:3.6px">Rpt</text>
<text x="598.1" y="616.5" style="font-size:3.6px">4</text>
<circle cx="515.6" cy="622.4" r="8.75" fill="#665ffa"/>
<text x="515.6" y="621.7" style="font-size:3.6px">Rpn</text>
<text x="515.6" y="625.6" style="font-size:3.6px">11</text>
<circle cx="544.8" cy="622.6" r="8.75" fill="#665ffa"/>
<text x="544.8" y="619.9" style="font-size:3.6px">Pro</text>
<text x="544.8" y="623.9" style="font-size:3.6px">sbe</text>
<text x="544.8" y="627.8" style="font-size:3.6px">ta5</text>
<circle cx="567.7" cy="625.4" r="8.75" fill="#665ffa"/>
<text x="567.7" y="622.7" style="font-size:3.6px">Pros</text>
<text x="567.7" y="626.7" style="font-size:3.6px">alpha</text>
<text x="567.7" y="630.6" style="font-size:3.6px">3</text>
<circle cx="535.0" cy="637.6" r="8.75" fill="#9661d7"/>
<text x="535.0" y="636.9" style="font-size:3.6px">Rpn</text>
<text x="535.0" y="640.8" style="font-size:3.6px">11</text>
<circle cx="554.9" cy="639.4" r="8.75" fill="#9661d7"/>
<text x="554.9" y="638.7" style="font-size:3.6px">Rpt</text>
<text x="554.9" y="642.6" style="font-size:3.6px">4</text>
<circle cx="611.4" cy="637.1" r="8.75" fill="#ac5fc6"/>
<text x="611.4" y="634.4" style="font-size:3.6px">Pros</text>
<text x="611.4" y="638.4" style="font-size:3.6px">alpha</text>
<text x="611.4" y="642.3" style="font-size:3.6px">3</text>
<circle cx="592.7" cy="641.1" r="8.75" fill="#cf5c9c"/>
<text x="592.7" y="640.4" style="font-size:3.6px">Rpn</text>
<text x="592.7" y="644.3" style="font-size:3.6px">11</text>
<circle cx="514.0" cy="645.3" r="8.75" fill="#9661d7"/>
<text x="514.0" y="644.6" style="font-size:3.6px">Rpt</text>
<text x="514.0" y="648.5" style="font-size:3.6px">4</text>
<circle cx="571.0" cy="650.7" r="8.75" fill="#ac5fc6"/>
<text x="571.0" y="648.0" style="font-size:3.6px">Pro</text>
<text x="571.0" y="652.0" style="font-size:3.6px">sbe</text>
<text x="571.0" y="655.9" style="font-size:3.6px">ta5</text>
<circle cx="528.9" cy="655.8" r="8.75" fill="#7c60eb"/>
<text x="528.9" y="653.1" style="font-size:3.6px">Pro</text>
<text x="528.9" y="657.1" style="font-size:3.6px">sbe</text>
<text x="528.9" y="661.0" style="font-size:3.6px">ta5</text>
<circle cx="605.6" cy="654.6" r="8.75" fill="#9661d7"/>
<text x="605.6" y="651.9" style="font-size:3.6px">Pros</text>
<text x="605.6" y="655.9" style="font-size:3.6px">alpha</text>
<text x="605.6" y="659.8" style="font-size:3.6px">3</text>
<circle cx="555.3" cy="661.6" r="8.75" fill="#665ffa"/>
<text x="555.3" y="660.9" style="font-size:3.6px">Rpt</text>
<text x="555.3" y="664.8" style="font-size:3.6px">4</text>
<circle cx="588.0" cy="666.3" r="8.75" fill="#9661d7"/>
<text x="588.0" y="665.6" style="font-size:3.6px">Rpt</text>
<text x="588.0" y="669.5" style="font-size:3.6px">4</text>
<circle cx="543.6" cy="678.0" r="8.75" fill="#9661d7"/>
<text x="543.6" y="675.3" style="font-size:3.6px">Pros</text>
<text x="543.6" y="679.3" style="font-size:3.6px">alpha</text>
<text x="543.6" y="683.2" style="font-size:3.6px">3</text>
<circle cx="572.4" cy="676.8" r="8.75" fill="#665ffa"/>
<text x="572.4" y="674.1" style="font-size:3.6px">Pro</text>
<text x="572.4" y="678.1" style="font-size:3.6px">sbe</text>
<text x="572.4" y="682.0" style="font-size:3.6px">ta5</text>
</g>
<path d="M61.0,331.0 64.0,329.0 66.0,334.0 68.0,340.0 70.0,345.0 66.0,346.0 62.0,341.0Z" fill="#dfe9ea"/>
<path d="M45.1,337.8 48.0,335.4 51.5,333.7 55.0,334.8 59.1,333.7 60.3,338.4 59.7,341.9 64.4,348.9 69.0,353.5 72.0,357.0 80.7,357.0 86.6,353.5 91.2,355.9 93.6,361.7 91.2,368.7 90.1,374.6 93.0,378.0 93.6,385.0 91.8,390.9 87.7,394.4 81.9,393.2 77.2,392.1 71.4,394.4 66.7,396.7 59.7,396.7 57.4,392.1 52.7,388.6 46.9,387.4 42.2,385.1 41.0,378.1 43.4,372.2 46.9,366.4 50.4,360.5 52.1,355.9 49.2,348.9 46.3,343.0Z" fill="#a9c3c5"/>
<path d="M42.0,379.0 47.0,373.0 54.0,372.0 57.0,378.0 52.0,385.0 45.0,385.0Z" fill="#9bb6b8"/>
<path d="M72.0,383.0 80.0,380.0 88.0,381.0 92.0,386.0 88.0,392.0 78.0,391.0Z" fill="#9bb6b8"/>
<path d="M56.0,386.0 62.0,383.0 70.0,386.0 68.0,393.0 60.0,393.0Z" fill="#9ab4b7"/>
<path d="M48.0,340.0 53.0,337.0 57.0,342.0 54.0,348.0Z" fill="#b6cdcf"/>
<path d="M60.8,338.4 63.0,337.5 67.0,340.0 71.0,343.0 72.5,346.0 72.0,349.4 69.0,350.0 65.0,348.0 61.5,344.0Z" fill="#fbfcfc"/>
<path d="M60.3,331.5 63.5,331.0 64.5,336.0 63.8,339.5 61.0,339.0Z" fill="#cddbdc"/>
<path d="M64.0,327.8 66.7,327.5 69.6,327.8 70.8,326.1 73.1,325.2 75.1,326.1 76.0,327.8 78.4,328.1 80.7,329.0 84.2,330.2 86.2,331.9 86.5,335.4 85.4,338.4 83.0,340.7 81.9,343.0 81.3,346.5 79.5,348.3 75.4,347.7 72.5,345.9 71.4,342.4 70.2,341.3 66.7,338.9 64.9,336.6 64.3,333.7Z" fill="#45abad"/>
<path d="M74.3,348.3 81.3,347.7 82.4,352.4 80.7,354.7 77.2,357.0 75.4,360.5 72.5,360.5 71.9,356.5 73.1,352.4Z" fill="#3a9e78"/>
<path d="M78.4,354.7 82.4,352.4 84.8,354.7 85.4,358.2 83.6,360.0 80.7,359.4 78.4,357.0Z" fill="#52bb9a"/>
<path d="M72.6,356.0 74.5,355.5 74.5,358.0 72.8,358.5Z" fill="#a83cb8"/>
<path d="M59.7,341.9 62.6,341.3 65.5,343.0 68.4,345.4 69.0,347.7 66.1,349.4 62.6,347.1 60.3,345.4Z" fill="#6a70c0"/>
<path d="M66.7,351.0 69.5,350.6 70.8,352.5 68.5,353.5 66.9,353.0Z" fill="#5a90cc"/>
<path d="M31.7,357.0 36.4,359.4 39.9,364.0 43.4,365.2 42.8,373.4 41.6,380.4 40.4,387.4 36.4,389.7 32.8,388.6 29.3,382.7 23.5,381.6 22.3,376.9 25.8,371.0 27.0,364.0 29.3,359.4Z" fill="#6b5ca1"/>
<path d="M58.5,400.3 60.9,396.7 66.7,396.7 70.2,395.6 72.0,399.1 70.2,403.8 66.7,406.1 62.0,407.3 59.7,404.9Z" fill="#b23a9e"/>
<path d="M64.4,396.5 70.2,395.6 72.0,399.1 71.0,403.0 66.0,402.0Z" fill="#a1295c"/>
<path d="M45.7,343.0 49.0,343.5 50.4,347.7 47.0,347.0Z" fill="#5a6cc8"/>
<path d="M76.0,364.0 82.0,364.5 81.0,367.5 76.5,367.0Z" fill="#5a7ad0"/>
<path d="M85.4,361.7 89.0,362.0 89.0,366.4 85.5,366.0Z" fill="#7a6ed0"/>
<path d="M57.4,392.0 60.9,393.0 60.9,398.0 57.5,397.0Z" fill="#4a8ac8"/>
<path d="M44.5,343 L56.2,359.4" stroke="#a040b8" stroke-width="1.6"/>
<path d="M44.5,363.5 48.0,362.9 51.5,365.0 50.5,368.7 46.0,368.0Z" fill="#9a3cb8"/>
<path d="M64.4,359.4 67.0,359.5 69.0,363.0 66.5,364.0Z" fill="#b040b0"/>
<path d="M59.7,376.5 63.0,375.7 69.0,381.0 67.0,385.0 61.0,381.0Z" fill="#9a3cb8"/>
<path d="M55.0,376.9 58.5,377.5 58.0,380.4 55.2,380.0Z" fill="#9a3cb8"/>
<text x="53.8" y="375.4" class="ptxt" text-anchor="middle" textLength="86.8" lengthAdjust="spacingAndGlyphs">Spliceosome</text>
<path d="M25.0,509.9 29.7,508.7 41.4,509.9 44.9,512.2 53.0,511.1 62.4,509.9 72.9,509.3 83.4,509.9 90.4,511.1 92.7,515.7 94.5,520.4 93.9,525.1 90.4,529.7 83.4,532.1 76.4,534.4 69.4,536.8 62.4,536.8 55.4,535.6 48.4,535.6 41.4,534.4 34.4,533.2 28.5,530.9 25.0,527.4 23.8,522.7 24.4,516.9Z" fill="#4f80b6"/>
<ellipse cx="30" cy="515" rx="4" ry="3" fill="#62b4d0"/>
<ellipse cx="40" cy="520" rx="5" ry="3.5" fill="#4271a8"/>
<ellipse cx="55" cy="516" rx="4" ry="3" fill="#66bcd2"/>
<ellipse cx="63" cy="522" rx="6" ry="4" fill="#3f6ca4"/>
<ellipse cx="78" cy="515" rx="4" ry="2.5" fill="#5cb0cc"/>
<ellipse cx="86" cy="522" rx="5" ry="4" fill="#4674ab"/>
<ellipse cx="32" cy="528" rx="4" ry="3" fill="#5aaacb"/>
<ellipse cx="47" cy="530" rx="5" ry="3" fill="#4a7bb4"/>
<ellipse cx="70" cy="531" rx="5" ry="3" fill="#58a4c8"/>
<ellipse cx="84" cy="530" rx="4" ry="2.5" fill="#3e6aa2"/>
<ellipse cx="58" cy="529" rx="3" ry="2.5" fill="#6bc2d6"/>
<ellipse cx="26" cy="521" rx="2.5" ry="3" fill="#4677ae"/>
<path d="M23.3,484.2 25.0,480.7 30.8,479.5 36.7,478.4 41.4,477.2 42.5,472.5 47.2,470.2 48.4,466.1 53.0,463.2 57.7,461.4 64.7,462.0 69.4,463.2 75.2,466.1 78.7,471.4 81.1,477.2 85.7,479.5 88.1,483.0 89.2,488.9 90.4,494.7 89.2,499.4 88.1,503.0 84.0,507.0 70.0,509.0 56.0,511.0 50.0,514.0 44.0,512.0 36.0,508.0 28.0,504.0 25.0,499.4 23.3,495.9 22.7,490.0Z" fill="#6cb87f"/>
<ellipse cx="31" cy="486" rx="8" ry="5" fill="#b2e6a0"/>
<ellipse cx="40" cy="488" rx="4" ry="4" fill="#98d88f"/>
<ellipse cx="56" cy="468" rx="6" ry="5" fill="#8fd08f"/>
<ellipse cx="62" cy="478" rx="5" ry="7" fill="#92d291"/>
<ellipse cx="58" cy="492" rx="6" ry="4" fill="#8cce8d"/>
<ellipse cx="74" cy="485" rx="5" ry="7" fill="#90d090"/>
<ellipse cx="70" cy="470" rx="4" ry="4" fill="#5aa273"/>
<ellipse cx="49" cy="478" rx="4" ry="5" fill="#5aa273"/>
<ellipse cx="82" cy="490" rx="4" ry="6" fill="#5da675"/>
<ellipse cx="66" cy="500" rx="6" ry="4" fill="#62ac78"/>
<ellipse cx="48" cy="500" rx="5" ry="4" fill="#64ae79"/>
<ellipse cx="50" cy="509" rx="5" ry="3" fill="#6fbb82"/>
<ellipse cx="35" cy="496" rx="5" ry="3" fill="#7cc486"/>
<ellipse cx="85" cy="500" rx="3" ry="3" fill="#5aa273"/>
<text x="59.3" y="509.4" class="ptxt" text-anchor="middle" textLength="70.5" lengthAdjust="spacingAndGlyphs">Ribosome</text>
<ellipse cx="41.8" cy="605.1" rx="5.4" ry="4.5" fill="#4aa6d2" stroke="#28507a" stroke-width="0.3"/>
<ellipse cx="45.7" cy="599.2" rx="5.4" ry="4.5" fill="#4fb3dc" stroke="#28507a" stroke-width="0.3"/>
<ellipse cx="52.5" cy="595.3" rx="5.4" ry="4.5" fill="#5cc3e8" stroke="#28507a" stroke-width="0.3"/>
<path d="M35.5,612 Q36,606 44,605 L72,605 Q80.5,606 81.5,612 L81.5,652 Q80,657 72,658 L44,658 Q36,657 35.5,652 Z" fill="#34618f"/>
<ellipse cx="44.0" cy="608.5" rx="5.4" ry="4.5" fill="#2d5680" stroke="#28507a" stroke-width="0.3"/>
<ellipse cx="51.6" cy="608.5" rx="5.4" ry="4.5" fill="#2d5680" stroke="#28507a" stroke-width="0.3"/>
<ellipse cx="61.4" cy="608.5" rx="5.4" ry="4.5" fill="#2d5680" stroke="#28507a" stroke-width="0.3"/>
<ellipse cx="71.2" cy="608.5" rx="5.4" ry="4.5" fill="#2d5680" stroke="#28507a" stroke-width="0.3"/>
<ellipse cx="39.8" cy="612.0" rx="5.4" ry="4.5" fill="#3c83b3" stroke="#28507a" stroke-width="0.3"/>
<ellipse cx="77.0" cy="612.0" rx="5.4" ry="4.5" fill="#3b7fb0" stroke="#28507a" stroke-width="0.3"/>
<ellipse cx="38.8" cy="617.4" rx="5.4" ry="4.5" fill="#3a6a9e" stroke="#28507a" stroke-width="0.3"/>
<ellipse cx="78.0" cy="617.4" rx="5.4" ry="4.5" fill="#3a6a9e" stroke="#28507a" stroke-width="0.3"/>
<ellipse cx="47.6" cy="615.4" rx="5.4" ry="4.5" fill="#4aa9d2" stroke="#28507a" stroke-width="0.3"/>
<ellipse cx="67.7" cy="615.4" rx="5.4" ry="4.5" fill="#4cb0d6" stroke="#28507a" stroke-width="0.3"/>
<ellipse cx="58.0" cy="616.5" rx="5.4" ry="4.5" fill="#56bde0" stroke="#28507a" stroke-width="0.3"/>
<ellipse cx="38.8" cy="621.8" rx="5.4" ry="4.5" fill="#2f5288" stroke="#28507a" stroke-width="0.3"/>
<ellipse cx="78.0" cy="621.8" rx="5.4" ry="4.5" fill="#2f5288" stroke="#28507a" stroke-width="0.3"/>
<ellipse cx="46.7" cy="622.7" rx="5.4" ry="4.5" fill="#4a6fb2" stroke="#28507a" stroke-width="0.3"/>
<ellipse cx="67.3" cy="622.7" rx="5.4" ry="4.5" fill="#5172b5" stroke="#28507a" stroke-width="0.3"/>
<ellipse cx="57.5" cy="623.8" rx="5.4" ry="4.5" fill="#6f8fd0" stroke="#28507a" stroke-width="0.3"/>
<path d="M36.4,628 Q36,626 40,625.5 L77,625.5 Q81,626 80.6,628 L80.6,640 Q81,642 77,642.5 L40,642.5 Q36,642 36.4,640 Z" fill="#e27e82"/>
<ellipse cx="40.0" cy="629.0" rx="5.4" ry="4.6" fill="#e07a7e" stroke="#28507a" stroke-width="0.3"/>
<ellipse cx="47.0" cy="629.5" rx="5.4" ry="4.6" fill="#ec9294" stroke="#28507a" stroke-width="0.3"/>
<ellipse cx="57.5" cy="630.0" rx="5.4" ry="4.6" fill="#f3a6a6" stroke="#28507a" stroke-width="0.3"/>
<ellipse cx="68.0" cy="629.5" rx="5.4" ry="4.6" fill="#ec9294" stroke="#28507a" stroke-width="0.3"/>
<ellipse cx="77.0" cy="629.0" rx="5.4" ry="4.6" fill="#e07a7e" stroke="#28507a" stroke-width="0.3"/>
<ellipse cx="40.0" cy="637.0" rx="5.4" ry="4.6" fill="#e27e82" stroke="#28507a" stroke-width="0.3"/>
<ellipse cx="47.0" cy="637.5" rx="5.4" ry="4.6" fill="#ee9a9a" stroke="#28507a" stroke-width="0.3"/>
<ellipse cx="57.5" cy="638.0" rx="5.4" ry="4.6" fill="#f6b2b0" stroke="#28507a" stroke-width="0.3"/>
<ellipse cx="68.0" cy="637.5" rx="5.4" ry="4.6" fill="#ee9a9a" stroke="#28507a" stroke-width="0.3"/>
<ellipse cx="77.0" cy="637.0" rx="5.4" ry="4.6" fill="#e27e82" stroke="#28507a" stroke-width="0.3"/>
<ellipse cx="38.8" cy="642.8" rx="5.4" ry="4.5" fill="#2f5288" stroke="#28507a" stroke-width="0.3"/>
<ellipse cx="78.0" cy="642.8" rx="5.4" ry="4.5" fill="#2f5288" stroke="#28507a" stroke-width="0.3"/>
<ellipse cx="46.7" cy="645.8" rx="5.4" ry="4.5" fill="#4a6fb2" stroke="#28507a" stroke-width="0.3"/>
<ellipse cx="67.3" cy="645.8" rx="5.4" ry="4.5" fill="#4a6fb2" stroke="#28507a" stroke-width="0.3"/>
<ellipse cx="57.5" cy="647.7" rx="5.4" ry="4.5" fill="#6f8fd0" stroke="#28507a" stroke-width="0.3"/>
<ellipse cx="39.8" cy="651.7" rx="5.4" ry="4.5" fill="#3a80b0" stroke="#28507a" stroke-width="0.3"/>
<ellipse cx="76.0" cy="651.7" rx="5.4" ry="4.5" fill="#3a80b0" stroke="#28507a" stroke-width="0.3"/>
<ellipse cx="47.6" cy="654.6" rx="5.4" ry="4.5" fill="#49a8d0" stroke="#28507a" stroke-width="0.3"/>
<ellipse cx="67.7" cy="654.6" rx="5.4" ry="4.5" fill="#49a8d0" stroke="#28507a" stroke-width="0.3"/>
<ellipse cx="58.0" cy="656.6" rx="5.4" ry="4.5" fill="#54bade" stroke="#28507a" stroke-width="0.3"/>
<ellipse cx="76.0" cy="657.5" rx="5.4" ry="4.5" fill="#4aa6d2" stroke="#28507a" stroke-width="0.3"/>
<ellipse cx="71.2" cy="662.5" rx="5.4" ry="4.5" fill="#50b4dc" stroke="#28507a" stroke-width="0.3"/>
<ellipse cx="63.3" cy="667.4" rx="5.4" ry="4.5" fill="#5cc3e8" stroke="#28507a" stroke-width="0.3"/>
<text x="56.0" y="640.2" class="ptxt" text-anchor="middle" textLength="80.0" lengthAdjust="spacingAndGlyphs">Proteasome</text>
<defs><linearGradient id="cb" x1="0" y1="0" x2="0" y2="1"><stop offset="0" stop-color="#ff1010"/><stop offset="0.5" stop-color="#8a0a8a"/><stop offset="1" stop-color="#1a08ff"/></linearGradient></defs>
<rect x="634.2" y="452.5" width="7" height="103.4" fill="url(#cb)"/>
<path d="M639.4,455.6 H642.9" stroke="#000" stroke-width="1"/>
<text x="647.5" y="462.2" class="t14">0</text>
<path d="M639.4,476.7 H642.9" stroke="#000" stroke-width="1"/>
<text x="647.5" y="482.0" class="t14">-5</text>
<path d="M639.4,497.7 H642.9" stroke="#000" stroke-width="1"/>
<text x="647.5" y="503.0" class="t14">-10</text>
<path d="M639.4,518.8 H642.9" stroke="#000" stroke-width="1"/>
<text x="647.5" y="524.1" class="t14">-15</text>
<path d="M639.4,539.9 H642.9" stroke="#000" stroke-width="1"/>
<text x="647.5" y="545.2" class="t14">-20</text>
<text transform="translate(684,502.7) rotate(-90)" class="t14" text-anchor="middle">MLE Z-score</text>
<text x="1" y="715.9" class="lbl">C.</text>
<path d="M243.3,713.5 H258.7" stroke="#2f9542" stroke-width="2.6"/>
<text x="263.3" y="718.3" class="hb" fill="#2f9542">v.1</text>
<path d="M305.3,713.5 H320.4" stroke="#d82ef5" stroke-width="2.6"/>
<text x="325.3" y="718.3" class="hb" fill="#d82ef5">v.2, IntAC</text>
<path d="M401.7,713.5 H418.5" stroke="#a2a2a2" stroke-width="2.6"/>
<text x="422.7" y="718.3" class="hb" fill="#a2a2a2">RNAi</text>
<path d="M82.4,732.5 V874.2 M79.4,871.2 H228.7 M97.0,732.5 V874.2 M79.4,857.3 H228.7 M111.7,732.5 V874.2 M79.4,843.5 H228.7 M126.3,732.5 V874.2 M79.4,829.6 H228.7 M140.9,732.5 V874.2 M79.4,815.7 H228.7 M155.6,732.5 V874.2 M79.4,801.9 H228.7 M170.2,732.5 V874.2 M79.4,788.0 H228.7 M184.8,732.5 V874.2 M79.4,774.1 H228.7 M199.4,732.5 V874.2 M79.4,760.2 H228.7 M214.1,732.5 V874.2 M79.4,746.4 H228.7 M228.7,732.5 V874.2 M79.4,732.5 H228.7" stroke="#d9d9d9" stroke-width="1.2" fill="none"/>
<text x="72.1" y="874.8" class="t13" text-anchor="end">0</text>
<text transform="translate(86.3,878) rotate(-90)" class="t13" style="font-size:13.9px" text-anchor="end">0</text>
<text x="72.1" y="860.9" class="t13" text-anchor="end">0.1</text>
<text transform="translate(100.9,878) rotate(-90)" class="t13" style="font-size:13.9px" text-anchor="end">0.1</text>
<text x="72.1" y="847.1" class="t13" text-anchor="end">0.2</text>
<text transform="translate(115.6,878) rotate(-90)" class="t13" style="font-size:13.9px" text-anchor="end">0.2</text>
<text x="72.1" y="833.2" class="t13" text-anchor="end">0.3</text>
<text transform="translate(130.2,878) rotate(-90)" class="t13" style="font-size:13.9px" text-anchor="end">0.3</text>
<text x="72.1" y="819.3" class="t13" text-anchor="end">0.4</text>
<text transform="translate(144.8,878) rotate(-90)" class="t13" style="font-size:13.9px" text-anchor="end">0.4</text>
<text x="72.1" y="805.5" class="t13" text-anchor="end">0.5</text>
<text transform="translate(159.5,878) rotate(-90)" class="t13" style="font-size:13.9px" text-anchor="end">0.5</text>
<text x="72.1" y="791.6" class="t13" text-anchor="end">0.6</text>
<text transform="translate(174.1,878) rotate(-90)" class="t13" style="font-size:13.9px" text-anchor="end">0.6</text>
<text x="72.1" y="777.7" class="t13" text-anchor="end">0.7</text>
<text transform="translate(188.7,878) rotate(-90)" class="t13" style="font-size:13.9px" text-anchor="end">0.7</text>
<text x="72.1" y="763.8" class="t13" text-anchor="end">0.8</text>
<text transform="translate(203.3,878) rotate(-90)" class="t13" style="font-size:13.9px" text-anchor="end">0.8</text>
<text x="72.1" y="750.0" class="t13" text-anchor="end">0.9</text>
<text transform="translate(218.0,878) rotate(-90)" class="t13" style="font-size:13.9px" text-anchor="end">0.9</text>
<text x="72.1" y="736.1" class="t13" text-anchor="end">1</text>
<text transform="translate(232.6,878) rotate(-90)" class="t13" style="font-size:13.9px" text-anchor="end">1</text>
<text x="155.2" y="913.6" class="t14" text-anchor="middle">False-positive rate</text>
<text transform="translate(39.6,803.9) rotate(-90)" class="t14" style="font-size:14.3px" text-anchor="middle">True-positive rate</text>
<path d="M84.4,871.2 L84.4,867.7 L85.0,867.7 L85.0,863.3 L85.5,863.3 L85.5,858.9 L88.8,858.9 L88.8,855.7 L93.3,855.7 L93.3,851.7 L97.8,851.7 L97.8,847.8 L101.4,847.8 L101.4,846.0 L105.1,846.0 L105.1,844.2 L108.7,844.2 L108.7,842.4 L112.7,842.4 L112.7,839.5 L116.6,839.5 L116.6,836.7 L118.2,836.7 L118.2,833.4 L119.9,833.4 L119.9,830.1 L122.1,830.1 L122.1,825.7 L124.4,825.7 L124.4,821.3 L126.1,821.3 L126.1,816.8 L127.8,816.8 L127.8,812.3 L128.3,812.3 L128.3,808.4 L128.8,808.4 L128.8,804.6 L133.2,804.6 L133.2,803.4 L137.7,803.4 L137.7,802.3 L141.0,802.3 L141.0,800.4 L144.4,800.4 L144.4,798.5 L147.7,798.5 L147.7,796.5 L151.0,796.5 L151.0,794.6 L154.3,794.6 L154.3,793.5 L157.7,793.5 L157.7,792.3 L161.0,792.3 L161.0,791.2 L164.3,791.2 L164.3,790.1 L168.0,790.1 L168.0,788.7 L171.7,788.7 L171.7,787.4 L175.4,787.4 L175.4,786.0 L179.3,786.0 L179.3,785.7 L183.2,785.7 L183.2,785.3 L187.1,785.3 L187.1,785.0 L191.0,785.0 L191.0,784.7 L193.1,784.7 L193.1,781.3 L195.3,781.3 L195.3,777.9 L199.8,777.9 L199.8,776.3 L204.3,776.3 L204.3,774.7 L208.7,774.7 L208.7,769.0 L214.1,769.0 L214.1,767.9 L214.7,767.9 L214.7,764.6 L215.3,764.6 L215.3,761.3 L215.9,761.3 L215.9,758.0 L216.6,758.0 L216.6,754.7 L217.5,754.7 L217.5,750.3 L218.5,750.3 L218.5,745.8 L219.7,745.8 L219.7,741.4 L220.9,741.4 L220.9,736.9 L222.0,736.9 L222.0,732.5 L228.7,732.5" stroke="#a9a9a9" stroke-width="1.2" fill="none"/>
<path d="M82.7,871.2 L82.7,857.3 L82.8,857.3 L82.8,855.2 L82.9,855.2 L82.9,853.1 L83.0,853.1 L83.0,851.0 L83.1,851.0 L83.1,848.8 L83.2,848.8 L83.2,846.7 L83.4,846.7 L83.4,844.6 L83.5,844.6 L83.5,842.5 L83.6,842.5 L83.6,840.3 L83.7,840.3 L83.7,838.2 L83.8,838.2 L83.8,836.1 L83.9,836.1 L83.9,834.0 L84.0,834.0 L84.0,831.8 L84.1,831.8 L84.1,829.7 L84.2,829.7 L84.2,827.6 L84.3,827.6 L84.3,825.5 L84.4,825.5 L84.4,823.3 L86.8,823.3 L86.8,821.3 L88.4,821.3 L88.4,819.2 L90.0,819.2 L90.0,817.1 L91.1,817.1 L91.1,814.9 L92.2,814.9 L92.2,812.7 L93.3,812.7 L93.3,810.4 L94.5,810.4 L94.5,808.2 L95.6,808.2 L95.6,806.0 L97.8,806.0 L97.8,804.4 L100.0,804.4 L100.0,802.8 L102.2,802.8 L102.2,801.2 L104.4,801.2 L104.4,799.9 L106.6,799.9 L106.6,798.7 L108.8,798.7 L108.8,797.4 L111.0,797.4 L111.0,796.2 L113.3,796.2 L113.3,794.9 L115.5,794.9 L115.5,793.8 L117.7,793.8 L117.7,792.7 L119.9,792.7 L119.9,791.6 L122.2,791.6 L122.2,790.5 L124.4,790.5 L124.4,789.4 L126.6,789.4 L126.6,788.4 L128.8,788.4 L128.8,787.5 L131.1,787.5 L131.1,786.5 L133.3,786.5 L133.3,785.6 L135.5,785.6 L135.5,784.7 L137.7,784.7 L137.7,783.7 L140.0,783.7 L140.0,782.8 L142.2,782.8 L142.2,781.9 L144.4,781.9 L144.4,781.0 L146.6,781.0 L146.6,780.1 L148.8,780.1 L148.8,778.9 L151.1,778.9 L151.1,777.7 L153.3,777.7 L153.3,776.5 L155.5,776.5 L155.5,775.3 L157.7,775.3 L157.7,774.1 L159.9,774.1 L159.9,773.1 L162.1,773.1 L162.1,772.1 L164.3,772.1 L164.3,771.0 L166.5,771.0 L166.5,770.0 L168.7,770.0 L168.7,769.0 L170.9,769.0 L170.9,767.9 L173.2,767.9 L173.2,766.8 L175.4,766.8 L175.4,765.6 L177.6,765.6 L177.6,764.5 L179.8,764.5 L179.8,763.4 L182.1,763.4 L182.1,761.8 L184.3,761.8 L184.3,760.1 L186.5,760.1 L186.5,758.4 L188.8,758.4 L188.8,756.8 L190.9,756.8 L190.9,756.1 L193.0,756.1 L193.0,755.4 L195.2,755.4 L195.2,754.8 L197.3,754.8 L197.3,754.1 L199.4,754.1 L199.4,753.4 L201.7,753.4 L201.7,752.7 L204.0,752.7 L204.0,752.0 L206.2,752.0 L206.2,751.3 L208.5,751.3 L208.5,750.6 L210.8,750.6 L210.8,749.9 L213.0,749.9 L213.0,749.1 L215.8,749.1 L215.8,748.0 L218.5,748.0 L218.5,746.9 L219.6,746.9 L219.6,744.3 L220.8,744.3 L220.8,741.7 L222.0,741.7 L222.0,739.2 L224.6,739.2 L224.6,736.5 L227.2,736.5 L227.2,733.9 L228.7,732.5" stroke="#379a45" stroke-width="1.2" fill="none"/>
<path d="M82.7,871.2 L82.7,829.6 L82.7,829.6 L82.7,827.6 L82.7,827.6 L82.7,825.5 L82.7,825.5 L82.7,823.5 L82.8,823.5 L82.8,821.5 L82.8,821.5 L82.8,819.4 L82.8,819.4 L82.8,817.4 L82.8,817.4 L82.8,815.4 L82.8,815.4 L82.8,813.3 L82.8,813.3 L82.8,811.3 L82.8,811.3 L82.8,809.2 L82.9,809.2 L82.9,807.2 L82.9,807.2 L82.9,805.2 L82.9,805.2 L82.9,803.1 L82.9,803.1 L82.9,801.1 L82.9,801.1 L82.9,799.1 L82.9,799.1 L82.9,797.0 L82.9,797.0 L82.9,795.0 L83.0,795.0 L83.0,793.0 L83.0,793.0 L83.0,790.9 L83.0,790.9 L83.0,788.9 L83.0,788.9 L83.0,786.9 L83.0,786.9 L83.0,784.8 L83.0,784.8 L83.0,782.8 L83.0,782.8 L83.0,780.8 L83.1,780.8 L83.1,778.7 L83.1,778.7 L83.1,776.7 L83.1,776.7 L83.1,774.7 L83.1,774.7 L83.1,772.6 L83.1,772.6 L83.1,770.6 L83.1,770.6 L83.1,768.6 L83.4,768.6 L83.4,766.3 L83.6,766.3 L83.6,763.9 L83.8,763.9 L83.8,761.6 L84.0,761.6 L84.0,759.3 L84.2,759.3 L84.2,757.0 L84.4,757.0 L84.4,754.7 L86.1,754.7 L86.1,751.9 L87.8,751.9 L87.8,749.1 L90.0,749.1 L90.0,748.8 L92.2,748.8 L92.2,748.5 L94.4,748.5 L94.4,748.1 L96.6,748.1 L96.6,747.8 L99.4,747.8 L99.4,745.7 L102.2,745.7 L102.2,743.6 L104.4,743.6 L104.4,743.2 L106.6,743.2 L106.6,742.9 L108.8,742.9 L108.8,742.6 L111.1,742.6 L111.1,742.2 L113.3,742.2 L113.3,741.9 L115.5,741.9 L115.5,741.5 L117.7,741.5 L117.7,741.2 L120.0,741.2 L120.0,740.8 L122.2,740.8 L122.2,740.5 L124.4,740.5 L124.4,740.1 L177.5,740.1 L180.1,740.1 L180.1,739.0 L182.8,739.0 L182.8,737.8 L185.4,737.8 L185.4,736.7 L213.0,736.7 L215.3,736.7 L215.3,736.2 L217.5,736.2 L217.5,735.7 L219.7,735.7 L219.7,735.2 L222.0,735.2 L222.0,734.7 L224.2,734.7 L224.2,734.0 L226.5,734.0 L226.5,733.2 L228.7,733.2 L228.7,732.5" stroke="#d82ef5" stroke-width="1.4" fill="none"/>
<path d="M301.5,732.5 V874.2 M298.5,871.2 H447.5 M316.1,732.5 V874.2 M298.5,857.3 H447.5 M330.7,732.5 V874.2 M298.5,843.5 H447.5 M345.3,732.5 V874.2 M298.5,829.6 H447.5 M359.9,732.5 V874.2 M298.5,815.7 H447.5 M374.5,732.5 V874.2 M298.5,801.9 H447.5 M389.1,732.5 V874.2 M298.5,788.0 H447.5 M403.7,732.5 V874.2 M298.5,774.1 H447.5 M418.3,732.5 V874.2 M298.5,760.2 H447.5 M432.9,732.5 V874.2 M298.5,746.4 H447.5 M447.5,732.5 V874.2 M298.5,732.5 H447.5" stroke="#d9d9d9" stroke-width="1.2" fill="none"/>
<text x="291.2" y="874.8" class="t13" text-anchor="end">0</text>
<text transform="translate(305.4,878) rotate(-90)" class="t13" style="font-size:13.9px" text-anchor="end">0</text>
<text x="291.2" y="860.9" class="t13" text-anchor="end">0.1</text>
<text transform="translate(320.0,878) rotate(-90)" class="t13" style="font-size:13.9px" text-anchor="end">0.1</text>
<text x="291.2" y="847.1" class="t13" text-anchor="end">0.2</text>
<text transform="translate(334.6,878) rotate(-90)" class="t13" style="font-size:13.9px" text-anchor="end">0.2</text>
<text x="291.2" y="833.2" class="t13" text-anchor="end">0.3</text>
<text transform="translate(349.2,878) rotate(-90)" class="t13" style="font-size:13.9px" text-anchor="end">0.3</text>
<text x="291.2" y="819.3" class="t13" text-anchor="end">0.4</text>
<text transform="translate(363.8,878) rotate(-90)" class="t13" style="font-size:13.9px" text-anchor="end">0.4</text>
<text x="291.2" y="805.5" class="t13" text-anchor="end">0.5</text>
<text transform="translate(378.4,878) rotate(-90)" class="t13" style="font-size:13.9px" text-anchor="end">0.5</text>
<text x="291.2" y="791.6" class="t13" text-anchor="end">0.6</text>
<text transform="translate(393.0,878) rotate(-90)" class="t13" style="font-size:13.9px" text-anchor="end">0.6</text>
<text x="291.2" y="777.7" class="t13" text-anchor="end">0.7</text>
<text transform="translate(407.6,878) rotate(-90)" class="t13" style="font-size:13.9px" text-anchor="end">0.7</text>
<text x="291.2" y="763.8" class="t13" text-anchor="end">0.8</text>
<text transform="translate(422.2,878) rotate(-90)" class="t13" style="font-size:13.9px" text-anchor="end">0.8</text>
<text x="291.2" y="750.0" class="t13" text-anchor="end">0.9</text>
<text transform="translate(436.8,878) rotate(-90)" class="t13" style="font-size:13.9px" text-anchor="end">0.9</text>
<text x="291.2" y="736.1" class="t13" text-anchor="end">1</text>
<text transform="translate(451.4,878) rotate(-90)" class="t13" style="font-size:13.9px" text-anchor="end">1</text>
<text x="374.1" y="913.6" class="t14" text-anchor="middle">False-positive rate</text>
<text transform="translate(262.5,803.9) rotate(-90)" class="t14" style="font-size:14.3px" text-anchor="middle">True-positive rate</text>
<path d="M304.4,816.8 L304.7,816.8 L304.7,812.9 L305.0,812.9 L305.0,809.0 L305.3,809.0 L305.3,805.1 L305.6,805.1 L305.6,801.2 L305.0,801.2 L305.0,796.8 L304.4,796.8 L304.4,792.4 L305.0,792.4 L305.0,789.1 L305.6,789.1 L305.6,785.8 L307.3,785.8 L307.3,781.3 L308.9,781.3 L308.9,776.9 L314.5,776.9 L314.5,772.4 L317.9,772.4 L317.9,770.7 L321.2,770.7 L321.2,769.0 L324.5,769.0 L324.5,766.8 L327.8,766.8 L327.8,764.7 L332.2,764.7 L332.2,761.9 L336.7,761.9 L336.7,759.1 L339.5,759.1 L339.5,755.7 L342.2,755.7 L342.2,752.3 L345.6,752.3 L345.6,746.9 L346.8,745.3 L403.3,745.3 L405.5,742.3 L409.0,742.3 L409.0,741.9 L412.6,741.9 L412.6,741.5 L416.1,741.5 L416.1,741.0 L419.7,741.0 L419.7,740.6 L423.3,740.6 L423.3,740.1 L427.6,740.1 L427.6,738.5 L432.0,738.5 L432.0,736.9 L436.6,736.9 L436.6,733.5 L440.2,733.5 L440.2,733.1 L443.9,733.1 L443.9,732.8 L447.5,732.8 L447.5,732.5" stroke="#a9a9a9" stroke-width="1.2" fill="none"/>
<path d="M303.0,871.2 L303.0,794.6 L303.3,794.6 L303.3,792.4 L303.7,792.4 L303.7,790.2 L304.1,790.2 L304.1,788.0 L304.4,788.0 L304.4,785.8 L305.6,785.8 L305.6,783.5 L306.8,783.5 L306.8,781.2 L307.9,781.2 L307.9,779.0 L310.7,779.0 L310.7,776.8 L313.5,776.8 L313.5,774.7 L316.1,774.7 L316.1,774.3 L318.6,774.3 L318.6,773.9 L321.2,773.9 L321.2,773.6 L323.0,773.6 L323.0,771.5 L324.8,771.5 L324.8,769.5 L326.6,769.5 L326.6,767.5 L328.3,767.5 L328.3,765.5 L330.1,765.5 L330.1,763.4 L332.3,763.4 L332.3,762.1 L334.5,762.1 L334.5,760.8 L336.8,760.8 L336.8,759.5 L339.0,759.5 L339.0,758.3 L341.2,758.3 L341.2,757.0 L343.4,757.0 L343.4,755.7 L345.6,755.7 L345.6,755.2 L347.8,755.2 L347.8,754.7 L350.0,754.7 L350.0,754.2 L352.2,754.2 L352.2,753.8 L354.5,753.8 L354.5,753.3 L356.7,753.3 L356.7,752.8 L358.9,752.8 L358.9,752.3 L361.1,752.3 L361.1,752.1 L363.3,752.1 L363.3,751.8 L365.6,751.8 L365.6,751.6 L367.8,751.6 L367.8,751.3 L370.0,751.3 L370.0,751.0 L372.2,751.0 L372.2,750.8 L374.5,750.8 L374.5,750.5 L376.7,750.5 L376.7,750.3 L378.9,750.3 L378.9,749.6 L381.1,749.6 L381.1,748.9 L383.3,748.9 L383.3,748.3 L385.6,748.3 L385.6,747.6 L387.8,747.6 L387.8,746.9 L390.0,746.9 L390.0,746.8 L392.2,746.8 L392.2,746.6 L394.4,746.6 L394.4,746.4 L396.6,746.4 L396.6,746.3 L398.8,746.3 L398.8,746.1 L401.1,746.1 L401.1,746.0 L403.3,746.0 L403.3,745.8 L405.5,745.8 L405.5,745.0 L407.7,745.0 L407.7,744.2 L409.9,744.2 L409.9,743.4 L412.1,743.4 L412.1,742.6 L414.4,742.6 L414.4,741.8 L416.6,741.8 L416.6,741.5 L418.8,741.5 L418.8,741.1 L421.0,741.1 L421.0,740.8 L423.2,740.8 L423.2,740.5 L425.4,740.5 L425.4,740.1 L427.6,740.1 L427.6,739.8 L429.8,739.8 L429.8,739.5 L432.0,739.5 L432.0,739.2 L433.2,739.2 L433.2,736.3 L434.4,736.3 L434.4,733.5 L436.6,733.5 L436.6,733.3 L438.7,733.3 L438.7,733.1 L440.9,733.1 L440.9,733.0 L443.1,733.0 L443.1,732.8 L445.3,732.8 L445.3,732.7 L447.5,732.7 L447.5,732.5" stroke="#379a45" stroke-width="1.2" fill="none"/>
<path d="M301.5,871.2 L301.5,752.3 L302.0,752.3 L302.0,749.8 L302.4,749.8 L302.4,747.3 L302.9,747.3 L302.9,744.8 L303.4,744.8 L303.4,742.3 L306.8,742.3 L306.8,738.7 L308.8,738.7 L308.8,738.5 L310.8,738.5 L310.8,738.3 L312.9,738.3 L312.9,738.0 L314.9,738.0 L314.9,737.8 L317.0,737.8 L317.0,737.6 L319.0,737.6 L319.0,737.4 L321.1,737.4 L321.1,737.3 L323.1,737.3 L323.1,737.2 L325.2,737.2 L325.2,737.0 L327.3,737.0 L327.3,736.9 L329.3,736.9 L329.3,736.8 L331.4,736.8 L331.4,736.7 L333.5,736.7 L333.5,736.6 L335.5,736.6 L335.5,736.5 L337.6,736.5 L337.6,736.4 L339.7,736.4 L339.7,736.3 L341.7,736.3 L341.7,736.2 L343.8,736.2 L343.8,736.1 L345.8,736.1 L345.8,736.0 L347.9,736.0 L347.9,735.9 L350.0,735.9 L350.0,735.8 L352.0,735.8 L352.0,735.8 L354.0,735.8 L354.0,735.8 L356.0,735.8 L356.0,735.7 L358.0,735.7 L358.0,735.7 L360.0,735.7 L360.0,735.7 L362.0,735.7 L362.0,735.7 L364.0,735.7 L364.0,735.6 L366.0,735.6 L366.0,735.6 L368.0,735.6 L368.0,735.6 L370.0,735.6 L370.0,735.6 L372.0,735.6 L372.0,735.5 L374.0,735.5 L374.0,735.5 L376.0,735.5 L376.0,735.5 L378.0,735.5 L378.0,735.4 L380.0,735.4 L380.0,735.4 L382.0,735.4 L382.0,735.4 L384.0,735.4 L384.0,735.4 L386.0,735.4 L386.0,735.3 L388.0,735.3 L388.0,735.3 L390.0,735.3 L390.0,735.3 L392.0,735.3 L392.0,735.2 L394.0,735.2 L394.0,735.2 L396.0,735.2 L396.0,735.2 L398.0,735.2 L398.0,735.2 L400.0,735.2 L400.0,735.1 L402.0,735.1 L402.0,735.1 L404.0,735.1 L404.0,735.1 L406.0,735.1 L406.0,735.1 L408.0,735.1 L408.0,735.0 L410.0,735.0 L410.0,735.0 L412.0,735.0 L412.0,735.0 L414.0,735.0 L414.0,734.9 L416.0,734.9 L416.0,734.9 L418.0,734.9 L418.0,734.9 L420.0,734.9 L420.0,734.9 L422.0,734.9 L422.0,734.8 L424.0,734.8 L424.0,734.8 L426.0,734.8 L426.0,734.8 L428.0,734.8 L428.0,734.7 L430.0,734.7 L430.0,734.7 L432.9,734.7 L432.9,732.5 L447.5,732.5" stroke="#d82ef5" stroke-width="1.4" fill="none"/>
<path d="M522.5,732.5 V874.2 M519.5,871.2 H668.0 M537.0,732.5 V874.2 M519.5,857.3 H668.0 M551.6,732.5 V874.2 M519.5,843.5 H668.0 M566.1,732.5 V874.2 M519.5,829.6 H668.0 M580.7,732.5 V874.2 M519.5,815.7 H668.0 M595.2,732.5 V874.2 M519.5,801.9 H668.0 M609.8,732.5 V874.2 M519.5,788.0 H668.0 M624.4,732.5 V874.2 M519.5,774.1 H668.0 M638.9,732.5 V874.2 M519.5,760.2 H668.0 M653.5,732.5 V874.2 M519.5,746.4 H668.0 M668.0,732.5 V874.2 M519.5,732.5 H668.0" stroke="#d9d9d9" stroke-width="1.2" fill="none"/>
<text x="512.2" y="874.8" class="t13" text-anchor="end">0</text>
<text transform="translate(526.4,878) rotate(-90)" class="t13" style="font-size:13.9px" text-anchor="end">0</text>
<text x="512.2" y="860.9" class="t13" text-anchor="end">0.1</text>
<text transform="translate(540.9,878) rotate(-90)" class="t13" style="font-size:13.9px" text-anchor="end">0.1</text>
<text x="512.2" y="847.1" class="t13" text-anchor="end">0.2</text>
<text transform="translate(555.5,878) rotate(-90)" class="t13" style="font-size:13.9px" text-anchor="end">0.2</text>
<text x="512.2" y="833.2" class="t13" text-anchor="end">0.3</text>
<text transform="translate(570.0,878) rotate(-90)" class="t13" style="font-size:13.9px" text-anchor="end">0.3</text>
<text x="512.2" y="819.3" class="t13" text-anchor="end">0.4</text>
<text transform="translate(584.6,878) rotate(-90)" class="t13" style="font-size:13.9px" text-anchor="end">0.4</text>
<text x="512.2" y="805.5" class="t13" text-anchor="end">0.5</text>
<text transform="translate(599.1,878) rotate(-90)" class="t13" style="font-size:13.9px" text-anchor="end">0.5</text>
<text x="512.2" y="791.6" class="t13" text-anchor="end">0.6</text>
<text transform="translate(613.7,878) rotate(-90)" class="t13" style="font-size:13.9px" text-anchor="end">0.6</text>
<text x="512.2" y="777.7" class="t13" text-anchor="end">0.7</text>
<text transform="translate(628.2,878) rotate(-90)" class="t13" style="font-size:13.9px" text-anchor="end">0.7</text>
<text x="512.2" y="763.8" class="t13" text-anchor="end">0.8</text>
<text transform="translate(642.8,878) rotate(-90)" class="t13" style="font-size:13.9px" text-anchor="end">0.8</text>
<text x="512.2" y="750.0" class="t13" text-anchor="end">0.9</text>
<text transform="translate(657.4,878) rotate(-90)" class="t13" style="font-size:13.9px" text-anchor="end">0.9</text>
<text x="512.2" y="736.1" class="t13" text-anchor="end">1</text>
<text transform="translate(671.9,878) rotate(-90)" class="t13" style="font-size:13.9px" text-anchor="end">1</text>
<text x="594.9" y="913.6" class="t14" text-anchor="middle">False-positive rate</text>
<text transform="translate(484.2,803.9) rotate(-90)" class="t14" style="font-size:14.3px" text-anchor="middle">True-positive rate</text>
<path d="M523.4,871.2 L523.4,843.5 L523.5,843.5 L523.5,840.0 L523.6,840.0 L523.6,836.5 L523.7,836.5 L523.7,833.1 L523.8,833.1 L523.8,829.6 L523.9,829.6 L523.9,826.1 L524.1,826.1 L524.1,822.7 L524.2,822.7 L524.2,819.2 L524.3,819.2 L524.3,815.7 L524.4,815.7 L524.4,812.3 L525.2,812.3 L525.2,808.6 L525.9,808.6 L525.9,804.9 L526.7,804.9 L526.7,801.2 L528.9,800.0 L529.2,800.0 L529.2,796.5 L529.5,796.5 L529.5,792.9 L529.8,792.9 L529.8,789.3 L530.1,789.3 L530.1,785.8 L530.6,785.8 L530.6,782.4 L531.1,782.4 L531.1,779.0 L534.4,779.0 L534.4,778.8 L537.7,778.8 L537.7,778.7 L541.1,778.7 L541.1,778.6 L544.4,778.6 L544.4,778.5 L547.7,778.5 L547.7,778.3 L551.1,778.3 L551.1,778.2 L554.4,778.2 L554.4,778.1 L557.7,778.1 L557.7,778.0 L561.1,778.0 L561.1,777.9 L561.8,777.9 L561.8,774.6 L562.5,774.6 L562.5,771.3 L563.2,771.3 L563.2,768.0 L566.6,768.0 L566.6,766.5 L569.9,766.5 L569.9,765.0 L573.3,765.0 L573.3,763.4 L576.5,763.4 L576.5,763.3 L579.7,763.3 L579.7,763.2 L582.9,763.2 L582.9,763.1 L586.1,763.1 L586.1,763.0 L589.3,763.0 L589.3,762.9 L592.5,762.9 L592.5,762.8 L595.7,762.8 L595.7,762.7 L598.9,762.7 L598.9,762.6 L602.1,762.6 L602.1,762.5 L604.3,762.5 L604.3,759.1 L608.7,759.1 L608.7,757.4 L613.1,757.4 L613.1,755.7 L616.5,755.7 L616.5,754.2 L619.8,754.2 L619.8,752.7 L623.2,752.7 L623.2,751.2 L627.3,751.2 L627.3,750.2 L631.3,750.2 L631.3,749.1 L635.4,749.1 L635.4,748.0 L653.2,748.0 L653.7,748.0 L653.7,744.6 L654.2,744.6 L654.2,741.2 L658.1,741.2 L658.1,739.1 L662.0,739.1 L662.0,736.9 L668.0,736.9 L668.0,732.5" stroke="#a9a9a9" stroke-width="1.2" fill="none"/>
<path d="M523.4,871.2 L523.4,871.2 L523.4,869.2 L523.5,869.2 L523.5,867.2 L523.6,867.2 L523.6,865.2 L523.6,865.2 L523.6,863.2 L523.7,863.2 L523.7,861.1 L523.8,861.1 L523.8,859.1 L523.8,859.1 L523.8,857.1 L523.9,857.1 L523.9,855.1 L523.9,855.1 L523.9,853.1 L524.0,853.1 L524.0,851.1 L524.1,851.1 L524.1,849.1 L524.1,849.1 L524.1,847.1 L524.2,847.1 L524.2,845.1 L524.3,845.1 L524.3,843.0 L524.3,843.0 L524.3,841.0 L524.4,841.0 L524.4,839.0 L524.6,839.0 L524.6,836.8 L524.8,836.8 L524.8,834.5 L525.0,834.5 L525.0,832.3 L525.2,832.3 L525.2,830.1 L525.4,830.1 L525.4,827.8 L525.6,827.8 L525.6,825.6 L525.9,825.6 L525.9,823.5 L526.3,823.5 L526.3,821.5 L526.6,821.5 L526.6,819.5 L527.0,819.5 L527.0,817.4 L527.4,817.4 L527.4,815.4 L527.7,815.4 L527.7,813.4 L530.0,813.4 L530.0,811.2 L532.2,811.2 L532.2,809.1 L533.4,809.1 L533.4,806.8 L534.5,806.8 L534.5,804.5 L535.6,804.5 L535.6,802.3 L537.8,802.3 L537.8,800.1 L540.0,800.1 L540.0,798.0 L542.0,798.0 L542.0,797.8 L544.1,797.8 L544.1,797.7 L546.2,797.7 L546.2,797.6 L548.3,797.6 L548.3,797.4 L550.3,797.4 L550.3,797.3 L552.4,797.3 L552.4,797.1 L554.5,797.1 L554.5,797.0 L556.5,797.0 L556.5,796.9 L557.7,796.9 L557.7,793.5 L581.0,793.5 L582.1,793.5 L582.1,791.3 L583.2,791.3 L583.2,789.1 L584.3,789.1 L584.3,786.9 L586.4,786.9 L586.4,786.7 L588.5,786.7 L588.5,786.5 L590.6,786.5 L590.6,786.3 L592.7,786.3 L592.7,786.1 L594.8,786.1 L594.8,785.9 L596.9,785.9 L596.9,785.8 L599.0,785.8 L599.0,785.6 L601.2,785.6 L601.2,785.4 L603.3,785.4 L603.3,785.2 L605.4,785.2 L605.4,781.3 L606.5,781.3 L606.5,779.1 L607.6,779.1 L607.6,776.9 L608.7,776.9 L608.7,774.7 L609.8,774.7 L609.8,772.4 L611.0,772.4 L611.0,769.6 L612.1,769.6 L612.1,766.8 L614.9,766.8 L614.9,765.1 L617.7,765.1 L617.7,763.4 L619.9,763.4 L619.9,763.3 L622.1,763.3 L622.1,763.2 L624.3,763.2 L624.3,763.0 L626.5,763.0 L626.5,762.9 L628.8,762.9 L628.8,762.7 L631.0,762.7 L631.0,762.6 L633.2,762.6 L633.2,762.5 L635.4,762.5 L635.4,762.3 L637.6,762.3 L637.6,759.1 L640.4,759.1 L640.4,757.4 L643.3,757.4 L643.3,755.7 L645.4,755.7 L645.4,754.6 L647.6,754.6 L647.6,753.4 L649.8,753.4 L649.8,752.3 L652.0,752.3 L652.0,751.2 L653.7,751.2 L653.7,749.1 L655.3,749.1 L655.3,746.9 L657.6,746.9 L657.6,745.0 L659.8,745.0 L659.8,743.1 L662.0,743.1 L662.0,741.2 L663.5,741.2 L663.5,739.1 L665.0,739.1 L665.0,736.9 L666.5,736.9 L666.5,734.7 L668.0,734.7 L668.0,732.5" stroke="#379a45" stroke-width="1.2" fill="none"/>
<path d="M522.5,871.2 L522.5,763.4 L522.8,763.4 L522.8,761.4 L523.0,761.4 L523.0,759.3 L523.3,759.3 L523.3,757.3 L523.6,757.3 L523.6,755.3 L523.9,755.3 L523.9,753.2 L524.1,753.2 L524.1,751.2 L524.4,751.2 L524.4,749.1 L525.6,747.5 L531.1,747.5 L532.2,747.5 L532.2,744.0 L541.1,744.0 L541.6,744.0 L541.6,741.7 L542.1,741.7 L542.1,739.4 L602.1,739.4 L603.3,739.4 L603.3,736.4 L664.2,736.4 L667.6,736.4 L667.6,732.5 L668.0,732.5" stroke="#d82ef5" stroke-width="1.4" fill="none"/>
<g transform="translate(156,804.6) scale(0.70) translate(-23,-326)"><path d="M61.0,331.0 64.0,329.0 66.0,334.0 68.0,340.0 70.0,345.0 66.0,346.0 62.0,341.0Z" fill="#dfe9ea"/>
<path d="M45.1,337.8 48.0,335.4 51.5,333.7 55.0,334.8 59.1,333.7 60.3,338.4 59.7,341.9 64.4,348.9 69.0,353.5 72.0,357.0 80.7,357.0 86.6,353.5 91.2,355.9 93.6,361.7 91.2,368.7 90.1,374.6 93.0,378.0 93.6,385.0 91.8,390.9 87.7,394.4 81.9,393.2 77.2,392.1 71.4,394.4 66.7,396.7 59.7,396.7 57.4,392.1 52.7,388.6 46.9,387.4 42.2,385.1 41.0,378.1 43.4,372.2 46.9,366.4 50.4,360.5 52.1,355.9 49.2,348.9 46.3,343.0Z" fill="#a9c3c5"/>
<path d="M42.0,379.0 47.0,373.0 54.0,372.0 57.0,378.0 52.0,385.0 45.0,385.0Z" fill="#9bb6b8"/>
<path d="M72.0,383.0 80.0,380.0 88.0,381.0 92.0,386.0 88.0,392.0 78.0,391.0Z" fill="#9bb6b8"/>
<path d="M56.0,386.0 62.0,383.0 70.0,386.0 68.0,393.0 60.0,393.0Z" fill="#9ab4b7"/>
<path d="M48.0,340.0 53.0,337.0 57.0,342.0 54.0,348.0Z" fill="#b6cdcf"/>
<path d="M60.8,338.4 63.0,337.5 67.0,340.0 71.0,343.0 72.5,346.0 72.0,349.4 69.0,350.0 65.0,348.0 61.5,344.0Z" fill="#fbfcfc"/>
<path d="M60.3,331.5 63.5,331.0 64.5,336.0 63.8,339.5 61.0,339.0Z" fill="#cddbdc"/>
<path d="M64.0,327.8 66.7,327.5 69.6,327.8 70.8,326.1 73.1,325.2 75.1,326.1 76.0,327.8 78.4,328.1 80.7,329.0 84.2,330.2 86.2,331.9 86.5,335.4 85.4,338.4 83.0,340.7 81.9,343.0 81.3,346.5 79.5,348.3 75.4,347.7 72.5,345.9 71.4,342.4 70.2,341.3 66.7,338.9 64.9,336.6 64.3,333.7Z" fill="#45abad"/>
<path d="M74.3,348.3 81.3,347.7 82.4,352.4 80.7,354.7 77.2,357.0 75.4,360.5 72.5,360.5 71.9,356.5 73.1,352.4Z" fill="#3a9e78"/>
<path d="M78.4,354.7 82.4,352.4 84.8,354.7 85.4,358.2 83.6,360.0 80.7,359.4 78.4,357.0Z" fill="#52bb9a"/>
<path d="M72.6,356.0 74.5,355.5 74.5,358.0 72.8,358.5Z" fill="#a83cb8"/>
<path d="M59.7,341.9 62.6,341.3 65.5,343.0 68.4,345.4 69.0,347.7 66.1,349.4 62.6,347.1 60.3,345.4Z" fill="#6a70c0"/>
<path d="M66.7,351.0 69.5,350.6 70.8,352.5 68.5,353.5 66.9,353.0Z" fill="#5a90cc"/>
<path d="M31.7,357.0 36.4,359.4 39.9,364.0 43.4,365.2 42.8,373.4 41.6,380.4 40.4,387.4 36.4,389.7 32.8,388.6 29.3,382.7 23.5,381.6 22.3,376.9 25.8,371.0 27.0,364.0 29.3,359.4Z" fill="#6b5ca1"/>
<path d="M58.5,400.3 60.9,396.7 66.7,396.7 70.2,395.6 72.0,399.1 70.2,403.8 66.7,406.1 62.0,407.3 59.7,404.9Z" fill="#b23a9e"/>
<path d="M64.4,396.5 70.2,395.6 72.0,399.1 71.0,403.0 66.0,402.0Z" fill="#a1295c"/>
<path d="M45.7,343.0 49.0,343.5 50.4,347.7 47.0,347.0Z" fill="#5a6cc8"/>
<path d="M76.0,364.0 82.0,364.5 81.0,367.5 76.5,367.0Z" fill="#5a7ad0"/>
<path d="M85.4,361.7 89.0,362.0 89.0,366.4 85.5,366.0Z" fill="#7a6ed0"/>
<path d="M57.4,392.0 60.9,393.0 60.9,398.0 57.5,397.0Z" fill="#4a8ac8"/>
<path d="M44.5,343 L56.2,359.4" stroke="#a040b8" stroke-width="1.6"/>
<path d="M44.5,363.5 48.0,362.9 51.5,365.0 50.5,368.7 46.0,368.0Z" fill="#9a3cb8"/>
<path d="M64.4,359.4 67.0,359.5 69.0,363.0 66.5,364.0Z" fill="#b040b0"/>
<path d="M59.7,376.5 63.0,375.7 69.0,381.0 67.0,385.0 61.0,381.0Z" fill="#9a3cb8"/>
<path d="M55.0,376.9 58.5,377.5 58.0,380.4 55.2,380.0Z" fill="#9a3cb8"/></g>
<text x="178.0" y="837.6" class="ptxt" text-anchor="middle" textLength="86.8" lengthAdjust="spacingAndGlyphs">Spliceosome</text>
<g transform="translate(380.7,804.4) scale(0.672) translate(-22.5,-461)"><path d="M25.0,509.9 29.7,508.7 41.4,509.9 44.9,512.2 53.0,511.1 62.4,509.9 72.9,509.3 83.4,509.9 90.4,511.1 92.7,515.7 94.5,520.4 93.9,525.1 90.4,529.7 83.4,532.1 76.4,534.4 69.4,536.8 62.4,536.8 55.4,535.6 48.4,535.6 41.4,534.4 34.4,533.2 28.5,530.9 25.0,527.4 23.8,522.7 24.4,516.9Z" fill="#4f80b6"/>
<ellipse cx="30" cy="515" rx="4" ry="3" fill="#62b4d0"/>
<ellipse cx="40" cy="520" rx="5" ry="3.5" fill="#4271a8"/>
<ellipse cx="55" cy="516" rx="4" ry="3" fill="#66bcd2"/>
<ellipse cx="63" cy="522" rx="6" ry="4" fill="#3f6ca4"/>
<ellipse cx="78" cy="515" rx="4" ry="2.5" fill="#5cb0cc"/>
<ellipse cx="86" cy="522" rx="5" ry="4" fill="#4674ab"/>
<ellipse cx="32" cy="528" rx="4" ry="3" fill="#5aaacb"/>
<ellipse cx="47" cy="530" rx="5" ry="3" fill="#4a7bb4"/>
<ellipse cx="70" cy="531" rx="5" ry="3" fill="#58a4c8"/>
<ellipse cx="84" cy="530" rx="4" ry="2.5" fill="#3e6aa2"/>
<ellipse cx="58" cy="529" rx="3" ry="2.5" fill="#6bc2d6"/>
<ellipse cx="26" cy="521" rx="2.5" ry="3" fill="#4677ae"/>
<path d="M23.3,484.2 25.0,480.7 30.8,479.5 36.7,478.4 41.4,477.2 42.5,472.5 47.2,470.2 48.4,466.1 53.0,463.2 57.7,461.4 64.7,462.0 69.4,463.2 75.2,466.1 78.7,471.4 81.1,477.2 85.7,479.5 88.1,483.0 89.2,488.9 90.4,494.7 89.2,499.4 88.1,503.0 84.0,507.0 70.0,509.0 56.0,511.0 50.0,514.0 44.0,512.0 36.0,508.0 28.0,504.0 25.0,499.4 23.3,495.9 22.7,490.0Z" fill="#6cb87f"/>
<ellipse cx="31" cy="486" rx="8" ry="5" fill="#b2e6a0"/>
<ellipse cx="40" cy="488" rx="4" ry="4" fill="#98d88f"/>
<ellipse cx="56" cy="468" rx="6" ry="5" fill="#8fd08f"/>
<ellipse cx="62" cy="478" rx="5" ry="7" fill="#92d291"/>
<ellipse cx="58" cy="492" rx="6" ry="4" fill="#8cce8d"/>
<ellipse cx="74" cy="485" rx="5" ry="7" fill="#90d090"/>
<ellipse cx="70" cy="470" rx="4" ry="4" fill="#5aa273"/>
<ellipse cx="49" cy="478" rx="4" ry="5" fill="#5aa273"/>
<ellipse cx="82" cy="490" rx="4" ry="6" fill="#5da675"/>
<ellipse cx="66" cy="500" rx="6" ry="4" fill="#62ac78"/>
<ellipse cx="48" cy="500" rx="5" ry="4" fill="#64ae79"/>
<ellipse cx="50" cy="509" rx="5" ry="3" fill="#6fbb82"/>
<ellipse cx="35" cy="496" rx="5" ry="3" fill="#7cc486"/>
<ellipse cx="85" cy="500" rx="3" ry="3" fill="#5aa273"/></g>
<text x="400.5" y="838.0" class="ptxt" text-anchor="middle" textLength="68.0" lengthAdjust="spacingAndGlyphs">Ribosome</text>
<g transform="translate(608,798.7) scale(0.77) translate(-36,-590.4)"><ellipse cx="41.8" cy="605.1" rx="5.4" ry="4.5" fill="#4aa6d2" stroke="#28507a" stroke-width="0.3"/>
<ellipse cx="45.7" cy="599.2" rx="5.4" ry="4.5" fill="#4fb3dc" stroke="#28507a" stroke-width="0.3"/>
<ellipse cx="52.5" cy="595.3" rx="5.4" ry="4.5" fill="#5cc3e8" stroke="#28507a" stroke-width="0.3"/>
<path d="M35.5,612 Q36,606 44,605 L72,605 Q80.5,606 81.5,612 L81.5,652 Q80,657 72,658 L44,658 Q36,657 35.5,652 Z" fill="#34618f"/>
<ellipse cx="44.0" cy="608.5" rx="5.4" ry="4.5" fill="#2d5680" stroke="#28507a" stroke-width="0.3"/>
<ellipse cx="51.6" cy="608.5" rx="5.4" ry="4.5" fill="#2d5680" stroke="#28507a" stroke-width="0.3"/>
<ellipse cx="61.4" cy="608.5" rx="5.4" ry="4.5" fill="#2d5680" stroke="#28507a" stroke-width="0.3"/>
<ellipse cx="71.2" cy="608.5" rx="5.4" ry="4.5" fill="#2d5680" stroke="#28507a" stroke-width="0.3"/>
<ellipse cx="39.8" cy="612.0" rx="5.4" ry="4.5" fill="#3c83b3" stroke="#28507a" stroke-width="0.3"/>
<ellipse cx="77.0" cy="612.0" rx="5.4" ry="4.5" fill="#3b7fb0" stroke="#28507a" stroke-width="0.3"/>
<ellipse cx="38.8" cy="617.4" rx="5.4" ry="4.5" fill="#3a6a9e" stroke="#28507a" stroke-width="0.3"/>
<ellipse cx="78.0" cy="617.4" rx="5.4" ry="4.5" fill="#3a6a9e" stroke="#28507a" stroke-width="0.3"/>
<ellipse cx="47.6" cy="615.4" rx="5.4" ry="4.5" fill="#4aa9d2" stroke="#28507a" stroke-width="0.3"/>
<ellipse cx="67.7" cy="615.4" rx="5.4" ry="4.5" fill="#4cb0d6" stroke="#28507a" stroke-width="0.3"/>
<ellipse cx="58.0" cy="616.5" rx="5.4" ry="4.5" fill="#56bde0" stroke="#28507a" stroke-width="0.3"/>
<ellipse cx="38.8" cy="621.8" rx="5.4" ry="4.5" fill="#2f5288" stroke="#28507a" stroke-width="0.3"/>
<ellipse cx="78.0" cy="621.8" rx="5.4" ry="4.5" fill="#2f5288" stroke="#28507a" stroke-width="0.3"/>
<ellipse cx="46.7" cy="622.7" rx="5.4" ry="4.5" fill="#4a6fb2" stroke="#28507a" stroke-width="0.3"/>
<ellipse cx="67.3" cy="622.7" rx="5.4" ry="4.5" fill="#5172b5" stroke="#28507a" stroke-width="0.3"/>
<ellipse cx="57.5" cy="623.8" rx="5.4" ry="4.5" fill="#6f8fd0" stroke="#28507a" stroke-width="0.3"/>
<path d="M36.4,628 Q36,626 40,625.5 L77,625.5 Q81,626 80.6,628 L80.6,640 Q81,642 77,642.5 L40,642.5 Q36,642 36.4,640 Z" fill="#e27e82"/>
<ellipse cx="40.0" cy="629.0" rx="5.4" ry="4.6" fill="#e07a7e" stroke="#28507a" stroke-width="0.3"/>
<ellipse cx="47.0" cy="629.5" rx="5.4" ry="4.6" fill="#ec9294" stroke="#28507a" stroke-width="0.3"/>
<ellipse cx="57.5" cy="630.0" rx="5.4" ry="4.6" fill="#f3a6a6" stroke="#28507a" stroke-width="0.3"/>
<ellipse cx="68.0" cy="629.5" rx="5.4" ry="4.6" fill="#ec9294" stroke="#28507a" stroke-width="0.3"/>
<ellipse cx="77.0" cy="629.0" rx="5.4" ry="4.6" fill="#e07a7e" stroke="#28507a" stroke-width="0.3"/>
<ellipse cx="40.0" cy="637.0" rx="5.4" ry="4.6" fill="#e27e82" stroke="#28507a" stroke-width="0.3"/>
<ellipse cx="47.0" cy="637.5" rx="5.4" ry="4.6" fill="#ee9a9a" stroke="#28507a" stroke-width="0.3"/>
<ellipse cx="57.5" cy="638.0" rx="5.4" ry="4.6" fill="#f6b2b0" stroke="#28507a" stroke-width="0.3"/>
<ellipse cx="68.0" cy="637.5" rx="5.4" ry="4.6" fill="#ee9a9a" stroke="#28507a" stroke-width="0.3"/>
<ellipse cx="77.0" cy="637.0" rx="5.4" ry="4.6" fill="#e27e82" stroke="#28507a" stroke-width="0.3"/>
<ellipse cx="38.8" cy="642.8" rx="5.4" ry="4.5" fill="#2f5288" stroke="#28507a" stroke-width="0.3"/>
<ellipse cx="78.0" cy="642.8" rx="5.4" ry="4.5" fill="#2f5288" stroke="#28507a" stroke-width="0.3"/>
<ellipse cx="46.7" cy="645.8" rx="5.4" ry="4.5" fill="#4a6fb2" stroke="#28507a" stroke-width="0.3"/>
<ellipse cx="67.3" cy="645.8" rx="5.4" ry="4.5" fill="#4a6fb2" stroke="#28507a" stroke-width="0.3"/>
<ellipse cx="57.5" cy="647.7" rx="5.4" ry="4.5" fill="#6f8fd0" stroke="#28507a" stroke-width="0.3"/>
<ellipse cx="39.8" cy="651.7" rx="5.4" ry="4.5" fill="#3a80b0" stroke="#28507a" stroke-width="0.3"/>
<ellipse cx="76.0" cy="651.7" rx="5.4" ry="4.5" fill="#3a80b0" stroke="#28507a" stroke-width="0.3"/>
<ellipse cx="47.6" cy="654.6" rx="5.4" ry="4.5" fill="#49a8d0" stroke="#28507a" stroke-width="0.3"/>
<ellipse cx="67.7" cy="654.6" rx="5.4" ry="4.5" fill="#49a8d0" stroke="#28507a" stroke-width="0.3"/>
<ellipse cx="58.0" cy="656.6" rx="5.4" ry="4.5" fill="#54bade" stroke="#28507a" stroke-width="0.3"/>
<ellipse cx="76.0" cy="657.5" rx="5.4" ry="4.5" fill="#4aa6d2" stroke="#28507a" stroke-width="0.3"/>
<ellipse cx="71.2" cy="662.5" rx="5.4" ry="4.5" fill="#50b4dc" stroke="#28507a" stroke-width="0.3"/>
<ellipse cx="63.3" cy="667.4" rx="5.4" ry="4.5" fill="#5cc3e8" stroke="#28507a" stroke-width="0.3"/></g>
<text x="625.2" y="838.0" class="ptxt" text-anchor="middle" textLength="81.0" lengthAdjust="spacingAndGlyphs">Proteasome</text>
</svg></body></html>
